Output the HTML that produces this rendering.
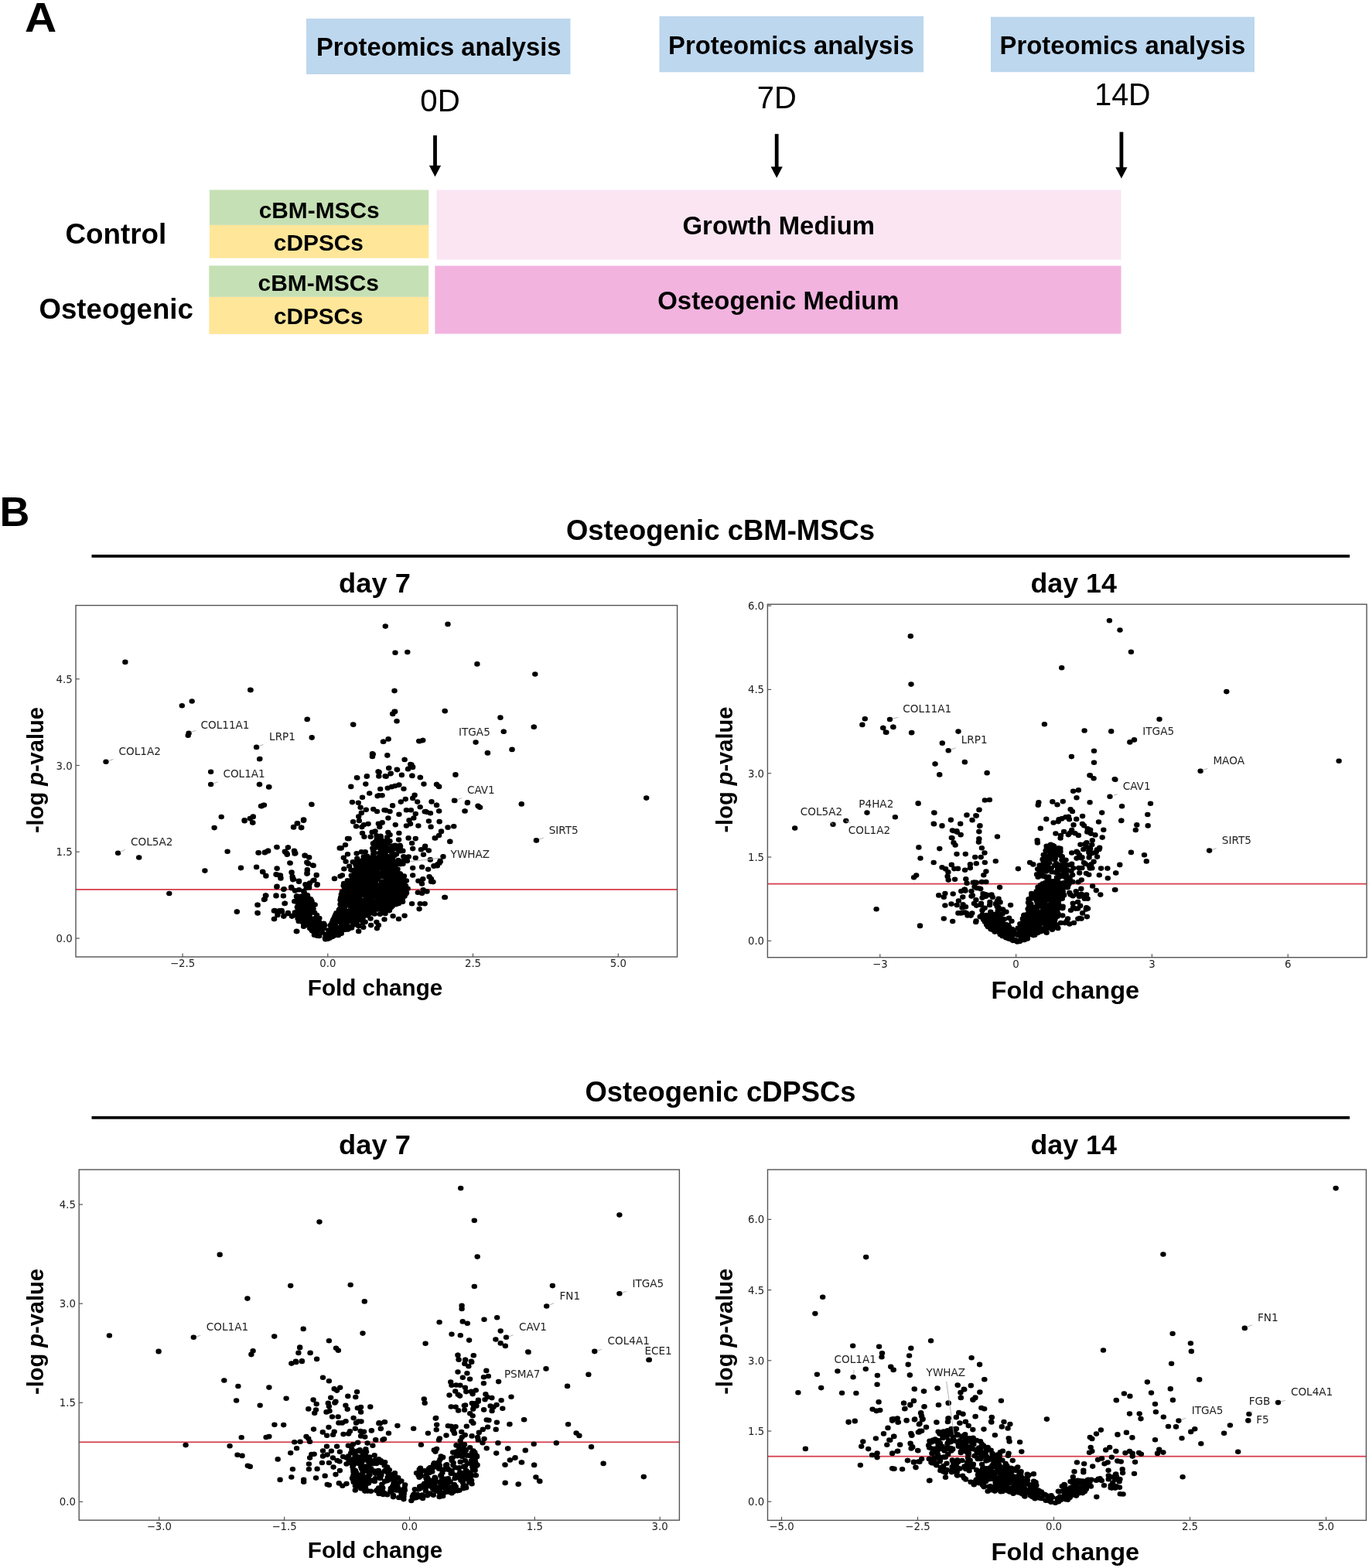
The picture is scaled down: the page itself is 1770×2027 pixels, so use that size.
<!DOCTYPE html>
<html><head><meta charset="utf-8"><title>Figure</title>
<style>html,body{margin:0;padding:0;background:#fff;}svg{display:block;}</style>
</head><body>
<svg width="1770" height="2027" viewBox="0 0 1770 2027">
<rect x="0" y="0" width="1770" height="2027" fill="#fff"/>
<text x="32.1" y="41.4" font-family="'Liberation Sans', Arial, sans-serif" font-size="54" font-weight="bold" text-anchor="start" fill="#000" textLength="41.22" lengthAdjust="spacingAndGlyphs">A</text>
<rect x="396" y="24" width="341.5" height="72.0" fill="#bdd7ee"/>
<rect x="852.5" y="21" width="341.5" height="72.3" fill="#bdd7ee"/>
<rect x="1281" y="21.8" width="341.0" height="71.4" fill="#bdd7ee"/>
<text x="409.0" y="72.2" font-family="'Liberation Sans', Arial, sans-serif" font-size="33" font-weight="bold" text-anchor="start" fill="#000" textLength="316.51" lengthAdjust="spacingAndGlyphs">Proteomics analysis</text>
<text x="864.0" y="69.5" font-family="'Liberation Sans', Arial, sans-serif" font-size="33" font-weight="bold" text-anchor="start" fill="#000" textLength="317.66" lengthAdjust="spacingAndGlyphs">Proteomics analysis</text>
<text x="1292.5" y="70.0" font-family="'Liberation Sans', Arial, sans-serif" font-size="33" font-weight="bold" text-anchor="start" fill="#000" textLength="317.66" lengthAdjust="spacingAndGlyphs">Proteomics analysis</text>
<text x="543.3" y="144.2" font-family="'Liberation Sans', Arial, sans-serif" font-size="40" text-anchor="start" fill="#000" textLength="51.43" lengthAdjust="spacingAndGlyphs">0D</text>
<text x="978.8" y="139.9" font-family="'Liberation Sans', Arial, sans-serif" font-size="40" text-anchor="start" fill="#000" textLength="51.03" lengthAdjust="spacingAndGlyphs">7D</text>
<text x="1415.3" y="135.6" font-family="'Liberation Sans', Arial, sans-serif" font-size="40" text-anchor="start" fill="#000" textLength="72.28" lengthAdjust="spacingAndGlyphs">14D</text>
<rect x="560.1" y="175" width="4.8" height="40.5" fill="#000"/>
<path d="M554.9,214.0 L570.1,214.0 L562.5,228.5 Z" fill="#000"/>
<rect x="1001.8" y="173.2" width="4.8" height="43.8" fill="#000"/>
<path d="M996.6,215.5 L1011.8,215.5 L1004.2,230.0 Z" fill="#000"/>
<rect x="1447.5" y="170.6" width="4.8" height="47.1" fill="#000"/>
<path d="M1442.3,216.2 L1457.5,216.2 L1449.9,230.7 Z" fill="#000"/>
<rect x="270.9" y="245.5" width="283.4" height="45.4" fill="#c5e0b4"/>
<rect x="270.9" y="290.9" width="283.4" height="42.8" fill="#ffe699"/>
<rect x="270.3" y="343.4" width="283.7" height="40.5" fill="#c5e0b4"/>
<rect x="270.3" y="383.9" width="283.7" height="48.0" fill="#ffe699"/>
<rect x="564.6" y="245.5" width="884.9" height="90.2" fill="#fbe5f3"/>
<rect x="562.4" y="343.6" width="887.1" height="87.9" fill="#f2b3df"/>
<text x="84.5" y="315.3" font-family="'Liberation Sans', Arial, sans-serif" font-size="36" font-weight="bold" text-anchor="start" fill="#000" textLength="130.82" lengthAdjust="spacingAndGlyphs">Control</text>
<text x="50.5" y="412.0" font-family="'Liberation Sans', Arial, sans-serif" font-size="36" font-weight="bold" text-anchor="start" fill="#000" textLength="199.35" lengthAdjust="spacingAndGlyphs">Osteogenic</text>
<text x="334.7" y="281.7" font-family="'Liberation Sans', Arial, sans-serif" font-size="29.5" font-weight="bold" text-anchor="start" fill="#000" textLength="156.02" lengthAdjust="spacingAndGlyphs">cBM-MSCs</text>
<text x="353.8" y="323.7" font-family="'Liberation Sans', Arial, sans-serif" font-size="29.5" font-weight="bold" text-anchor="start" fill="#000" textLength="116.17" lengthAdjust="spacingAndGlyphs">cDPSCs</text>
<text x="333.5" y="375.6" font-family="'Liberation Sans', Arial, sans-serif" font-size="29.5" font-weight="bold" text-anchor="start" fill="#000" textLength="156.42" lengthAdjust="spacingAndGlyphs">cBM-MSCs</text>
<text x="354.1" y="419.0" font-family="'Liberation Sans', Arial, sans-serif" font-size="29.5" font-weight="bold" text-anchor="start" fill="#000" textLength="115.42" lengthAdjust="spacingAndGlyphs">cDPSCs</text>
<text x="882.5" y="303.4" font-family="'Liberation Sans', Arial, sans-serif" font-size="33" font-weight="bold" text-anchor="start" fill="#000" textLength="248.47" lengthAdjust="spacingAndGlyphs">Growth Medium</text>
<text x="850.3" y="400.4" font-family="'Liberation Sans', Arial, sans-serif" font-size="33" font-weight="bold" text-anchor="start" fill="#000" textLength="312.3" lengthAdjust="spacingAndGlyphs">Osteogenic Medium</text>
<text x="-0.5" y="679.5" font-family="'Liberation Sans', Arial, sans-serif" font-size="54" font-weight="bold" text-anchor="start" fill="#000" textLength="38.88" lengthAdjust="spacingAndGlyphs">B</text>
<text x="731.9" y="698.0" font-family="'Liberation Sans', Arial, sans-serif" font-size="36.2" font-weight="bold" text-anchor="start" fill="#000" textLength="399.26" lengthAdjust="spacingAndGlyphs">Osteogenic cBM-MSCs</text>
<rect x="118.5" y="717.0" width="1626.5" height="3.8" fill="#000"/>
<text x="756.5" y="1423.8" font-family="'Liberation Sans', Arial, sans-serif" font-size="36.2" font-weight="bold" text-anchor="start" fill="#000" textLength="350.04" lengthAdjust="spacingAndGlyphs">Osteogenic cDPSCs</text>
<rect x="118.5" y="1443.0" width="1626.5" height="3.7" fill="#000"/>
<text x="438.1" y="766.0" font-family="'Liberation Sans', Arial, sans-serif" font-size="35" font-weight="bold" text-anchor="start" fill="#000" textLength="92.7" lengthAdjust="spacingAndGlyphs">day 7</text>
<text x="1332.5" y="766.0" font-family="'Liberation Sans', Arial, sans-serif" font-size="35" font-weight="bold" text-anchor="start" fill="#000" textLength="111.32" lengthAdjust="spacingAndGlyphs">day 14</text>
<text x="438.1" y="1492.0" font-family="'Liberation Sans', Arial, sans-serif" font-size="35" font-weight="bold" text-anchor="start" fill="#000" textLength="92.7" lengthAdjust="spacingAndGlyphs">day 7</text>
<text x="1332.5" y="1492.0" font-family="'Liberation Sans', Arial, sans-serif" font-size="35" font-weight="bold" text-anchor="start" fill="#000" textLength="111.32" lengthAdjust="spacingAndGlyphs">day 14</text>
<rect x="98" y="1149.0" width="777.6" height="1.8" fill="#d6404f"/>
<path fill="#000" d="M158.2,855.9a3.7,3.3 0 1,0 7.4,0a3.7,3.3 0 1,0 -7.4,0M320.4,892.1a3.7,3.3 0 1,0 7.4,0a3.7,3.3 0 1,0 -7.4,0M231.6,912.2a3.7,3.3 0 1,0 7.4,0a3.7,3.3 0 1,0 -7.4,0M244.5,906.5a3.7,3.3 0 1,0 7.4,0a3.7,3.3 0 1,0 -7.4,0M393.4,930.0a3.7,3.3 0 1,0 7.4,0a3.7,3.3 0 1,0 -7.4,0M453.1,936.8a3.7,3.3 0 1,0 7.4,0a3.7,3.3 0 1,0 -7.4,0M240.4,947.9a3.7,3.3 0 1,0 7.4,0a3.7,3.3 0 1,0 -7.4,0M239.5,950.8a3.7,3.3 0 1,0 7.4,0a3.7,3.3 0 1,0 -7.4,0M399.5,953.3a3.7,3.3 0 1,0 7.4,0a3.7,3.3 0 1,0 -7.4,0M327.9,966.0a3.7,3.3 0 1,0 7.4,0a3.7,3.3 0 1,0 -7.4,0M332.2,981.1a3.7,3.3 0 1,0 7.4,0a3.7,3.3 0 1,0 -7.4,0M133.3,984.7a3.7,3.3 0 1,0 7.4,0a3.7,3.3 0 1,0 -7.4,0M477.7,975.0a3.7,3.3 0 1,0 7.4,0a3.7,3.3 0 1,0 -7.4,0M477.7,978.0a3.7,3.3 0 1,0 7.4,0a3.7,3.3 0 1,0 -7.4,0M268.9,997.8a3.7,3.3 0 1,0 7.4,0a3.7,3.3 0 1,0 -7.4,0M458.1,1005.5a3.7,3.3 0 1,0 7.4,0a3.7,3.3 0 1,0 -7.4,0M470.5,1003.7a3.7,3.3 0 1,0 7.4,0a3.7,3.3 0 1,0 -7.4,0M494.6,809.6a3.7,3.3 0 1,0 7.4,0a3.7,3.3 0 1,0 -7.4,0M575.3,806.9a3.7,3.3 0 1,0 7.4,0a3.7,3.3 0 1,0 -7.4,0M507.3,843.7a3.7,3.3 0 1,0 7.4,0a3.7,3.3 0 1,0 -7.4,0M523.1,843.0a3.7,3.3 0 1,0 7.4,0a3.7,3.3 0 1,0 -7.4,0M613.2,858.4a3.7,3.3 0 1,0 7.4,0a3.7,3.3 0 1,0 -7.4,0M688.1,871.5a3.7,3.3 0 1,0 7.4,0a3.7,3.3 0 1,0 -7.4,0M506.4,893.0a3.7,3.3 0 1,0 7.4,0a3.7,3.3 0 1,0 -7.4,0M506.4,919.9a3.7,3.3 0 1,0 7.4,0a3.7,3.3 0 1,0 -7.4,0M504.1,923.0a3.7,3.3 0 1,0 7.4,0a3.7,3.3 0 1,0 -7.4,0M509.3,932.3a3.7,3.3 0 1,0 7.4,0a3.7,3.3 0 1,0 -7.4,0M571.4,919.0a3.7,3.3 0 1,0 7.4,0a3.7,3.3 0 1,0 -7.4,0M643.3,927.8a3.7,3.3 0 1,0 7.4,0a3.7,3.3 0 1,0 -7.4,0M686.5,939.7a3.7,3.3 0 1,0 7.4,0a3.7,3.3 0 1,0 -7.4,0M647.6,945.8a3.7,3.3 0 1,0 7.4,0a3.7,3.3 0 1,0 -7.4,0M611.4,959.6a3.7,3.3 0 1,0 7.4,0a3.7,3.3 0 1,0 -7.4,0M626.8,973.4a3.7,3.3 0 1,0 7.4,0a3.7,3.3 0 1,0 -7.4,0M658.4,968.9a3.7,3.3 0 1,0 7.4,0a3.7,3.3 0 1,0 -7.4,0M498.4,955.3a3.7,3.3 0 1,0 7.4,0a3.7,3.3 0 1,0 -7.4,0M491.7,958.7a3.7,3.3 0 1,0 7.4,0a3.7,3.3 0 1,0 -7.4,0M538.0,958.0a3.7,3.3 0 1,0 7.4,0a3.7,3.3 0 1,0 -7.4,0M543.0,957.1a3.7,3.3 0 1,0 7.4,0a3.7,3.3 0 1,0 -7.4,0M478.6,975.0a3.7,3.3 0 1,0 7.4,0a3.7,3.3 0 1,0 -7.4,0M497.1,976.4a3.7,3.3 0 1,0 7.4,0a3.7,3.3 0 1,0 -7.4,0M519.5,982.0a3.7,3.3 0 1,0 7.4,0a3.7,3.3 0 1,0 -7.4,0M528.3,988.6a3.7,3.3 0 1,0 7.4,0a3.7,3.3 0 1,0 -7.4,0M529.9,992.0a3.7,3.3 0 1,0 7.4,0a3.7,3.3 0 1,0 -7.4,0M498.9,993.1a3.7,3.3 0 1,0 7.4,0a3.7,3.3 0 1,0 -7.4,0M509.5,994.7a3.7,3.3 0 1,0 7.4,0a3.7,3.3 0 1,0 -7.4,0M523.8,994.2a3.7,3.3 0 1,0 7.4,0a3.7,3.3 0 1,0 -7.4,0M585.2,1001.4a3.7,3.3 0 1,0 7.4,0a3.7,3.3 0 1,0 -7.4,0M529.0,1002.8a3.7,3.3 0 1,0 7.4,0a3.7,3.3 0 1,0 -7.4,0M539.8,1005.0a3.7,3.3 0 1,0 7.4,0a3.7,3.3 0 1,0 -7.4,0M485.3,997.6a3.7,3.3 0 1,0 7.4,0a3.7,3.3 0 1,0 -7.4,0M501.2,1000.3a3.7,3.3 0 1,0 7.4,0a3.7,3.3 0 1,0 -7.4,0M495.5,1003.7a3.7,3.3 0 1,0 7.4,0a3.7,3.3 0 1,0 -7.4,0M268.9,1014.0a3.7,3.3 0 1,0 7.4,0a3.7,3.3 0 1,0 -7.4,0M331.7,1014.0a3.7,3.3 0 1,0 7.4,0a3.7,3.3 0 1,0 -7.4,0M343.9,1017.4a3.7,3.3 0 1,0 7.4,0a3.7,3.3 0 1,0 -7.4,0M334.4,1042.3a3.7,3.3 0 1,0 7.4,0a3.7,3.3 0 1,0 -7.4,0M337.8,1040.7a3.7,3.3 0 1,0 7.4,0a3.7,3.3 0 1,0 -7.4,0M282.5,1056.0a3.7,3.3 0 1,0 7.4,0a3.7,3.3 0 1,0 -7.4,0M312.3,1060.6a3.7,3.3 0 1,0 7.4,0a3.7,3.3 0 1,0 -7.4,0M319.7,1058.3a3.7,3.3 0 1,0 7.4,0a3.7,3.3 0 1,0 -7.4,0M323.6,1056.0a3.7,3.3 0 1,0 7.4,0a3.7,3.3 0 1,0 -7.4,0M322.9,1063.5a3.7,3.3 0 1,0 7.4,0a3.7,3.3 0 1,0 -7.4,0M273.4,1070.1a3.7,3.3 0 1,0 7.4,0a3.7,3.3 0 1,0 -7.4,0M376.0,1069.4a3.7,3.3 0 1,0 7.4,0a3.7,3.3 0 1,0 -7.4,0M380.5,1064.4a3.7,3.3 0 1,0 7.4,0a3.7,3.3 0 1,0 -7.4,0M385.7,1070.1a3.7,3.3 0 1,0 7.4,0a3.7,3.3 0 1,0 -7.4,0M389.1,1059.9a3.7,3.3 0 1,0 7.4,0a3.7,3.3 0 1,0 -7.4,0M148.9,1102.8a3.7,3.3 0 1,0 7.4,0a3.7,3.3 0 1,0 -7.4,0M176.0,1108.5a3.7,3.3 0 1,0 7.4,0a3.7,3.3 0 1,0 -7.4,0M290.4,1100.8a3.7,3.3 0 1,0 7.4,0a3.7,3.3 0 1,0 -7.4,0M330.4,1102.4a3.7,3.3 0 1,0 7.4,0a3.7,3.3 0 1,0 -7.4,0M338.7,1101.7a3.7,3.3 0 1,0 7.4,0a3.7,3.3 0 1,0 -7.4,0M342.8,1099.9a3.7,3.3 0 1,0 7.4,0a3.7,3.3 0 1,0 -7.4,0M354.1,1095.1a3.7,3.3 0 1,0 7.4,0a3.7,3.3 0 1,0 -7.4,0M368.8,1095.6a3.7,3.3 0 1,0 7.4,0a3.7,3.3 0 1,0 -7.4,0M365.8,1102.1a3.7,3.3 0 1,0 7.4,0a3.7,3.3 0 1,0 -7.4,0M367.7,1104.4a3.7,3.3 0 1,0 7.4,0a3.7,3.3 0 1,0 -7.4,0M376.7,1099.9a3.7,3.3 0 1,0 7.4,0a3.7,3.3 0 1,0 -7.4,0M377.8,1103.5a3.7,3.3 0 1,0 7.4,0a3.7,3.3 0 1,0 -7.4,0M390.3,1105.8a3.7,3.3 0 1,0 7.4,0a3.7,3.3 0 1,0 -7.4,0M371.5,1115.7a3.7,3.3 0 1,0 7.4,0a3.7,3.3 0 1,0 -7.4,0M394.8,1116.4a3.7,3.3 0 1,0 7.4,0a3.7,3.3 0 1,0 -7.4,0M261.2,1125.6a3.7,3.3 0 1,0 7.4,0a3.7,3.3 0 1,0 -7.4,0M307.8,1122.0a3.7,3.3 0 1,0 7.4,0a3.7,3.3 0 1,0 -7.4,0M327.9,1120.9a3.7,3.3 0 1,0 7.4,0a3.7,3.3 0 1,0 -7.4,0M336.0,1127.2a3.7,3.3 0 1,0 7.4,0a3.7,3.3 0 1,0 -7.4,0M340.1,1132.2a3.7,3.3 0 1,0 7.4,0a3.7,3.3 0 1,0 -7.4,0M354.5,1122.7a3.7,3.3 0 1,0 7.4,0a3.7,3.3 0 1,0 -7.4,0M353.6,1130.4a3.7,3.3 0 1,0 7.4,0a3.7,3.3 0 1,0 -7.4,0M357.5,1131.5a3.7,3.3 0 1,0 7.4,0a3.7,3.3 0 1,0 -7.4,0M359.3,1135.1a3.7,3.3 0 1,0 7.4,0a3.7,3.3 0 1,0 -7.4,0M373.3,1127.7a3.7,3.3 0 1,0 7.4,0a3.7,3.3 0 1,0 -7.4,0M374.4,1133.3a3.7,3.3 0 1,0 7.4,0a3.7,3.3 0 1,0 -7.4,0M376.0,1136.7a3.7,3.3 0 1,0 7.4,0a3.7,3.3 0 1,0 -7.4,0M382.8,1139.7a3.7,3.3 0 1,0 7.4,0a3.7,3.3 0 1,0 -7.4,0M393.6,1124.3a3.7,3.3 0 1,0 7.4,0a3.7,3.3 0 1,0 -7.4,0M393.2,1128.8a3.7,3.3 0 1,0 7.4,0a3.7,3.3 0 1,0 -7.4,0M392.5,1148.0a3.7,3.3 0 1,0 7.4,0a3.7,3.3 0 1,0 -7.4,0M354.1,1146.4a3.7,3.3 0 1,0 7.4,0a3.7,3.3 0 1,0 -7.4,0M363.1,1149.6a3.7,3.3 0 1,0 7.4,0a3.7,3.3 0 1,0 -7.4,0M372.9,1146.9a3.7,3.3 0 1,0 7.4,0a3.7,3.3 0 1,0 -7.4,0M215.1,1155.0a3.7,3.3 0 1,0 7.4,0a3.7,3.3 0 1,0 -7.4,0M339.9,1157.5a3.7,3.3 0 1,0 7.4,0a3.7,3.3 0 1,0 -7.4,0M338.3,1162.3a3.7,3.3 0 1,0 7.4,0a3.7,3.3 0 1,0 -7.4,0M353.4,1158.2a3.7,3.3 0 1,0 7.4,0a3.7,3.3 0 1,0 -7.4,0M362.7,1158.2a3.7,3.3 0 1,0 7.4,0a3.7,3.3 0 1,0 -7.4,0M364.7,1167.7a3.7,3.3 0 1,0 7.4,0a3.7,3.3 0 1,0 -7.4,0M380.1,1158.2a3.7,3.3 0 1,0 7.4,0a3.7,3.3 0 1,0 -7.4,0M377.4,1165.0a3.7,3.3 0 1,0 7.4,0a3.7,3.3 0 1,0 -7.4,0M329.2,1169.7a3.7,3.3 0 1,0 7.4,0a3.7,3.3 0 1,0 -7.4,0M302.6,1178.8a3.7,3.3 0 1,0 7.4,0a3.7,3.3 0 1,0 -7.4,0M329.2,1180.1a3.7,3.3 0 1,0 7.4,0a3.7,3.3 0 1,0 -7.4,0M350.7,1177.4a3.7,3.3 0 1,0 7.4,0a3.7,3.3 0 1,0 -7.4,0M357.5,1177.4a3.7,3.3 0 1,0 7.4,0a3.7,3.3 0 1,0 -7.4,0M360.9,1178.5a3.7,3.3 0 1,0 7.4,0a3.7,3.3 0 1,0 -7.4,0M355.2,1181.9a3.7,3.3 0 1,0 7.4,0a3.7,3.3 0 1,0 -7.4,0M350.7,1188.0a3.7,3.3 0 1,0 7.4,0a3.7,3.3 0 1,0 -7.4,0M363.1,1184.6a3.7,3.3 0 1,0 7.4,0a3.7,3.3 0 1,0 -7.4,0M368.8,1180.1a3.7,3.3 0 1,0 7.4,0a3.7,3.3 0 1,0 -7.4,0M373.8,1184.2a3.7,3.3 0 1,0 7.4,0a3.7,3.3 0 1,0 -7.4,0M379.6,1204.1a3.7,3.3 0 1,0 7.4,0a3.7,3.3 0 1,0 -7.4,0M399.3,1040.0a3.7,3.3 0 1,0 7.4,0a3.7,3.3 0 1,0 -7.4,0M320.0,891.9a3.7,3.3 0 1,0 7.4,0a3.7,3.3 0 1,0 -7.4,0M506.3,893.1a3.7,3.3 0 1,0 7.4,0a3.7,3.3 0 1,0 -7.4,0M571.6,919.2a3.7,3.3 0 1,0 7.4,0a3.7,3.3 0 1,0 -7.4,0M643.2,927.5a3.7,3.3 0 1,0 7.4,0a3.7,3.3 0 1,0 -7.4,0M686.7,939.8a3.7,3.3 0 1,0 7.4,0a3.7,3.3 0 1,0 -7.4,0M647.5,945.7a3.7,3.3 0 1,0 7.4,0a3.7,3.3 0 1,0 -7.4,0M503.9,922.7a3.7,3.3 0 1,0 7.4,0a3.7,3.3 0 1,0 -7.4,0M507.0,919.9a3.7,3.3 0 1,0 7.4,0a3.7,3.3 0 1,0 -7.4,0M509.4,932.2a3.7,3.3 0 1,0 7.4,0a3.7,3.3 0 1,0 -7.4,0M393.6,929.8a3.7,3.3 0 1,0 7.4,0a3.7,3.3 0 1,0 -7.4,0M452.9,936.5a3.7,3.3 0 1,0 7.4,0a3.7,3.3 0 1,0 -7.4,0M399.5,953.6a3.7,3.3 0 1,0 7.4,0a3.7,3.3 0 1,0 -7.4,0M611.4,959.5a3.7,3.3 0 1,0 7.4,0a3.7,3.3 0 1,0 -7.4,0M626.6,973.3a3.7,3.3 0 1,0 7.4,0a3.7,3.3 0 1,0 -7.4,0M658.2,969.0a3.7,3.3 0 1,0 7.4,0a3.7,3.3 0 1,0 -7.4,0M492.1,958.8a3.7,3.3 0 1,0 7.4,0a3.7,3.3 0 1,0 -7.4,0M498.5,955.5a3.7,3.3 0 1,0 7.4,0a3.7,3.3 0 1,0 -7.4,0M538.4,958.3a3.7,3.3 0 1,0 7.4,0a3.7,3.3 0 1,0 -7.4,0M543.1,957.1a3.7,3.3 0 1,0 7.4,0a3.7,3.3 0 1,0 -7.4,0M327.9,965.9a3.7,3.3 0 1,0 7.4,0a3.7,3.3 0 1,0 -7.4,0M331.9,981.3a3.7,3.3 0 1,0 7.4,0a3.7,3.3 0 1,0 -7.4,0M477.8,974.4a3.7,3.3 0 1,0 7.4,0a3.7,3.3 0 1,0 -7.4,0M477.8,978.0a3.7,3.3 0 1,0 7.4,0a3.7,3.3 0 1,0 -7.4,0M497.1,976.6a3.7,3.3 0 1,0 7.4,0a3.7,3.3 0 1,0 -7.4,0M519.4,982.0a3.7,3.3 0 1,0 7.4,0a3.7,3.3 0 1,0 -7.4,0M527.0,988.0a3.7,3.3 0 1,0 7.4,0a3.7,3.3 0 1,0 -7.4,0M530.0,991.5a3.7,3.3 0 1,0 7.4,0a3.7,3.3 0 1,0 -7.4,0M524.1,993.9a3.7,3.3 0 1,0 7.4,0a3.7,3.3 0 1,0 -7.4,0M509.9,995.1a3.7,3.3 0 1,0 7.4,0a3.7,3.3 0 1,0 -7.4,0M499.2,992.7a3.7,3.3 0 1,0 7.4,0a3.7,3.3 0 1,0 -7.4,0M485.4,997.5a3.7,3.3 0 1,0 7.4,0a3.7,3.3 0 1,0 -7.4,0M486.1,1003.4a3.7,3.3 0 1,0 7.4,0a3.7,3.3 0 1,0 -7.4,0M494.4,1003.4a3.7,3.3 0 1,0 7.4,0a3.7,3.3 0 1,0 -7.4,0M501.6,999.8a3.7,3.3 0 1,0 7.4,0a3.7,3.3 0 1,0 -7.4,0M470.7,1003.4a3.7,3.3 0 1,0 7.4,0a3.7,3.3 0 1,0 -7.4,0M457.7,1005.3a3.7,3.3 0 1,0 7.4,0a3.7,3.3 0 1,0 -7.4,0M469.1,1013.6a3.7,3.3 0 1,0 7.4,0a3.7,3.3 0 1,0 -7.4,0M450.1,1016.9a3.7,3.3 0 1,0 7.4,0a3.7,3.3 0 1,0 -7.4,0M585.3,1001.5a3.7,3.3 0 1,0 7.4,0a3.7,3.3 0 1,0 -7.4,0M529.3,1002.9a3.7,3.3 0 1,0 7.4,0a3.7,3.3 0 1,0 -7.4,0M539.5,1005.1a3.7,3.3 0 1,0 7.4,0a3.7,3.3 0 1,0 -7.4,0M544.3,1013.6a3.7,3.3 0 1,0 7.4,0a3.7,3.3 0 1,0 -7.4,0M560.9,1014.1a3.7,3.3 0 1,0 7.4,0a3.7,3.3 0 1,0 -7.4,0M564.0,1016.9a3.7,3.3 0 1,0 7.4,0a3.7,3.3 0 1,0 -7.4,0M488.0,1020.0a3.7,3.3 0 1,0 7.4,0a3.7,3.3 0 1,0 -7.4,0M497.5,1018.8a3.7,3.3 0 1,0 7.4,0a3.7,3.3 0 1,0 -7.4,0M507.0,1016.0a3.7,3.3 0 1,0 7.4,0a3.7,3.3 0 1,0 -7.4,0M512.2,1014.6a3.7,3.3 0 1,0 7.4,0a3.7,3.3 0 1,0 -7.4,0M486.1,1028.3a3.7,3.3 0 1,0 7.4,0a3.7,3.3 0 1,0 -7.4,0M490.4,1028.3a3.7,3.3 0 1,0 7.4,0a3.7,3.3 0 1,0 -7.4,0M464.8,1030.7a3.7,3.3 0 1,0 7.4,0a3.7,3.3 0 1,0 -7.4,0M331.9,1014.1a3.7,3.3 0 1,0 7.4,0a3.7,3.3 0 1,0 -7.4,0M344.2,1017.2a3.7,3.3 0 1,0 7.4,0a3.7,3.3 0 1,0 -7.4,0M399.1,1039.7a3.7,3.3 0 1,0 7.4,0a3.7,3.3 0 1,0 -7.4,0M333.8,1042.1a3.7,3.3 0 1,0 7.4,0a3.7,3.3 0 1,0 -7.4,0M337.1,1040.7a3.7,3.3 0 1,0 7.4,0a3.7,3.3 0 1,0 -7.4,0M312.4,1060.4a3.7,3.3 0 1,0 7.4,0a3.7,3.3 0 1,0 -7.4,0M319.6,1058.0a3.7,3.3 0 1,0 7.4,0a3.7,3.3 0 1,0 -7.4,0M323.6,1055.6a3.7,3.3 0 1,0 7.4,0a3.7,3.3 0 1,0 -7.4,0M322.9,1063.2a3.7,3.3 0 1,0 7.4,0a3.7,3.3 0 1,0 -7.4,0M375.8,1069.1a3.7,3.3 0 1,0 7.4,0a3.7,3.3 0 1,0 -7.4,0M381.0,1064.4a3.7,3.3 0 1,0 7.4,0a3.7,3.3 0 1,0 -7.4,0M386.0,1069.8a3.7,3.3 0 1,0 7.4,0a3.7,3.3 0 1,0 -7.4,0M388.8,1059.6a3.7,3.3 0 1,0 7.4,0a3.7,3.3 0 1,0 -7.4,0M584.2,1035.0a3.7,3.3 0 1,0 7.4,0a3.7,3.3 0 1,0 -7.4,0M600.8,1037.3a3.7,3.3 0 1,0 7.4,0a3.7,3.3 0 1,0 -7.4,0M597.2,1048.5a3.7,3.3 0 1,0 7.4,0a3.7,3.3 0 1,0 -7.4,0M614.3,1041.8a3.7,3.3 0 1,0 7.4,0a3.7,3.3 0 1,0 -7.4,0M616.7,1043.7a3.7,3.3 0 1,0 7.4,0a3.7,3.3 0 1,0 -7.4,0M670.5,1039.5a3.7,3.3 0 1,0 7.4,0a3.7,3.3 0 1,0 -7.4,0M689.8,1086.5a3.7,3.3 0 1,0 7.4,0a3.7,3.3 0 1,0 -7.4,0M560.9,1040.9a3.7,3.3 0 1,0 7.4,0a3.7,3.3 0 1,0 -7.4,0M564.0,1048.5a3.7,3.3 0 1,0 7.4,0a3.7,3.3 0 1,0 -7.4,0M550.7,1061.5a3.7,3.3 0 1,0 7.4,0a3.7,3.3 0 1,0 -7.4,0M564.5,1062.2a3.7,3.3 0 1,0 7.4,0a3.7,3.3 0 1,0 -7.4,0M575.4,1069.8a3.7,3.3 0 1,0 7.4,0a3.7,3.3 0 1,0 -7.4,0M583.0,1068.2a3.7,3.3 0 1,0 7.4,0a3.7,3.3 0 1,0 -7.4,0M566.8,1075.1a3.7,3.3 0 1,0 7.4,0a3.7,3.3 0 1,0 -7.4,0M558.5,1083.4a3.7,3.3 0 1,0 7.4,0a3.7,3.3 0 1,0 -7.4,0M578.2,1087.9a3.7,3.3 0 1,0 7.4,0a3.7,3.3 0 1,0 -7.4,0M545.5,1049.2a3.7,3.3 0 1,0 7.4,0a3.7,3.3 0 1,0 -7.4,0M547.8,1049.7a3.7,3.3 0 1,0 7.4,0a3.7,3.3 0 1,0 -7.4,0M307.7,1122.1a3.7,3.3 0 1,0 7.4,0a3.7,3.3 0 1,0 -7.4,0M327.9,1120.9a3.7,3.3 0 1,0 7.4,0a3.7,3.3 0 1,0 -7.4,0M330.7,1102.4a3.7,3.3 0 1,0 7.4,0a3.7,3.3 0 1,0 -7.4,0M339.0,1101.9a3.7,3.3 0 1,0 7.4,0a3.7,3.3 0 1,0 -7.4,0M343.0,1100.2a3.7,3.3 0 1,0 7.4,0a3.7,3.3 0 1,0 -7.4,0M354.4,1095.2a3.7,3.3 0 1,0 7.4,0a3.7,3.3 0 1,0 -7.4,0M368.7,1095.5a3.7,3.3 0 1,0 7.4,0a3.7,3.3 0 1,0 -7.4,0M377.0,1100.7a3.7,3.3 0 1,0 7.4,0a3.7,3.3 0 1,0 -7.4,0M378.2,1103.1a3.7,3.3 0 1,0 7.4,0a3.7,3.3 0 1,0 -7.4,0M367.0,1103.1a3.7,3.3 0 1,0 7.4,0a3.7,3.3 0 1,0 -7.4,0M364.6,1100.7a3.7,3.3 0 1,0 7.4,0a3.7,3.3 0 1,0 -7.4,0M371.1,1115.6a3.7,3.3 0 1,0 7.4,0a3.7,3.3 0 1,0 -7.4,0M390.7,1105.9a3.7,3.3 0 1,0 7.4,0a3.7,3.3 0 1,0 -7.4,0M396.0,1108.3a3.7,3.3 0 1,0 7.4,0a3.7,3.3 0 1,0 -7.4,0M393.1,1114.9a3.7,3.3 0 1,0 7.4,0a3.7,3.3 0 1,0 -7.4,0M400.7,1118.5a3.7,3.3 0 1,0 7.4,0a3.7,3.3 0 1,0 -7.4,0M335.9,1126.8a3.7,3.3 0 1,0 7.4,0a3.7,3.3 0 1,0 -7.4,0M340.2,1132.0a3.7,3.3 0 1,0 7.4,0a3.7,3.3 0 1,0 -7.4,0M354.4,1122.5a3.7,3.3 0 1,0 7.4,0a3.7,3.3 0 1,0 -7.4,0M353.3,1130.4a3.7,3.3 0 1,0 7.4,0a3.7,3.3 0 1,0 -7.4,0M359.2,1135.1a3.7,3.3 0 1,0 7.4,0a3.7,3.3 0 1,0 -7.4,0M373.4,1128.0a3.7,3.3 0 1,0 7.4,0a3.7,3.3 0 1,0 -7.4,0M374.6,1135.1a3.7,3.3 0 1,0 7.4,0a3.7,3.3 0 1,0 -7.4,0M382.9,1138.7a3.7,3.3 0 1,0 7.4,0a3.7,3.3 0 1,0 -7.4,0M393.6,1124.4a3.7,3.3 0 1,0 7.4,0a3.7,3.3 0 1,0 -7.4,0M393.6,1129.2a3.7,3.3 0 1,0 7.4,0a3.7,3.3 0 1,0 -7.4,0M405.5,1131.1a3.7,3.3 0 1,0 7.4,0a3.7,3.3 0 1,0 -7.4,0M401.2,1138.2a3.7,3.3 0 1,0 7.4,0a3.7,3.3 0 1,0 -7.4,0M406.6,1143.4a3.7,3.3 0 1,0 7.4,0a3.7,3.3 0 1,0 -7.4,0M396.0,1143.4a3.7,3.3 0 1,0 7.4,0a3.7,3.3 0 1,0 -7.4,0M391.2,1143.4a3.7,3.3 0 1,0 7.4,0a3.7,3.3 0 1,0 -7.4,0M354.4,1145.8a3.7,3.3 0 1,0 7.4,0a3.7,3.3 0 1,0 -7.4,0M363.5,1149.3a3.7,3.3 0 1,0 7.4,0a3.7,3.3 0 1,0 -7.4,0M373.4,1148.2a3.7,3.3 0 1,0 7.4,0a3.7,3.3 0 1,0 -7.4,0M353.3,1157.6a3.7,3.3 0 1,0 7.4,0a3.7,3.3 0 1,0 -7.4,0M362.7,1158.1a3.7,3.3 0 1,0 7.4,0a3.7,3.3 0 1,0 -7.4,0M339.7,1157.6a3.7,3.3 0 1,0 7.4,0a3.7,3.3 0 1,0 -7.4,0M337.8,1162.9a3.7,3.3 0 1,0 7.4,0a3.7,3.3 0 1,0 -7.4,0M329.5,1170.0a3.7,3.3 0 1,0 7.4,0a3.7,3.3 0 1,0 -7.4,0M302.7,1178.5a3.7,3.3 0 1,0 7.4,0a3.7,3.3 0 1,0 -7.4,0M329.5,1180.4a3.7,3.3 0 1,0 7.4,0a3.7,3.3 0 1,0 -7.4,0M350.9,1188.0a3.7,3.3 0 1,0 7.4,0a3.7,3.3 0 1,0 -7.4,0M351.4,1177.1a3.7,3.3 0 1,0 7.4,0a3.7,3.3 0 1,0 -7.4,0M360.4,1177.1a3.7,3.3 0 1,0 7.4,0a3.7,3.3 0 1,0 -7.4,0M363.5,1183.7a3.7,3.3 0 1,0 7.4,0a3.7,3.3 0 1,0 -7.4,0M368.7,1180.9a3.7,3.3 0 1,0 7.4,0a3.7,3.3 0 1,0 -7.4,0M374.6,1183.7a3.7,3.3 0 1,0 7.4,0a3.7,3.3 0 1,0 -7.4,0M364.6,1167.9a3.7,3.3 0 1,0 7.4,0a3.7,3.3 0 1,0 -7.4,0M379.8,1203.9a3.7,3.3 0 1,0 7.4,0a3.7,3.3 0 1,0 -7.4,0M428.7,1135.8a3.7,3.3 0 1,0 7.4,0a3.7,3.3 0 1,0 -7.4,0M437.5,1096.4a3.7,3.3 0 1,0 7.4,0a3.7,3.3 0 1,0 -7.4,0M445.8,1084.1a3.7,3.3 0 1,0 7.4,0a3.7,3.3 0 1,0 -7.4,0M571.1,1160.0a3.7,3.3 0 1,0 7.4,0a3.7,3.3 0 1,0 -7.4,0M548.3,1152.4a3.7,3.3 0 1,0 7.4,0a3.7,3.3 0 1,0 -7.4,0M541.9,1154.8a3.7,3.3 0 1,0 7.4,0a3.7,3.3 0 1,0 -7.4,0M545.5,1168.3a3.7,3.3 0 1,0 7.4,0a3.7,3.3 0 1,0 -7.4,0M539.5,1168.3a3.7,3.3 0 1,0 7.4,0a3.7,3.3 0 1,0 -7.4,0M528.9,1168.3a3.7,3.3 0 1,0 7.4,0a3.7,3.3 0 1,0 -7.4,0M511.8,1188.0a3.7,3.3 0 1,0 7.4,0a3.7,3.3 0 1,0 -7.4,0M519.4,1183.7a3.7,3.3 0 1,0 7.4,0a3.7,3.3 0 1,0 -7.4,0M504.4,1184.2a3.7,3.3 0 1,0 7.4,0a3.7,3.3 0 1,0 -7.4,0M493.3,1188.5a3.7,3.3 0 1,0 7.4,0a3.7,3.3 0 1,0 -7.4,0M485.7,1196.1a3.7,3.3 0 1,0 7.4,0a3.7,3.3 0 1,0 -7.4,0M475.9,1196.1a3.7,3.3 0 1,0 7.4,0a3.7,3.3 0 1,0 -7.4,0M460.0,1203.9a3.7,3.3 0 1,0 7.4,0a3.7,3.3 0 1,0 -7.4,0M451.7,1037.1a3.7,3.3 0 1,0 7.4,0a3.7,3.3 0 1,0 -7.4,0M459.6,1037.8a3.7,3.3 0 1,0 7.4,0a3.7,3.3 0 1,0 -7.4,0M462.4,1043.7a3.7,3.3 0 1,0 7.4,0a3.7,3.3 0 1,0 -7.4,0M463.6,1050.9a3.7,3.3 0 1,0 7.4,0a3.7,3.3 0 1,0 -7.4,0M460.0,1055.6a3.7,3.3 0 1,0 7.4,0a3.7,3.3 0 1,0 -7.4,0M452.9,1062.2a3.7,3.3 0 1,0 7.4,0a3.7,3.3 0 1,0 -7.4,0M466.7,1066.3a3.7,3.3 0 1,0 7.4,0a3.7,3.3 0 1,0 -7.4,0M472.4,1065.1a3.7,3.3 0 1,0 7.4,0a3.7,3.3 0 1,0 -7.4,0M479.0,1046.1a3.7,3.3 0 1,0 7.4,0a3.7,3.3 0 1,0 -7.4,0M483.8,1049.0a3.7,3.3 0 1,0 7.4,0a3.7,3.3 0 1,0 -7.4,0M493.3,1047.3a3.7,3.3 0 1,0 7.4,0a3.7,3.3 0 1,0 -7.4,0M500.4,1049.0a3.7,3.3 0 1,0 7.4,0a3.7,3.3 0 1,0 -7.4,0M503.9,1041.4a3.7,3.3 0 1,0 7.4,0a3.7,3.3 0 1,0 -7.4,0M514.6,1036.6a3.7,3.3 0 1,0 7.4,0a3.7,3.3 0 1,0 -7.4,0M520.6,1033.1a3.7,3.3 0 1,0 7.4,0a3.7,3.3 0 1,0 -7.4,0M530.0,1031.9a3.7,3.3 0 1,0 7.4,0a3.7,3.3 0 1,0 -7.4,0M536.0,1036.6a3.7,3.3 0 1,0 7.4,0a3.7,3.3 0 1,0 -7.4,0M539.5,1043.3a3.7,3.3 0 1,0 7.4,0a3.7,3.3 0 1,0 -7.4,0M521.7,1047.3a3.7,3.3 0 1,0 7.4,0a3.7,3.3 0 1,0 -7.4,0M527.7,1047.3a3.7,3.3 0 1,0 7.4,0a3.7,3.3 0 1,0 -7.4,0M533.6,1052.0a3.7,3.3 0 1,0 7.4,0a3.7,3.3 0 1,0 -7.4,0M546.7,1049.0a3.7,3.3 0 1,0 7.4,0a3.7,3.3 0 1,0 -7.4,0M550.7,1061.5a3.7,3.3 0 1,0 7.4,0a3.7,3.3 0 1,0 -7.4,0M512.2,1052.8a3.7,3.3 0 1,0 7.4,0a3.7,3.3 0 1,0 -7.4,0M525.3,1060.4a3.7,3.3 0 1,0 7.4,0a3.7,3.3 0 1,0 -7.4,0M531.2,1057.5a3.7,3.3 0 1,0 7.4,0a3.7,3.3 0 1,0 -7.4,0M537.2,1067.5a3.7,3.3 0 1,0 7.4,0a3.7,3.3 0 1,0 -7.4,0M521.7,1067.5a3.7,3.3 0 1,0 7.4,0a3.7,3.3 0 1,0 -7.4,0M507.5,1066.3a3.7,3.3 0 1,0 7.4,0a3.7,3.3 0 1,0 -7.4,0M512.2,1077.0a3.7,3.3 0 1,0 7.4,0a3.7,3.3 0 1,0 -7.4,0M500.4,1079.3a3.7,3.3 0 1,0 7.4,0a3.7,3.3 0 1,0 -7.4,0M533.6,1084.1a3.7,3.3 0 1,0 7.4,0a3.7,3.3 0 1,0 -7.4,0M528.9,1090.0a3.7,3.3 0 1,0 7.4,0a3.7,3.3 0 1,0 -7.4,0M530.0,1097.1a3.7,3.3 0 1,0 7.4,0a3.7,3.3 0 1,0 -7.4,0M540.7,1098.3a3.7,3.3 0 1,0 7.4,0a3.7,3.3 0 1,0 -7.4,0M545.5,1095.9a3.7,3.3 0 1,0 7.4,0a3.7,3.3 0 1,0 -7.4,0M550.7,1099.5a3.7,3.3 0 1,0 7.4,0a3.7,3.3 0 1,0 -7.4,0M533.6,1109.0a3.7,3.3 0 1,0 7.4,0a3.7,3.3 0 1,0 -7.4,0M530.0,1122.1a3.7,3.3 0 1,0 7.4,0a3.7,3.3 0 1,0 -7.4,0M530.0,1131.5a3.7,3.3 0 1,0 7.4,0a3.7,3.3 0 1,0 -7.4,0M537.2,1138.7a3.7,3.3 0 1,0 7.4,0a3.7,3.3 0 1,0 -7.4,0M543.1,1136.3a3.7,3.3 0 1,0 7.4,0a3.7,3.3 0 1,0 -7.4,0M551.4,1133.4a3.7,3.3 0 1,0 7.4,0a3.7,3.3 0 1,0 -7.4,0M553.8,1139.8a3.7,3.3 0 1,0 7.4,0a3.7,3.3 0 1,0 -7.4,0M541.9,1120.9a3.7,3.3 0 1,0 7.4,0a3.7,3.3 0 1,0 -7.4,0M557.3,1119.7a3.7,3.3 0 1,0 7.4,0a3.7,3.3 0 1,0 -7.4,0M562.1,1117.3a3.7,3.3 0 1,0 7.4,0a3.7,3.3 0 1,0 -7.4,0M565.6,1113.7a3.7,3.3 0 1,0 7.4,0a3.7,3.3 0 1,0 -7.4,0M569.2,1107.3a3.7,3.3 0 1,0 7.4,0a3.7,3.3 0 1,0 -7.4,0M552.6,1111.4a3.7,3.3 0 1,0 7.4,0a3.7,3.3 0 1,0 -7.4,0M445.8,1104.3a3.7,3.3 0 1,0 7.4,0a3.7,3.3 0 1,0 -7.4,0M443.4,1113.7a3.7,3.3 0 1,0 7.4,0a3.7,3.3 0 1,0 -7.4,0M441.1,1123.2a3.7,3.3 0 1,0 7.4,0a3.7,3.3 0 1,0 -7.4,0M438.7,1131.5a3.7,3.3 0 1,0 7.4,0a3.7,3.3 0 1,0 -7.4,0M464.8,1077.0a3.7,3.3 0 1,0 7.4,0a3.7,3.3 0 1,0 -7.4,0M467.2,1081.7a3.7,3.3 0 1,0 7.4,0a3.7,3.3 0 1,0 -7.4,0M475.5,1081.7a3.7,3.3 0 1,0 7.4,0a3.7,3.3 0 1,0 -7.4,0M481.4,1074.6a3.7,3.3 0 1,0 7.4,0a3.7,3.3 0 1,0 -7.4,0M312.5,1061.2a3.7,3.3 0 1,0 7.4,0a3.7,3.3 0 1,0 -7.4,0M323.2,1063.6a3.7,3.3 0 1,0 7.4,0a3.7,3.3 0 1,0 -7.4,0M375.8,1069.5a3.7,3.3 0 1,0 7.4,0a3.7,3.3 0 1,0 -7.4,0M380.9,1064.4a3.7,3.3 0 1,0 7.4,0a3.7,3.3 0 1,0 -7.4,0M386.1,1069.9a3.7,3.3 0 1,0 7.4,0a3.7,3.3 0 1,0 -7.4,0M388.8,1060.8a3.7,3.3 0 1,0 7.4,0a3.7,3.3 0 1,0 -7.4,0M330.3,1102.3a3.7,3.3 0 1,0 7.4,0a3.7,3.3 0 1,0 -7.4,0M338.6,1102.3a3.7,3.3 0 1,0 7.4,0a3.7,3.3 0 1,0 -7.4,0M343.0,1099.9a3.7,3.3 0 1,0 7.4,0a3.7,3.3 0 1,0 -7.4,0M354.4,1095.2a3.7,3.3 0 1,0 7.4,0a3.7,3.3 0 1,0 -7.4,0M368.7,1095.6a3.7,3.3 0 1,0 7.4,0a3.7,3.3 0 1,0 -7.4,0M365.1,1101.5a3.7,3.3 0 1,0 7.4,0a3.7,3.3 0 1,0 -7.4,0M367.5,1104.7a3.7,3.3 0 1,0 7.4,0a3.7,3.3 0 1,0 -7.4,0M377.0,1100.3a3.7,3.3 0 1,0 7.4,0a3.7,3.3 0 1,0 -7.4,0M377.4,1103.5a3.7,3.3 0 1,0 7.4,0a3.7,3.3 0 1,0 -7.4,0M390.4,1106.3a3.7,3.3 0 1,0 7.4,0a3.7,3.3 0 1,0 -7.4,0M396.0,1108.4a3.7,3.3 0 1,0 7.4,0a3.7,3.3 0 1,0 -7.4,0M371.4,1115.8a3.7,3.3 0 1,0 7.4,0a3.7,3.3 0 1,0 -7.4,0M394.8,1116.2a3.7,3.3 0 1,0 7.4,0a3.7,3.3 0 1,0 -7.4,0M401.5,1118.9a3.7,3.3 0 1,0 7.4,0a3.7,3.3 0 1,0 -7.4,0M307.8,1121.7a3.7,3.3 0 1,0 7.4,0a3.7,3.3 0 1,0 -7.4,0M327.9,1120.9a3.7,3.3 0 1,0 7.4,0a3.7,3.3 0 1,0 -7.4,0M336.2,1127.2a3.7,3.3 0 1,0 7.4,0a3.7,3.3 0 1,0 -7.4,0M340.2,1132.4a3.7,3.3 0 1,0 7.4,0a3.7,3.3 0 1,0 -7.4,0M354.4,1122.5a3.7,3.3 0 1,0 7.4,0a3.7,3.3 0 1,0 -7.4,0M353.6,1130.8a3.7,3.3 0 1,0 7.4,0a3.7,3.3 0 1,0 -7.4,0M358.8,1131.6a3.7,3.3 0 1,0 7.4,0a3.7,3.3 0 1,0 -7.4,0M359.2,1135.5a3.7,3.3 0 1,0 7.4,0a3.7,3.3 0 1,0 -7.4,0M373.4,1127.6a3.7,3.3 0 1,0 7.4,0a3.7,3.3 0 1,0 -7.4,0M374.6,1134.3a3.7,3.3 0 1,0 7.4,0a3.7,3.3 0 1,0 -7.4,0M375.0,1137.1a3.7,3.3 0 1,0 7.4,0a3.7,3.3 0 1,0 -7.4,0M382.9,1139.5a3.7,3.3 0 1,0 7.4,0a3.7,3.3 0 1,0 -7.4,0M393.6,1125.3a3.7,3.3 0 1,0 7.4,0a3.7,3.3 0 1,0 -7.4,0M393.2,1129.6a3.7,3.3 0 1,0 7.4,0a3.7,3.3 0 1,0 -7.4,0M405.5,1131.6a3.7,3.3 0 1,0 7.4,0a3.7,3.3 0 1,0 -7.4,0M428.8,1135.9a3.7,3.3 0 1,0 7.4,0a3.7,3.3 0 1,0 -7.4,0M402.3,1137.9a3.7,3.3 0 1,0 7.4,0a3.7,3.3 0 1,0 -7.4,0M392.0,1143.8a3.7,3.3 0 1,0 7.4,0a3.7,3.3 0 1,0 -7.4,0M396.8,1141.5a3.7,3.3 0 1,0 7.4,0a3.7,3.3 0 1,0 -7.4,0M406.2,1144.2a3.7,3.3 0 1,0 7.4,0a3.7,3.3 0 1,0 -7.4,0M396.0,1147.4a3.7,3.3 0 1,0 7.4,0a3.7,3.3 0 1,0 -7.4,0M354.4,1146.2a3.7,3.3 0 1,0 7.4,0a3.7,3.3 0 1,0 -7.4,0M363.1,1149.8a3.7,3.3 0 1,0 7.4,0a3.7,3.3 0 1,0 -7.4,0M373.0,1147.0a3.7,3.3 0 1,0 7.4,0a3.7,3.3 0 1,0 -7.4,0M377.8,1151.4a3.7,3.3 0 1,0 7.4,0a3.7,3.3 0 1,0 -7.4,0M382.9,1150.2a3.7,3.3 0 1,0 7.4,0a3.7,3.3 0 1,0 -7.4,0M340.2,1157.7a3.7,3.3 0 1,0 7.4,0a3.7,3.3 0 1,0 -7.4,0M338.6,1162.4a3.7,3.3 0 1,0 7.4,0a3.7,3.3 0 1,0 -7.4,0M353.2,1158.1a3.7,3.3 0 1,0 7.4,0a3.7,3.3 0 1,0 -7.4,0M362.7,1158.1a3.7,3.3 0 1,0 7.4,0a3.7,3.3 0 1,0 -7.4,0M379.7,1158.9a3.7,3.3 0 1,0 7.4,0a3.7,3.3 0 1,0 -7.4,0M389.6,1154.9a3.7,3.3 0 1,0 7.4,0a3.7,3.3 0 1,0 -7.4,0M394.4,1159.7a3.7,3.3 0 1,0 7.4,0a3.7,3.3 0 1,0 -7.4,0M329.5,1169.9a3.7,3.3 0 1,0 7.4,0a3.7,3.3 0 1,0 -7.4,0M364.3,1168.0a3.7,3.3 0 1,0 7.4,0a3.7,3.3 0 1,0 -7.4,0M377.0,1165.2a3.7,3.3 0 1,0 7.4,0a3.7,3.3 0 1,0 -7.4,0M396.8,1166.0a3.7,3.3 0 1,0 7.4,0a3.7,3.3 0 1,0 -7.4,0M403.5,1169.5a3.7,3.3 0 1,0 7.4,0a3.7,3.3 0 1,0 -7.4,0M302.6,1178.6a3.7,3.3 0 1,0 7.4,0a3.7,3.3 0 1,0 -7.4,0M329.5,1180.2a3.7,3.3 0 1,0 7.4,0a3.7,3.3 0 1,0 -7.4,0M351.3,1177.5a3.7,3.3 0 1,0 7.4,0a3.7,3.3 0 1,0 -7.4,0M359.6,1177.9a3.7,3.3 0 1,0 7.4,0a3.7,3.3 0 1,0 -7.4,0M355.2,1183.0a3.7,3.3 0 1,0 7.4,0a3.7,3.3 0 1,0 -7.4,0M350.9,1188.1a3.7,3.3 0 1,0 7.4,0a3.7,3.3 0 1,0 -7.4,0M363.1,1184.6a3.7,3.3 0 1,0 7.4,0a3.7,3.3 0 1,0 -7.4,0M368.7,1180.2a3.7,3.3 0 1,0 7.4,0a3.7,3.3 0 1,0 -7.4,0M373.8,1184.6a3.7,3.3 0 1,0 7.4,0a3.7,3.3 0 1,0 -7.4,0M380.1,1204.0a3.7,3.3 0 1,0 7.4,0a3.7,3.3 0 1,0 -7.4,0M414.9,1193.7a3.7,3.3 0 1,0 7.4,0a3.7,3.3 0 1,0 -7.4,0M402.7,1208.7a3.7,3.3 0 1,0 7.4,0a3.7,3.3 0 1,0 -7.4,0M435.5,1096.4a3.7,3.3 0 1,0 7.4,0a3.7,3.3 0 1,0 -7.4,0M436.3,1132.8a3.7,3.3 0 1,0 7.4,0a3.7,3.3 0 1,0 -7.4,0M585.2,1001.8a3.7,3.3 0 1,0 7.4,0a3.7,3.3 0 1,0 -7.4,0M560.8,1014.1a3.7,3.3 0 1,0 7.4,0a3.7,3.3 0 1,0 -7.4,0M563.5,1016.6a3.7,3.3 0 1,0 7.4,0a3.7,3.3 0 1,0 -7.4,0M583.8,1034.9a3.7,3.3 0 1,0 7.4,0a3.7,3.3 0 1,0 -7.4,0M600.6,1038.0a3.7,3.3 0 1,0 7.4,0a3.7,3.3 0 1,0 -7.4,0M615.1,1042.5a3.7,3.3 0 1,0 7.4,0a3.7,3.3 0 1,0 -7.4,0M616.9,1043.8a3.7,3.3 0 1,0 7.4,0a3.7,3.3 0 1,0 -7.4,0M597.5,1048.5a3.7,3.3 0 1,0 7.4,0a3.7,3.3 0 1,0 -7.4,0M670.6,1039.4a3.7,3.3 0 1,0 7.4,0a3.7,3.3 0 1,0 -7.4,0M832.0,1031.6a3.7,3.3 0 1,0 7.4,0a3.7,3.3 0 1,0 -7.4,0M560.8,1040.7a3.7,3.3 0 1,0 7.4,0a3.7,3.3 0 1,0 -7.4,0M563.9,1048.5a3.7,3.3 0 1,0 7.4,0a3.7,3.3 0 1,0 -7.4,0M564.4,1062.0a3.7,3.3 0 1,0 7.4,0a3.7,3.3 0 1,0 -7.4,0M575.3,1069.6a3.7,3.3 0 1,0 7.4,0a3.7,3.3 0 1,0 -7.4,0M583.1,1068.3a3.7,3.3 0 1,0 7.4,0a3.7,3.3 0 1,0 -7.4,0M566.8,1074.5a3.7,3.3 0 1,0 7.4,0a3.7,3.3 0 1,0 -7.4,0M559.0,1083.5a3.7,3.3 0 1,0 7.4,0a3.7,3.3 0 1,0 -7.4,0M578.0,1087.9a3.7,3.3 0 1,0 7.4,0a3.7,3.3 0 1,0 -7.4,0M689.7,1086.4a3.7,3.3 0 1,0 7.4,0a3.7,3.3 0 1,0 -7.4,0M569.3,1107.4a3.7,3.3 0 1,0 7.4,0a3.7,3.3 0 1,0 -7.4,0M565.3,1113.0a3.7,3.3 0 1,0 7.4,0a3.7,3.3 0 1,0 -7.4,0M564.4,1115.7a3.7,3.3 0 1,0 7.4,0a3.7,3.3 0 1,0 -7.4,0M561.7,1119.3a3.7,3.3 0 1,0 7.4,0a3.7,3.3 0 1,0 -7.4,0M557.2,1119.3a3.7,3.3 0 1,0 7.4,0a3.7,3.3 0 1,0 -7.4,0M556.3,1140.1a3.7,3.3 0 1,0 7.4,0a3.7,3.3 0 1,0 -7.4,0M571.7,1160.0a3.7,3.3 0 1,0 7.4,0a3.7,3.3 0 1,0 -7.4,0M433.5,1201.6a3.7,3.3 0 1,0 7.4,0a3.7,3.3 0 1,0 -7.4,0M493.6,1158.4a3.7,3.3 0 1,0 7.4,0a3.7,3.3 0 1,0 -7.4,0M439.4,1196.6a3.7,3.3 0 1,0 7.4,0a3.7,3.3 0 1,0 -7.4,0M485.2,1147.7a3.7,3.3 0 1,0 7.4,0a3.7,3.3 0 1,0 -7.4,0M511.3,1149.2a3.7,3.3 0 1,0 7.4,0a3.7,3.3 0 1,0 -7.4,0M466.3,1175.1a3.7,3.3 0 1,0 7.4,0a3.7,3.3 0 1,0 -7.4,0M462.9,1172.0a3.7,3.3 0 1,0 7.4,0a3.7,3.3 0 1,0 -7.4,0M460.2,1133.1a3.7,3.3 0 1,0 7.4,0a3.7,3.3 0 1,0 -7.4,0M465.0,1178.8a3.7,3.3 0 1,0 7.4,0a3.7,3.3 0 1,0 -7.4,0M475.3,1172.5a3.7,3.3 0 1,0 7.4,0a3.7,3.3 0 1,0 -7.4,0M485.8,1113.1a3.7,3.3 0 1,0 7.4,0a3.7,3.3 0 1,0 -7.4,0M461.0,1116.5a3.7,3.3 0 1,0 7.4,0a3.7,3.3 0 1,0 -7.4,0M452.4,1136.4a3.7,3.3 0 1,0 7.4,0a3.7,3.3 0 1,0 -7.4,0M459.6,1115.8a3.7,3.3 0 1,0 7.4,0a3.7,3.3 0 1,0 -7.4,0M451.9,1171.7a3.7,3.3 0 1,0 7.4,0a3.7,3.3 0 1,0 -7.4,0M470.4,1138.7a3.7,3.3 0 1,0 7.4,0a3.7,3.3 0 1,0 -7.4,0M475.0,1161.7a3.7,3.3 0 1,0 7.4,0a3.7,3.3 0 1,0 -7.4,0M433.7,1200.1a3.7,3.3 0 1,0 7.4,0a3.7,3.3 0 1,0 -7.4,0M484.3,1136.5a3.7,3.3 0 1,0 7.4,0a3.7,3.3 0 1,0 -7.4,0M505.5,1155.6a3.7,3.3 0 1,0 7.4,0a3.7,3.3 0 1,0 -7.4,0M486.7,1150.7a3.7,3.3 0 1,0 7.4,0a3.7,3.3 0 1,0 -7.4,0M483.1,1175.4a3.7,3.3 0 1,0 7.4,0a3.7,3.3 0 1,0 -7.4,0M499.2,1144.7a3.7,3.3 0 1,0 7.4,0a3.7,3.3 0 1,0 -7.4,0M447.4,1138.7a3.7,3.3 0 1,0 7.4,0a3.7,3.3 0 1,0 -7.4,0M464.0,1186.6a3.7,3.3 0 1,0 7.4,0a3.7,3.3 0 1,0 -7.4,0M498.5,1139.9a3.7,3.3 0 1,0 7.4,0a3.7,3.3 0 1,0 -7.4,0M438.4,1171.7a3.7,3.3 0 1,0 7.4,0a3.7,3.3 0 1,0 -7.4,0M455.0,1127.5a3.7,3.3 0 1,0 7.4,0a3.7,3.3 0 1,0 -7.4,0M463.3,1134.1a3.7,3.3 0 1,0 7.4,0a3.7,3.3 0 1,0 -7.4,0M432.8,1207.3a3.7,3.3 0 1,0 7.4,0a3.7,3.3 0 1,0 -7.4,0M459.1,1189.4a3.7,3.3 0 1,0 7.4,0a3.7,3.3 0 1,0 -7.4,0M518.0,1144.2a3.7,3.3 0 1,0 7.4,0a3.7,3.3 0 1,0 -7.4,0M485.0,1131.0a3.7,3.3 0 1,0 7.4,0a3.7,3.3 0 1,0 -7.4,0M446.5,1169.0a3.7,3.3 0 1,0 7.4,0a3.7,3.3 0 1,0 -7.4,0M484.4,1110.7a3.7,3.3 0 1,0 7.4,0a3.7,3.3 0 1,0 -7.4,0M460.4,1175.8a3.7,3.3 0 1,0 7.4,0a3.7,3.3 0 1,0 -7.4,0M459.1,1172.8a3.7,3.3 0 1,0 7.4,0a3.7,3.3 0 1,0 -7.4,0M477.0,1176.7a3.7,3.3 0 1,0 7.4,0a3.7,3.3 0 1,0 -7.4,0M435.5,1190.0a3.7,3.3 0 1,0 7.4,0a3.7,3.3 0 1,0 -7.4,0M461.9,1152.5a3.7,3.3 0 1,0 7.4,0a3.7,3.3 0 1,0 -7.4,0M430.0,1182.7a3.7,3.3 0 1,0 7.4,0a3.7,3.3 0 1,0 -7.4,0M451.1,1198.0a3.7,3.3 0 1,0 7.4,0a3.7,3.3 0 1,0 -7.4,0M497.6,1128.6a3.7,3.3 0 1,0 7.4,0a3.7,3.3 0 1,0 -7.4,0M503.5,1119.7a3.7,3.3 0 1,0 7.4,0a3.7,3.3 0 1,0 -7.4,0M506.1,1147.5a3.7,3.3 0 1,0 7.4,0a3.7,3.3 0 1,0 -7.4,0M499.4,1154.4a3.7,3.3 0 1,0 7.4,0a3.7,3.3 0 1,0 -7.4,0M493.6,1131.9a3.7,3.3 0 1,0 7.4,0a3.7,3.3 0 1,0 -7.4,0M483.4,1149.8a3.7,3.3 0 1,0 7.4,0a3.7,3.3 0 1,0 -7.4,0M469.8,1129.1a3.7,3.3 0 1,0 7.4,0a3.7,3.3 0 1,0 -7.4,0M442.0,1153.9a3.7,3.3 0 1,0 7.4,0a3.7,3.3 0 1,0 -7.4,0M523.5,1148.8a3.7,3.3 0 1,0 7.4,0a3.7,3.3 0 1,0 -7.4,0M492.4,1175.7a3.7,3.3 0 1,0 7.4,0a3.7,3.3 0 1,0 -7.4,0M483.5,1145.6a3.7,3.3 0 1,0 7.4,0a3.7,3.3 0 1,0 -7.4,0M458.0,1179.8a3.7,3.3 0 1,0 7.4,0a3.7,3.3 0 1,0 -7.4,0M442.6,1150.7a3.7,3.3 0 1,0 7.4,0a3.7,3.3 0 1,0 -7.4,0M498.3,1173.5a3.7,3.3 0 1,0 7.4,0a3.7,3.3 0 1,0 -7.4,0M468.8,1117.1a3.7,3.3 0 1,0 7.4,0a3.7,3.3 0 1,0 -7.4,0M454.7,1142.1a3.7,3.3 0 1,0 7.4,0a3.7,3.3 0 1,0 -7.4,0M492.2,1151.4a3.7,3.3 0 1,0 7.4,0a3.7,3.3 0 1,0 -7.4,0M486.9,1175.2a3.7,3.3 0 1,0 7.4,0a3.7,3.3 0 1,0 -7.4,0M466.9,1150.6a3.7,3.3 0 1,0 7.4,0a3.7,3.3 0 1,0 -7.4,0M505.5,1142.1a3.7,3.3 0 1,0 7.4,0a3.7,3.3 0 1,0 -7.4,0M437.9,1203.6a3.7,3.3 0 1,0 7.4,0a3.7,3.3 0 1,0 -7.4,0M459.8,1189.1a3.7,3.3 0 1,0 7.4,0a3.7,3.3 0 1,0 -7.4,0M512.9,1142.1a3.7,3.3 0 1,0 7.4,0a3.7,3.3 0 1,0 -7.4,0M465.1,1149.8a3.7,3.3 0 1,0 7.4,0a3.7,3.3 0 1,0 -7.4,0M473.1,1153.7a3.7,3.3 0 1,0 7.4,0a3.7,3.3 0 1,0 -7.4,0M443.5,1183.1a3.7,3.3 0 1,0 7.4,0a3.7,3.3 0 1,0 -7.4,0M446.8,1153.2a3.7,3.3 0 1,0 7.4,0a3.7,3.3 0 1,0 -7.4,0M486.9,1154.6a3.7,3.3 0 1,0 7.4,0a3.7,3.3 0 1,0 -7.4,0M459.2,1166.1a3.7,3.3 0 1,0 7.4,0a3.7,3.3 0 1,0 -7.4,0M510.8,1134.4a3.7,3.3 0 1,0 7.4,0a3.7,3.3 0 1,0 -7.4,0M479.7,1144.3a3.7,3.3 0 1,0 7.4,0a3.7,3.3 0 1,0 -7.4,0M502.4,1112.5a3.7,3.3 0 1,0 7.4,0a3.7,3.3 0 1,0 -7.4,0M457.7,1126.0a3.7,3.3 0 1,0 7.4,0a3.7,3.3 0 1,0 -7.4,0M450.0,1165.5a3.7,3.3 0 1,0 7.4,0a3.7,3.3 0 1,0 -7.4,0M461.8,1163.9a3.7,3.3 0 1,0 7.4,0a3.7,3.3 0 1,0 -7.4,0M464.2,1152.2a3.7,3.3 0 1,0 7.4,0a3.7,3.3 0 1,0 -7.4,0M477.7,1168.1a3.7,3.3 0 1,0 7.4,0a3.7,3.3 0 1,0 -7.4,0M490.8,1167.3a3.7,3.3 0 1,0 7.4,0a3.7,3.3 0 1,0 -7.4,0M498.3,1142.7a3.7,3.3 0 1,0 7.4,0a3.7,3.3 0 1,0 -7.4,0M505.8,1164.3a3.7,3.3 0 1,0 7.4,0a3.7,3.3 0 1,0 -7.4,0M477.3,1127.4a3.7,3.3 0 1,0 7.4,0a3.7,3.3 0 1,0 -7.4,0M444.1,1160.7a3.7,3.3 0 1,0 7.4,0a3.7,3.3 0 1,0 -7.4,0M502.9,1162.7a3.7,3.3 0 1,0 7.4,0a3.7,3.3 0 1,0 -7.4,0M509.7,1132.3a3.7,3.3 0 1,0 7.4,0a3.7,3.3 0 1,0 -7.4,0M490.0,1143.2a3.7,3.3 0 1,0 7.4,0a3.7,3.3 0 1,0 -7.4,0M466.1,1123.9a3.7,3.3 0 1,0 7.4,0a3.7,3.3 0 1,0 -7.4,0M490.6,1110.3a3.7,3.3 0 1,0 7.4,0a3.7,3.3 0 1,0 -7.4,0M486.6,1109.6a3.7,3.3 0 1,0 7.4,0a3.7,3.3 0 1,0 -7.4,0M481.2,1111.4a3.7,3.3 0 1,0 7.4,0a3.7,3.3 0 1,0 -7.4,0M512.1,1166.3a3.7,3.3 0 1,0 7.4,0a3.7,3.3 0 1,0 -7.4,0M454.2,1136.1a3.7,3.3 0 1,0 7.4,0a3.7,3.3 0 1,0 -7.4,0M509.8,1138.2a3.7,3.3 0 1,0 7.4,0a3.7,3.3 0 1,0 -7.4,0M464.2,1135.4a3.7,3.3 0 1,0 7.4,0a3.7,3.3 0 1,0 -7.4,0M493.5,1154.9a3.7,3.3 0 1,0 7.4,0a3.7,3.3 0 1,0 -7.4,0M446.6,1163.4a3.7,3.3 0 1,0 7.4,0a3.7,3.3 0 1,0 -7.4,0M461.3,1141.9a3.7,3.3 0 1,0 7.4,0a3.7,3.3 0 1,0 -7.4,0M436.1,1190.1a3.7,3.3 0 1,0 7.4,0a3.7,3.3 0 1,0 -7.4,0M464.2,1120.6a3.7,3.3 0 1,0 7.4,0a3.7,3.3 0 1,0 -7.4,0M498.8,1131.1a3.7,3.3 0 1,0 7.4,0a3.7,3.3 0 1,0 -7.4,0M425.7,1199.5a3.7,3.3 0 1,0 7.4,0a3.7,3.3 0 1,0 -7.4,0M445.3,1192.2a3.7,3.3 0 1,0 7.4,0a3.7,3.3 0 1,0 -7.4,0M486.4,1148.5a3.7,3.3 0 1,0 7.4,0a3.7,3.3 0 1,0 -7.4,0M479.9,1154.2a3.7,3.3 0 1,0 7.4,0a3.7,3.3 0 1,0 -7.4,0M487.6,1132.7a3.7,3.3 0 1,0 7.4,0a3.7,3.3 0 1,0 -7.4,0M464.8,1144.8a3.7,3.3 0 1,0 7.4,0a3.7,3.3 0 1,0 -7.4,0M511.9,1155.5a3.7,3.3 0 1,0 7.4,0a3.7,3.3 0 1,0 -7.4,0M439.3,1194.1a3.7,3.3 0 1,0 7.4,0a3.7,3.3 0 1,0 -7.4,0M451.9,1131.8a3.7,3.3 0 1,0 7.4,0a3.7,3.3 0 1,0 -7.4,0M476.1,1169.6a3.7,3.3 0 1,0 7.4,0a3.7,3.3 0 1,0 -7.4,0M461.8,1152.4a3.7,3.3 0 1,0 7.4,0a3.7,3.3 0 1,0 -7.4,0M427.4,1210.0a3.7,3.3 0 1,0 7.4,0a3.7,3.3 0 1,0 -7.4,0M479.1,1171.4a3.7,3.3 0 1,0 7.4,0a3.7,3.3 0 1,0 -7.4,0M473.8,1141.8a3.7,3.3 0 1,0 7.4,0a3.7,3.3 0 1,0 -7.4,0M459.8,1116.9a3.7,3.3 0 1,0 7.4,0a3.7,3.3 0 1,0 -7.4,0M449.3,1180.1a3.7,3.3 0 1,0 7.4,0a3.7,3.3 0 1,0 -7.4,0M485.0,1174.9a3.7,3.3 0 1,0 7.4,0a3.7,3.3 0 1,0 -7.4,0M505.9,1144.7a3.7,3.3 0 1,0 7.4,0a3.7,3.3 0 1,0 -7.4,0M445.2,1199.3a3.7,3.3 0 1,0 7.4,0a3.7,3.3 0 1,0 -7.4,0M455.4,1150.4a3.7,3.3 0 1,0 7.4,0a3.7,3.3 0 1,0 -7.4,0M513.7,1147.1a3.7,3.3 0 1,0 7.4,0a3.7,3.3 0 1,0 -7.4,0M446.4,1178.7a3.7,3.3 0 1,0 7.4,0a3.7,3.3 0 1,0 -7.4,0M499.1,1125.8a3.7,3.3 0 1,0 7.4,0a3.7,3.3 0 1,0 -7.4,0M505.1,1134.6a3.7,3.3 0 1,0 7.4,0a3.7,3.3 0 1,0 -7.4,0M519.9,1148.4a3.7,3.3 0 1,0 7.4,0a3.7,3.3 0 1,0 -7.4,0M436.3,1169.0a3.7,3.3 0 1,0 7.4,0a3.7,3.3 0 1,0 -7.4,0M496.5,1109.9a3.7,3.3 0 1,0 7.4,0a3.7,3.3 0 1,0 -7.4,0M433.8,1199.1a3.7,3.3 0 1,0 7.4,0a3.7,3.3 0 1,0 -7.4,0M479.4,1117.6a3.7,3.3 0 1,0 7.4,0a3.7,3.3 0 1,0 -7.4,0M458.0,1173.7a3.7,3.3 0 1,0 7.4,0a3.7,3.3 0 1,0 -7.4,0M501.0,1145.2a3.7,3.3 0 1,0 7.4,0a3.7,3.3 0 1,0 -7.4,0M491.1,1120.3a3.7,3.3 0 1,0 7.4,0a3.7,3.3 0 1,0 -7.4,0M467.4,1125.5a3.7,3.3 0 1,0 7.4,0a3.7,3.3 0 1,0 -7.4,0M486.8,1107.5a3.7,3.3 0 1,0 7.4,0a3.7,3.3 0 1,0 -7.4,0M499.8,1169.2a3.7,3.3 0 1,0 7.4,0a3.7,3.3 0 1,0 -7.4,0M453.0,1162.0a3.7,3.3 0 1,0 7.4,0a3.7,3.3 0 1,0 -7.4,0M463.8,1147.4a3.7,3.3 0 1,0 7.4,0a3.7,3.3 0 1,0 -7.4,0M461.7,1171.8a3.7,3.3 0 1,0 7.4,0a3.7,3.3 0 1,0 -7.4,0M468.4,1152.8a3.7,3.3 0 1,0 7.4,0a3.7,3.3 0 1,0 -7.4,0M466.3,1127.2a3.7,3.3 0 1,0 7.4,0a3.7,3.3 0 1,0 -7.4,0M438.6,1152.7a3.7,3.3 0 1,0 7.4,0a3.7,3.3 0 1,0 -7.4,0M498.7,1146.3a3.7,3.3 0 1,0 7.4,0a3.7,3.3 0 1,0 -7.4,0M467.5,1114.1a3.7,3.3 0 1,0 7.4,0a3.7,3.3 0 1,0 -7.4,0M452.9,1161.6a3.7,3.3 0 1,0 7.4,0a3.7,3.3 0 1,0 -7.4,0M434.1,1189.3a3.7,3.3 0 1,0 7.4,0a3.7,3.3 0 1,0 -7.4,0M507.8,1147.5a3.7,3.3 0 1,0 7.4,0a3.7,3.3 0 1,0 -7.4,0M425.7,1196.0a3.7,3.3 0 1,0 7.4,0a3.7,3.3 0 1,0 -7.4,0M439.8,1157.1a3.7,3.3 0 1,0 7.4,0a3.7,3.3 0 1,0 -7.4,0M466.2,1171.3a3.7,3.3 0 1,0 7.4,0a3.7,3.3 0 1,0 -7.4,0M504.6,1124.3a3.7,3.3 0 1,0 7.4,0a3.7,3.3 0 1,0 -7.4,0M502.3,1161.8a3.7,3.3 0 1,0 7.4,0a3.7,3.3 0 1,0 -7.4,0M464.4,1147.0a3.7,3.3 0 1,0 7.4,0a3.7,3.3 0 1,0 -7.4,0M504.7,1119.6a3.7,3.3 0 1,0 7.4,0a3.7,3.3 0 1,0 -7.4,0M488.2,1109.3a3.7,3.3 0 1,0 7.4,0a3.7,3.3 0 1,0 -7.4,0M468.5,1118.7a3.7,3.3 0 1,0 7.4,0a3.7,3.3 0 1,0 -7.4,0M500.7,1171.1a3.7,3.3 0 1,0 7.4,0a3.7,3.3 0 1,0 -7.4,0M456.6,1185.4a3.7,3.3 0 1,0 7.4,0a3.7,3.3 0 1,0 -7.4,0M431.2,1207.7a3.7,3.3 0 1,0 7.4,0a3.7,3.3 0 1,0 -7.4,0M474.7,1175.8a3.7,3.3 0 1,0 7.4,0a3.7,3.3 0 1,0 -7.4,0M511.4,1163.9a3.7,3.3 0 1,0 7.4,0a3.7,3.3 0 1,0 -7.4,0M493.3,1125.8a3.7,3.3 0 1,0 7.4,0a3.7,3.3 0 1,0 -7.4,0M499.7,1140.0a3.7,3.3 0 1,0 7.4,0a3.7,3.3 0 1,0 -7.4,0M426.1,1204.9a3.7,3.3 0 1,0 7.4,0a3.7,3.3 0 1,0 -7.4,0M507.2,1125.8a3.7,3.3 0 1,0 7.4,0a3.7,3.3 0 1,0 -7.4,0M461.7,1136.0a3.7,3.3 0 1,0 7.4,0a3.7,3.3 0 1,0 -7.4,0M425.5,1195.4a3.7,3.3 0 1,0 7.4,0a3.7,3.3 0 1,0 -7.4,0M505.5,1154.2a3.7,3.3 0 1,0 7.4,0a3.7,3.3 0 1,0 -7.4,0M503.3,1157.8a3.7,3.3 0 1,0 7.4,0a3.7,3.3 0 1,0 -7.4,0M496.4,1112.0a3.7,3.3 0 1,0 7.4,0a3.7,3.3 0 1,0 -7.4,0M460.4,1188.4a3.7,3.3 0 1,0 7.4,0a3.7,3.3 0 1,0 -7.4,0M462.8,1181.4a3.7,3.3 0 1,0 7.4,0a3.7,3.3 0 1,0 -7.4,0M485.4,1144.3a3.7,3.3 0 1,0 7.4,0a3.7,3.3 0 1,0 -7.4,0M497.6,1113.6a3.7,3.3 0 1,0 7.4,0a3.7,3.3 0 1,0 -7.4,0M466.1,1168.2a3.7,3.3 0 1,0 7.4,0a3.7,3.3 0 1,0 -7.4,0M441.1,1199.4a3.7,3.3 0 1,0 7.4,0a3.7,3.3 0 1,0 -7.4,0M423.8,1195.7a3.7,3.3 0 1,0 7.4,0a3.7,3.3 0 1,0 -7.4,0M449.3,1144.5a3.7,3.3 0 1,0 7.4,0a3.7,3.3 0 1,0 -7.4,0M477.1,1164.8a3.7,3.3 0 1,0 7.4,0a3.7,3.3 0 1,0 -7.4,0M426.3,1197.0a3.7,3.3 0 1,0 7.4,0a3.7,3.3 0 1,0 -7.4,0M436.8,1175.8a3.7,3.3 0 1,0 7.4,0a3.7,3.3 0 1,0 -7.4,0M434.1,1185.6a3.7,3.3 0 1,0 7.4,0a3.7,3.3 0 1,0 -7.4,0M466.8,1139.4a3.7,3.3 0 1,0 7.4,0a3.7,3.3 0 1,0 -7.4,0M490.5,1132.7a3.7,3.3 0 1,0 7.4,0a3.7,3.3 0 1,0 -7.4,0M458.8,1139.1a3.7,3.3 0 1,0 7.4,0a3.7,3.3 0 1,0 -7.4,0M449.0,1160.6a3.7,3.3 0 1,0 7.4,0a3.7,3.3 0 1,0 -7.4,0M499.4,1114.1a3.7,3.3 0 1,0 7.4,0a3.7,3.3 0 1,0 -7.4,0M451.5,1158.1a3.7,3.3 0 1,0 7.4,0a3.7,3.3 0 1,0 -7.4,0M441.2,1195.5a3.7,3.3 0 1,0 7.4,0a3.7,3.3 0 1,0 -7.4,0M494.6,1111.1a3.7,3.3 0 1,0 7.4,0a3.7,3.3 0 1,0 -7.4,0M459.7,1138.8a3.7,3.3 0 1,0 7.4,0a3.7,3.3 0 1,0 -7.4,0M425.4,1206.2a3.7,3.3 0 1,0 7.4,0a3.7,3.3 0 1,0 -7.4,0M492.9,1127.2a3.7,3.3 0 1,0 7.4,0a3.7,3.3 0 1,0 -7.4,0M473.4,1128.7a3.7,3.3 0 1,0 7.4,0a3.7,3.3 0 1,0 -7.4,0M451.6,1136.6a3.7,3.3 0 1,0 7.4,0a3.7,3.3 0 1,0 -7.4,0M495.1,1166.4a3.7,3.3 0 1,0 7.4,0a3.7,3.3 0 1,0 -7.4,0M434.8,1190.7a3.7,3.3 0 1,0 7.4,0a3.7,3.3 0 1,0 -7.4,0M442.4,1189.2a3.7,3.3 0 1,0 7.4,0a3.7,3.3 0 1,0 -7.4,0M485.3,1167.9a3.7,3.3 0 1,0 7.4,0a3.7,3.3 0 1,0 -7.4,0M458.8,1125.7a3.7,3.3 0 1,0 7.4,0a3.7,3.3 0 1,0 -7.4,0M488.1,1129.4a3.7,3.3 0 1,0 7.4,0a3.7,3.3 0 1,0 -7.4,0M442.5,1171.4a3.7,3.3 0 1,0 7.4,0a3.7,3.3 0 1,0 -7.4,0M503.5,1168.6a3.7,3.3 0 1,0 7.4,0a3.7,3.3 0 1,0 -7.4,0M453.5,1152.4a3.7,3.3 0 1,0 7.4,0a3.7,3.3 0 1,0 -7.4,0M510.9,1130.9a3.7,3.3 0 1,0 7.4,0a3.7,3.3 0 1,0 -7.4,0M485.1,1119.2a3.7,3.3 0 1,0 7.4,0a3.7,3.3 0 1,0 -7.4,0M493.9,1119.6a3.7,3.3 0 1,0 7.4,0a3.7,3.3 0 1,0 -7.4,0M476.7,1162.9a3.7,3.3 0 1,0 7.4,0a3.7,3.3 0 1,0 -7.4,0M443.3,1156.8a3.7,3.3 0 1,0 7.4,0a3.7,3.3 0 1,0 -7.4,0M503.5,1114.9a3.7,3.3 0 1,0 7.4,0a3.7,3.3 0 1,0 -7.4,0M449.9,1157.6a3.7,3.3 0 1,0 7.4,0a3.7,3.3 0 1,0 -7.4,0M457.3,1127.8a3.7,3.3 0 1,0 7.4,0a3.7,3.3 0 1,0 -7.4,0M439.9,1169.6a3.7,3.3 0 1,0 7.4,0a3.7,3.3 0 1,0 -7.4,0M467.2,1138.6a3.7,3.3 0 1,0 7.4,0a3.7,3.3 0 1,0 -7.4,0M433.2,1185.1a3.7,3.3 0 1,0 7.4,0a3.7,3.3 0 1,0 -7.4,0M501.7,1127.9a3.7,3.3 0 1,0 7.4,0a3.7,3.3 0 1,0 -7.4,0M478.3,1137.5a3.7,3.3 0 1,0 7.4,0a3.7,3.3 0 1,0 -7.4,0M458.2,1180.9a3.7,3.3 0 1,0 7.4,0a3.7,3.3 0 1,0 -7.4,0M468.7,1175.5a3.7,3.3 0 1,0 7.4,0a3.7,3.3 0 1,0 -7.4,0M504.3,1121.5a3.7,3.3 0 1,0 7.4,0a3.7,3.3 0 1,0 -7.4,0M480.8,1122.8a3.7,3.3 0 1,0 7.4,0a3.7,3.3 0 1,0 -7.4,0M488.3,1168.5a3.7,3.3 0 1,0 7.4,0a3.7,3.3 0 1,0 -7.4,0M446.8,1159.8a3.7,3.3 0 1,0 7.4,0a3.7,3.3 0 1,0 -7.4,0M493.8,1110.7a3.7,3.3 0 1,0 7.4,0a3.7,3.3 0 1,0 -7.4,0M513.5,1159.6a3.7,3.3 0 1,0 7.4,0a3.7,3.3 0 1,0 -7.4,0M487.9,1144.0a3.7,3.3 0 1,0 7.4,0a3.7,3.3 0 1,0 -7.4,0M438.0,1168.8a3.7,3.3 0 1,0 7.4,0a3.7,3.3 0 1,0 -7.4,0M440.6,1189.7a3.7,3.3 0 1,0 7.4,0a3.7,3.3 0 1,0 -7.4,0M470.5,1111.4a3.7,3.3 0 1,0 7.4,0a3.7,3.3 0 1,0 -7.4,0M430.8,1191.6a3.7,3.3 0 1,0 7.4,0a3.7,3.3 0 1,0 -7.4,0M521.5,1154.9a3.7,3.3 0 1,0 7.4,0a3.7,3.3 0 1,0 -7.4,0M506.1,1141.9a3.7,3.3 0 1,0 7.4,0a3.7,3.3 0 1,0 -7.4,0M501.8,1112.5a3.7,3.3 0 1,0 7.4,0a3.7,3.3 0 1,0 -7.4,0M473.2,1117.4a3.7,3.3 0 1,0 7.4,0a3.7,3.3 0 1,0 -7.4,0M510.6,1147.0a3.7,3.3 0 1,0 7.4,0a3.7,3.3 0 1,0 -7.4,0M458.2,1155.5a3.7,3.3 0 1,0 7.4,0a3.7,3.3 0 1,0 -7.4,0M495.2,1138.9a3.7,3.3 0 1,0 7.4,0a3.7,3.3 0 1,0 -7.4,0M452.0,1144.7a3.7,3.3 0 1,0 7.4,0a3.7,3.3 0 1,0 -7.4,0M504.3,1123.9a3.7,3.3 0 1,0 7.4,0a3.7,3.3 0 1,0 -7.4,0M506.3,1152.8a3.7,3.3 0 1,0 7.4,0a3.7,3.3 0 1,0 -7.4,0M443.9,1182.5a3.7,3.3 0 1,0 7.4,0a3.7,3.3 0 1,0 -7.4,0M472.8,1141.4a3.7,3.3 0 1,0 7.4,0a3.7,3.3 0 1,0 -7.4,0M492.3,1163.3a3.7,3.3 0 1,0 7.4,0a3.7,3.3 0 1,0 -7.4,0M492.7,1140.0a3.7,3.3 0 1,0 7.4,0a3.7,3.3 0 1,0 -7.4,0M510.8,1154.2a3.7,3.3 0 1,0 7.4,0a3.7,3.3 0 1,0 -7.4,0M515.4,1142.0a3.7,3.3 0 1,0 7.4,0a3.7,3.3 0 1,0 -7.4,0M477.5,1127.0a3.7,3.3 0 1,0 7.4,0a3.7,3.3 0 1,0 -7.4,0M452.5,1177.1a3.7,3.3 0 1,0 7.4,0a3.7,3.3 0 1,0 -7.4,0M461.7,1153.7a3.7,3.3 0 1,0 7.4,0a3.7,3.3 0 1,0 -7.4,0M437.6,1206.8a3.7,3.3 0 1,0 7.4,0a3.7,3.3 0 1,0 -7.4,0M520.7,1148.3a3.7,3.3 0 1,0 7.4,0a3.7,3.3 0 1,0 -7.4,0M433.1,1204.7a3.7,3.3 0 1,0 7.4,0a3.7,3.3 0 1,0 -7.4,0M488.5,1157.1a3.7,3.3 0 1,0 7.4,0a3.7,3.3 0 1,0 -7.4,0M449.9,1185.6a3.7,3.3 0 1,0 7.4,0a3.7,3.3 0 1,0 -7.4,0M460.2,1162.4a3.7,3.3 0 1,0 7.4,0a3.7,3.3 0 1,0 -7.4,0M500.9,1170.6a3.7,3.3 0 1,0 7.4,0a3.7,3.3 0 1,0 -7.4,0M442.8,1179.4a3.7,3.3 0 1,0 7.4,0a3.7,3.3 0 1,0 -7.4,0M461.7,1170.2a3.7,3.3 0 1,0 7.4,0a3.7,3.3 0 1,0 -7.4,0M521.3,1148.2a3.7,3.3 0 1,0 7.4,0a3.7,3.3 0 1,0 -7.4,0M453.6,1185.6a3.7,3.3 0 1,0 7.4,0a3.7,3.3 0 1,0 -7.4,0M454.1,1126.2a3.7,3.3 0 1,0 7.4,0a3.7,3.3 0 1,0 -7.4,0M463.1,1142.1a3.7,3.3 0 1,0 7.4,0a3.7,3.3 0 1,0 -7.4,0M462.7,1157.4a3.7,3.3 0 1,0 7.4,0a3.7,3.3 0 1,0 -7.4,0M450.5,1164.0a3.7,3.3 0 1,0 7.4,0a3.7,3.3 0 1,0 -7.4,0M457.8,1153.4a3.7,3.3 0 1,0 7.4,0a3.7,3.3 0 1,0 -7.4,0M456.0,1159.4a3.7,3.3 0 1,0 7.4,0a3.7,3.3 0 1,0 -7.4,0M519.1,1146.2a3.7,3.3 0 1,0 7.4,0a3.7,3.3 0 1,0 -7.4,0M478.5,1126.5a3.7,3.3 0 1,0 7.4,0a3.7,3.3 0 1,0 -7.4,0M496.9,1130.8a3.7,3.3 0 1,0 7.4,0a3.7,3.3 0 1,0 -7.4,0M455.0,1147.6a3.7,3.3 0 1,0 7.4,0a3.7,3.3 0 1,0 -7.4,0M491.0,1111.3a3.7,3.3 0 1,0 7.4,0a3.7,3.3 0 1,0 -7.4,0M510.9,1154.1a3.7,3.3 0 1,0 7.4,0a3.7,3.3 0 1,0 -7.4,0M498.6,1160.5a3.7,3.3 0 1,0 7.4,0a3.7,3.3 0 1,0 -7.4,0M490.2,1150.8a3.7,3.3 0 1,0 7.4,0a3.7,3.3 0 1,0 -7.4,0M505.6,1166.3a3.7,3.3 0 1,0 7.4,0a3.7,3.3 0 1,0 -7.4,0M490.4,1163.6a3.7,3.3 0 1,0 7.4,0a3.7,3.3 0 1,0 -7.4,0M420.8,1207.9a3.7,3.3 0 1,0 7.4,0a3.7,3.3 0 1,0 -7.4,0M491.6,1122.1a3.7,3.3 0 1,0 7.4,0a3.7,3.3 0 1,0 -7.4,0M464.7,1153.9a3.7,3.3 0 1,0 7.4,0a3.7,3.3 0 1,0 -7.4,0M464.8,1120.7a3.7,3.3 0 1,0 7.4,0a3.7,3.3 0 1,0 -7.4,0M498.1,1127.5a3.7,3.3 0 1,0 7.4,0a3.7,3.3 0 1,0 -7.4,0M488.3,1158.5a3.7,3.3 0 1,0 7.4,0a3.7,3.3 0 1,0 -7.4,0M470.1,1143.2a3.7,3.3 0 1,0 7.4,0a3.7,3.3 0 1,0 -7.4,0M454.8,1131.1a3.7,3.3 0 1,0 7.4,0a3.7,3.3 0 1,0 -7.4,0M472.7,1120.0a3.7,3.3 0 1,0 7.4,0a3.7,3.3 0 1,0 -7.4,0M490.1,1128.3a3.7,3.3 0 1,0 7.4,0a3.7,3.3 0 1,0 -7.4,0M428.9,1191.8a3.7,3.3 0 1,0 7.4,0a3.7,3.3 0 1,0 -7.4,0M454.1,1169.3a3.7,3.3 0 1,0 7.4,0a3.7,3.3 0 1,0 -7.4,0M497.6,1154.6a3.7,3.3 0 1,0 7.4,0a3.7,3.3 0 1,0 -7.4,0M437.9,1204.0a3.7,3.3 0 1,0 7.4,0a3.7,3.3 0 1,0 -7.4,0M438.3,1202.1a3.7,3.3 0 1,0 7.4,0a3.7,3.3 0 1,0 -7.4,0M462.0,1151.7a3.7,3.3 0 1,0 7.4,0a3.7,3.3 0 1,0 -7.4,0M473.0,1146.2a3.7,3.3 0 1,0 7.4,0a3.7,3.3 0 1,0 -7.4,0M432.1,1186.8a3.7,3.3 0 1,0 7.4,0a3.7,3.3 0 1,0 -7.4,0M461.1,1138.4a3.7,3.3 0 1,0 7.4,0a3.7,3.3 0 1,0 -7.4,0M485.0,1147.3a3.7,3.3 0 1,0 7.4,0a3.7,3.3 0 1,0 -7.4,0M446.4,1149.1a3.7,3.3 0 1,0 7.4,0a3.7,3.3 0 1,0 -7.4,0M436.4,1188.4a3.7,3.3 0 1,0 7.4,0a3.7,3.3 0 1,0 -7.4,0M453.5,1162.1a3.7,3.3 0 1,0 7.4,0a3.7,3.3 0 1,0 -7.4,0M441.0,1165.1a3.7,3.3 0 1,0 7.4,0a3.7,3.3 0 1,0 -7.4,0M444.0,1168.4a3.7,3.3 0 1,0 7.4,0a3.7,3.3 0 1,0 -7.4,0M440.9,1190.2a3.7,3.3 0 1,0 7.4,0a3.7,3.3 0 1,0 -7.4,0M510.2,1168.1a3.7,3.3 0 1,0 7.4,0a3.7,3.3 0 1,0 -7.4,0M479.3,1154.7a3.7,3.3 0 1,0 7.4,0a3.7,3.3 0 1,0 -7.4,0M492.6,1141.2a3.7,3.3 0 1,0 7.4,0a3.7,3.3 0 1,0 -7.4,0M456.9,1176.0a3.7,3.3 0 1,0 7.4,0a3.7,3.3 0 1,0 -7.4,0M458.0,1171.7a3.7,3.3 0 1,0 7.4,0a3.7,3.3 0 1,0 -7.4,0M458.2,1125.6a3.7,3.3 0 1,0 7.4,0a3.7,3.3 0 1,0 -7.4,0M490.6,1121.4a3.7,3.3 0 1,0 7.4,0a3.7,3.3 0 1,0 -7.4,0M462.4,1148.7a3.7,3.3 0 1,0 7.4,0a3.7,3.3 0 1,0 -7.4,0M445.8,1164.3a3.7,3.3 0 1,0 7.4,0a3.7,3.3 0 1,0 -7.4,0M512.4,1165.5a3.7,3.3 0 1,0 7.4,0a3.7,3.3 0 1,0 -7.4,0M504.4,1160.4a3.7,3.3 0 1,0 7.4,0a3.7,3.3 0 1,0 -7.4,0M444.5,1147.7a3.7,3.3 0 1,0 7.4,0a3.7,3.3 0 1,0 -7.4,0M450.9,1171.8a3.7,3.3 0 1,0 7.4,0a3.7,3.3 0 1,0 -7.4,0M500.7,1173.4a3.7,3.3 0 1,0 7.4,0a3.7,3.3 0 1,0 -7.4,0M458.2,1143.9a3.7,3.3 0 1,0 7.4,0a3.7,3.3 0 1,0 -7.4,0M455.6,1177.8a3.7,3.3 0 1,0 7.4,0a3.7,3.3 0 1,0 -7.4,0M457.2,1192.7a3.7,3.3 0 1,0 7.4,0a3.7,3.3 0 1,0 -7.4,0M492.2,1132.1a3.7,3.3 0 1,0 7.4,0a3.7,3.3 0 1,0 -7.4,0M462.6,1132.0a3.7,3.3 0 1,0 7.4,0a3.7,3.3 0 1,0 -7.4,0M436.4,1203.5a3.7,3.3 0 1,0 7.4,0a3.7,3.3 0 1,0 -7.4,0M467.3,1136.2a3.7,3.3 0 1,0 7.4,0a3.7,3.3 0 1,0 -7.4,0M442.1,1166.4a3.7,3.3 0 1,0 7.4,0a3.7,3.3 0 1,0 -7.4,0M433.1,1191.6a3.7,3.3 0 1,0 7.4,0a3.7,3.3 0 1,0 -7.4,0M498.7,1142.9a3.7,3.3 0 1,0 7.4,0a3.7,3.3 0 1,0 -7.4,0M500.6,1166.3a3.7,3.3 0 1,0 7.4,0a3.7,3.3 0 1,0 -7.4,0M504.1,1122.6a3.7,3.3 0 1,0 7.4,0a3.7,3.3 0 1,0 -7.4,0M503.4,1127.8a3.7,3.3 0 1,0 7.4,0a3.7,3.3 0 1,0 -7.4,0M501.6,1146.9a3.7,3.3 0 1,0 7.4,0a3.7,3.3 0 1,0 -7.4,0M463.4,1129.7a3.7,3.3 0 1,0 7.4,0a3.7,3.3 0 1,0 -7.4,0M463.8,1185.9a3.7,3.3 0 1,0 7.4,0a3.7,3.3 0 1,0 -7.4,0M436.2,1204.0a3.7,3.3 0 1,0 7.4,0a3.7,3.3 0 1,0 -7.4,0M466.9,1176.8a3.7,3.3 0 1,0 7.4,0a3.7,3.3 0 1,0 -7.4,0M485.1,1175.4a3.7,3.3 0 1,0 7.4,0a3.7,3.3 0 1,0 -7.4,0M482.0,1140.3a3.7,3.3 0 1,0 7.4,0a3.7,3.3 0 1,0 -7.4,0M494.8,1141.4a3.7,3.3 0 1,0 7.4,0a3.7,3.3 0 1,0 -7.4,0M479.1,1171.1a3.7,3.3 0 1,0 7.4,0a3.7,3.3 0 1,0 -7.4,0M427.5,1188.4a3.7,3.3 0 1,0 7.4,0a3.7,3.3 0 1,0 -7.4,0M447.0,1181.1a3.7,3.3 0 1,0 7.4,0a3.7,3.3 0 1,0 -7.4,0M497.6,1134.6a3.7,3.3 0 1,0 7.4,0a3.7,3.3 0 1,0 -7.4,0M483.6,1113.7a3.7,3.3 0 1,0 7.4,0a3.7,3.3 0 1,0 -7.4,0M489.0,1156.8a3.7,3.3 0 1,0 7.4,0a3.7,3.3 0 1,0 -7.4,0M420.1,1213.8a3.7,3.3 0 1,0 7.4,0a3.7,3.3 0 1,0 -7.4,0M467.7,1170.8a3.7,3.3 0 1,0 7.4,0a3.7,3.3 0 1,0 -7.4,0M471.7,1136.4a3.7,3.3 0 1,0 7.4,0a3.7,3.3 0 1,0 -7.4,0M455.5,1175.3a3.7,3.3 0 1,0 7.4,0a3.7,3.3 0 1,0 -7.4,0M437.3,1172.9a3.7,3.3 0 1,0 7.4,0a3.7,3.3 0 1,0 -7.4,0M434.0,1189.5a3.7,3.3 0 1,0 7.4,0a3.7,3.3 0 1,0 -7.4,0M487.1,1122.2a3.7,3.3 0 1,0 7.4,0a3.7,3.3 0 1,0 -7.4,0M471.5,1127.9a3.7,3.3 0 1,0 7.4,0a3.7,3.3 0 1,0 -7.4,0M450.3,1149.3a3.7,3.3 0 1,0 7.4,0a3.7,3.3 0 1,0 -7.4,0M431.2,1180.2a3.7,3.3 0 1,0 7.4,0a3.7,3.3 0 1,0 -7.4,0M423.4,1204.4a3.7,3.3 0 1,0 7.4,0a3.7,3.3 0 1,0 -7.4,0M428.0,1194.4a3.7,3.3 0 1,0 7.4,0a3.7,3.3 0 1,0 -7.4,0M469.2,1174.4a3.7,3.3 0 1,0 7.4,0a3.7,3.3 0 1,0 -7.4,0M495.3,1141.4a3.7,3.3 0 1,0 7.4,0a3.7,3.3 0 1,0 -7.4,0M435.7,1174.9a3.7,3.3 0 1,0 7.4,0a3.7,3.3 0 1,0 -7.4,0M507.1,1138.1a3.7,3.3 0 1,0 7.4,0a3.7,3.3 0 1,0 -7.4,0M440.3,1176.3a3.7,3.3 0 1,0 7.4,0a3.7,3.3 0 1,0 -7.4,0M458.0,1172.7a3.7,3.3 0 1,0 7.4,0a3.7,3.3 0 1,0 -7.4,0M445.0,1200.8a3.7,3.3 0 1,0 7.4,0a3.7,3.3 0 1,0 -7.4,0M506.5,1162.3a3.7,3.3 0 1,0 7.4,0a3.7,3.3 0 1,0 -7.4,0M466.1,1128.1a3.7,3.3 0 1,0 7.4,0a3.7,3.3 0 1,0 -7.4,0M487.4,1175.1a3.7,3.3 0 1,0 7.4,0a3.7,3.3 0 1,0 -7.4,0M475.1,1160.3a3.7,3.3 0 1,0 7.4,0a3.7,3.3 0 1,0 -7.4,0M454.5,1187.3a3.7,3.3 0 1,0 7.4,0a3.7,3.3 0 1,0 -7.4,0M495.1,1173.1a3.7,3.3 0 1,0 7.4,0a3.7,3.3 0 1,0 -7.4,0M459.4,1147.8a3.7,3.3 0 1,0 7.4,0a3.7,3.3 0 1,0 -7.4,0M448.6,1181.0a3.7,3.3 0 1,0 7.4,0a3.7,3.3 0 1,0 -7.4,0M463.8,1134.9a3.7,3.3 0 1,0 7.4,0a3.7,3.3 0 1,0 -7.4,0M474.1,1147.5a3.7,3.3 0 1,0 7.4,0a3.7,3.3 0 1,0 -7.4,0M488.3,1106.7a3.7,3.3 0 1,0 7.4,0a3.7,3.3 0 1,0 -7.4,0M475.9,1130.7a3.7,3.3 0 1,0 7.4,0a3.7,3.3 0 1,0 -7.4,0M466.5,1177.6a3.7,3.3 0 1,0 7.4,0a3.7,3.3 0 1,0 -7.4,0M484.2,1164.6a3.7,3.3 0 1,0 7.4,0a3.7,3.3 0 1,0 -7.4,0M518.6,1146.8a3.7,3.3 0 1,0 7.4,0a3.7,3.3 0 1,0 -7.4,0M513.7,1165.3a3.7,3.3 0 1,0 7.4,0a3.7,3.3 0 1,0 -7.4,0M491.7,1119.3a3.7,3.3 0 1,0 7.4,0a3.7,3.3 0 1,0 -7.4,0M482.9,1120.6a3.7,3.3 0 1,0 7.4,0a3.7,3.3 0 1,0 -7.4,0M460.9,1163.8a3.7,3.3 0 1,0 7.4,0a3.7,3.3 0 1,0 -7.4,0M444.9,1193.6a3.7,3.3 0 1,0 7.4,0a3.7,3.3 0 1,0 -7.4,0M421.0,1202.5a3.7,3.3 0 1,0 7.4,0a3.7,3.3 0 1,0 -7.4,0M469.1,1159.6a3.7,3.3 0 1,0 7.4,0a3.7,3.3 0 1,0 -7.4,0M475.2,1166.8a3.7,3.3 0 1,0 7.4,0a3.7,3.3 0 1,0 -7.4,0M510.6,1138.3a3.7,3.3 0 1,0 7.4,0a3.7,3.3 0 1,0 -7.4,0M447.3,1178.1a3.7,3.3 0 1,0 7.4,0a3.7,3.3 0 1,0 -7.4,0M481.2,1128.3a3.7,3.3 0 1,0 7.4,0a3.7,3.3 0 1,0 -7.4,0M497.2,1114.5a3.7,3.3 0 1,0 7.4,0a3.7,3.3 0 1,0 -7.4,0M479.1,1115.2a3.7,3.3 0 1,0 7.4,0a3.7,3.3 0 1,0 -7.4,0M502.8,1118.9a3.7,3.3 0 1,0 7.4,0a3.7,3.3 0 1,0 -7.4,0M501.0,1112.2a3.7,3.3 0 1,0 7.4,0a3.7,3.3 0 1,0 -7.4,0M440.0,1201.9a3.7,3.3 0 1,0 7.4,0a3.7,3.3 0 1,0 -7.4,0M471.2,1170.8a3.7,3.3 0 1,0 7.4,0a3.7,3.3 0 1,0 -7.4,0M464.6,1113.0a3.7,3.3 0 1,0 7.4,0a3.7,3.3 0 1,0 -7.4,0M469.0,1140.3a3.7,3.3 0 1,0 7.4,0a3.7,3.3 0 1,0 -7.4,0M478.3,1107.9a3.7,3.3 0 1,0 7.4,0a3.7,3.3 0 1,0 -7.4,0M508.1,1131.5a3.7,3.3 0 1,0 7.4,0a3.7,3.3 0 1,0 -7.4,0M446.2,1201.5a3.7,3.3 0 1,0 7.4,0a3.7,3.3 0 1,0 -7.4,0M432.7,1180.2a3.7,3.3 0 1,0 7.4,0a3.7,3.3 0 1,0 -7.4,0M517.7,1151.5a3.7,3.3 0 1,0 7.4,0a3.7,3.3 0 1,0 -7.4,0M472.9,1157.3a3.7,3.3 0 1,0 7.4,0a3.7,3.3 0 1,0 -7.4,0M471.7,1150.0a3.7,3.3 0 1,0 7.4,0a3.7,3.3 0 1,0 -7.4,0M488.5,1113.0a3.7,3.3 0 1,0 7.4,0a3.7,3.3 0 1,0 -7.4,0M488.5,1148.2a3.7,3.3 0 1,0 7.4,0a3.7,3.3 0 1,0 -7.4,0M513.9,1129.7a3.7,3.3 0 1,0 7.4,0a3.7,3.3 0 1,0 -7.4,0M470.5,1125.4a3.7,3.3 0 1,0 7.4,0a3.7,3.3 0 1,0 -7.4,0M482.8,1158.5a3.7,3.3 0 1,0 7.4,0a3.7,3.3 0 1,0 -7.4,0M453.4,1148.6a3.7,3.3 0 1,0 7.4,0a3.7,3.3 0 1,0 -7.4,0M482.3,1155.8a3.7,3.3 0 1,0 7.4,0a3.7,3.3 0 1,0 -7.4,0M470.8,1125.0a3.7,3.3 0 1,0 7.4,0a3.7,3.3 0 1,0 -7.4,0M453.8,1152.6a3.7,3.3 0 1,0 7.4,0a3.7,3.3 0 1,0 -7.4,0M480.4,1171.9a3.7,3.3 0 1,0 7.4,0a3.7,3.3 0 1,0 -7.4,0M502.8,1127.8a3.7,3.3 0 1,0 7.4,0a3.7,3.3 0 1,0 -7.4,0M501.3,1173.1a3.7,3.3 0 1,0 7.4,0a3.7,3.3 0 1,0 -7.4,0M452.8,1189.7a3.7,3.3 0 1,0 7.4,0a3.7,3.3 0 1,0 -7.4,0M453.6,1132.1a3.7,3.3 0 1,0 7.4,0a3.7,3.3 0 1,0 -7.4,0M476.2,1169.3a3.7,3.3 0 1,0 7.4,0a3.7,3.3 0 1,0 -7.4,0M475.4,1117.4a3.7,3.3 0 1,0 7.4,0a3.7,3.3 0 1,0 -7.4,0M472.4,1142.9a3.7,3.3 0 1,0 7.4,0a3.7,3.3 0 1,0 -7.4,0M521.2,1148.1a3.7,3.3 0 1,0 7.4,0a3.7,3.3 0 1,0 -7.4,0M475.0,1170.1a3.7,3.3 0 1,0 7.4,0a3.7,3.3 0 1,0 -7.4,0M463.0,1140.9a3.7,3.3 0 1,0 7.4,0a3.7,3.3 0 1,0 -7.4,0M440.9,1142.0a3.7,3.3 0 1,0 7.4,0a3.7,3.3 0 1,0 -7.4,0M469.6,1113.8a3.7,3.3 0 1,0 7.4,0a3.7,3.3 0 1,0 -7.4,0M492.0,1120.3a3.7,3.3 0 1,0 7.4,0a3.7,3.3 0 1,0 -7.4,0M460.1,1185.4a3.7,3.3 0 1,0 7.4,0a3.7,3.3 0 1,0 -7.4,0M442.4,1158.6a3.7,3.3 0 1,0 7.4,0a3.7,3.3 0 1,0 -7.4,0M451.8,1148.3a3.7,3.3 0 1,0 7.4,0a3.7,3.3 0 1,0 -7.4,0M474.5,1178.0a3.7,3.3 0 1,0 7.4,0a3.7,3.3 0 1,0 -7.4,0M483.7,1158.1a3.7,3.3 0 1,0 7.4,0a3.7,3.3 0 1,0 -7.4,0M477.2,1129.5a3.7,3.3 0 1,0 7.4,0a3.7,3.3 0 1,0 -7.4,0M492.1,1174.0a3.7,3.3 0 1,0 7.4,0a3.7,3.3 0 1,0 -7.4,0M502.4,1167.8a3.7,3.3 0 1,0 7.4,0a3.7,3.3 0 1,0 -7.4,0M484.8,1148.0a3.7,3.3 0 1,0 7.4,0a3.7,3.3 0 1,0 -7.4,0M496.1,1128.8a3.7,3.3 0 1,0 7.4,0a3.7,3.3 0 1,0 -7.4,0M461.6,1169.4a3.7,3.3 0 1,0 7.4,0a3.7,3.3 0 1,0 -7.4,0M434.5,1176.4a3.7,3.3 0 1,0 7.4,0a3.7,3.3 0 1,0 -7.4,0M449.9,1186.7a3.7,3.3 0 1,0 7.4,0a3.7,3.3 0 1,0 -7.4,0M498.9,1174.4a3.7,3.3 0 1,0 7.4,0a3.7,3.3 0 1,0 -7.4,0M429.8,1208.8a3.7,3.3 0 1,0 7.4,0a3.7,3.3 0 1,0 -7.4,0M461.2,1144.7a3.7,3.3 0 1,0 7.4,0a3.7,3.3 0 1,0 -7.4,0M448.5,1170.8a3.7,3.3 0 1,0 7.4,0a3.7,3.3 0 1,0 -7.4,0M438.0,1193.4a3.7,3.3 0 1,0 7.4,0a3.7,3.3 0 1,0 -7.4,0M478.4,1145.4a3.7,3.3 0 1,0 7.4,0a3.7,3.3 0 1,0 -7.4,0M484.5,1166.4a3.7,3.3 0 1,0 7.4,0a3.7,3.3 0 1,0 -7.4,0M502.4,1146.7a3.7,3.3 0 1,0 7.4,0a3.7,3.3 0 1,0 -7.4,0M422.7,1211.1a3.7,3.3 0 1,0 7.4,0a3.7,3.3 0 1,0 -7.4,0M479.9,1171.1a3.7,3.3 0 1,0 7.4,0a3.7,3.3 0 1,0 -7.4,0M444.1,1182.4a3.7,3.3 0 1,0 7.4,0a3.7,3.3 0 1,0 -7.4,0M449.6,1142.0a3.7,3.3 0 1,0 7.4,0a3.7,3.3 0 1,0 -7.4,0M451.1,1161.0a3.7,3.3 0 1,0 7.4,0a3.7,3.3 0 1,0 -7.4,0M468.6,1183.3a3.7,3.3 0 1,0 7.4,0a3.7,3.3 0 1,0 -7.4,0M503.2,1159.2a3.7,3.3 0 1,0 7.4,0a3.7,3.3 0 1,0 -7.4,0M519.5,1152.3a3.7,3.3 0 1,0 7.4,0a3.7,3.3 0 1,0 -7.4,0M467.5,1144.0a3.7,3.3 0 1,0 7.4,0a3.7,3.3 0 1,0 -7.4,0M431.0,1184.5a3.7,3.3 0 1,0 7.4,0a3.7,3.3 0 1,0 -7.4,0M514.3,1140.7a3.7,3.3 0 1,0 7.4,0a3.7,3.3 0 1,0 -7.4,0M429.8,1196.2a3.7,3.3 0 1,0 7.4,0a3.7,3.3 0 1,0 -7.4,0M458.9,1124.7a3.7,3.3 0 1,0 7.4,0a3.7,3.3 0 1,0 -7.4,0M460.6,1123.0a3.7,3.3 0 1,0 7.4,0a3.7,3.3 0 1,0 -7.4,0M435.1,1202.1a3.7,3.3 0 1,0 7.4,0a3.7,3.3 0 1,0 -7.4,0M450.5,1151.0a3.7,3.3 0 1,0 7.4,0a3.7,3.3 0 1,0 -7.4,0M438.8,1171.8a3.7,3.3 0 1,0 7.4,0a3.7,3.3 0 1,0 -7.4,0M462.2,1136.6a3.7,3.3 0 1,0 7.4,0a3.7,3.3 0 1,0 -7.4,0M487.5,1156.5a3.7,3.3 0 1,0 7.4,0a3.7,3.3 0 1,0 -7.4,0M462.2,1137.0a3.7,3.3 0 1,0 7.4,0a3.7,3.3 0 1,0 -7.4,0M505.6,1140.8a3.7,3.3 0 1,0 7.4,0a3.7,3.3 0 1,0 -7.4,0M489.7,1119.3a3.7,3.3 0 1,0 7.4,0a3.7,3.3 0 1,0 -7.4,0M433.8,1208.9a3.7,3.3 0 1,0 7.4,0a3.7,3.3 0 1,0 -7.4,0M488.1,1153.7a3.7,3.3 0 1,0 7.4,0a3.7,3.3 0 1,0 -7.4,0M482.2,1128.3a3.7,3.3 0 1,0 7.4,0a3.7,3.3 0 1,0 -7.4,0M447.2,1163.6a3.7,3.3 0 1,0 7.4,0a3.7,3.3 0 1,0 -7.4,0M429.6,1205.5a3.7,3.3 0 1,0 7.4,0a3.7,3.3 0 1,0 -7.4,0M466.7,1164.4a3.7,3.3 0 1,0 7.4,0a3.7,3.3 0 1,0 -7.4,0M469.8,1139.0a3.7,3.3 0 1,0 7.4,0a3.7,3.3 0 1,0 -7.4,0M497.2,1133.6a3.7,3.3 0 1,0 7.4,0a3.7,3.3 0 1,0 -7.4,0M509.1,1168.7a3.7,3.3 0 1,0 7.4,0a3.7,3.3 0 1,0 -7.4,0M478.0,1119.9a3.7,3.3 0 1,0 7.4,0a3.7,3.3 0 1,0 -7.4,0M481.2,1115.7a3.7,3.3 0 1,0 7.4,0a3.7,3.3 0 1,0 -7.4,0M516.4,1138.3a3.7,3.3 0 1,0 7.4,0a3.7,3.3 0 1,0 -7.4,0M444.8,1180.2a3.7,3.3 0 1,0 7.4,0a3.7,3.3 0 1,0 -7.4,0M444.2,1153.5a3.7,3.3 0 1,0 7.4,0a3.7,3.3 0 1,0 -7.4,0M491.1,1168.1a3.7,3.3 0 1,0 7.4,0a3.7,3.3 0 1,0 -7.4,0M495.4,1136.1a3.7,3.3 0 1,0 7.4,0a3.7,3.3 0 1,0 -7.4,0M454.2,1151.7a3.7,3.3 0 1,0 7.4,0a3.7,3.3 0 1,0 -7.4,0M485.6,1113.3a3.7,3.3 0 1,0 7.4,0a3.7,3.3 0 1,0 -7.4,0M521.9,1154.3a3.7,3.3 0 1,0 7.4,0a3.7,3.3 0 1,0 -7.4,0M509.2,1142.2a3.7,3.3 0 1,0 7.4,0a3.7,3.3 0 1,0 -7.4,0M496.7,1160.7a3.7,3.3 0 1,0 7.4,0a3.7,3.3 0 1,0 -7.4,0M439.9,1202.0a3.7,3.3 0 1,0 7.4,0a3.7,3.3 0 1,0 -7.4,0M443.7,1191.3a3.7,3.3 0 1,0 7.4,0a3.7,3.3 0 1,0 -7.4,0M440.4,1186.3a3.7,3.3 0 1,0 7.4,0a3.7,3.3 0 1,0 -7.4,0M447.1,1141.2a3.7,3.3 0 1,0 7.4,0a3.7,3.3 0 1,0 -7.4,0M482.2,1143.8a3.7,3.3 0 1,0 7.4,0a3.7,3.3 0 1,0 -7.4,0M502.1,1122.1a3.7,3.3 0 1,0 7.4,0a3.7,3.3 0 1,0 -7.4,0M464.1,1141.7a3.7,3.3 0 1,0 7.4,0a3.7,3.3 0 1,0 -7.4,0M510.4,1123.6a3.7,3.3 0 1,0 7.4,0a3.7,3.3 0 1,0 -7.4,0M457.3,1172.5a3.7,3.3 0 1,0 7.4,0a3.7,3.3 0 1,0 -7.4,0M465.4,1181.2a3.7,3.3 0 1,0 7.4,0a3.7,3.3 0 1,0 -7.4,0M458.9,1141.3a3.7,3.3 0 1,0 7.4,0a3.7,3.3 0 1,0 -7.4,0M469.7,1155.9a3.7,3.3 0 1,0 7.4,0a3.7,3.3 0 1,0 -7.4,0M493.9,1154.2a3.7,3.3 0 1,0 7.4,0a3.7,3.3 0 1,0 -7.4,0M488.1,1149.4a3.7,3.3 0 1,0 7.4,0a3.7,3.3 0 1,0 -7.4,0M461.5,1122.9a3.7,3.3 0 1,0 7.4,0a3.7,3.3 0 1,0 -7.4,0M471.0,1150.7a3.7,3.3 0 1,0 7.4,0a3.7,3.3 0 1,0 -7.4,0M493.3,1147.5a3.7,3.3 0 1,0 7.4,0a3.7,3.3 0 1,0 -7.4,0M515.1,1154.7a3.7,3.3 0 1,0 7.4,0a3.7,3.3 0 1,0 -7.4,0M506.2,1119.9a3.7,3.3 0 1,0 7.4,0a3.7,3.3 0 1,0 -7.4,0M513.7,1137.1a3.7,3.3 0 1,0 7.4,0a3.7,3.3 0 1,0 -7.4,0M507.3,1141.4a3.7,3.3 0 1,0 7.4,0a3.7,3.3 0 1,0 -7.4,0M449.5,1187.2a3.7,3.3 0 1,0 7.4,0a3.7,3.3 0 1,0 -7.4,0M476.0,1141.1a3.7,3.3 0 1,0 7.4,0a3.7,3.3 0 1,0 -7.4,0M458.5,1176.6a3.7,3.3 0 1,0 7.4,0a3.7,3.3 0 1,0 -7.4,0M512.6,1143.9a3.7,3.3 0 1,0 7.4,0a3.7,3.3 0 1,0 -7.4,0M492.2,1115.9a3.7,3.3 0 1,0 7.4,0a3.7,3.3 0 1,0 -7.4,0M470.6,1167.3a3.7,3.3 0 1,0 7.4,0a3.7,3.3 0 1,0 -7.4,0M451.5,1152.7a3.7,3.3 0 1,0 7.4,0a3.7,3.3 0 1,0 -7.4,0M513.8,1149.1a3.7,3.3 0 1,0 7.4,0a3.7,3.3 0 1,0 -7.4,0M490.1,1143.5a3.7,3.3 0 1,0 7.4,0a3.7,3.3 0 1,0 -7.4,0M436.8,1200.0a3.7,3.3 0 1,0 7.4,0a3.7,3.3 0 1,0 -7.4,0M461.3,1168.3a3.7,3.3 0 1,0 7.4,0a3.7,3.3 0 1,0 -7.4,0M463.6,1115.8a3.7,3.3 0 1,0 7.4,0a3.7,3.3 0 1,0 -7.4,0M519.8,1156.8a3.7,3.3 0 1,0 7.4,0a3.7,3.3 0 1,0 -7.4,0M481.2,1127.8a3.7,3.3 0 1,0 7.4,0a3.7,3.3 0 1,0 -7.4,0M496.9,1171.3a3.7,3.3 0 1,0 7.4,0a3.7,3.3 0 1,0 -7.4,0M439.5,1171.6a3.7,3.3 0 1,0 7.4,0a3.7,3.3 0 1,0 -7.4,0M447.5,1183.9a3.7,3.3 0 1,0 7.4,0a3.7,3.3 0 1,0 -7.4,0M476.7,1115.3a3.7,3.3 0 1,0 7.4,0a3.7,3.3 0 1,0 -7.4,0M471.3,1165.5a3.7,3.3 0 1,0 7.4,0a3.7,3.3 0 1,0 -7.4,0M436.3,1163.5a3.7,3.3 0 1,0 7.4,0a3.7,3.3 0 1,0 -7.4,0M456.2,1145.4a3.7,3.3 0 1,0 7.4,0a3.7,3.3 0 1,0 -7.4,0M484.4,1146.7a3.7,3.3 0 1,0 7.4,0a3.7,3.3 0 1,0 -7.4,0M460.2,1176.8a3.7,3.3 0 1,0 7.4,0a3.7,3.3 0 1,0 -7.4,0M469.4,1145.3a3.7,3.3 0 1,0 7.4,0a3.7,3.3 0 1,0 -7.4,0M454.7,1195.3a3.7,3.3 0 1,0 7.4,0a3.7,3.3 0 1,0 -7.4,0M497.2,1125.1a3.7,3.3 0 1,0 7.4,0a3.7,3.3 0 1,0 -7.4,0M519.0,1145.6a3.7,3.3 0 1,0 7.4,0a3.7,3.3 0 1,0 -7.4,0M456.6,1165.2a3.7,3.3 0 1,0 7.4,0a3.7,3.3 0 1,0 -7.4,0M472.6,1156.6a3.7,3.3 0 1,0 7.4,0a3.7,3.3 0 1,0 -7.4,0M468.6,1126.0a3.7,3.3 0 1,0 7.4,0a3.7,3.3 0 1,0 -7.4,0M491.4,1117.2a3.7,3.3 0 1,0 7.4,0a3.7,3.3 0 1,0 -7.4,0M469.2,1138.9a3.7,3.3 0 1,0 7.4,0a3.7,3.3 0 1,0 -7.4,0M442.0,1175.3a3.7,3.3 0 1,0 7.4,0a3.7,3.3 0 1,0 -7.4,0M446.2,1179.2a3.7,3.3 0 1,0 7.4,0a3.7,3.3 0 1,0 -7.4,0M442.9,1201.7a3.7,3.3 0 1,0 7.4,0a3.7,3.3 0 1,0 -7.4,0M468.5,1180.8a3.7,3.3 0 1,0 7.4,0a3.7,3.3 0 1,0 -7.4,0M466.1,1130.3a3.7,3.3 0 1,0 7.4,0a3.7,3.3 0 1,0 -7.4,0M451.2,1132.8a3.7,3.3 0 1,0 7.4,0a3.7,3.3 0 1,0 -7.4,0M496.2,1127.3a3.7,3.3 0 1,0 7.4,0a3.7,3.3 0 1,0 -7.4,0M439.1,1191.4a3.7,3.3 0 1,0 7.4,0a3.7,3.3 0 1,0 -7.4,0M495.0,1162.2a3.7,3.3 0 1,0 7.4,0a3.7,3.3 0 1,0 -7.4,0M437.6,1156.4a3.7,3.3 0 1,0 7.4,0a3.7,3.3 0 1,0 -7.4,0M436.9,1160.6a3.7,3.3 0 1,0 7.4,0a3.7,3.3 0 1,0 -7.4,0M476.0,1147.5a3.7,3.3 0 1,0 7.4,0a3.7,3.3 0 1,0 -7.4,0M437.4,1206.8a3.7,3.3 0 1,0 7.4,0a3.7,3.3 0 1,0 -7.4,0M454.4,1193.0a3.7,3.3 0 1,0 7.4,0a3.7,3.3 0 1,0 -7.4,0M500.3,1128.0a3.7,3.3 0 1,0 7.4,0a3.7,3.3 0 1,0 -7.4,0M443.6,1183.8a3.7,3.3 0 1,0 7.4,0a3.7,3.3 0 1,0 -7.4,0M480.0,1158.2a3.7,3.3 0 1,0 7.4,0a3.7,3.3 0 1,0 -7.4,0M470.4,1169.6a3.7,3.3 0 1,0 7.4,0a3.7,3.3 0 1,0 -7.4,0M436.3,1179.5a3.7,3.3 0 1,0 7.4,0a3.7,3.3 0 1,0 -7.4,0M449.7,1176.9a3.7,3.3 0 1,0 7.4,0a3.7,3.3 0 1,0 -7.4,0M468.6,1180.0a3.7,3.3 0 1,0 7.4,0a3.7,3.3 0 1,0 -7.4,0M501.1,1151.0a3.7,3.3 0 1,0 7.4,0a3.7,3.3 0 1,0 -7.4,0M458.0,1136.3a3.7,3.3 0 1,0 7.4,0a3.7,3.3 0 1,0 -7.4,0M467.8,1123.1a3.7,3.3 0 1,0 7.4,0a3.7,3.3 0 1,0 -7.4,0M475.3,1147.7a3.7,3.3 0 1,0 7.4,0a3.7,3.3 0 1,0 -7.4,0M430.9,1206.3a3.7,3.3 0 1,0 7.4,0a3.7,3.3 0 1,0 -7.4,0M459.8,1157.2a3.7,3.3 0 1,0 7.4,0a3.7,3.3 0 1,0 -7.4,0M478.7,1112.5a3.7,3.3 0 1,0 7.4,0a3.7,3.3 0 1,0 -7.4,0M444.4,1157.2a3.7,3.3 0 1,0 7.4,0a3.7,3.3 0 1,0 -7.4,0M494.8,1123.2a3.7,3.3 0 1,0 7.4,0a3.7,3.3 0 1,0 -7.4,0M480.5,1173.9a3.7,3.3 0 1,0 7.4,0a3.7,3.3 0 1,0 -7.4,0M441.0,1165.4a3.7,3.3 0 1,0 7.4,0a3.7,3.3 0 1,0 -7.4,0M508.9,1132.1a3.7,3.3 0 1,0 7.4,0a3.7,3.3 0 1,0 -7.4,0M470.6,1149.3a3.7,3.3 0 1,0 7.4,0a3.7,3.3 0 1,0 -7.4,0M517.2,1160.5a3.7,3.3 0 1,0 7.4,0a3.7,3.3 0 1,0 -7.4,0M475.3,1176.1a3.7,3.3 0 1,0 7.4,0a3.7,3.3 0 1,0 -7.4,0M489.1,1169.6a3.7,3.3 0 1,0 7.4,0a3.7,3.3 0 1,0 -7.4,0M456.4,1151.3a3.7,3.3 0 1,0 7.4,0a3.7,3.3 0 1,0 -7.4,0M465.5,1118.2a3.7,3.3 0 1,0 7.4,0a3.7,3.3 0 1,0 -7.4,0M452.7,1158.0a3.7,3.3 0 1,0 7.4,0a3.7,3.3 0 1,0 -7.4,0M464.4,1146.7a3.7,3.3 0 1,0 7.4,0a3.7,3.3 0 1,0 -7.4,0M491.6,1129.1a3.7,3.3 0 1,0 7.4,0a3.7,3.3 0 1,0 -7.4,0M492.8,1115.0a3.7,3.3 0 1,0 7.4,0a3.7,3.3 0 1,0 -7.4,0M482.6,1137.9a3.7,3.3 0 1,0 7.4,0a3.7,3.3 0 1,0 -7.4,0M490.4,1144.3a3.7,3.3 0 1,0 7.4,0a3.7,3.3 0 1,0 -7.4,0M449.9,1175.2a3.7,3.3 0 1,0 7.4,0a3.7,3.3 0 1,0 -7.4,0M490.2,1130.2a3.7,3.3 0 1,0 7.4,0a3.7,3.3 0 1,0 -7.4,0M500.4,1148.6a3.7,3.3 0 1,0 7.4,0a3.7,3.3 0 1,0 -7.4,0M454.4,1161.0a3.7,3.3 0 1,0 7.4,0a3.7,3.3 0 1,0 -7.4,0M482.3,1123.9a3.7,3.3 0 1,0 7.4,0a3.7,3.3 0 1,0 -7.4,0M437.3,1169.0a3.7,3.3 0 1,0 7.4,0a3.7,3.3 0 1,0 -7.4,0M518.6,1144.2a3.7,3.3 0 1,0 7.4,0a3.7,3.3 0 1,0 -7.4,0M441.7,1150.1a3.7,3.3 0 1,0 7.4,0a3.7,3.3 0 1,0 -7.4,0M510.6,1130.4a3.7,3.3 0 1,0 7.4,0a3.7,3.3 0 1,0 -7.4,0M465.4,1167.3a3.7,3.3 0 1,0 7.4,0a3.7,3.3 0 1,0 -7.4,0M481.4,1124.2a3.7,3.3 0 1,0 7.4,0a3.7,3.3 0 1,0 -7.4,0M465.2,1123.2a3.7,3.3 0 1,0 7.4,0a3.7,3.3 0 1,0 -7.4,0M442.5,1196.9a3.7,3.3 0 1,0 7.4,0a3.7,3.3 0 1,0 -7.4,0M488.3,1112.8a3.7,3.3 0 1,0 7.4,0a3.7,3.3 0 1,0 -7.4,0M498.9,1152.7a3.7,3.3 0 1,0 7.4,0a3.7,3.3 0 1,0 -7.4,0M498.8,1128.0a3.7,3.3 0 1,0 7.4,0a3.7,3.3 0 1,0 -7.4,0M501.6,1153.0a3.7,3.3 0 1,0 7.4,0a3.7,3.3 0 1,0 -7.4,0M488.1,1109.7a3.7,3.3 0 1,0 7.4,0a3.7,3.3 0 1,0 -7.4,0M461.3,1116.3a3.7,3.3 0 1,0 7.4,0a3.7,3.3 0 1,0 -7.4,0M458.6,1135.6a3.7,3.3 0 1,0 7.4,0a3.7,3.3 0 1,0 -7.4,0M432.9,1186.3a3.7,3.3 0 1,0 7.4,0a3.7,3.3 0 1,0 -7.4,0M495.1,1167.9a3.7,3.3 0 1,0 7.4,0a3.7,3.3 0 1,0 -7.4,0M445.6,1169.6a3.7,3.3 0 1,0 7.4,0a3.7,3.3 0 1,0 -7.4,0M421.4,1206.9a3.7,3.3 0 1,0 7.4,0a3.7,3.3 0 1,0 -7.4,0M443.5,1154.7a3.7,3.3 0 1,0 7.4,0a3.7,3.3 0 1,0 -7.4,0M449.6,1150.1a3.7,3.3 0 1,0 7.4,0a3.7,3.3 0 1,0 -7.4,0M475.0,1112.3a3.7,3.3 0 1,0 7.4,0a3.7,3.3 0 1,0 -7.4,0M424.1,1211.1a3.7,3.3 0 1,0 7.4,0a3.7,3.3 0 1,0 -7.4,0M455.4,1137.7a3.7,3.3 0 1,0 7.4,0a3.7,3.3 0 1,0 -7.4,0M469.5,1114.3a3.7,3.3 0 1,0 7.4,0a3.7,3.3 0 1,0 -7.4,0M491.8,1159.6a3.7,3.3 0 1,0 7.4,0a3.7,3.3 0 1,0 -7.4,0M513.1,1134.1a3.7,3.3 0 1,0 7.4,0a3.7,3.3 0 1,0 -7.4,0M450.3,1184.0a3.7,3.3 0 1,0 7.4,0a3.7,3.3 0 1,0 -7.4,0M473.7,1147.5a3.7,3.3 0 1,0 7.4,0a3.7,3.3 0 1,0 -7.4,0M437.4,1167.4a3.7,3.3 0 1,0 7.4,0a3.7,3.3 0 1,0 -7.4,0M495.8,1113.7a3.7,3.3 0 1,0 7.4,0a3.7,3.3 0 1,0 -7.4,0M476.3,1110.4a3.7,3.3 0 1,0 7.4,0a3.7,3.3 0 1,0 -7.4,0M461.5,1162.1a3.7,3.3 0 1,0 7.4,0a3.7,3.3 0 1,0 -7.4,0M471.5,1115.8a3.7,3.3 0 1,0 7.4,0a3.7,3.3 0 1,0 -7.4,0M471.5,1140.9a3.7,3.3 0 1,0 7.4,0a3.7,3.3 0 1,0 -7.4,0M478.9,1159.2a3.7,3.3 0 1,0 7.4,0a3.7,3.3 0 1,0 -7.4,0M433.4,1185.0a3.7,3.3 0 1,0 7.4,0a3.7,3.3 0 1,0 -7.4,0M439.1,1170.9a3.7,3.3 0 1,0 7.4,0a3.7,3.3 0 1,0 -7.4,0M519.4,1158.6a3.7,3.3 0 1,0 7.4,0a3.7,3.3 0 1,0 -7.4,0M433.5,1190.7a3.7,3.3 0 1,0 7.4,0a3.7,3.3 0 1,0 -7.4,0M518.3,1152.4a3.7,3.3 0 1,0 7.4,0a3.7,3.3 0 1,0 -7.4,0M500.2,1131.0a3.7,3.3 0 1,0 7.4,0a3.7,3.3 0 1,0 -7.4,0M504.6,1138.9a3.7,3.3 0 1,0 7.4,0a3.7,3.3 0 1,0 -7.4,0M448.7,1152.9a3.7,3.3 0 1,0 7.4,0a3.7,3.3 0 1,0 -7.4,0M477.1,1135.7a3.7,3.3 0 1,0 7.4,0a3.7,3.3 0 1,0 -7.4,0M467.6,1149.9a3.7,3.3 0 1,0 7.4,0a3.7,3.3 0 1,0 -7.4,0M486.4,1160.8a3.7,3.3 0 1,0 7.4,0a3.7,3.3 0 1,0 -7.4,0M486.1,1168.9a3.7,3.3 0 1,0 7.4,0a3.7,3.3 0 1,0 -7.4,0M454.7,1194.1a3.7,3.3 0 1,0 7.4,0a3.7,3.3 0 1,0 -7.4,0M475.2,1166.1a3.7,3.3 0 1,0 7.4,0a3.7,3.3 0 1,0 -7.4,0M462.4,1143.3a3.7,3.3 0 1,0 7.4,0a3.7,3.3 0 1,0 -7.4,0M483.8,1127.5a3.7,3.3 0 1,0 7.4,0a3.7,3.3 0 1,0 -7.4,0M463.9,1139.7a3.7,3.3 0 1,0 7.4,0a3.7,3.3 0 1,0 -7.4,0M485.1,1155.8a3.7,3.3 0 1,0 7.4,0a3.7,3.3 0 1,0 -7.4,0M487.8,1116.8a3.7,3.3 0 1,0 7.4,0a3.7,3.3 0 1,0 -7.4,0M450.0,1159.5a3.7,3.3 0 1,0 7.4,0a3.7,3.3 0 1,0 -7.4,0M501.3,1166.3a3.7,3.3 0 1,0 7.4,0a3.7,3.3 0 1,0 -7.4,0M433.2,1191.4a3.7,3.3 0 1,0 7.4,0a3.7,3.3 0 1,0 -7.4,0M483.8,1115.7a3.7,3.3 0 1,0 7.4,0a3.7,3.3 0 1,0 -7.4,0M480.9,1152.3a3.7,3.3 0 1,0 7.4,0a3.7,3.3 0 1,0 -7.4,0M482.6,1120.0a3.7,3.3 0 1,0 7.4,0a3.7,3.3 0 1,0 -7.4,0M422.5,1205.1a3.7,3.3 0 1,0 7.4,0a3.7,3.3 0 1,0 -7.4,0M457.2,1170.1a3.7,3.3 0 1,0 7.4,0a3.7,3.3 0 1,0 -7.4,0M502.2,1157.8a3.7,3.3 0 1,0 7.4,0a3.7,3.3 0 1,0 -7.4,0M472.4,1150.1a3.7,3.3 0 1,0 7.4,0a3.7,3.3 0 1,0 -7.4,0M429.6,1191.9a3.7,3.3 0 1,0 7.4,0a3.7,3.3 0 1,0 -7.4,0M492.5,1114.4a3.7,3.3 0 1,0 7.4,0a3.7,3.3 0 1,0 -7.4,0M447.9,1150.4a3.7,3.3 0 1,0 7.4,0a3.7,3.3 0 1,0 -7.4,0M473.2,1133.1a3.7,3.3 0 1,0 7.4,0a3.7,3.3 0 1,0 -7.4,0M483.8,1112.8a3.7,3.3 0 1,0 7.4,0a3.7,3.3 0 1,0 -7.4,0M460.4,1188.9a3.7,3.3 0 1,0 7.4,0a3.7,3.3 0 1,0 -7.4,0M506.5,1167.1a3.7,3.3 0 1,0 7.4,0a3.7,3.3 0 1,0 -7.4,0M440.6,1156.7a3.7,3.3 0 1,0 7.4,0a3.7,3.3 0 1,0 -7.4,0M496.6,1119.0a3.7,3.3 0 1,0 7.4,0a3.7,3.3 0 1,0 -7.4,0M433.3,1205.0a3.7,3.3 0 1,0 7.4,0a3.7,3.3 0 1,0 -7.4,0M483.1,1119.6a3.7,3.3 0 1,0 7.4,0a3.7,3.3 0 1,0 -7.4,0M489.7,1139.6a3.7,3.3 0 1,0 7.4,0a3.7,3.3 0 1,0 -7.4,0M479.6,1111.8a3.7,3.3 0 1,0 7.4,0a3.7,3.3 0 1,0 -7.4,0M459.8,1166.3a3.7,3.3 0 1,0 7.4,0a3.7,3.3 0 1,0 -7.4,0M446.8,1182.4a3.7,3.3 0 1,0 7.4,0a3.7,3.3 0 1,0 -7.4,0M435.0,1206.9a3.7,3.3 0 1,0 7.4,0a3.7,3.3 0 1,0 -7.4,0M515.3,1150.6a3.7,3.3 0 1,0 7.4,0a3.7,3.3 0 1,0 -7.4,0M490.7,1123.2a3.7,3.3 0 1,0 7.4,0a3.7,3.3 0 1,0 -7.4,0M504.4,1155.4a3.7,3.3 0 1,0 7.4,0a3.7,3.3 0 1,0 -7.4,0M447.9,1155.5a3.7,3.3 0 1,0 7.4,0a3.7,3.3 0 1,0 -7.4,0M462.6,1155.8a3.7,3.3 0 1,0 7.4,0a3.7,3.3 0 1,0 -7.4,0M441.0,1151.3a3.7,3.3 0 1,0 7.4,0a3.7,3.3 0 1,0 -7.4,0M508.5,1169.1a3.7,3.3 0 1,0 7.4,0a3.7,3.3 0 1,0 -7.4,0M452.5,1192.8a3.7,3.3 0 1,0 7.4,0a3.7,3.3 0 1,0 -7.4,0M467.6,1122.9a3.7,3.3 0 1,0 7.4,0a3.7,3.3 0 1,0 -7.4,0M517.2,1155.7a3.7,3.3 0 1,0 7.4,0a3.7,3.3 0 1,0 -7.4,0M510.8,1131.4a3.7,3.3 0 1,0 7.4,0a3.7,3.3 0 1,0 -7.4,0M445.6,1199.4a3.7,3.3 0 1,0 7.4,0a3.7,3.3 0 1,0 -7.4,0M479.9,1124.0a3.7,3.3 0 1,0 7.4,0a3.7,3.3 0 1,0 -7.4,0M494.0,1129.6a3.7,3.3 0 1,0 7.4,0a3.7,3.3 0 1,0 -7.4,0M431.0,1185.2a3.7,3.3 0 1,0 7.4,0a3.7,3.3 0 1,0 -7.4,0M449.2,1169.3a3.7,3.3 0 1,0 7.4,0a3.7,3.3 0 1,0 -7.4,0M436.7,1164.1a3.7,3.3 0 1,0 7.4,0a3.7,3.3 0 1,0 -7.4,0M498.9,1125.6a3.7,3.3 0 1,0 7.4,0a3.7,3.3 0 1,0 -7.4,0M463.4,1129.8a3.7,3.3 0 1,0 7.4,0a3.7,3.3 0 1,0 -7.4,0M490.8,1175.1a3.7,3.3 0 1,0 7.4,0a3.7,3.3 0 1,0 -7.4,0M506.0,1121.0a3.7,3.3 0 1,0 7.4,0a3.7,3.3 0 1,0 -7.4,0M495.7,1135.0a3.7,3.3 0 1,0 7.4,0a3.7,3.3 0 1,0 -7.4,0M488.4,1175.2a3.7,3.3 0 1,0 7.4,0a3.7,3.3 0 1,0 -7.4,0M441.4,1163.7a3.7,3.3 0 1,0 7.4,0a3.7,3.3 0 1,0 -7.4,0M441.8,1147.9a3.7,3.3 0 1,0 7.4,0a3.7,3.3 0 1,0 -7.4,0M444.9,1196.1a3.7,3.3 0 1,0 7.4,0a3.7,3.3 0 1,0 -7.4,0M484.1,1165.4a3.7,3.3 0 1,0 7.4,0a3.7,3.3 0 1,0 -7.4,0M465.4,1170.2a3.7,3.3 0 1,0 7.4,0a3.7,3.3 0 1,0 -7.4,0M502.5,1159.7a3.7,3.3 0 1,0 7.4,0a3.7,3.3 0 1,0 -7.4,0M497.0,1149.4a3.7,3.3 0 1,0 7.4,0a3.7,3.3 0 1,0 -7.4,0M430.6,1202.2a3.7,3.3 0 1,0 7.4,0a3.7,3.3 0 1,0 -7.4,0M436.2,1176.3a3.7,3.3 0 1,0 7.4,0a3.7,3.3 0 1,0 -7.4,0M422.6,1207.9a3.7,3.3 0 1,0 7.4,0a3.7,3.3 0 1,0 -7.4,0M421.6,1204.3a3.7,3.3 0 1,0 7.4,0a3.7,3.3 0 1,0 -7.4,0M505.3,1162.1a3.7,3.3 0 1,0 7.4,0a3.7,3.3 0 1,0 -7.4,0M487.0,1130.7a3.7,3.3 0 1,0 7.4,0a3.7,3.3 0 1,0 -7.4,0M452.6,1159.2a3.7,3.3 0 1,0 7.4,0a3.7,3.3 0 1,0 -7.4,0M508.5,1145.8a3.7,3.3 0 1,0 7.4,0a3.7,3.3 0 1,0 -7.4,0M454.0,1173.9a3.7,3.3 0 1,0 7.4,0a3.7,3.3 0 1,0 -7.4,0M441.5,1182.8a3.7,3.3 0 1,0 7.4,0a3.7,3.3 0 1,0 -7.4,0M495.4,1151.8a3.7,3.3 0 1,0 7.4,0a3.7,3.3 0 1,0 -7.4,0M464.0,1125.0a3.7,3.3 0 1,0 7.4,0a3.7,3.3 0 1,0 -7.4,0M474.5,1172.1a3.7,3.3 0 1,0 7.4,0a3.7,3.3 0 1,0 -7.4,0M516.5,1163.6a3.7,3.3 0 1,0 7.4,0a3.7,3.3 0 1,0 -7.4,0M448.5,1144.8a3.7,3.3 0 1,0 7.4,0a3.7,3.3 0 1,0 -7.4,0M427.5,1199.5a3.7,3.3 0 1,0 7.4,0a3.7,3.3 0 1,0 -7.4,0M509.9,1137.3a3.7,3.3 0 1,0 7.4,0a3.7,3.3 0 1,0 -7.4,0M513.0,1136.5a3.7,3.3 0 1,0 7.4,0a3.7,3.3 0 1,0 -7.4,0M506.5,1122.5a3.7,3.3 0 1,0 7.4,0a3.7,3.3 0 1,0 -7.4,0M423.9,1203.4a3.7,3.3 0 1,0 7.4,0a3.7,3.3 0 1,0 -7.4,0M451.0,1163.6a3.7,3.3 0 1,0 7.4,0a3.7,3.3 0 1,0 -7.4,0M468.3,1164.6a3.7,3.3 0 1,0 7.4,0a3.7,3.3 0 1,0 -7.4,0M467.0,1167.0a3.7,3.3 0 1,0 7.4,0a3.7,3.3 0 1,0 -7.4,0M450.4,1147.7a3.7,3.3 0 1,0 7.4,0a3.7,3.3 0 1,0 -7.4,0M512.1,1156.6a3.7,3.3 0 1,0 7.4,0a3.7,3.3 0 1,0 -7.4,0M462.1,1188.5a3.7,3.3 0 1,0 7.4,0a3.7,3.3 0 1,0 -7.4,0M504.9,1121.5a3.7,3.3 0 1,0 7.4,0a3.7,3.3 0 1,0 -7.4,0M468.1,1170.1a3.7,3.3 0 1,0 7.4,0a3.7,3.3 0 1,0 -7.4,0M520.9,1145.3a3.7,3.3 0 1,0 7.4,0a3.7,3.3 0 1,0 -7.4,0M481.9,1131.9a3.7,3.3 0 1,0 7.4,0a3.7,3.3 0 1,0 -7.4,0M479.5,1146.4a3.7,3.3 0 1,0 7.4,0a3.7,3.3 0 1,0 -7.4,0M439.8,1155.9a3.7,3.3 0 1,0 7.4,0a3.7,3.3 0 1,0 -7.4,0M445.6,1142.2a3.7,3.3 0 1,0 7.4,0a3.7,3.3 0 1,0 -7.4,0M434.5,1199.2a3.7,3.3 0 1,0 7.4,0a3.7,3.3 0 1,0 -7.4,0M457.0,1120.8a3.7,3.3 0 1,0 7.4,0a3.7,3.3 0 1,0 -7.4,0M479.5,1151.1a3.7,3.3 0 1,0 7.4,0a3.7,3.3 0 1,0 -7.4,0M433.3,1199.3a3.7,3.3 0 1,0 7.4,0a3.7,3.3 0 1,0 -7.4,0M456.7,1185.1a3.7,3.3 0 1,0 7.4,0a3.7,3.3 0 1,0 -7.4,0M467.3,1138.4a3.7,3.3 0 1,0 7.4,0a3.7,3.3 0 1,0 -7.4,0M497.9,1112.7a3.7,3.3 0 1,0 7.4,0a3.7,3.3 0 1,0 -7.4,0M477.2,1117.9a3.7,3.3 0 1,0 7.4,0a3.7,3.3 0 1,0 -7.4,0M518.9,1153.7a3.7,3.3 0 1,0 7.4,0a3.7,3.3 0 1,0 -7.4,0M486.0,1171.1a3.7,3.3 0 1,0 7.4,0a3.7,3.3 0 1,0 -7.4,0M458.1,1187.3a3.7,3.3 0 1,0 7.4,0a3.7,3.3 0 1,0 -7.4,0M450.5,1131.7a3.7,3.3 0 1,0 7.4,0a3.7,3.3 0 1,0 -7.4,0M462.6,1188.9a3.7,3.3 0 1,0 7.4,0a3.7,3.3 0 1,0 -7.4,0M506.9,1138.9a3.7,3.3 0 1,0 7.4,0a3.7,3.3 0 1,0 -7.4,0M484.4,1173.5a3.7,3.3 0 1,0 7.4,0a3.7,3.3 0 1,0 -7.4,0M508.7,1159.1a3.7,3.3 0 1,0 7.4,0a3.7,3.3 0 1,0 -7.4,0M462.4,1188.7a3.7,3.3 0 1,0 7.4,0a3.7,3.3 0 1,0 -7.4,0M463.5,1138.6a3.7,3.3 0 1,0 7.4,0a3.7,3.3 0 1,0 -7.4,0M422.4,1212.8a3.7,3.3 0 1,0 7.4,0a3.7,3.3 0 1,0 -7.4,0M512.8,1143.6a3.7,3.3 0 1,0 7.4,0a3.7,3.3 0 1,0 -7.4,0M481.7,1165.4a3.7,3.3 0 1,0 7.4,0a3.7,3.3 0 1,0 -7.4,0M472.4,1129.8a3.7,3.3 0 1,0 7.4,0a3.7,3.3 0 1,0 -7.4,0M478.7,1131.7a3.7,3.3 0 1,0 7.4,0a3.7,3.3 0 1,0 -7.4,0M461.7,1114.6a3.7,3.3 0 1,0 7.4,0a3.7,3.3 0 1,0 -7.4,0M504.0,1132.9a3.7,3.3 0 1,0 7.4,0a3.7,3.3 0 1,0 -7.4,0M485.6,1155.4a3.7,3.3 0 1,0 7.4,0a3.7,3.3 0 1,0 -7.4,0M506.7,1127.1a3.7,3.3 0 1,0 7.4,0a3.7,3.3 0 1,0 -7.4,0M467.6,1135.6a3.7,3.3 0 1,0 7.4,0a3.7,3.3 0 1,0 -7.4,0M517.0,1160.0a3.7,3.3 0 1,0 7.4,0a3.7,3.3 0 1,0 -7.4,0M435.0,1184.3a3.7,3.3 0 1,0 7.4,0a3.7,3.3 0 1,0 -7.4,0M445.5,1187.7a3.7,3.3 0 1,0 7.4,0a3.7,3.3 0 1,0 -7.4,0M463.1,1125.9a3.7,3.3 0 1,0 7.4,0a3.7,3.3 0 1,0 -7.4,0M487.2,1118.9a3.7,3.3 0 1,0 7.4,0a3.7,3.3 0 1,0 -7.4,0M500.3,1137.3a3.7,3.3 0 1,0 7.4,0a3.7,3.3 0 1,0 -7.4,0M453.6,1158.6a3.7,3.3 0 1,0 7.4,0a3.7,3.3 0 1,0 -7.4,0M518.6,1158.8a3.7,3.3 0 1,0 7.4,0a3.7,3.3 0 1,0 -7.4,0M494.0,1155.0a3.7,3.3 0 1,0 7.4,0a3.7,3.3 0 1,0 -7.4,0M434.9,1181.0a3.7,3.3 0 1,0 7.4,0a3.7,3.3 0 1,0 -7.4,0M499.8,1171.8a3.7,3.3 0 1,0 7.4,0a3.7,3.3 0 1,0 -7.4,0M499.7,1132.9a3.7,3.3 0 1,0 7.4,0a3.7,3.3 0 1,0 -7.4,0M456.8,1136.0a3.7,3.3 0 1,0 7.4,0a3.7,3.3 0 1,0 -7.4,0M492.9,1147.4a3.7,3.3 0 1,0 7.4,0a3.7,3.3 0 1,0 -7.4,0M450.9,1158.0a3.7,3.3 0 1,0 7.4,0a3.7,3.3 0 1,0 -7.4,0M425.5,1192.7a3.7,3.3 0 1,0 7.4,0a3.7,3.3 0 1,0 -7.4,0M519.5,1146.6a3.7,3.3 0 1,0 7.4,0a3.7,3.3 0 1,0 -7.4,0M449.9,1190.6a3.7,3.3 0 1,0 7.4,0a3.7,3.3 0 1,0 -7.4,0M502.0,1138.8a3.7,3.3 0 1,0 7.4,0a3.7,3.3 0 1,0 -7.4,0M492.2,1172.1a3.7,3.3 0 1,0 7.4,0a3.7,3.3 0 1,0 -7.4,0M433.1,1202.5a3.7,3.3 0 1,0 7.4,0a3.7,3.3 0 1,0 -7.4,0M423.9,1205.7a3.7,3.3 0 1,0 7.4,0a3.7,3.3 0 1,0 -7.4,0M474.9,1157.1a3.7,3.3 0 1,0 7.4,0a3.7,3.3 0 1,0 -7.4,0M463.0,1136.1a3.7,3.3 0 1,0 7.4,0a3.7,3.3 0 1,0 -7.4,0M438.8,1177.5a3.7,3.3 0 1,0 7.4,0a3.7,3.3 0 1,0 -7.4,0M446.2,1169.8a3.7,3.3 0 1,0 7.4,0a3.7,3.3 0 1,0 -7.4,0M494.9,1125.5a3.7,3.3 0 1,0 7.4,0a3.7,3.3 0 1,0 -7.4,0M433.5,1209.0a3.7,3.3 0 1,0 7.4,0a3.7,3.3 0 1,0 -7.4,0M469.8,1161.7a3.7,3.3 0 1,0 7.4,0a3.7,3.3 0 1,0 -7.4,0M485.9,1152.6a3.7,3.3 0 1,0 7.4,0a3.7,3.3 0 1,0 -7.4,0M441.7,1142.9a3.7,3.3 0 1,0 7.4,0a3.7,3.3 0 1,0 -7.4,0M509.7,1161.2a3.7,3.3 0 1,0 7.4,0a3.7,3.3 0 1,0 -7.4,0M488.3,1160.6a3.7,3.3 0 1,0 7.4,0a3.7,3.3 0 1,0 -7.4,0M474.0,1165.3a3.7,3.3 0 1,0 7.4,0a3.7,3.3 0 1,0 -7.4,0M445.7,1138.4a3.7,3.3 0 1,0 7.4,0a3.7,3.3 0 1,0 -7.4,0M517.3,1148.7a3.7,3.3 0 1,0 7.4,0a3.7,3.3 0 1,0 -7.4,0M495.4,1172.6a3.7,3.3 0 1,0 7.4,0a3.7,3.3 0 1,0 -7.4,0M474.3,1142.6a3.7,3.3 0 1,0 7.4,0a3.7,3.3 0 1,0 -7.4,0M509.7,1165.8a3.7,3.3 0 1,0 7.4,0a3.7,3.3 0 1,0 -7.4,0M453.6,1144.1a3.7,3.3 0 1,0 7.4,0a3.7,3.3 0 1,0 -7.4,0M431.2,1184.7a3.7,3.3 0 1,0 7.4,0a3.7,3.3 0 1,0 -7.4,0M481.8,1111.4a3.7,3.3 0 1,0 7.4,0a3.7,3.3 0 1,0 -7.4,0M441.5,1187.3a3.7,3.3 0 1,0 7.4,0a3.7,3.3 0 1,0 -7.4,0M501.1,1144.2a3.7,3.3 0 1,0 7.4,0a3.7,3.3 0 1,0 -7.4,0M447.2,1148.3a3.7,3.3 0 1,0 7.4,0a3.7,3.3 0 1,0 -7.4,0M454.6,1171.0a3.7,3.3 0 1,0 7.4,0a3.7,3.3 0 1,0 -7.4,0M432.5,1183.2a3.7,3.3 0 1,0 7.4,0a3.7,3.3 0 1,0 -7.4,0M452.6,1195.4a3.7,3.3 0 1,0 7.4,0a3.7,3.3 0 1,0 -7.4,0M467.0,1175.7a3.7,3.3 0 1,0 7.4,0a3.7,3.3 0 1,0 -7.4,0M505.8,1131.6a3.7,3.3 0 1,0 7.4,0a3.7,3.3 0 1,0 -7.4,0M448.3,1182.0a3.7,3.3 0 1,0 7.4,0a3.7,3.3 0 1,0 -7.4,0M437.2,1198.1a3.7,3.3 0 1,0 7.4,0a3.7,3.3 0 1,0 -7.4,0M502.4,1167.3a3.7,3.3 0 1,0 7.4,0a3.7,3.3 0 1,0 -7.4,0M514.1,1144.9a3.7,3.3 0 1,0 7.4,0a3.7,3.3 0 1,0 -7.4,0M452.1,1157.2a3.7,3.3 0 1,0 7.4,0a3.7,3.3 0 1,0 -7.4,0M499.5,1143.3a3.7,3.3 0 1,0 7.4,0a3.7,3.3 0 1,0 -7.4,0M501.0,1156.4a3.7,3.3 0 1,0 7.4,0a3.7,3.3 0 1,0 -7.4,0M484.3,1157.6a3.7,3.3 0 1,0 7.4,0a3.7,3.3 0 1,0 -7.4,0M486.3,1152.3a3.7,3.3 0 1,0 7.4,0a3.7,3.3 0 1,0 -7.4,0M441.6,1186.2a3.7,3.3 0 1,0 7.4,0a3.7,3.3 0 1,0 -7.4,0M423.6,1196.5a3.7,3.3 0 1,0 7.4,0a3.7,3.3 0 1,0 -7.4,0M480.0,1117.4a3.7,3.3 0 1,0 7.4,0a3.7,3.3 0 1,0 -7.4,0M451.0,1140.8a3.7,3.3 0 1,0 7.4,0a3.7,3.3 0 1,0 -7.4,0M470.4,1125.3a3.7,3.3 0 1,0 7.4,0a3.7,3.3 0 1,0 -7.4,0M511.8,1167.9a3.7,3.3 0 1,0 7.4,0a3.7,3.3 0 1,0 -7.4,0M469.1,1132.9a3.7,3.3 0 1,0 7.4,0a3.7,3.3 0 1,0 -7.4,0M469.9,1163.5a3.7,3.3 0 1,0 7.4,0a3.7,3.3 0 1,0 -7.4,0M454.1,1142.8a3.7,3.3 0 1,0 7.4,0a3.7,3.3 0 1,0 -7.4,0M428.8,1185.5a3.7,3.3 0 1,0 7.4,0a3.7,3.3 0 1,0 -7.4,0M453.0,1146.9a3.7,3.3 0 1,0 7.4,0a3.7,3.3 0 1,0 -7.4,0M486.1,1150.1a3.7,3.3 0 1,0 7.4,0a3.7,3.3 0 1,0 -7.4,0M513.3,1129.3a3.7,3.3 0 1,0 7.4,0a3.7,3.3 0 1,0 -7.4,0M514.2,1143.3a3.7,3.3 0 1,0 7.4,0a3.7,3.3 0 1,0 -7.4,0M464.9,1132.8a3.7,3.3 0 1,0 7.4,0a3.7,3.3 0 1,0 -7.4,0M492.7,1113.7a3.7,3.3 0 1,0 7.4,0a3.7,3.3 0 1,0 -7.4,0M487.3,1168.6a3.7,3.3 0 1,0 7.4,0a3.7,3.3 0 1,0 -7.4,0M495.3,1148.5a3.7,3.3 0 1,0 7.4,0a3.7,3.3 0 1,0 -7.4,0M442.2,1143.2a3.7,3.3 0 1,0 7.4,0a3.7,3.3 0 1,0 -7.4,0M456.5,1148.8a3.7,3.3 0 1,0 7.4,0a3.7,3.3 0 1,0 -7.4,0M477.5,1111.8a3.7,3.3 0 1,0 7.4,0a3.7,3.3 0 1,0 -7.4,0M466.5,1130.7a3.7,3.3 0 1,0 7.4,0a3.7,3.3 0 1,0 -7.4,0M457.6,1133.4a3.7,3.3 0 1,0 7.4,0a3.7,3.3 0 1,0 -7.4,0M455.3,1156.5a3.7,3.3 0 1,0 7.4,0a3.7,3.3 0 1,0 -7.4,0M445.3,1182.1a3.7,3.3 0 1,0 7.4,0a3.7,3.3 0 1,0 -7.4,0M426.8,1189.9a3.7,3.3 0 1,0 7.4,0a3.7,3.3 0 1,0 -7.4,0M464.5,1149.6a3.7,3.3 0 1,0 7.4,0a3.7,3.3 0 1,0 -7.4,0M470.6,1121.9a3.7,3.3 0 1,0 7.4,0a3.7,3.3 0 1,0 -7.4,0M460.5,1155.6a3.7,3.3 0 1,0 7.4,0a3.7,3.3 0 1,0 -7.4,0M447.1,1184.0a3.7,3.3 0 1,0 7.4,0a3.7,3.3 0 1,0 -7.4,0M441.1,1188.4a3.7,3.3 0 1,0 7.4,0a3.7,3.3 0 1,0 -7.4,0M472.8,1114.8a3.7,3.3 0 1,0 7.4,0a3.7,3.3 0 1,0 -7.4,0M503.5,1120.3a3.7,3.3 0 1,0 7.4,0a3.7,3.3 0 1,0 -7.4,0M441.3,1199.2a3.7,3.3 0 1,0 7.4,0a3.7,3.3 0 1,0 -7.4,0M508.8,1133.4a3.7,3.3 0 1,0 7.4,0a3.7,3.3 0 1,0 -7.4,0M488.0,1115.1a3.7,3.3 0 1,0 7.4,0a3.7,3.3 0 1,0 -7.4,0M481.5,1149.8a3.7,3.3 0 1,0 7.4,0a3.7,3.3 0 1,0 -7.4,0M519.4,1143.9a3.7,3.3 0 1,0 7.4,0a3.7,3.3 0 1,0 -7.4,0M514.2,1154.7a3.7,3.3 0 1,0 7.4,0a3.7,3.3 0 1,0 -7.4,0M454.7,1181.7a3.7,3.3 0 1,0 7.4,0a3.7,3.3 0 1,0 -7.4,0M513.1,1155.7a3.7,3.3 0 1,0 7.4,0a3.7,3.3 0 1,0 -7.4,0M428.0,1197.6a3.7,3.3 0 1,0 7.4,0a3.7,3.3 0 1,0 -7.4,0M487.7,1162.2a3.7,3.3 0 1,0 7.4,0a3.7,3.3 0 1,0 -7.4,0M425.9,1211.0a3.7,3.3 0 1,0 7.4,0a3.7,3.3 0 1,0 -7.4,0M445.4,1170.1a3.7,3.3 0 1,0 7.4,0a3.7,3.3 0 1,0 -7.4,0M466.4,1125.7a3.7,3.3 0 1,0 7.4,0a3.7,3.3 0 1,0 -7.4,0M498.4,1152.7a3.7,3.3 0 1,0 7.4,0a3.7,3.3 0 1,0 -7.4,0M503.3,1159.3a3.7,3.3 0 1,0 7.4,0a3.7,3.3 0 1,0 -7.4,0M450.8,1166.4a3.7,3.3 0 1,0 7.4,0a3.7,3.3 0 1,0 -7.4,0M478.2,1122.5a3.7,3.3 0 1,0 7.4,0a3.7,3.3 0 1,0 -7.4,0M495.2,1159.5a3.7,3.3 0 1,0 7.4,0a3.7,3.3 0 1,0 -7.4,0M479.8,1135.0a3.7,3.3 0 1,0 7.4,0a3.7,3.3 0 1,0 -7.4,0M460.1,1127.5a3.7,3.3 0 1,0 7.4,0a3.7,3.3 0 1,0 -7.4,0M506.5,1141.6a3.7,3.3 0 1,0 7.4,0a3.7,3.3 0 1,0 -7.4,0M496.2,1106.7a3.7,3.3 0 1,0 7.4,0a3.7,3.3 0 1,0 -7.4,0M502.2,1101.2a3.7,3.3 0 1,0 7.4,0a3.7,3.3 0 1,0 -7.4,0M489.0,1104.2a3.7,3.3 0 1,0 7.4,0a3.7,3.3 0 1,0 -7.4,0M481.1,1088.8a3.7,3.3 0 1,0 7.4,0a3.7,3.3 0 1,0 -7.4,0M487.2,1082.5a3.7,3.3 0 1,0 7.4,0a3.7,3.3 0 1,0 -7.4,0M496.2,1086.7a3.7,3.3 0 1,0 7.4,0a3.7,3.3 0 1,0 -7.4,0M496.2,1088.1a3.7,3.3 0 1,0 7.4,0a3.7,3.3 0 1,0 -7.4,0M492.9,1096.9a3.7,3.3 0 1,0 7.4,0a3.7,3.3 0 1,0 -7.4,0M487.5,1095.3a3.7,3.3 0 1,0 7.4,0a3.7,3.3 0 1,0 -7.4,0M489.4,1104.4a3.7,3.3 0 1,0 7.4,0a3.7,3.3 0 1,0 -7.4,0M478.7,1090.4a3.7,3.3 0 1,0 7.4,0a3.7,3.3 0 1,0 -7.4,0M503.8,1093.5a3.7,3.3 0 1,0 7.4,0a3.7,3.3 0 1,0 -7.4,0M483.6,1082.2a3.7,3.3 0 1,0 7.4,0a3.7,3.3 0 1,0 -7.4,0M482.1,1091.0a3.7,3.3 0 1,0 7.4,0a3.7,3.3 0 1,0 -7.4,0M495.7,1107.0a3.7,3.3 0 1,0 7.4,0a3.7,3.3 0 1,0 -7.4,0M486.6,1093.8a3.7,3.3 0 1,0 7.4,0a3.7,3.3 0 1,0 -7.4,0M489.4,1091.7a3.7,3.3 0 1,0 7.4,0a3.7,3.3 0 1,0 -7.4,0M478.8,1099.5a3.7,3.3 0 1,0 7.4,0a3.7,3.3 0 1,0 -7.4,0M497.3,1107.6a3.7,3.3 0 1,0 7.4,0a3.7,3.3 0 1,0 -7.4,0M488.4,1080.9a3.7,3.3 0 1,0 7.4,0a3.7,3.3 0 1,0 -7.4,0M494.6,1098.5a3.7,3.3 0 1,0 7.4,0a3.7,3.3 0 1,0 -7.4,0M500.1,1097.7a3.7,3.3 0 1,0 7.4,0a3.7,3.3 0 1,0 -7.4,0M479.3,1101.0a3.7,3.3 0 1,0 7.4,0a3.7,3.3 0 1,0 -7.4,0M483.5,1091.2a3.7,3.3 0 1,0 7.4,0a3.7,3.3 0 1,0 -7.4,0M488.5,1105.6a3.7,3.3 0 1,0 7.4,0a3.7,3.3 0 1,0 -7.4,0M480.5,1091.4a3.7,3.3 0 1,0 7.4,0a3.7,3.3 0 1,0 -7.4,0M482.8,1091.7a3.7,3.3 0 1,0 7.4,0a3.7,3.3 0 1,0 -7.4,0M487.8,1097.0a3.7,3.3 0 1,0 7.4,0a3.7,3.3 0 1,0 -7.4,0M500.3,1087.2a3.7,3.3 0 1,0 7.4,0a3.7,3.3 0 1,0 -7.4,0M497.9,1107.5a3.7,3.3 0 1,0 7.4,0a3.7,3.3 0 1,0 -7.4,0M487.0,1102.7a3.7,3.3 0 1,0 7.4,0a3.7,3.3 0 1,0 -7.4,0M489.7,1102.3a3.7,3.3 0 1,0 7.4,0a3.7,3.3 0 1,0 -7.4,0M502.3,1106.8a3.7,3.3 0 1,0 7.4,0a3.7,3.3 0 1,0 -7.4,0M479.6,1108.9a3.7,3.3 0 1,0 7.4,0a3.7,3.3 0 1,0 -7.4,0M498.1,1107.2a3.7,3.3 0 1,0 7.4,0a3.7,3.3 0 1,0 -7.4,0M487.9,1094.8a3.7,3.3 0 1,0 7.4,0a3.7,3.3 0 1,0 -7.4,0M484.3,1091.1a3.7,3.3 0 1,0 7.4,0a3.7,3.3 0 1,0 -7.4,0M480.3,1102.5a3.7,3.3 0 1,0 7.4,0a3.7,3.3 0 1,0 -7.4,0M497.8,1096.5a3.7,3.3 0 1,0 7.4,0a3.7,3.3 0 1,0 -7.4,0M493.5,1098.0a3.7,3.3 0 1,0 7.4,0a3.7,3.3 0 1,0 -7.4,0M496.9,1082.3a3.7,3.3 0 1,0 7.4,0a3.7,3.3 0 1,0 -7.4,0M486.1,1087.8a3.7,3.3 0 1,0 7.4,0a3.7,3.3 0 1,0 -7.4,0M486.0,1111.2a3.7,3.3 0 1,0 7.4,0a3.7,3.3 0 1,0 -7.4,0M497.8,1124.0a3.7,3.3 0 1,0 7.4,0a3.7,3.3 0 1,0 -7.4,0M512.1,1094.6a3.7,3.3 0 1,0 7.4,0a3.7,3.3 0 1,0 -7.4,0M466.5,1107.5a3.7,3.3 0 1,0 7.4,0a3.7,3.3 0 1,0 -7.4,0M493.5,1122.6a3.7,3.3 0 1,0 7.4,0a3.7,3.3 0 1,0 -7.4,0M503.9,1124.2a3.7,3.3 0 1,0 7.4,0a3.7,3.3 0 1,0 -7.4,0M511.2,1112.0a3.7,3.3 0 1,0 7.4,0a3.7,3.3 0 1,0 -7.4,0M517.2,1099.9a3.7,3.3 0 1,0 7.4,0a3.7,3.3 0 1,0 -7.4,0M471.1,1106.8a3.7,3.3 0 1,0 7.4,0a3.7,3.3 0 1,0 -7.4,0M463.7,1124.5a3.7,3.3 0 1,0 7.4,0a3.7,3.3 0 1,0 -7.4,0M513.1,1114.6a3.7,3.3 0 1,0 7.4,0a3.7,3.3 0 1,0 -7.4,0M470.6,1111.1a3.7,3.3 0 1,0 7.4,0a3.7,3.3 0 1,0 -7.4,0M484.1,1087.7a3.7,3.3 0 1,0 7.4,0a3.7,3.3 0 1,0 -7.4,0M479.1,1108.5a3.7,3.3 0 1,0 7.4,0a3.7,3.3 0 1,0 -7.4,0M480.7,1096.5a3.7,3.3 0 1,0 7.4,0a3.7,3.3 0 1,0 -7.4,0M501.5,1118.4a3.7,3.3 0 1,0 7.4,0a3.7,3.3 0 1,0 -7.4,0M509.8,1094.6a3.7,3.3 0 1,0 7.4,0a3.7,3.3 0 1,0 -7.4,0M480.4,1111.1a3.7,3.3 0 1,0 7.4,0a3.7,3.3 0 1,0 -7.4,0M481.5,1113.2a3.7,3.3 0 1,0 7.4,0a3.7,3.3 0 1,0 -7.4,0M478.9,1104.5a3.7,3.3 0 1,0 7.4,0a3.7,3.3 0 1,0 -7.4,0M483.3,1080.2a3.7,3.3 0 1,0 7.4,0a3.7,3.3 0 1,0 -7.4,0M502.7,1111.6a3.7,3.3 0 1,0 7.4,0a3.7,3.3 0 1,0 -7.4,0M507.9,1126.0a3.7,3.3 0 1,0 7.4,0a3.7,3.3 0 1,0 -7.4,0M505.0,1106.3a3.7,3.3 0 1,0 7.4,0a3.7,3.3 0 1,0 -7.4,0M503.6,1102.5a3.7,3.3 0 1,0 7.4,0a3.7,3.3 0 1,0 -7.4,0M461.7,1116.2a3.7,3.3 0 1,0 7.4,0a3.7,3.3 0 1,0 -7.4,0M469.4,1116.1a3.7,3.3 0 1,0 7.4,0a3.7,3.3 0 1,0 -7.4,0M474.8,1112.2a3.7,3.3 0 1,0 7.4,0a3.7,3.3 0 1,0 -7.4,0M504.3,1096.3a3.7,3.3 0 1,0 7.4,0a3.7,3.3 0 1,0 -7.4,0M508.3,1095.9a3.7,3.3 0 1,0 7.4,0a3.7,3.3 0 1,0 -7.4,0M488.9,1085.4a3.7,3.3 0 1,0 7.4,0a3.7,3.3 0 1,0 -7.4,0M518.1,1107.2a3.7,3.3 0 1,0 7.4,0a3.7,3.3 0 1,0 -7.4,0M517.3,1116.7a3.7,3.3 0 1,0 7.4,0a3.7,3.3 0 1,0 -7.4,0M463.6,1101.3a3.7,3.3 0 1,0 7.4,0a3.7,3.3 0 1,0 -7.4,0M503.0,1097.7a3.7,3.3 0 1,0 7.4,0a3.7,3.3 0 1,0 -7.4,0M506.3,1117.0a3.7,3.3 0 1,0 7.4,0a3.7,3.3 0 1,0 -7.4,0M476.5,1110.9a3.7,3.3 0 1,0 7.4,0a3.7,3.3 0 1,0 -7.4,0M491.1,1111.7a3.7,3.3 0 1,0 7.4,0a3.7,3.3 0 1,0 -7.4,0M478.1,1096.6a3.7,3.3 0 1,0 7.4,0a3.7,3.3 0 1,0 -7.4,0M489.3,1106.4a3.7,3.3 0 1,0 7.4,0a3.7,3.3 0 1,0 -7.4,0M488.8,1121.5a3.7,3.3 0 1,0 7.4,0a3.7,3.3 0 1,0 -7.4,0M488.9,1093.2a3.7,3.3 0 1,0 7.4,0a3.7,3.3 0 1,0 -7.4,0M489.5,1086.1a3.7,3.3 0 1,0 7.4,0a3.7,3.3 0 1,0 -7.4,0M461.3,1114.0a3.7,3.3 0 1,0 7.4,0a3.7,3.3 0 1,0 -7.4,0M460.8,1115.9a3.7,3.3 0 1,0 7.4,0a3.7,3.3 0 1,0 -7.4,0M488.7,1081.9a3.7,3.3 0 1,0 7.4,0a3.7,3.3 0 1,0 -7.4,0M512.4,1095.5a3.7,3.3 0 1,0 7.4,0a3.7,3.3 0 1,0 -7.4,0M508.8,1097.3a3.7,3.3 0 1,0 7.4,0a3.7,3.3 0 1,0 -7.4,0M458.3,1117.0a3.7,3.3 0 1,0 7.4,0a3.7,3.3 0 1,0 -7.4,0M479.7,1119.4a3.7,3.3 0 1,0 7.4,0a3.7,3.3 0 1,0 -7.4,0M505.8,1122.5a3.7,3.3 0 1,0 7.4,0a3.7,3.3 0 1,0 -7.4,0M483.4,1085.5a3.7,3.3 0 1,0 7.4,0a3.7,3.3 0 1,0 -7.4,0M464.3,1112.5a3.7,3.3 0 1,0 7.4,0a3.7,3.3 0 1,0 -7.4,0M514.3,1117.1a3.7,3.3 0 1,0 7.4,0a3.7,3.3 0 1,0 -7.4,0M513.8,1098.8a3.7,3.3 0 1,0 7.4,0a3.7,3.3 0 1,0 -7.4,0M457.4,1103.3a3.7,3.3 0 1,0 7.4,0a3.7,3.3 0 1,0 -7.4,0M490.1,1100.2a3.7,3.3 0 1,0 7.4,0a3.7,3.3 0 1,0 -7.4,0M524.6,1107.6a3.7,3.3 0 1,0 7.4,0a3.7,3.3 0 1,0 -7.4,0M488.3,1085.5a3.7,3.3 0 1,0 7.4,0a3.7,3.3 0 1,0 -7.4,0M468.6,1101.3a3.7,3.3 0 1,0 7.4,0a3.7,3.3 0 1,0 -7.4,0M505.1,1117.8a3.7,3.3 0 1,0 7.4,0a3.7,3.3 0 1,0 -7.4,0M473.2,1109.3a3.7,3.3 0 1,0 7.4,0a3.7,3.3 0 1,0 -7.4,0M513.3,1092.9a3.7,3.3 0 1,0 7.4,0a3.7,3.3 0 1,0 -7.4,0M495.6,1118.2a3.7,3.3 0 1,0 7.4,0a3.7,3.3 0 1,0 -7.4,0M487.0,1092.8a3.7,3.3 0 1,0 7.4,0a3.7,3.3 0 1,0 -7.4,0M503.9,1109.9a3.7,3.3 0 1,0 7.4,0a3.7,3.3 0 1,0 -7.4,0M458.0,1109.8a3.7,3.3 0 1,0 7.4,0a3.7,3.3 0 1,0 -7.4,0M507.2,1092.8a3.7,3.3 0 1,0 7.4,0a3.7,3.3 0 1,0 -7.4,0M494.3,1091.4a3.7,3.3 0 1,0 7.4,0a3.7,3.3 0 1,0 -7.4,0M461.2,1122.6a3.7,3.3 0 1,0 7.4,0a3.7,3.3 0 1,0 -7.4,0M463.8,1124.6a3.7,3.3 0 1,0 7.4,0a3.7,3.3 0 1,0 -7.4,0M484.1,1108.5a3.7,3.3 0 1,0 7.4,0a3.7,3.3 0 1,0 -7.4,0M513.9,1100.2a3.7,3.3 0 1,0 7.4,0a3.7,3.3 0 1,0 -7.4,0M506.6,1105.7a3.7,3.3 0 1,0 7.4,0a3.7,3.3 0 1,0 -7.4,0M508.2,1115.1a3.7,3.3 0 1,0 7.4,0a3.7,3.3 0 1,0 -7.4,0M510.3,1098.0a3.7,3.3 0 1,0 7.4,0a3.7,3.3 0 1,0 -7.4,0M471.7,1114.5a3.7,3.3 0 1,0 7.4,0a3.7,3.3 0 1,0 -7.4,0M455.4,1124.8a3.7,3.3 0 1,0 7.4,0a3.7,3.3 0 1,0 -7.4,0M522.7,1112.9a3.7,3.3 0 1,0 7.4,0a3.7,3.3 0 1,0 -7.4,0M467.4,1116.0a3.7,3.3 0 1,0 7.4,0a3.7,3.3 0 1,0 -7.4,0M513.9,1094.0a3.7,3.3 0 1,0 7.4,0a3.7,3.3 0 1,0 -7.4,0M498.2,1112.9a3.7,3.3 0 1,0 7.4,0a3.7,3.3 0 1,0 -7.4,0M498.7,1107.4a3.7,3.3 0 1,0 7.4,0a3.7,3.3 0 1,0 -7.4,0M501.2,1118.2a3.7,3.3 0 1,0 7.4,0a3.7,3.3 0 1,0 -7.4,0M509.1,1095.4a3.7,3.3 0 1,0 7.4,0a3.7,3.3 0 1,0 -7.4,0M478.3,1122.4a3.7,3.3 0 1,0 7.4,0a3.7,3.3 0 1,0 -7.4,0M458.2,1114.1a3.7,3.3 0 1,0 7.4,0a3.7,3.3 0 1,0 -7.4,0M503.9,1113.1a3.7,3.3 0 1,0 7.4,0a3.7,3.3 0 1,0 -7.4,0M485.1,1117.0a3.7,3.3 0 1,0 7.4,0a3.7,3.3 0 1,0 -7.4,0M494.2,1092.6a3.7,3.3 0 1,0 7.4,0a3.7,3.3 0 1,0 -7.4,0M483.5,1090.6a3.7,3.3 0 1,0 7.4,0a3.7,3.3 0 1,0 -7.4,0M478.4,1117.8a3.7,3.3 0 1,0 7.4,0a3.7,3.3 0 1,0 -7.4,0M511.9,1085.6a3.7,3.3 0 1,0 7.4,0a3.7,3.3 0 1,0 -7.4,0M521.2,1112.3a3.7,3.3 0 1,0 7.4,0a3.7,3.3 0 1,0 -7.4,0M494.9,1101.4a3.7,3.3 0 1,0 7.4,0a3.7,3.3 0 1,0 -7.4,0M458.3,1116.5a3.7,3.3 0 1,0 7.4,0a3.7,3.3 0 1,0 -7.4,0M464.7,1122.1a3.7,3.3 0 1,0 7.4,0a3.7,3.3 0 1,0 -7.4,0M509.4,1117.1a3.7,3.3 0 1,0 7.4,0a3.7,3.3 0 1,0 -7.4,0M508.8,1104.3a3.7,3.3 0 1,0 7.4,0a3.7,3.3 0 1,0 -7.4,0M505.9,1105.8a3.7,3.3 0 1,0 7.4,0a3.7,3.3 0 1,0 -7.4,0M516.5,1114.5a3.7,3.3 0 1,0 7.4,0a3.7,3.3 0 1,0 -7.4,0M498.9,1176.2a3.7,3.3 0 1,0 7.4,0a3.7,3.3 0 1,0 -7.4,0M517.4,1151.9a3.7,3.3 0 1,0 7.4,0a3.7,3.3 0 1,0 -7.4,0M503.7,1171.3a3.7,3.3 0 1,0 7.4,0a3.7,3.3 0 1,0 -7.4,0M515.3,1139.4a3.7,3.3 0 1,0 7.4,0a3.7,3.3 0 1,0 -7.4,0M494.4,1180.9a3.7,3.3 0 1,0 7.4,0a3.7,3.3 0 1,0 -7.4,0M516.9,1165.8a3.7,3.3 0 1,0 7.4,0a3.7,3.3 0 1,0 -7.4,0M515.1,1150.5a3.7,3.3 0 1,0 7.4,0a3.7,3.3 0 1,0 -7.4,0M502.2,1172.7a3.7,3.3 0 1,0 7.4,0a3.7,3.3 0 1,0 -7.4,0M465.4,1187.1a3.7,3.3 0 1,0 7.4,0a3.7,3.3 0 1,0 -7.4,0M515.5,1161.2a3.7,3.3 0 1,0 7.4,0a3.7,3.3 0 1,0 -7.4,0M515.0,1160.2a3.7,3.3 0 1,0 7.4,0a3.7,3.3 0 1,0 -7.4,0M518.8,1132.6a3.7,3.3 0 1,0 7.4,0a3.7,3.3 0 1,0 -7.4,0M510.6,1157.5a3.7,3.3 0 1,0 7.4,0a3.7,3.3 0 1,0 -7.4,0M512.6,1164.7a3.7,3.3 0 1,0 7.4,0a3.7,3.3 0 1,0 -7.4,0M499.7,1177.1a3.7,3.3 0 1,0 7.4,0a3.7,3.3 0 1,0 -7.4,0M504.3,1166.1a3.7,3.3 0 1,0 7.4,0a3.7,3.3 0 1,0 -7.4,0M480.6,1181.5a3.7,3.3 0 1,0 7.4,0a3.7,3.3 0 1,0 -7.4,0M471.9,1183.4a3.7,3.3 0 1,0 7.4,0a3.7,3.3 0 1,0 -7.4,0M468.5,1191.9a3.7,3.3 0 1,0 7.4,0a3.7,3.3 0 1,0 -7.4,0M510.4,1141.1a3.7,3.3 0 1,0 7.4,0a3.7,3.3 0 1,0 -7.4,0M510.8,1149.0a3.7,3.3 0 1,0 7.4,0a3.7,3.3 0 1,0 -7.4,0M510.3,1149.4a3.7,3.3 0 1,0 7.4,0a3.7,3.3 0 1,0 -7.4,0M487.6,1181.7a3.7,3.3 0 1,0 7.4,0a3.7,3.3 0 1,0 -7.4,0M513.8,1156.9a3.7,3.3 0 1,0 7.4,0a3.7,3.3 0 1,0 -7.4,0M512.3,1143.3a3.7,3.3 0 1,0 7.4,0a3.7,3.3 0 1,0 -7.4,0M475.7,1180.5a3.7,3.3 0 1,0 7.4,0a3.7,3.3 0 1,0 -7.4,0M512.7,1163.5a3.7,3.3 0 1,0 7.4,0a3.7,3.3 0 1,0 -7.4,0M500.8,1174.0a3.7,3.3 0 1,0 7.4,0a3.7,3.3 0 1,0 -7.4,0M490.2,1176.7a3.7,3.3 0 1,0 7.4,0a3.7,3.3 0 1,0 -7.4,0M486.5,998.3a3.7,3.3 0 1,0 7.4,0a3.7,3.3 0 1,0 -7.4,0M442.8,1092.2a3.7,3.3 0 1,0 7.4,0a3.7,3.3 0 1,0 -7.4,0M492.2,1156.2a3.7,3.3 0 1,0 7.4,0a3.7,3.3 0 1,0 -7.4,0M543.8,1104.8a3.7,3.3 0 1,0 7.4,0a3.7,3.3 0 1,0 -7.4,0M474.0,1025.5a3.7,3.3 0 1,0 7.4,0a3.7,3.3 0 1,0 -7.4,0M450.9,1199.4a3.7,3.3 0 1,0 7.4,0a3.7,3.3 0 1,0 -7.4,0M455.4,1169.9a3.7,3.3 0 1,0 7.4,0a3.7,3.3 0 1,0 -7.4,0M456.8,1068.2a3.7,3.3 0 1,0 7.4,0a3.7,3.3 0 1,0 -7.4,0M469.6,1046.7a3.7,3.3 0 1,0 7.4,0a3.7,3.3 0 1,0 -7.4,0M485.6,1064.7a3.7,3.3 0 1,0 7.4,0a3.7,3.3 0 1,0 -7.4,0M536.6,1153.8a3.7,3.3 0 1,0 7.4,0a3.7,3.3 0 1,0 -7.4,0M549.9,1123.7a3.7,3.3 0 1,0 7.4,0a3.7,3.3 0 1,0 -7.4,0M498.2,1090.4a3.7,3.3 0 1,0 7.4,0a3.7,3.3 0 1,0 -7.4,0M563.9,1080.0a3.7,3.3 0 1,0 7.4,0a3.7,3.3 0 1,0 -7.4,0M460.7,1061.0a3.7,3.3 0 1,0 7.4,0a3.7,3.3 0 1,0 -7.4,0M538.4,1175.1a3.7,3.3 0 1,0 7.4,0a3.7,3.3 0 1,0 -7.4,0M498.2,1057.5a3.7,3.3 0 1,0 7.4,0a3.7,3.3 0 1,0 -7.4,0M515.7,1001.9a3.7,3.3 0 1,0 7.4,0a3.7,3.3 0 1,0 -7.4,0M447.5,1084.1a3.7,3.3 0 1,0 7.4,0a3.7,3.3 0 1,0 -7.4,0M481.2,1135.6a3.7,3.3 0 1,0 7.4,0a3.7,3.3 0 1,0 -7.4,0M483.2,1192.1a3.7,3.3 0 1,0 7.4,0a3.7,3.3 0 1,0 -7.4,0M457.5,1193.1a3.7,3.3 0 1,0 7.4,0a3.7,3.3 0 1,0 -7.4,0M521.7,1138.5a3.7,3.3 0 1,0 7.4,0a3.7,3.3 0 1,0 -7.4,0M440.4,1145.0a3.7,3.3 0 1,0 7.4,0a3.7,3.3 0 1,0 -7.4,0M526.9,1065.1a3.7,3.3 0 1,0 7.4,0a3.7,3.3 0 1,0 -7.4,0M465.5,1192.9a3.7,3.3 0 1,0 7.4,0a3.7,3.3 0 1,0 -7.4,0M524.4,1083.4a3.7,3.3 0 1,0 7.4,0a3.7,3.3 0 1,0 -7.4,0M464.2,1069.1a3.7,3.3 0 1,0 7.4,0a3.7,3.3 0 1,0 -7.4,0M546.0,1093.8a3.7,3.3 0 1,0 7.4,0a3.7,3.3 0 1,0 -7.4,0M464.5,1117.8a3.7,3.3 0 1,0 7.4,0a3.7,3.3 0 1,0 -7.4,0M462.9,1184.0a3.7,3.3 0 1,0 7.4,0a3.7,3.3 0 1,0 -7.4,0M543.5,1150.4a3.7,3.3 0 1,0 7.4,0a3.7,3.3 0 1,0 -7.4,0M456.1,1117.4a3.7,3.3 0 1,0 7.4,0a3.7,3.3 0 1,0 -7.4,0M483.7,1200.1a3.7,3.3 0 1,0 7.4,0a3.7,3.3 0 1,0 -7.4,0M484.8,1160.8a3.7,3.3 0 1,0 7.4,0a3.7,3.3 0 1,0 -7.4,0M484.4,1136.3a3.7,3.3 0 1,0 7.4,0a3.7,3.3 0 1,0 -7.4,0M553.7,1136.0a3.7,3.3 0 1,0 7.4,0a3.7,3.3 0 1,0 -7.4,0M490.5,1063.4a3.7,3.3 0 1,0 7.4,0a3.7,3.3 0 1,0 -7.4,0M477.4,1075.7a3.7,3.3 0 1,0 7.4,0a3.7,3.3 0 1,0 -7.4,0M541.8,1142.4a3.7,3.3 0 1,0 7.4,0a3.7,3.3 0 1,0 -7.4,0M468.8,1166.6a3.7,3.3 0 1,0 7.4,0a3.7,3.3 0 1,0 -7.4,0M447.9,1119.7a3.7,3.3 0 1,0 7.4,0a3.7,3.3 0 1,0 -7.4,0M435.6,1179.5a3.7,3.3 0 1,0 7.4,0a3.7,3.3 0 1,0 -7.4,0M498.1,1076.1a3.7,3.3 0 1,0 7.4,0a3.7,3.3 0 1,0 -7.4,0M553.4,1068.9a3.7,3.3 0 1,0 7.4,0a3.7,3.3 0 1,0 -7.4,0M466.1,1198.8a3.7,3.3 0 1,0 7.4,0a3.7,3.3 0 1,0 -7.4,0M506.5,1144.3a3.7,3.3 0 1,0 7.4,0a3.7,3.3 0 1,0 -7.4,0M450.1,1124.6a3.7,3.3 0 1,0 7.4,0a3.7,3.3 0 1,0 -7.4,0M454.9,1129.1a3.7,3.3 0 1,0 7.4,0a3.7,3.3 0 1,0 -7.4,0M475.4,1187.5a3.7,3.3 0 1,0 7.4,0a3.7,3.3 0 1,0 -7.4,0M552.8,1051.3a3.7,3.3 0 1,0 7.4,0a3.7,3.3 0 1,0 -7.4,0M495.2,1047.6a3.7,3.3 0 1,0 7.4,0a3.7,3.3 0 1,0 -7.4,0M554.3,1036.4a3.7,3.3 0 1,0 7.4,0a3.7,3.3 0 1,0 -7.4,0M500.3,1098.4a3.7,3.3 0 1,0 7.4,0a3.7,3.3 0 1,0 -7.4,0M516.4,1113.3a3.7,3.3 0 1,0 7.4,0a3.7,3.3 0 1,0 -7.4,0M561.8,1117.8a3.7,3.3 0 1,0 7.4,0a3.7,3.3 0 1,0 -7.4,0M476.6,1122.3a3.7,3.3 0 1,0 7.4,0a3.7,3.3 0 1,0 -7.4,0M497.2,1163.7a3.7,3.3 0 1,0 7.4,0a3.7,3.3 0 1,0 -7.4,0M502.8,1017.1a3.7,3.3 0 1,0 7.4,0a3.7,3.3 0 1,0 -7.4,0M518.3,1019.7a3.7,3.3 0 1,0 7.4,0a3.7,3.3 0 1,0 -7.4,0M532.4,1027.9a3.7,3.3 0 1,0 7.4,0a3.7,3.3 0 1,0 -7.4,0M430.0,1202.9a3.7,3.3 0 1,0 7.4,0a3.7,3.3 0 1,0 -7.4,0M484.4,1029.1a3.7,3.3 0 1,0 7.4,0a3.7,3.3 0 1,0 -7.4,0M459.9,1197.1a3.7,3.3 0 1,0 7.4,0a3.7,3.3 0 1,0 -7.4,0M487.1,1069.0a3.7,3.3 0 1,0 7.4,0a3.7,3.3 0 1,0 -7.4,0M440.6,1108.8a3.7,3.3 0 1,0 7.4,0a3.7,3.3 0 1,0 -7.4,0M489.6,1145.1a3.7,3.3 0 1,0 7.4,0a3.7,3.3 0 1,0 -7.4,0M452.5,1114.2a3.7,3.3 0 1,0 7.4,0a3.7,3.3 0 1,0 -7.4,0M509.8,1154.6a3.7,3.3 0 1,0 7.4,0a3.7,3.3 0 1,0 -7.4,0M410.4,1200.3a3.7,3.3 0 1,0 7.4,0a3.7,3.3 0 1,0 -7.4,0M398.1,1167.0a3.7,3.3 0 1,0 7.4,0a3.7,3.3 0 1,0 -7.4,0M400.3,1174.8a3.7,3.3 0 1,0 7.4,0a3.7,3.3 0 1,0 -7.4,0M385.1,1174.9a3.7,3.3 0 1,0 7.4,0a3.7,3.3 0 1,0 -7.4,0M394.0,1193.5a3.7,3.3 0 1,0 7.4,0a3.7,3.3 0 1,0 -7.4,0M405.3,1186.7a3.7,3.3 0 1,0 7.4,0a3.7,3.3 0 1,0 -7.4,0M412.9,1196.1a3.7,3.3 0 1,0 7.4,0a3.7,3.3 0 1,0 -7.4,0M390.7,1159.3a3.7,3.3 0 1,0 7.4,0a3.7,3.3 0 1,0 -7.4,0M382.9,1166.6a3.7,3.3 0 1,0 7.4,0a3.7,3.3 0 1,0 -7.4,0M389.2,1157.8a3.7,3.3 0 1,0 7.4,0a3.7,3.3 0 1,0 -7.4,0M388.8,1152.1a3.7,3.3 0 1,0 7.4,0a3.7,3.3 0 1,0 -7.4,0M419.9,1209.0a3.7,3.3 0 1,0 7.4,0a3.7,3.3 0 1,0 -7.4,0M393.3,1190.7a3.7,3.3 0 1,0 7.4,0a3.7,3.3 0 1,0 -7.4,0M385.2,1182.8a3.7,3.3 0 1,0 7.4,0a3.7,3.3 0 1,0 -7.4,0M383.9,1160.6a3.7,3.3 0 1,0 7.4,0a3.7,3.3 0 1,0 -7.4,0M391.3,1173.2a3.7,3.3 0 1,0 7.4,0a3.7,3.3 0 1,0 -7.4,0M390.6,1184.5a3.7,3.3 0 1,0 7.4,0a3.7,3.3 0 1,0 -7.4,0M410.8,1194.1a3.7,3.3 0 1,0 7.4,0a3.7,3.3 0 1,0 -7.4,0M399.1,1200.6a3.7,3.3 0 1,0 7.4,0a3.7,3.3 0 1,0 -7.4,0M408.2,1191.6a3.7,3.3 0 1,0 7.4,0a3.7,3.3 0 1,0 -7.4,0M399.1,1201.9a3.7,3.3 0 1,0 7.4,0a3.7,3.3 0 1,0 -7.4,0M412.0,1197.3a3.7,3.3 0 1,0 7.4,0a3.7,3.3 0 1,0 -7.4,0M381.1,1161.0a3.7,3.3 0 1,0 7.4,0a3.7,3.3 0 1,0 -7.4,0M403.7,1202.5a3.7,3.3 0 1,0 7.4,0a3.7,3.3 0 1,0 -7.4,0M394.4,1190.7a3.7,3.3 0 1,0 7.4,0a3.7,3.3 0 1,0 -7.4,0M391.0,1181.4a3.7,3.3 0 1,0 7.4,0a3.7,3.3 0 1,0 -7.4,0M396.6,1182.3a3.7,3.3 0 1,0 7.4,0a3.7,3.3 0 1,0 -7.4,0M396.9,1200.1a3.7,3.3 0 1,0 7.4,0a3.7,3.3 0 1,0 -7.4,0M380.6,1172.7a3.7,3.3 0 1,0 7.4,0a3.7,3.3 0 1,0 -7.4,0M385.3,1185.9a3.7,3.3 0 1,0 7.4,0a3.7,3.3 0 1,0 -7.4,0M417.1,1214.2a3.7,3.3 0 1,0 7.4,0a3.7,3.3 0 1,0 -7.4,0M399.0,1167.3a3.7,3.3 0 1,0 7.4,0a3.7,3.3 0 1,0 -7.4,0M377.6,1179.5a3.7,3.3 0 1,0 7.4,0a3.7,3.3 0 1,0 -7.4,0M406.0,1191.5a3.7,3.3 0 1,0 7.4,0a3.7,3.3 0 1,0 -7.4,0M387.2,1187.9a3.7,3.3 0 1,0 7.4,0a3.7,3.3 0 1,0 -7.4,0M402.2,1198.3a3.7,3.3 0 1,0 7.4,0a3.7,3.3 0 1,0 -7.4,0M395.5,1175.1a3.7,3.3 0 1,0 7.4,0a3.7,3.3 0 1,0 -7.4,0M406.0,1183.1a3.7,3.3 0 1,0 7.4,0a3.7,3.3 0 1,0 -7.4,0M406.1,1188.3a3.7,3.3 0 1,0 7.4,0a3.7,3.3 0 1,0 -7.4,0M385.0,1158.8a3.7,3.3 0 1,0 7.4,0a3.7,3.3 0 1,0 -7.4,0M406.0,1189.3a3.7,3.3 0 1,0 7.4,0a3.7,3.3 0 1,0 -7.4,0M388.5,1162.4a3.7,3.3 0 1,0 7.4,0a3.7,3.3 0 1,0 -7.4,0M388.8,1170.0a3.7,3.3 0 1,0 7.4,0a3.7,3.3 0 1,0 -7.4,0M397.3,1164.4a3.7,3.3 0 1,0 7.4,0a3.7,3.3 0 1,0 -7.4,0M398.7,1163.7a3.7,3.3 0 1,0 7.4,0a3.7,3.3 0 1,0 -7.4,0M394.7,1167.4a3.7,3.3 0 1,0 7.4,0a3.7,3.3 0 1,0 -7.4,0M393.7,1178.8a3.7,3.3 0 1,0 7.4,0a3.7,3.3 0 1,0 -7.4,0M399.0,1165.3a3.7,3.3 0 1,0 7.4,0a3.7,3.3 0 1,0 -7.4,0M418.6,1211.8a3.7,3.3 0 1,0 7.4,0a3.7,3.3 0 1,0 -7.4,0M396.1,1171.0a3.7,3.3 0 1,0 7.4,0a3.7,3.3 0 1,0 -7.4,0M393.6,1175.6a3.7,3.3 0 1,0 7.4,0a3.7,3.3 0 1,0 -7.4,0M395.9,1165.7a3.7,3.3 0 1,0 7.4,0a3.7,3.3 0 1,0 -7.4,0M399.7,1167.2a3.7,3.3 0 1,0 7.4,0a3.7,3.3 0 1,0 -7.4,0M379.9,1183.6a3.7,3.3 0 1,0 7.4,0a3.7,3.3 0 1,0 -7.4,0M390.3,1190.7a3.7,3.3 0 1,0 7.4,0a3.7,3.3 0 1,0 -7.4,0M413.0,1205.2a3.7,3.3 0 1,0 7.4,0a3.7,3.3 0 1,0 -7.4,0M407.9,1188.4a3.7,3.3 0 1,0 7.4,0a3.7,3.3 0 1,0 -7.4,0M402.1,1193.0a3.7,3.3 0 1,0 7.4,0a3.7,3.3 0 1,0 -7.4,0M404.9,1196.0a3.7,3.3 0 1,0 7.4,0a3.7,3.3 0 1,0 -7.4,0M390.6,1183.0a3.7,3.3 0 1,0 7.4,0a3.7,3.3 0 1,0 -7.4,0M416.1,1196.0a3.7,3.3 0 1,0 7.4,0a3.7,3.3 0 1,0 -7.4,0M389.3,1187.4a3.7,3.3 0 1,0 7.4,0a3.7,3.3 0 1,0 -7.4,0M396.4,1185.0a3.7,3.3 0 1,0 7.4,0a3.7,3.3 0 1,0 -7.4,0M409.2,1192.4a3.7,3.3 0 1,0 7.4,0a3.7,3.3 0 1,0 -7.4,0M417.1,1208.0a3.7,3.3 0 1,0 7.4,0a3.7,3.3 0 1,0 -7.4,0M406.1,1203.5a3.7,3.3 0 1,0 7.4,0a3.7,3.3 0 1,0 -7.4,0M381.5,1181.8a3.7,3.3 0 1,0 7.4,0a3.7,3.3 0 1,0 -7.4,0M406.7,1194.4a3.7,3.3 0 1,0 7.4,0a3.7,3.3 0 1,0 -7.4,0M403.5,1200.2a3.7,3.3 0 1,0 7.4,0a3.7,3.3 0 1,0 -7.4,0M382.2,1173.6a3.7,3.3 0 1,0 7.4,0a3.7,3.3 0 1,0 -7.4,0M392.7,1165.8a3.7,3.3 0 1,0 7.4,0a3.7,3.3 0 1,0 -7.4,0M392.4,1157.9a3.7,3.3 0 1,0 7.4,0a3.7,3.3 0 1,0 -7.4,0M400.6,1202.8a3.7,3.3 0 1,0 7.4,0a3.7,3.3 0 1,0 -7.4,0M409.5,1194.2a3.7,3.3 0 1,0 7.4,0a3.7,3.3 0 1,0 -7.4,0M409.2,1187.0a3.7,3.3 0 1,0 7.4,0a3.7,3.3 0 1,0 -7.4,0M407.3,1188.0a3.7,3.3 0 1,0 7.4,0a3.7,3.3 0 1,0 -7.4,0M383.7,1180.6a3.7,3.3 0 1,0 7.4,0a3.7,3.3 0 1,0 -7.4,0M392.2,1163.2a3.7,3.3 0 1,0 7.4,0a3.7,3.3 0 1,0 -7.4,0M409.1,1209.9a3.7,3.3 0 1,0 7.4,0a3.7,3.3 0 1,0 -7.4,0M394.5,1180.1a3.7,3.3 0 1,0 7.4,0a3.7,3.3 0 1,0 -7.4,0M399.4,1193.8a3.7,3.3 0 1,0 7.4,0a3.7,3.3 0 1,0 -7.4,0M380.8,1178.6a3.7,3.3 0 1,0 7.4,0a3.7,3.3 0 1,0 -7.4,0M381.6,1179.8a3.7,3.3 0 1,0 7.4,0a3.7,3.3 0 1,0 -7.4,0M401.0,1199.7a3.7,3.3 0 1,0 7.4,0a3.7,3.3 0 1,0 -7.4,0M382.2,1161.5a3.7,3.3 0 1,0 7.4,0a3.7,3.3 0 1,0 -7.4,0M414.9,1194.9a3.7,3.3 0 1,0 7.4,0a3.7,3.3 0 1,0 -7.4,0M398.9,1176.2a3.7,3.3 0 1,0 7.4,0a3.7,3.3 0 1,0 -7.4,0M393.3,1167.2a3.7,3.3 0 1,0 7.4,0a3.7,3.3 0 1,0 -7.4,0M404.3,1195.3a3.7,3.3 0 1,0 7.4,0a3.7,3.3 0 1,0 -7.4,0M388.3,1193.3a3.7,3.3 0 1,0 7.4,0a3.7,3.3 0 1,0 -7.4,0M384.5,1161.9a3.7,3.3 0 1,0 7.4,0a3.7,3.3 0 1,0 -7.4,0M381.7,1175.7a3.7,3.3 0 1,0 7.4,0a3.7,3.3 0 1,0 -7.4,0M388.6,1177.9a3.7,3.3 0 1,0 7.4,0a3.7,3.3 0 1,0 -7.4,0M405.7,1208.2a3.7,3.3 0 1,0 7.4,0a3.7,3.3 0 1,0 -7.4,0M391.1,1189.9a3.7,3.3 0 1,0 7.4,0a3.7,3.3 0 1,0 -7.4,0M381.3,1166.8a3.7,3.3 0 1,0 7.4,0a3.7,3.3 0 1,0 -7.4,0M406.4,1209.8a3.7,3.3 0 1,0 7.4,0a3.7,3.3 0 1,0 -7.4,0M385.7,1171.9a3.7,3.3 0 1,0 7.4,0a3.7,3.3 0 1,0 -7.4,0M388.1,1173.1a3.7,3.3 0 1,0 7.4,0a3.7,3.3 0 1,0 -7.4,0M400.0,1179.2a3.7,3.3 0 1,0 7.4,0a3.7,3.3 0 1,0 -7.4,0M407.0,1192.5a3.7,3.3 0 1,0 7.4,0a3.7,3.3 0 1,0 -7.4,0M388.9,1197.7a3.7,3.3 0 1,0 7.4,0a3.7,3.3 0 1,0 -7.4,0M399.8,1203.2a3.7,3.3 0 1,0 7.4,0a3.7,3.3 0 1,0 -7.4,0M389.7,1186.0a3.7,3.3 0 1,0 7.4,0a3.7,3.3 0 1,0 -7.4,0M387.5,1159.1a3.7,3.3 0 1,0 7.4,0a3.7,3.3 0 1,0 -7.4,0M416.7,1212.9a3.7,3.3 0 1,0 7.4,0a3.7,3.3 0 1,0 -7.4,0M400.0,1179.3a3.7,3.3 0 1,0 7.4,0a3.7,3.3 0 1,0 -7.4,0M403.0,1191.6a3.7,3.3 0 1,0 7.4,0a3.7,3.3 0 1,0 -7.4,0M403.1,1180.0a3.7,3.3 0 1,0 7.4,0a3.7,3.3 0 1,0 -7.4,0M407.6,1202.9a3.7,3.3 0 1,0 7.4,0a3.7,3.3 0 1,0 -7.4,0M392.0,1164.5a3.7,3.3 0 1,0 7.4,0a3.7,3.3 0 1,0 -7.4,0M389.3,1192.6a3.7,3.3 0 1,0 7.4,0a3.7,3.3 0 1,0 -7.4,0M403.1,1187.2a3.7,3.3 0 1,0 7.4,0a3.7,3.3 0 1,0 -7.4,0M386.4,1168.1a3.7,3.3 0 1,0 7.4,0a3.7,3.3 0 1,0 -7.4,0M404.8,1201.5a3.7,3.3 0 1,0 7.4,0a3.7,3.3 0 1,0 -7.4,0M401.7,1204.4a3.7,3.3 0 1,0 7.4,0a3.7,3.3 0 1,0 -7.4,0M396.8,1171.1a3.7,3.3 0 1,0 7.4,0a3.7,3.3 0 1,0 -7.4,0M393.8,1157.2a3.7,3.3 0 1,0 7.4,0a3.7,3.3 0 1,0 -7.4,0M382.5,1190.9a3.7,3.3 0 1,0 7.4,0a3.7,3.3 0 1,0 -7.4,0M395.0,1181.3a3.7,3.3 0 1,0 7.4,0a3.7,3.3 0 1,0 -7.4,0M402.1,1192.9a3.7,3.3 0 1,0 7.4,0a3.7,3.3 0 1,0 -7.4,0M381.4,1187.4a3.7,3.3 0 1,0 7.4,0a3.7,3.3 0 1,0 -7.4,0M391.9,1189.6a3.7,3.3 0 1,0 7.4,0a3.7,3.3 0 1,0 -7.4,0M394.0,1192.5a3.7,3.3 0 1,0 7.4,0a3.7,3.3 0 1,0 -7.4,0M387.3,1178.7a3.7,3.3 0 1,0 7.4,0a3.7,3.3 0 1,0 -7.4,0M383.3,1184.0a3.7,3.3 0 1,0 7.4,0a3.7,3.3 0 1,0 -7.4,0M397.9,1162.3a3.7,3.3 0 1,0 7.4,0a3.7,3.3 0 1,0 -7.4,0M397.7,1187.8a3.7,3.3 0 1,0 7.4,0a3.7,3.3 0 1,0 -7.4,0M389.8,1154.3a3.7,3.3 0 1,0 7.4,0a3.7,3.3 0 1,0 -7.4,0M399.4,1165.2a3.7,3.3 0 1,0 7.4,0a3.7,3.3 0 1,0 -7.4,0M398.9,1190.1a3.7,3.3 0 1,0 7.4,0a3.7,3.3 0 1,0 -7.4,0M413.0,1201.4a3.7,3.3 0 1,0 7.4,0a3.7,3.3 0 1,0 -7.4,0M394.8,1196.4a3.7,3.3 0 1,0 7.4,0a3.7,3.3 0 1,0 -7.4,0M415.1,1199.9a3.7,3.3 0 1,0 7.4,0a3.7,3.3 0 1,0 -7.4,0M401.4,1175.0a3.7,3.3 0 1,0 7.4,0a3.7,3.3 0 1,0 -7.4,0M396.9,1186.3a3.7,3.3 0 1,0 7.4,0a3.7,3.3 0 1,0 -7.4,0M412.9,1201.3a3.7,3.3 0 1,0 7.4,0a3.7,3.3 0 1,0 -7.4,0M393.1,1188.8a3.7,3.3 0 1,0 7.4,0a3.7,3.3 0 1,0 -7.4,0M384.1,1179.2a3.7,3.3 0 1,0 7.4,0a3.7,3.3 0 1,0 -7.4,0M381.2,1171.7a3.7,3.3 0 1,0 7.4,0a3.7,3.3 0 1,0 -7.4,0M383.2,1177.6a3.7,3.3 0 1,0 7.4,0a3.7,3.3 0 1,0 -7.4,0M397.6,1191.7a3.7,3.3 0 1,0 7.4,0a3.7,3.3 0 1,0 -7.4,0M409.5,1198.9a3.7,3.3 0 1,0 7.4,0a3.7,3.3 0 1,0 -7.4,0M396.2,1172.0a3.7,3.3 0 1,0 7.4,0a3.7,3.3 0 1,0 -7.4,0"/>
<line x1="246.5" y1="946.5" x2="253" y2="944.5" stroke="#aaa" stroke-width="0.9"/>
<text x="259.5" y="942.2" font-family="'DejaVu Sans', Verdana, sans-serif" font-size="13.6" text-anchor="start" fill="#222">COL11A1</text>
<line x1="334.5" y1="964.5" x2="340.5" y2="962.5" stroke="#aaa" stroke-width="0.9"/>
<text x="348.1" y="957.1" font-family="'DejaVu Sans', Verdana, sans-serif" font-size="13.6" text-anchor="start" fill="#222">LRP1</text>
<line x1="140.5" y1="983.5" x2="146.5" y2="981.5" stroke="#aaa" stroke-width="0.9"/>
<text x="153.5" y="975.9" font-family="'DejaVu Sans', Verdana, sans-serif" font-size="13.6" text-anchor="start" fill="#222">COL1A2</text>
<line x1="275.8" y1="1012.9" x2="281.6" y2="1010.8" stroke="#aaa" stroke-width="0.9"/>
<text x="288.4" y="1005.0" font-family="'DejaVu Sans', Verdana, sans-serif" font-size="13.6" text-anchor="start" fill="#222">COL1A1</text>
<line x1="155" y1="1101.5" x2="161.5" y2="1098.5" stroke="#aaa" stroke-width="0.9"/>
<text x="169.0" y="1092.5" font-family="'DejaVu Sans', Verdana, sans-serif" font-size="13.6" text-anchor="start" fill="#222">COL5A2</text>
<text x="593.0" y="950.6" font-family="'DejaVu Sans', Verdana, sans-serif" font-size="13.6" text-anchor="start" fill="#222">ITGA5</text>
<line x1="590.7" y1="1034" x2="597.1" y2="1031.6" stroke="#aaa" stroke-width="0.9"/>
<text x="603.9" y="1026.2" font-family="'DejaVu Sans', Verdana, sans-serif" font-size="13.6" text-anchor="start" fill="#222">CAV1</text>
<line x1="697" y1="1085" x2="702.8" y2="1083.2" stroke="#aaa" stroke-width="0.9"/>
<text x="709.7" y="1077.7" font-family="'DejaVu Sans', Verdana, sans-serif" font-size="13.6" text-anchor="start" fill="#222">SIRT5</text>
<line x1="530.2" y1="1113.7" x2="570.5" y2="1109" stroke="#aaa" stroke-width="0.9"/>
<text x="582.6" y="1108.5" font-family="'DejaVu Sans', Verdana, sans-serif" font-size="13.6" text-anchor="start" fill="#222">YWHAZ</text>
<rect x="98" y="782.6" width="777.6" height="454.4" fill="none" stroke="#555" stroke-width="1.4"/>
<line x1="236.1" y1="1237" x2="236.1" y2="1232.5" stroke="#555" stroke-width="1.2"/>
<text x="236.1" y="1249.9" font-family="'DejaVu Sans', Verdana, sans-serif" font-size="13.3" text-anchor="middle" fill="#222">−2.5</text>
<line x1="423.8" y1="1237" x2="423.8" y2="1232.5" stroke="#555" stroke-width="1.2"/>
<text x="423.8" y="1249.9" font-family="'DejaVu Sans', Verdana, sans-serif" font-size="13.3" text-anchor="middle" fill="#222">0.0</text>
<line x1="611.5" y1="1237" x2="611.5" y2="1232.5" stroke="#555" stroke-width="1.2"/>
<text x="611.5" y="1249.9" font-family="'DejaVu Sans', Verdana, sans-serif" font-size="13.3" text-anchor="middle" fill="#222">2.5</text>
<line x1="799.3" y1="1237" x2="799.3" y2="1232.5" stroke="#555" stroke-width="1.2"/>
<text x="799.3" y="1249.9" font-family="'DejaVu Sans', Verdana, sans-serif" font-size="13.3" text-anchor="middle" fill="#222">5.0</text>
<line x1="98" y1="1213.0" x2="102.8" y2="1213.0" stroke="#555" stroke-width="1.2"/>
<text x="93.7" y="1218.0" font-family="'DejaVu Sans', Verdana, sans-serif" font-size="13.3" text-anchor="end" fill="#222">0.0</text>
<line x1="98" y1="1101.2" x2="102.8" y2="1101.2" stroke="#555" stroke-width="1.2"/>
<text x="93.7" y="1106.2" font-family="'DejaVu Sans', Verdana, sans-serif" font-size="13.3" text-anchor="end" fill="#222">1.5</text>
<line x1="98" y1="989.5" x2="102.8" y2="989.5" stroke="#555" stroke-width="1.2"/>
<text x="93.7" y="994.5" font-family="'DejaVu Sans', Verdana, sans-serif" font-size="13.3" text-anchor="end" fill="#222">3.0</text>
<line x1="98" y1="877.8" x2="102.8" y2="877.8" stroke="#555" stroke-width="1.2"/>
<text x="93.7" y="882.8" font-family="'DejaVu Sans', Verdana, sans-serif" font-size="13.3" text-anchor="end" fill="#222">4.5</text>
<text x="397.8" y="1287.4" font-family="'Liberation Sans', Arial, sans-serif" font-size="29.5" font-weight="bold" text-anchor="start" fill="#000" textLength="174.48" lengthAdjust="spacingAndGlyphs">Fold change</text>
<text transform="translate(55.9,995.6) rotate(-90)" font-family="'Liberation Sans', Arial, sans-serif" font-size="29" font-weight="bold" text-anchor="middle" textLength="163" lengthAdjust="spacingAndGlyphs">-log <tspan font-style="italic">p</tspan>-value</text>
<rect x="992.4" y="1141.7" width="774.6" height="1.8" fill="#d6404f"/>
<path fill="#000" d="M1173.6,822.4a3.7,3.3 0 1,0 7.4,0a3.7,3.3 0 1,0 -7.4,0M1174.3,884.6a3.7,3.3 0 1,0 7.4,0a3.7,3.3 0 1,0 -7.4,0M1114.6,929.2a3.7,3.3 0 1,0 7.4,0a3.7,3.3 0 1,0 -7.4,0M1111.2,936.8a3.7,3.3 0 1,0 7.4,0a3.7,3.3 0 1,0 -7.4,0M1146.8,930.0a3.7,3.3 0 1,0 7.4,0a3.7,3.3 0 1,0 -7.4,0M1151.0,939.7a3.7,3.3 0 1,0 7.4,0a3.7,3.3 0 1,0 -7.4,0M1138.0,941.0a3.7,3.3 0 1,0 7.4,0a3.7,3.3 0 1,0 -7.4,0M1141.7,946.8a3.7,3.3 0 1,0 7.4,0a3.7,3.3 0 1,0 -7.4,0M1174.8,947.3a3.7,3.3 0 1,0 7.4,0a3.7,3.3 0 1,0 -7.4,0M1129.4,1175.2a3.7,3.3 0 1,0 7.4,0a3.7,3.3 0 1,0 -7.4,0M1185.8,1197.0a3.7,3.3 0 1,0 7.4,0a3.7,3.3 0 1,0 -7.4,0M1430.7,802.3a3.7,3.3 0 1,0 7.4,0a3.7,3.3 0 1,0 -7.4,0M1444.3,814.5a3.7,3.3 0 1,0 7.4,0a3.7,3.3 0 1,0 -7.4,0M1458.7,842.8a3.7,3.3 0 1,0 7.4,0a3.7,3.3 0 1,0 -7.4,0M1369.0,863.3a3.7,3.3 0 1,0 7.4,0a3.7,3.3 0 1,0 -7.4,0M1582.1,894.1a3.7,3.3 0 1,0 7.4,0a3.7,3.3 0 1,0 -7.4,0M1495.3,929.8a3.7,3.3 0 1,0 7.4,0a3.7,3.3 0 1,0 -7.4,0M1398.4,944.5a3.7,3.3 0 1,0 7.4,0a3.7,3.3 0 1,0 -7.4,0M1433.0,945.4a3.7,3.3 0 1,0 7.4,0a3.7,3.3 0 1,0 -7.4,0M1457.1,959.4a3.7,3.3 0 1,0 7.4,0a3.7,3.3 0 1,0 -7.4,0M1462.8,956.4a3.7,3.3 0 1,0 7.4,0a3.7,3.3 0 1,0 -7.4,0M1410.8,970.7a3.7,3.3 0 1,0 7.4,0a3.7,3.3 0 1,0 -7.4,0M1381.7,978.1a3.7,3.3 0 1,0 7.4,0a3.7,3.3 0 1,0 -7.4,0M1410.8,985.8a3.7,3.3 0 1,0 7.4,0a3.7,3.3 0 1,0 -7.4,0M1548.4,996.7a3.7,3.3 0 1,0 7.4,0a3.7,3.3 0 1,0 -7.4,0M1727.4,983.8a3.7,3.3 0 1,0 7.4,0a3.7,3.3 0 1,0 -7.4,0M1405.2,1002.3a3.7,3.3 0 1,0 7.4,0a3.7,3.3 0 1,0 -7.4,0M1410.4,1006.2a3.7,3.3 0 1,0 7.4,0a3.7,3.3 0 1,0 -7.4,0M1437.5,1007.3a3.7,3.3 0 1,0 7.4,0a3.7,3.3 0 1,0 -7.4,0M1346.7,936.3a3.7,3.3 0 1,0 7.4,0a3.7,3.3 0 1,0 -7.4,0M1235.3,945.6a3.7,3.3 0 1,0 7.4,0a3.7,3.3 0 1,0 -7.4,0M1214.6,960.7a3.7,3.3 0 1,0 7.4,0a3.7,3.3 0 1,0 -7.4,0M1222.5,970.3a3.7,3.3 0 1,0 7.4,0a3.7,3.3 0 1,0 -7.4,0M1205.3,987.6a3.7,3.3 0 1,0 7.4,0a3.7,3.3 0 1,0 -7.4,0M1243.7,985.2a3.7,3.3 0 1,0 7.4,0a3.7,3.3 0 1,0 -7.4,0M1211.1,1001.5a3.7,3.3 0 1,0 7.4,0a3.7,3.3 0 1,0 -7.4,0M1272.5,999.1a3.7,3.3 0 1,0 7.4,0a3.7,3.3 0 1,0 -7.4,0M1114.6,929.3a3.7,3.3 0 1,0 7.4,0a3.7,3.3 0 1,0 -7.4,0M1111.2,936.9a3.7,3.3 0 1,0 7.4,0a3.7,3.3 0 1,0 -7.4,0M1138.2,941.1a3.7,3.3 0 1,0 7.4,0a3.7,3.3 0 1,0 -7.4,0M1151.3,939.9a3.7,3.3 0 1,0 7.4,0a3.7,3.3 0 1,0 -7.4,0M1142.2,946.7a3.7,3.3 0 1,0 7.4,0a3.7,3.3 0 1,0 -7.4,0M1175.1,947.1a3.7,3.3 0 1,0 7.4,0a3.7,3.3 0 1,0 -7.4,0M1214.6,960.6a3.7,3.3 0 1,0 7.4,0a3.7,3.3 0 1,0 -7.4,0M1205.4,987.5a3.7,3.3 0 1,0 7.4,0a3.7,3.3 0 1,0 -7.4,0M1243.6,985.1a3.7,3.3 0 1,0 7.4,0a3.7,3.3 0 1,0 -7.4,0M1211.0,1001.4a3.7,3.3 0 1,0 7.4,0a3.7,3.3 0 1,0 -7.4,0M1272.4,999.2a3.7,3.3 0 1,0 7.4,0a3.7,3.3 0 1,0 -7.4,0M1183.5,1038.7a3.7,3.3 0 1,0 7.4,0a3.7,3.3 0 1,0 -7.4,0M1117.3,1050.6a3.7,3.3 0 1,0 7.4,0a3.7,3.3 0 1,0 -7.4,0M1153.7,1056.3a3.7,3.3 0 1,0 7.4,0a3.7,3.3 0 1,0 -7.4,0M1024.0,1070.5a3.7,3.3 0 1,0 7.4,0a3.7,3.3 0 1,0 -7.4,0M1073.3,1065.8a3.7,3.3 0 1,0 7.4,0a3.7,3.3 0 1,0 -7.4,0M1090.1,1061.1a3.7,3.3 0 1,0 7.4,0a3.7,3.3 0 1,0 -7.4,0M1204.3,1050.8a3.7,3.3 0 1,0 7.4,0a3.7,3.3 0 1,0 -7.4,0M1203.9,1065.3a3.7,3.3 0 1,0 7.4,0a3.7,3.3 0 1,0 -7.4,0M1214.3,1067.4a3.7,3.3 0 1,0 7.4,0a3.7,3.3 0 1,0 -7.4,0M1225.7,1060.1a3.7,3.3 0 1,0 7.4,0a3.7,3.3 0 1,0 -7.4,0M1238.0,1065.0a3.7,3.3 0 1,0 7.4,0a3.7,3.3 0 1,0 -7.4,0M1246.3,1053.5a3.7,3.3 0 1,0 7.4,0a3.7,3.3 0 1,0 -7.4,0M1258.1,1054.2a3.7,3.3 0 1,0 7.4,0a3.7,3.3 0 1,0 -7.4,0M1262.4,1046.8a3.7,3.3 0 1,0 7.4,0a3.7,3.3 0 1,0 -7.4,0M1253.4,1060.3a3.7,3.3 0 1,0 7.4,0a3.7,3.3 0 1,0 -7.4,0M1263.3,1067.4a3.7,3.3 0 1,0 7.4,0a3.7,3.3 0 1,0 -7.4,0M1262.1,1075.1a3.7,3.3 0 1,0 7.4,0a3.7,3.3 0 1,0 -7.4,0M1228.9,1074.0a3.7,3.3 0 1,0 7.4,0a3.7,3.3 0 1,0 -7.4,0M1233.6,1075.6a3.7,3.3 0 1,0 7.4,0a3.7,3.3 0 1,0 -7.4,0M1238.4,1079.2a3.7,3.3 0 1,0 7.4,0a3.7,3.3 0 1,0 -7.4,0M1227.3,1083.2a3.7,3.3 0 1,0 7.4,0a3.7,3.3 0 1,0 -7.4,0M1262.1,1084.3a3.7,3.3 0 1,0 7.4,0a3.7,3.3 0 1,0 -7.4,0M1438.2,1007.7a3.7,3.3 0 1,0 7.4,0a3.7,3.3 0 1,0 -7.4,0M1446.9,1042.2a3.7,3.3 0 1,0 7.4,0a3.7,3.3 0 1,0 -7.4,0M1483.8,1038.8a3.7,3.3 0 1,0 7.4,0a3.7,3.3 0 1,0 -7.4,0M1480.1,1053.0a3.7,3.3 0 1,0 7.4,0a3.7,3.3 0 1,0 -7.4,0M1446.2,1060.8a3.7,3.3 0 1,0 7.4,0a3.7,3.3 0 1,0 -7.4,0M1466.1,1066.4a3.7,3.3 0 1,0 7.4,0a3.7,3.3 0 1,0 -7.4,0M1464.6,1073.0a3.7,3.3 0 1,0 7.4,0a3.7,3.3 0 1,0 -7.4,0M1480.5,1067.4a3.7,3.3 0 1,0 7.4,0a3.7,3.3 0 1,0 -7.4,0M1458.7,1101.9a3.7,3.3 0 1,0 7.4,0a3.7,3.3 0 1,0 -7.4,0M1475.8,1105.2a3.7,3.3 0 1,0 7.4,0a3.7,3.3 0 1,0 -7.4,0M1478.6,1113.4a3.7,3.3 0 1,0 7.4,0a3.7,3.3 0 1,0 -7.4,0M1444.1,1118.1a3.7,3.3 0 1,0 7.4,0a3.7,3.3 0 1,0 -7.4,0M1439.1,1128.5a3.7,3.3 0 1,0 7.4,0a3.7,3.3 0 1,0 -7.4,0M1559.9,1099.6a3.7,3.3 0 1,0 7.4,0a3.7,3.3 0 1,0 -7.4,0M1438.2,1150.3a3.7,3.3 0 1,0 7.4,0a3.7,3.3 0 1,0 -7.4,0M1183.4,1038.4a3.7,3.3 0 1,0 7.4,0a3.7,3.3 0 1,0 -7.4,0M1204.0,1050.6a3.7,3.3 0 1,0 7.4,0a3.7,3.3 0 1,0 -7.4,0M1203.5,1064.9a3.7,3.3 0 1,0 7.4,0a3.7,3.3 0 1,0 -7.4,0M1214.3,1067.7a3.7,3.3 0 1,0 7.4,0a3.7,3.3 0 1,0 -7.4,0M1225.7,1059.8a3.7,3.3 0 1,0 7.4,0a3.7,3.3 0 1,0 -7.4,0M1238.0,1064.9a3.7,3.3 0 1,0 7.4,0a3.7,3.3 0 1,0 -7.4,0M1246.2,1053.8a3.7,3.3 0 1,0 7.4,0a3.7,3.3 0 1,0 -7.4,0M1253.3,1060.1a3.7,3.3 0 1,0 7.4,0a3.7,3.3 0 1,0 -7.4,0M1258.6,1054.6a3.7,3.3 0 1,0 7.4,0a3.7,3.3 0 1,0 -7.4,0M1262.2,1047.0a3.7,3.3 0 1,0 7.4,0a3.7,3.3 0 1,0 -7.4,0M1269.6,1034.5a3.7,3.3 0 1,0 7.4,0a3.7,3.3 0 1,0 -7.4,0M1275.7,1034.0a3.7,3.3 0 1,0 7.4,0a3.7,3.3 0 1,0 -7.4,0M1227.7,1073.6a3.7,3.3 0 1,0 7.4,0a3.7,3.3 0 1,0 -7.4,0M1233.3,1074.4a3.7,3.3 0 1,0 7.4,0a3.7,3.3 0 1,0 -7.4,0M1238.5,1079.1a3.7,3.3 0 1,0 7.4,0a3.7,3.3 0 1,0 -7.4,0M1226.6,1083.1a3.7,3.3 0 1,0 7.4,0a3.7,3.3 0 1,0 -7.4,0M1229.3,1089.4a3.7,3.3 0 1,0 7.4,0a3.7,3.3 0 1,0 -7.4,0M1231.4,1092.5a3.7,3.3 0 1,0 7.4,0a3.7,3.3 0 1,0 -7.4,0M1263.0,1067.7a3.7,3.3 0 1,0 7.4,0a3.7,3.3 0 1,0 -7.4,0M1262.2,1075.1a3.7,3.3 0 1,0 7.4,0a3.7,3.3 0 1,0 -7.4,0M1262.2,1084.6a3.7,3.3 0 1,0 7.4,0a3.7,3.3 0 1,0 -7.4,0M1261.7,1088.6a3.7,3.3 0 1,0 7.4,0a3.7,3.3 0 1,0 -7.4,0M1265.7,1096.2a3.7,3.3 0 1,0 7.4,0a3.7,3.3 0 1,0 -7.4,0M1269.3,1102.5a3.7,3.3 0 1,0 7.4,0a3.7,3.3 0 1,0 -7.4,0M1264.6,1108.1a3.7,3.3 0 1,0 7.4,0a3.7,3.3 0 1,0 -7.4,0M1257.0,1108.1a3.7,3.3 0 1,0 7.4,0a3.7,3.3 0 1,0 -7.4,0M1258.6,1116.3a3.7,3.3 0 1,0 7.4,0a3.7,3.3 0 1,0 -7.4,0M1269.6,1115.0a3.7,3.3 0 1,0 7.4,0a3.7,3.3 0 1,0 -7.4,0M1285.8,1081.5a3.7,3.3 0 1,0 7.4,0a3.7,3.3 0 1,0 -7.4,0M1283.6,1113.3a3.7,3.3 0 1,0 7.4,0a3.7,3.3 0 1,0 -7.4,0M1244.6,1104.1a3.7,3.3 0 1,0 7.4,0a3.7,3.3 0 1,0 -7.4,0M1233.3,1104.1a3.7,3.3 0 1,0 7.4,0a3.7,3.3 0 1,0 -7.4,0M1211.1,1097.1a3.7,3.3 0 1,0 7.4,0a3.7,3.3 0 1,0 -7.4,0M1184.2,1095.4a3.7,3.3 0 1,0 7.4,0a3.7,3.3 0 1,0 -7.4,0M1186.3,1109.5a3.7,3.3 0 1,0 7.4,0a3.7,3.3 0 1,0 -7.4,0M1203.5,1115.0a3.7,3.3 0 1,0 7.4,0a3.7,3.3 0 1,0 -7.4,0M1214.3,1121.2a3.7,3.3 0 1,0 7.4,0a3.7,3.3 0 1,0 -7.4,0M1219.0,1123.4a3.7,3.3 0 1,0 7.4,0a3.7,3.3 0 1,0 -7.4,0M1222.2,1127.4a3.7,3.3 0 1,0 7.4,0a3.7,3.3 0 1,0 -7.4,0M1221.4,1132.9a3.7,3.3 0 1,0 7.4,0a3.7,3.3 0 1,0 -7.4,0M1222.5,1137.6a3.7,3.3 0 1,0 7.4,0a3.7,3.3 0 1,0 -7.4,0M1226.6,1117.9a3.7,3.3 0 1,0 7.4,0a3.7,3.3 0 1,0 -7.4,0M1230.1,1123.1a3.7,3.3 0 1,0 7.4,0a3.7,3.3 0 1,0 -7.4,0M1234.8,1122.9a3.7,3.3 0 1,0 7.4,0a3.7,3.3 0 1,0 -7.4,0M1230.9,1136.8a3.7,3.3 0 1,0 7.4,0a3.7,3.3 0 1,0 -7.4,0M1243.9,1124.7a3.7,3.3 0 1,0 7.4,0a3.7,3.3 0 1,0 -7.4,0M1250.7,1117.4a3.7,3.3 0 1,0 7.4,0a3.7,3.3 0 1,0 -7.4,0M1250.7,1122.1a3.7,3.3 0 1,0 7.4,0a3.7,3.3 0 1,0 -7.4,0M1245.1,1136.4a3.7,3.3 0 1,0 7.4,0a3.7,3.3 0 1,0 -7.4,0M1271.2,1126.6a3.7,3.3 0 1,0 7.4,0a3.7,3.3 0 1,0 -7.4,0M1268.1,1131.3a3.7,3.3 0 1,0 7.4,0a3.7,3.3 0 1,0 -7.4,0M1265.7,1140.0a3.7,3.3 0 1,0 7.4,0a3.7,3.3 0 1,0 -7.4,0M1271.2,1140.0a3.7,3.3 0 1,0 7.4,0a3.7,3.3 0 1,0 -7.4,0M1181.0,1131.6a3.7,3.3 0 1,0 7.4,0a3.7,3.3 0 1,0 -7.4,0M1177.9,1134.2a3.7,3.3 0 1,0 7.4,0a3.7,3.3 0 1,0 -7.4,0M1312.7,1123.1a3.7,3.3 0 1,0 7.4,0a3.7,3.3 0 1,0 -7.4,0M1327.9,1115.0a3.7,3.3 0 1,0 7.4,0a3.7,3.3 0 1,0 -7.4,0M1332.1,1117.4a3.7,3.3 0 1,0 7.4,0a3.7,3.3 0 1,0 -7.4,0M1288.9,1147.1a3.7,3.3 0 1,0 7.4,0a3.7,3.3 0 1,0 -7.4,0M1302.9,1170.1a3.7,3.3 0 1,0 7.4,0a3.7,3.3 0 1,0 -7.4,0M1297.3,1178.8a3.7,3.3 0 1,0 7.4,0a3.7,3.3 0 1,0 -7.4,0M1218.2,1155.0a3.7,3.3 0 1,0 7.4,0a3.7,3.3 0 1,0 -7.4,0M1210.0,1157.4a3.7,3.3 0 1,0 7.4,0a3.7,3.3 0 1,0 -7.4,0M1216.6,1159.8a3.7,3.3 0 1,0 7.4,0a3.7,3.3 0 1,0 -7.4,0M1228.5,1155.5a3.7,3.3 0 1,0 7.4,0a3.7,3.3 0 1,0 -7.4,0M1218.2,1170.5a3.7,3.3 0 1,0 7.4,0a3.7,3.3 0 1,0 -7.4,0M1226.3,1168.6a3.7,3.3 0 1,0 7.4,0a3.7,3.3 0 1,0 -7.4,0M1216.6,1187.5a3.7,3.3 0 1,0 7.4,0a3.7,3.3 0 1,0 -7.4,0M1228.0,1191.0a3.7,3.3 0 1,0 7.4,0a3.7,3.3 0 1,0 -7.4,0M1185.8,1196.6a3.7,3.3 0 1,0 7.4,0a3.7,3.3 0 1,0 -7.4,0M1235.2,1180.4a3.7,3.3 0 1,0 7.4,0a3.7,3.3 0 1,0 -7.4,0M1341.6,1070.9a3.7,3.3 0 1,0 7.4,0a3.7,3.3 0 1,0 -7.4,0M1349.1,1058.9a3.7,3.3 0 1,0 7.4,0a3.7,3.3 0 1,0 -7.4,0M1339.2,1037.2a3.7,3.3 0 1,0 7.4,0a3.7,3.3 0 1,0 -7.4,0M1338.5,1040.8a3.7,3.3 0 1,0 7.4,0a3.7,3.3 0 1,0 -7.4,0M1357.1,1036.4a3.7,3.3 0 1,0 7.4,0a3.7,3.3 0 1,0 -7.4,0M1363.3,1040.3a3.7,3.3 0 1,0 7.4,0a3.7,3.3 0 1,0 -7.4,0M1370.6,1036.1a3.7,3.3 0 1,0 7.4,0a3.7,3.3 0 1,0 -7.4,0M1383.9,1022.8a3.7,3.3 0 1,0 7.4,0a3.7,3.3 0 1,0 -7.4,0M1390.7,1021.4a3.7,3.3 0 1,0 7.4,0a3.7,3.3 0 1,0 -7.4,0M1388.3,1031.3a3.7,3.3 0 1,0 7.4,0a3.7,3.3 0 1,0 -7.4,0M1405.4,1037.3a3.7,3.3 0 1,0 7.4,0a3.7,3.3 0 1,0 -7.4,0M1431.3,1029.7a3.7,3.3 0 1,0 7.4,0a3.7,3.3 0 1,0 -7.4,0M1437.7,1007.4a3.7,3.3 0 1,0 7.4,0a3.7,3.3 0 1,0 -7.4,0M1405.7,1002.4a3.7,3.3 0 1,0 7.4,0a3.7,3.3 0 1,0 -7.4,0M1410.4,1006.3a3.7,3.3 0 1,0 7.4,0a3.7,3.3 0 1,0 -7.4,0M1446.8,1042.2a3.7,3.3 0 1,0 7.4,0a3.7,3.3 0 1,0 -7.4,0M1446.0,1060.9a3.7,3.3 0 1,0 7.4,0a3.7,3.3 0 1,0 -7.4,0M1421.0,1050.6a3.7,3.3 0 1,0 7.4,0a3.7,3.3 0 1,0 -7.4,0M1416.8,1062.5a3.7,3.3 0 1,0 7.4,0a3.7,3.3 0 1,0 -7.4,0M1423.1,1072.8a3.7,3.3 0 1,0 7.4,0a3.7,3.3 0 1,0 -7.4,0M1421.5,1082.6a3.7,3.3 0 1,0 7.4,0a3.7,3.3 0 1,0 -7.4,0M1412.3,1079.4a3.7,3.3 0 1,0 7.4,0a3.7,3.3 0 1,0 -7.4,0M1395.9,1055.1a3.7,3.3 0 1,0 7.4,0a3.7,3.3 0 1,0 -7.4,0M1380.4,1046.2a3.7,3.3 0 1,0 7.4,0a3.7,3.3 0 1,0 -7.4,0M1382.8,1049.0a3.7,3.3 0 1,0 7.4,0a3.7,3.3 0 1,0 -7.4,0M1374.1,1056.2a3.7,3.3 0 1,0 7.4,0a3.7,3.3 0 1,0 -7.4,0M1378.8,1059.3a3.7,3.3 0 1,0 7.4,0a3.7,3.3 0 1,0 -7.4,0M1388.0,1058.9a3.7,3.3 0 1,0 7.4,0a3.7,3.3 0 1,0 -7.4,0M1384.3,1066.4a3.7,3.3 0 1,0 7.4,0a3.7,3.3 0 1,0 -7.4,0M1397.8,1067.2a3.7,3.3 0 1,0 7.4,0a3.7,3.3 0 1,0 -7.4,0M1402.5,1071.2a3.7,3.3 0 1,0 7.4,0a3.7,3.3 0 1,0 -7.4,0M1406.0,1072.8a3.7,3.3 0 1,0 7.4,0a3.7,3.3 0 1,0 -7.4,0M1382.0,1073.1a3.7,3.3 0 1,0 7.4,0a3.7,3.3 0 1,0 -7.4,0M1379.6,1076.7a3.7,3.3 0 1,0 7.4,0a3.7,3.3 0 1,0 -7.4,0M1390.7,1079.9a3.7,3.3 0 1,0 7.4,0a3.7,3.3 0 1,0 -7.4,0M1337.4,1086.2a3.7,3.3 0 1,0 7.4,0a3.7,3.3 0 1,0 -7.4,0M1337.7,1089.4a3.7,3.3 0 1,0 7.4,0a3.7,3.3 0 1,0 -7.4,0M1399.0,1091.3a3.7,3.3 0 1,0 7.4,0a3.7,3.3 0 1,0 -7.4,0M1408.1,1092.1a3.7,3.3 0 1,0 7.4,0a3.7,3.3 0 1,0 -7.4,0M1418.0,1095.9a3.7,3.3 0 1,0 7.4,0a3.7,3.3 0 1,0 -7.4,0M1404.1,1100.6a3.7,3.3 0 1,0 7.4,0a3.7,3.3 0 1,0 -7.4,0M1408.9,1102.8a3.7,3.3 0 1,0 7.4,0a3.7,3.3 0 1,0 -7.4,0M1414.9,1107.6a3.7,3.3 0 1,0 7.4,0a3.7,3.3 0 1,0 -7.4,0M1404.4,1108.4a3.7,3.3 0 1,0 7.4,0a3.7,3.3 0 1,0 -7.4,0M1395.4,1108.4a3.7,3.3 0 1,0 7.4,0a3.7,3.3 0 1,0 -7.4,0M1410.4,1113.9a3.7,3.3 0 1,0 7.4,0a3.7,3.3 0 1,0 -7.4,0M1382.0,1102.5a3.7,3.3 0 1,0 7.4,0a3.7,3.3 0 1,0 -7.4,0M1388.3,1100.9a3.7,3.3 0 1,0 7.4,0a3.7,3.3 0 1,0 -7.4,0M1444.1,1117.9a3.7,3.3 0 1,0 7.4,0a3.7,3.3 0 1,0 -7.4,0M1419.9,1122.6a3.7,3.3 0 1,0 7.4,0a3.7,3.3 0 1,0 -7.4,0M1428.2,1122.6a3.7,3.3 0 1,0 7.4,0a3.7,3.3 0 1,0 -7.4,0M1417.6,1131.3a3.7,3.3 0 1,0 7.4,0a3.7,3.3 0 1,0 -7.4,0M1428.6,1135.3a3.7,3.3 0 1,0 7.4,0a3.7,3.3 0 1,0 -7.4,0M1438.9,1128.5a3.7,3.3 0 1,0 7.4,0a3.7,3.3 0 1,0 -7.4,0M1404.1,1130.8a3.7,3.3 0 1,0 7.4,0a3.7,3.3 0 1,0 -7.4,0M1394.6,1137.6a3.7,3.3 0 1,0 7.4,0a3.7,3.3 0 1,0 -7.4,0M1408.9,1145.5a3.7,3.3 0 1,0 7.4,0a3.7,3.3 0 1,0 -7.4,0M1413.6,1151.1a3.7,3.3 0 1,0 7.4,0a3.7,3.3 0 1,0 -7.4,0M1419.1,1156.6a3.7,3.3 0 1,0 7.4,0a3.7,3.3 0 1,0 -7.4,0M1437.7,1150.3a3.7,3.3 0 1,0 7.4,0a3.7,3.3 0 1,0 -7.4,0M1402.5,1161.7a3.7,3.3 0 1,0 7.4,0a3.7,3.3 0 1,0 -7.4,0M1402.8,1174.5a3.7,3.3 0 1,0 7.4,0a3.7,3.3 0 1,0 -7.4,0M1395.9,1180.4a3.7,3.3 0 1,0 7.4,0a3.7,3.3 0 1,0 -7.4,0M1401.7,1185.1a3.7,3.3 0 1,0 7.4,0a3.7,3.3 0 1,0 -7.4,0M1384.8,1193.0a3.7,3.3 0 1,0 7.4,0a3.7,3.3 0 1,0 -7.4,0M1387.5,1152.2a3.7,3.3 0 1,0 7.4,0a3.7,3.3 0 1,0 -7.4,0M1383.5,1158.2a3.7,3.3 0 1,0 7.4,0a3.7,3.3 0 1,0 -7.4,0M1380.4,1156.6a3.7,3.3 0 1,0 7.4,0a3.7,3.3 0 1,0 -7.4,0M1394.6,1158.2a3.7,3.3 0 1,0 7.4,0a3.7,3.3 0 1,0 -7.4,0M1398.6,1161.7a3.7,3.3 0 1,0 7.4,0a3.7,3.3 0 1,0 -7.4,0M1389.9,1166.1a3.7,3.3 0 1,0 7.4,0a3.7,3.3 0 1,0 -7.4,0M1383.5,1167.7a3.7,3.3 0 1,0 7.4,0a3.7,3.3 0 1,0 -7.4,0M1393.0,1170.9a3.7,3.3 0 1,0 7.4,0a3.7,3.3 0 1,0 -7.4,0M1376.9,1187.5a3.7,3.3 0 1,0 7.4,0a3.7,3.3 0 1,0 -7.4,0M1367.7,1193.0a3.7,3.3 0 1,0 7.4,0a3.7,3.3 0 1,0 -7.4,0M1356.7,1201.7a3.7,3.3 0 1,0 7.4,0a3.7,3.3 0 1,0 -7.4,0M1349.5,1205.7a3.7,3.3 0 1,0 7.4,0a3.7,3.3 0 1,0 -7.4,0M1348.0,1141.0a3.7,3.3 0 1,0 7.4,0a3.7,3.3 0 1,0 -7.4,0M1354.0,1153.5a3.7,3.3 0 1,0 7.4,0a3.7,3.3 0 1,0 -7.4,0M1334.7,1195.0a3.7,3.3 0 1,0 7.4,0a3.7,3.3 0 1,0 -7.4,0M1343.4,1164.3a3.7,3.3 0 1,0 7.4,0a3.7,3.3 0 1,0 -7.4,0M1348.7,1190.1a3.7,3.3 0 1,0 7.4,0a3.7,3.3 0 1,0 -7.4,0M1354.8,1197.6a3.7,3.3 0 1,0 7.4,0a3.7,3.3 0 1,0 -7.4,0M1358.1,1186.7a3.7,3.3 0 1,0 7.4,0a3.7,3.3 0 1,0 -7.4,0M1350.7,1142.4a3.7,3.3 0 1,0 7.4,0a3.7,3.3 0 1,0 -7.4,0M1316.3,1199.1a3.7,3.3 0 1,0 7.4,0a3.7,3.3 0 1,0 -7.4,0M1357.5,1184.1a3.7,3.3 0 1,0 7.4,0a3.7,3.3 0 1,0 -7.4,0M1359.8,1139.7a3.7,3.3 0 1,0 7.4,0a3.7,3.3 0 1,0 -7.4,0M1346.7,1160.7a3.7,3.3 0 1,0 7.4,0a3.7,3.3 0 1,0 -7.4,0M1356.7,1159.3a3.7,3.3 0 1,0 7.4,0a3.7,3.3 0 1,0 -7.4,0M1324.0,1182.8a3.7,3.3 0 1,0 7.4,0a3.7,3.3 0 1,0 -7.4,0M1318.0,1202.2a3.7,3.3 0 1,0 7.4,0a3.7,3.3 0 1,0 -7.4,0M1360.2,1164.1a3.7,3.3 0 1,0 7.4,0a3.7,3.3 0 1,0 -7.4,0M1328.1,1197.7a3.7,3.3 0 1,0 7.4,0a3.7,3.3 0 1,0 -7.4,0M1347.9,1154.5a3.7,3.3 0 1,0 7.4,0a3.7,3.3 0 1,0 -7.4,0M1337.3,1166.4a3.7,3.3 0 1,0 7.4,0a3.7,3.3 0 1,0 -7.4,0M1362.0,1155.9a3.7,3.3 0 1,0 7.4,0a3.7,3.3 0 1,0 -7.4,0M1311.9,1208.7a3.7,3.3 0 1,0 7.4,0a3.7,3.3 0 1,0 -7.4,0M1329.1,1162.1a3.7,3.3 0 1,0 7.4,0a3.7,3.3 0 1,0 -7.4,0M1350.0,1153.9a3.7,3.3 0 1,0 7.4,0a3.7,3.3 0 1,0 -7.4,0M1318.2,1215.0a3.7,3.3 0 1,0 7.4,0a3.7,3.3 0 1,0 -7.4,0M1335.1,1173.7a3.7,3.3 0 1,0 7.4,0a3.7,3.3 0 1,0 -7.4,0M1372.0,1157.3a3.7,3.3 0 1,0 7.4,0a3.7,3.3 0 1,0 -7.4,0M1345.8,1157.6a3.7,3.3 0 1,0 7.4,0a3.7,3.3 0 1,0 -7.4,0M1331.3,1178.6a3.7,3.3 0 1,0 7.4,0a3.7,3.3 0 1,0 -7.4,0M1336.2,1196.2a3.7,3.3 0 1,0 7.4,0a3.7,3.3 0 1,0 -7.4,0M1376.8,1146.6a3.7,3.3 0 1,0 7.4,0a3.7,3.3 0 1,0 -7.4,0M1330.1,1158.1a3.7,3.3 0 1,0 7.4,0a3.7,3.3 0 1,0 -7.4,0M1340.5,1146.0a3.7,3.3 0 1,0 7.4,0a3.7,3.3 0 1,0 -7.4,0M1352.5,1185.1a3.7,3.3 0 1,0 7.4,0a3.7,3.3 0 1,0 -7.4,0M1360.6,1150.0a3.7,3.3 0 1,0 7.4,0a3.7,3.3 0 1,0 -7.4,0M1359.0,1182.5a3.7,3.3 0 1,0 7.4,0a3.7,3.3 0 1,0 -7.4,0M1341.1,1185.1a3.7,3.3 0 1,0 7.4,0a3.7,3.3 0 1,0 -7.4,0M1320.0,1183.3a3.7,3.3 0 1,0 7.4,0a3.7,3.3 0 1,0 -7.4,0M1322.9,1199.1a3.7,3.3 0 1,0 7.4,0a3.7,3.3 0 1,0 -7.4,0M1354.1,1164.0a3.7,3.3 0 1,0 7.4,0a3.7,3.3 0 1,0 -7.4,0M1348.6,1198.5a3.7,3.3 0 1,0 7.4,0a3.7,3.3 0 1,0 -7.4,0M1348.0,1193.4a3.7,3.3 0 1,0 7.4,0a3.7,3.3 0 1,0 -7.4,0M1338.2,1179.3a3.7,3.3 0 1,0 7.4,0a3.7,3.3 0 1,0 -7.4,0M1328.5,1182.1a3.7,3.3 0 1,0 7.4,0a3.7,3.3 0 1,0 -7.4,0M1344.3,1193.5a3.7,3.3 0 1,0 7.4,0a3.7,3.3 0 1,0 -7.4,0M1359.6,1152.9a3.7,3.3 0 1,0 7.4,0a3.7,3.3 0 1,0 -7.4,0M1364.5,1151.0a3.7,3.3 0 1,0 7.4,0a3.7,3.3 0 1,0 -7.4,0M1359.4,1150.4a3.7,3.3 0 1,0 7.4,0a3.7,3.3 0 1,0 -7.4,0M1373.7,1143.9a3.7,3.3 0 1,0 7.4,0a3.7,3.3 0 1,0 -7.4,0M1370.2,1150.8a3.7,3.3 0 1,0 7.4,0a3.7,3.3 0 1,0 -7.4,0M1336.5,1164.3a3.7,3.3 0 1,0 7.4,0a3.7,3.3 0 1,0 -7.4,0M1357.0,1183.5a3.7,3.3 0 1,0 7.4,0a3.7,3.3 0 1,0 -7.4,0M1338.2,1171.5a3.7,3.3 0 1,0 7.4,0a3.7,3.3 0 1,0 -7.4,0M1338.6,1148.9a3.7,3.3 0 1,0 7.4,0a3.7,3.3 0 1,0 -7.4,0M1323.3,1190.8a3.7,3.3 0 1,0 7.4,0a3.7,3.3 0 1,0 -7.4,0M1326.3,1162.2a3.7,3.3 0 1,0 7.4,0a3.7,3.3 0 1,0 -7.4,0M1364.0,1143.9a3.7,3.3 0 1,0 7.4,0a3.7,3.3 0 1,0 -7.4,0M1336.8,1197.2a3.7,3.3 0 1,0 7.4,0a3.7,3.3 0 1,0 -7.4,0M1326.7,1164.6a3.7,3.3 0 1,0 7.4,0a3.7,3.3 0 1,0 -7.4,0M1366.9,1142.5a3.7,3.3 0 1,0 7.4,0a3.7,3.3 0 1,0 -7.4,0M1329.8,1198.6a3.7,3.3 0 1,0 7.4,0a3.7,3.3 0 1,0 -7.4,0M1363.4,1184.7a3.7,3.3 0 1,0 7.4,0a3.7,3.3 0 1,0 -7.4,0M1349.0,1154.3a3.7,3.3 0 1,0 7.4,0a3.7,3.3 0 1,0 -7.4,0M1341.5,1193.2a3.7,3.3 0 1,0 7.4,0a3.7,3.3 0 1,0 -7.4,0M1325.8,1185.3a3.7,3.3 0 1,0 7.4,0a3.7,3.3 0 1,0 -7.4,0M1348.2,1156.6a3.7,3.3 0 1,0 7.4,0a3.7,3.3 0 1,0 -7.4,0M1320.6,1182.8a3.7,3.3 0 1,0 7.4,0a3.7,3.3 0 1,0 -7.4,0M1344.4,1154.3a3.7,3.3 0 1,0 7.4,0a3.7,3.3 0 1,0 -7.4,0M1354.3,1157.4a3.7,3.3 0 1,0 7.4,0a3.7,3.3 0 1,0 -7.4,0M1372.7,1143.3a3.7,3.3 0 1,0 7.4,0a3.7,3.3 0 1,0 -7.4,0M1338.3,1146.8a3.7,3.3 0 1,0 7.4,0a3.7,3.3 0 1,0 -7.4,0M1360.9,1161.2a3.7,3.3 0 1,0 7.4,0a3.7,3.3 0 1,0 -7.4,0M1335.0,1155.5a3.7,3.3 0 1,0 7.4,0a3.7,3.3 0 1,0 -7.4,0M1352.7,1177.7a3.7,3.3 0 1,0 7.4,0a3.7,3.3 0 1,0 -7.4,0M1316.1,1200.9a3.7,3.3 0 1,0 7.4,0a3.7,3.3 0 1,0 -7.4,0M1316.9,1211.7a3.7,3.3 0 1,0 7.4,0a3.7,3.3 0 1,0 -7.4,0M1362.9,1161.7a3.7,3.3 0 1,0 7.4,0a3.7,3.3 0 1,0 -7.4,0M1326.6,1207.3a3.7,3.3 0 1,0 7.4,0a3.7,3.3 0 1,0 -7.4,0M1362.6,1168.2a3.7,3.3 0 1,0 7.4,0a3.7,3.3 0 1,0 -7.4,0M1343.0,1168.0a3.7,3.3 0 1,0 7.4,0a3.7,3.3 0 1,0 -7.4,0M1368.0,1150.6a3.7,3.3 0 1,0 7.4,0a3.7,3.3 0 1,0 -7.4,0M1343.7,1154.2a3.7,3.3 0 1,0 7.4,0a3.7,3.3 0 1,0 -7.4,0M1331.9,1176.0a3.7,3.3 0 1,0 7.4,0a3.7,3.3 0 1,0 -7.4,0M1328.1,1200.0a3.7,3.3 0 1,0 7.4,0a3.7,3.3 0 1,0 -7.4,0M1363.8,1159.9a3.7,3.3 0 1,0 7.4,0a3.7,3.3 0 1,0 -7.4,0M1375.6,1145.6a3.7,3.3 0 1,0 7.4,0a3.7,3.3 0 1,0 -7.4,0M1328.7,1187.2a3.7,3.3 0 1,0 7.4,0a3.7,3.3 0 1,0 -7.4,0M1360.0,1157.3a3.7,3.3 0 1,0 7.4,0a3.7,3.3 0 1,0 -7.4,0M1326.9,1173.0a3.7,3.3 0 1,0 7.4,0a3.7,3.3 0 1,0 -7.4,0M1370.0,1150.9a3.7,3.3 0 1,0 7.4,0a3.7,3.3 0 1,0 -7.4,0M1313.2,1215.7a3.7,3.3 0 1,0 7.4,0a3.7,3.3 0 1,0 -7.4,0M1338.8,1181.4a3.7,3.3 0 1,0 7.4,0a3.7,3.3 0 1,0 -7.4,0M1346.5,1203.2a3.7,3.3 0 1,0 7.4,0a3.7,3.3 0 1,0 -7.4,0M1352.5,1190.4a3.7,3.3 0 1,0 7.4,0a3.7,3.3 0 1,0 -7.4,0M1373.6,1146.4a3.7,3.3 0 1,0 7.4,0a3.7,3.3 0 1,0 -7.4,0M1330.8,1201.2a3.7,3.3 0 1,0 7.4,0a3.7,3.3 0 1,0 -7.4,0M1328.7,1186.9a3.7,3.3 0 1,0 7.4,0a3.7,3.3 0 1,0 -7.4,0M1359.4,1182.7a3.7,3.3 0 1,0 7.4,0a3.7,3.3 0 1,0 -7.4,0M1356.6,1182.2a3.7,3.3 0 1,0 7.4,0a3.7,3.3 0 1,0 -7.4,0M1354.3,1194.0a3.7,3.3 0 1,0 7.4,0a3.7,3.3 0 1,0 -7.4,0M1369.1,1150.7a3.7,3.3 0 1,0 7.4,0a3.7,3.3 0 1,0 -7.4,0M1363.1,1154.2a3.7,3.3 0 1,0 7.4,0a3.7,3.3 0 1,0 -7.4,0M1356.9,1191.2a3.7,3.3 0 1,0 7.4,0a3.7,3.3 0 1,0 -7.4,0M1363.2,1184.3a3.7,3.3 0 1,0 7.4,0a3.7,3.3 0 1,0 -7.4,0M1359.9,1188.7a3.7,3.3 0 1,0 7.4,0a3.7,3.3 0 1,0 -7.4,0M1331.3,1203.4a3.7,3.3 0 1,0 7.4,0a3.7,3.3 0 1,0 -7.4,0M1348.8,1150.1a3.7,3.3 0 1,0 7.4,0a3.7,3.3 0 1,0 -7.4,0M1366.5,1154.0a3.7,3.3 0 1,0 7.4,0a3.7,3.3 0 1,0 -7.4,0M1351.9,1194.9a3.7,3.3 0 1,0 7.4,0a3.7,3.3 0 1,0 -7.4,0M1348.1,1172.6a3.7,3.3 0 1,0 7.4,0a3.7,3.3 0 1,0 -7.4,0M1338.3,1157.8a3.7,3.3 0 1,0 7.4,0a3.7,3.3 0 1,0 -7.4,0M1347.8,1161.3a3.7,3.3 0 1,0 7.4,0a3.7,3.3 0 1,0 -7.4,0M1341.8,1144.0a3.7,3.3 0 1,0 7.4,0a3.7,3.3 0 1,0 -7.4,0M1358.0,1192.3a3.7,3.3 0 1,0 7.4,0a3.7,3.3 0 1,0 -7.4,0M1357.2,1145.0a3.7,3.3 0 1,0 7.4,0a3.7,3.3 0 1,0 -7.4,0M1324.6,1213.3a3.7,3.3 0 1,0 7.4,0a3.7,3.3 0 1,0 -7.4,0M1371.7,1156.8a3.7,3.3 0 1,0 7.4,0a3.7,3.3 0 1,0 -7.4,0M1347.9,1199.1a3.7,3.3 0 1,0 7.4,0a3.7,3.3 0 1,0 -7.4,0M1327.7,1177.6a3.7,3.3 0 1,0 7.4,0a3.7,3.3 0 1,0 -7.4,0M1343.6,1181.1a3.7,3.3 0 1,0 7.4,0a3.7,3.3 0 1,0 -7.4,0M1323.9,1198.6a3.7,3.3 0 1,0 7.4,0a3.7,3.3 0 1,0 -7.4,0M1348.0,1172.0a3.7,3.3 0 1,0 7.4,0a3.7,3.3 0 1,0 -7.4,0M1342.3,1200.4a3.7,3.3 0 1,0 7.4,0a3.7,3.3 0 1,0 -7.4,0M1338.4,1148.6a3.7,3.3 0 1,0 7.4,0a3.7,3.3 0 1,0 -7.4,0M1346.0,1188.2a3.7,3.3 0 1,0 7.4,0a3.7,3.3 0 1,0 -7.4,0M1350.7,1145.9a3.7,3.3 0 1,0 7.4,0a3.7,3.3 0 1,0 -7.4,0M1365.4,1163.6a3.7,3.3 0 1,0 7.4,0a3.7,3.3 0 1,0 -7.4,0M1356.0,1161.8a3.7,3.3 0 1,0 7.4,0a3.7,3.3 0 1,0 -7.4,0M1320.4,1188.7a3.7,3.3 0 1,0 7.4,0a3.7,3.3 0 1,0 -7.4,0M1322.5,1197.3a3.7,3.3 0 1,0 7.4,0a3.7,3.3 0 1,0 -7.4,0M1349.0,1141.5a3.7,3.3 0 1,0 7.4,0a3.7,3.3 0 1,0 -7.4,0M1357.6,1193.7a3.7,3.3 0 1,0 7.4,0a3.7,3.3 0 1,0 -7.4,0M1348.1,1184.3a3.7,3.3 0 1,0 7.4,0a3.7,3.3 0 1,0 -7.4,0M1322.3,1189.4a3.7,3.3 0 1,0 7.4,0a3.7,3.3 0 1,0 -7.4,0M1351.7,1191.7a3.7,3.3 0 1,0 7.4,0a3.7,3.3 0 1,0 -7.4,0M1323.8,1210.9a3.7,3.3 0 1,0 7.4,0a3.7,3.3 0 1,0 -7.4,0M1335.3,1200.8a3.7,3.3 0 1,0 7.4,0a3.7,3.3 0 1,0 -7.4,0M1349.8,1153.2a3.7,3.3 0 1,0 7.4,0a3.7,3.3 0 1,0 -7.4,0M1337.3,1186.3a3.7,3.3 0 1,0 7.4,0a3.7,3.3 0 1,0 -7.4,0M1356.2,1170.0a3.7,3.3 0 1,0 7.4,0a3.7,3.3 0 1,0 -7.4,0M1323.7,1212.9a3.7,3.3 0 1,0 7.4,0a3.7,3.3 0 1,0 -7.4,0M1367.5,1157.4a3.7,3.3 0 1,0 7.4,0a3.7,3.3 0 1,0 -7.4,0M1340.1,1155.3a3.7,3.3 0 1,0 7.4,0a3.7,3.3 0 1,0 -7.4,0M1342.1,1151.8a3.7,3.3 0 1,0 7.4,0a3.7,3.3 0 1,0 -7.4,0M1347.1,1142.0a3.7,3.3 0 1,0 7.4,0a3.7,3.3 0 1,0 -7.4,0M1369.3,1144.8a3.7,3.3 0 1,0 7.4,0a3.7,3.3 0 1,0 -7.4,0M1320.2,1184.9a3.7,3.3 0 1,0 7.4,0a3.7,3.3 0 1,0 -7.4,0M1335.9,1189.7a3.7,3.3 0 1,0 7.4,0a3.7,3.3 0 1,0 -7.4,0M1324.7,1213.4a3.7,3.3 0 1,0 7.4,0a3.7,3.3 0 1,0 -7.4,0M1340.2,1198.7a3.7,3.3 0 1,0 7.4,0a3.7,3.3 0 1,0 -7.4,0M1346.7,1142.7a3.7,3.3 0 1,0 7.4,0a3.7,3.3 0 1,0 -7.4,0M1329.1,1168.5a3.7,3.3 0 1,0 7.4,0a3.7,3.3 0 1,0 -7.4,0M1331.7,1195.6a3.7,3.3 0 1,0 7.4,0a3.7,3.3 0 1,0 -7.4,0M1369.2,1154.8a3.7,3.3 0 1,0 7.4,0a3.7,3.3 0 1,0 -7.4,0M1361.8,1150.2a3.7,3.3 0 1,0 7.4,0a3.7,3.3 0 1,0 -7.4,0M1334.4,1156.5a3.7,3.3 0 1,0 7.4,0a3.7,3.3 0 1,0 -7.4,0M1338.2,1150.6a3.7,3.3 0 1,0 7.4,0a3.7,3.3 0 1,0 -7.4,0M1359.2,1190.3a3.7,3.3 0 1,0 7.4,0a3.7,3.3 0 1,0 -7.4,0M1318.7,1188.6a3.7,3.3 0 1,0 7.4,0a3.7,3.3 0 1,0 -7.4,0M1321.2,1201.1a3.7,3.3 0 1,0 7.4,0a3.7,3.3 0 1,0 -7.4,0M1354.3,1179.2a3.7,3.3 0 1,0 7.4,0a3.7,3.3 0 1,0 -7.4,0M1349.1,1149.5a3.7,3.3 0 1,0 7.4,0a3.7,3.3 0 1,0 -7.4,0M1347.7,1148.4a3.7,3.3 0 1,0 7.4,0a3.7,3.3 0 1,0 -7.4,0M1364.2,1152.7a3.7,3.3 0 1,0 7.4,0a3.7,3.3 0 1,0 -7.4,0M1351.9,1193.1a3.7,3.3 0 1,0 7.4,0a3.7,3.3 0 1,0 -7.4,0M1354.5,1169.7a3.7,3.3 0 1,0 7.4,0a3.7,3.3 0 1,0 -7.4,0M1357.6,1142.7a3.7,3.3 0 1,0 7.4,0a3.7,3.3 0 1,0 -7.4,0M1362.7,1153.5a3.7,3.3 0 1,0 7.4,0a3.7,3.3 0 1,0 -7.4,0M1342.8,1152.5a3.7,3.3 0 1,0 7.4,0a3.7,3.3 0 1,0 -7.4,0M1326.4,1175.7a3.7,3.3 0 1,0 7.4,0a3.7,3.3 0 1,0 -7.4,0M1321.0,1199.5a3.7,3.3 0 1,0 7.4,0a3.7,3.3 0 1,0 -7.4,0M1319.6,1205.5a3.7,3.3 0 1,0 7.4,0a3.7,3.3 0 1,0 -7.4,0M1342.2,1162.3a3.7,3.3 0 1,0 7.4,0a3.7,3.3 0 1,0 -7.4,0M1332.3,1209.1a3.7,3.3 0 1,0 7.4,0a3.7,3.3 0 1,0 -7.4,0M1343.4,1201.4a3.7,3.3 0 1,0 7.4,0a3.7,3.3 0 1,0 -7.4,0M1337.7,1184.1a3.7,3.3 0 1,0 7.4,0a3.7,3.3 0 1,0 -7.4,0M1364.5,1162.8a3.7,3.3 0 1,0 7.4,0a3.7,3.3 0 1,0 -7.4,0M1370.6,1152.8a3.7,3.3 0 1,0 7.4,0a3.7,3.3 0 1,0 -7.4,0M1344.5,1142.4a3.7,3.3 0 1,0 7.4,0a3.7,3.3 0 1,0 -7.4,0M1335.0,1184.6a3.7,3.3 0 1,0 7.4,0a3.7,3.3 0 1,0 -7.4,0M1360.3,1188.5a3.7,3.3 0 1,0 7.4,0a3.7,3.3 0 1,0 -7.4,0M1353.7,1149.2a3.7,3.3 0 1,0 7.4,0a3.7,3.3 0 1,0 -7.4,0M1323.3,1186.8a3.7,3.3 0 1,0 7.4,0a3.7,3.3 0 1,0 -7.4,0M1342.7,1147.9a3.7,3.3 0 1,0 7.4,0a3.7,3.3 0 1,0 -7.4,0M1362.8,1150.5a3.7,3.3 0 1,0 7.4,0a3.7,3.3 0 1,0 -7.4,0M1319.2,1197.6a3.7,3.3 0 1,0 7.4,0a3.7,3.3 0 1,0 -7.4,0M1333.2,1187.3a3.7,3.3 0 1,0 7.4,0a3.7,3.3 0 1,0 -7.4,0M1334.6,1173.3a3.7,3.3 0 1,0 7.4,0a3.7,3.3 0 1,0 -7.4,0M1334.1,1208.7a3.7,3.3 0 1,0 7.4,0a3.7,3.3 0 1,0 -7.4,0M1364.1,1180.8a3.7,3.3 0 1,0 7.4,0a3.7,3.3 0 1,0 -7.4,0M1312.6,1216.8a3.7,3.3 0 1,0 7.4,0a3.7,3.3 0 1,0 -7.4,0M1358.8,1142.3a3.7,3.3 0 1,0 7.4,0a3.7,3.3 0 1,0 -7.4,0M1342.0,1146.8a3.7,3.3 0 1,0 7.4,0a3.7,3.3 0 1,0 -7.4,0M1314.3,1201.5a3.7,3.3 0 1,0 7.4,0a3.7,3.3 0 1,0 -7.4,0M1349.5,1201.1a3.7,3.3 0 1,0 7.4,0a3.7,3.3 0 1,0 -7.4,0M1374.3,1143.1a3.7,3.3 0 1,0 7.4,0a3.7,3.3 0 1,0 -7.4,0M1363.0,1179.2a3.7,3.3 0 1,0 7.4,0a3.7,3.3 0 1,0 -7.4,0M1329.5,1175.8a3.7,3.3 0 1,0 7.4,0a3.7,3.3 0 1,0 -7.4,0M1327.0,1198.4a3.7,3.3 0 1,0 7.4,0a3.7,3.3 0 1,0 -7.4,0M1358.7,1191.6a3.7,3.3 0 1,0 7.4,0a3.7,3.3 0 1,0 -7.4,0M1374.4,1146.7a3.7,3.3 0 1,0 7.4,0a3.7,3.3 0 1,0 -7.4,0M1360.5,1148.5a3.7,3.3 0 1,0 7.4,0a3.7,3.3 0 1,0 -7.4,0M1331.9,1175.0a3.7,3.3 0 1,0 7.4,0a3.7,3.3 0 1,0 -7.4,0M1322.2,1191.8a3.7,3.3 0 1,0 7.4,0a3.7,3.3 0 1,0 -7.4,0M1334.0,1184.5a3.7,3.3 0 1,0 7.4,0a3.7,3.3 0 1,0 -7.4,0M1350.1,1154.0a3.7,3.3 0 1,0 7.4,0a3.7,3.3 0 1,0 -7.4,0M1378.2,1143.0a3.7,3.3 0 1,0 7.4,0a3.7,3.3 0 1,0 -7.4,0M1317.8,1193.8a3.7,3.3 0 1,0 7.4,0a3.7,3.3 0 1,0 -7.4,0M1369.7,1142.2a3.7,3.3 0 1,0 7.4,0a3.7,3.3 0 1,0 -7.4,0M1318.2,1204.3a3.7,3.3 0 1,0 7.4,0a3.7,3.3 0 1,0 -7.4,0M1368.9,1156.2a3.7,3.3 0 1,0 7.4,0a3.7,3.3 0 1,0 -7.4,0M1361.0,1139.5a3.7,3.3 0 1,0 7.4,0a3.7,3.3 0 1,0 -7.4,0M1318.7,1214.3a3.7,3.3 0 1,0 7.4,0a3.7,3.3 0 1,0 -7.4,0M1337.8,1205.9a3.7,3.3 0 1,0 7.4,0a3.7,3.3 0 1,0 -7.4,0M1365.2,1174.1a3.7,3.3 0 1,0 7.4,0a3.7,3.3 0 1,0 -7.4,0M1357.8,1175.9a3.7,3.3 0 1,0 7.4,0a3.7,3.3 0 1,0 -7.4,0M1341.8,1158.7a3.7,3.3 0 1,0 7.4,0a3.7,3.3 0 1,0 -7.4,0M1358.0,1164.6a3.7,3.3 0 1,0 7.4,0a3.7,3.3 0 1,0 -7.4,0M1349.2,1171.1a3.7,3.3 0 1,0 7.4,0a3.7,3.3 0 1,0 -7.4,0M1320.1,1196.8a3.7,3.3 0 1,0 7.4,0a3.7,3.3 0 1,0 -7.4,0M1365.6,1172.0a3.7,3.3 0 1,0 7.4,0a3.7,3.3 0 1,0 -7.4,0M1328.5,1173.3a3.7,3.3 0 1,0 7.4,0a3.7,3.3 0 1,0 -7.4,0M1333.8,1186.1a3.7,3.3 0 1,0 7.4,0a3.7,3.3 0 1,0 -7.4,0M1347.1,1159.9a3.7,3.3 0 1,0 7.4,0a3.7,3.3 0 1,0 -7.4,0M1337.4,1201.6a3.7,3.3 0 1,0 7.4,0a3.7,3.3 0 1,0 -7.4,0M1363.5,1142.6a3.7,3.3 0 1,0 7.4,0a3.7,3.3 0 1,0 -7.4,0M1364.2,1174.7a3.7,3.3 0 1,0 7.4,0a3.7,3.3 0 1,0 -7.4,0M1339.5,1204.0a3.7,3.3 0 1,0 7.4,0a3.7,3.3 0 1,0 -7.4,0M1337.7,1191.5a3.7,3.3 0 1,0 7.4,0a3.7,3.3 0 1,0 -7.4,0M1325.4,1175.0a3.7,3.3 0 1,0 7.4,0a3.7,3.3 0 1,0 -7.4,0M1361.9,1147.0a3.7,3.3 0 1,0 7.4,0a3.7,3.3 0 1,0 -7.4,0M1340.6,1185.5a3.7,3.3 0 1,0 7.4,0a3.7,3.3 0 1,0 -7.4,0M1354.0,1139.2a3.7,3.3 0 1,0 7.4,0a3.7,3.3 0 1,0 -7.4,0M1362.6,1142.5a3.7,3.3 0 1,0 7.4,0a3.7,3.3 0 1,0 -7.4,0M1330.0,1155.0a3.7,3.3 0 1,0 7.4,0a3.7,3.3 0 1,0 -7.4,0M1335.7,1191.0a3.7,3.3 0 1,0 7.4,0a3.7,3.3 0 1,0 -7.4,0M1346.6,1141.7a3.7,3.3 0 1,0 7.4,0a3.7,3.3 0 1,0 -7.4,0M1332.1,1180.3a3.7,3.3 0 1,0 7.4,0a3.7,3.3 0 1,0 -7.4,0M1320.8,1215.0a3.7,3.3 0 1,0 7.4,0a3.7,3.3 0 1,0 -7.4,0M1330.1,1190.3a3.7,3.3 0 1,0 7.4,0a3.7,3.3 0 1,0 -7.4,0M1329.4,1203.0a3.7,3.3 0 1,0 7.4,0a3.7,3.3 0 1,0 -7.4,0M1350.7,1182.8a3.7,3.3 0 1,0 7.4,0a3.7,3.3 0 1,0 -7.4,0M1335.2,1198.4a3.7,3.3 0 1,0 7.4,0a3.7,3.3 0 1,0 -7.4,0M1343.4,1166.2a3.7,3.3 0 1,0 7.4,0a3.7,3.3 0 1,0 -7.4,0M1370.3,1146.6a3.7,3.3 0 1,0 7.4,0a3.7,3.3 0 1,0 -7.4,0M1353.9,1162.3a3.7,3.3 0 1,0 7.4,0a3.7,3.3 0 1,0 -7.4,0M1345.2,1162.5a3.7,3.3 0 1,0 7.4,0a3.7,3.3 0 1,0 -7.4,0M1344.9,1174.8a3.7,3.3 0 1,0 7.4,0a3.7,3.3 0 1,0 -7.4,0M1353.7,1182.3a3.7,3.3 0 1,0 7.4,0a3.7,3.3 0 1,0 -7.4,0M1353.1,1155.6a3.7,3.3 0 1,0 7.4,0a3.7,3.3 0 1,0 -7.4,0M1345.0,1176.4a3.7,3.3 0 1,0 7.4,0a3.7,3.3 0 1,0 -7.4,0M1327.5,1168.6a3.7,3.3 0 1,0 7.4,0a3.7,3.3 0 1,0 -7.4,0M1333.7,1206.0a3.7,3.3 0 1,0 7.4,0a3.7,3.3 0 1,0 -7.4,0M1357.7,1179.0a3.7,3.3 0 1,0 7.4,0a3.7,3.3 0 1,0 -7.4,0M1343.3,1161.3a3.7,3.3 0 1,0 7.4,0a3.7,3.3 0 1,0 -7.4,0M1351.6,1158.5a3.7,3.3 0 1,0 7.4,0a3.7,3.3 0 1,0 -7.4,0M1343.7,1152.0a3.7,3.3 0 1,0 7.4,0a3.7,3.3 0 1,0 -7.4,0M1326.2,1192.5a3.7,3.3 0 1,0 7.4,0a3.7,3.3 0 1,0 -7.4,0M1315.1,1194.2a3.7,3.3 0 1,0 7.4,0a3.7,3.3 0 1,0 -7.4,0M1370.7,1158.1a3.7,3.3 0 1,0 7.4,0a3.7,3.3 0 1,0 -7.4,0M1336.4,1161.2a3.7,3.3 0 1,0 7.4,0a3.7,3.3 0 1,0 -7.4,0M1335.4,1162.0a3.7,3.3 0 1,0 7.4,0a3.7,3.3 0 1,0 -7.4,0M1377.0,1144.2a3.7,3.3 0 1,0 7.4,0a3.7,3.3 0 1,0 -7.4,0M1369.6,1161.8a3.7,3.3 0 1,0 7.4,0a3.7,3.3 0 1,0 -7.4,0M1358.0,1164.8a3.7,3.3 0 1,0 7.4,0a3.7,3.3 0 1,0 -7.4,0M1344.2,1144.8a3.7,3.3 0 1,0 7.4,0a3.7,3.3 0 1,0 -7.4,0M1366.1,1146.3a3.7,3.3 0 1,0 7.4,0a3.7,3.3 0 1,0 -7.4,0M1362.9,1145.8a3.7,3.3 0 1,0 7.4,0a3.7,3.3 0 1,0 -7.4,0M1353.9,1178.6a3.7,3.3 0 1,0 7.4,0a3.7,3.3 0 1,0 -7.4,0M1331.1,1174.6a3.7,3.3 0 1,0 7.4,0a3.7,3.3 0 1,0 -7.4,0M1349.3,1181.0a3.7,3.3 0 1,0 7.4,0a3.7,3.3 0 1,0 -7.4,0M1315.8,1203.2a3.7,3.3 0 1,0 7.4,0a3.7,3.3 0 1,0 -7.4,0M1361.4,1179.9a3.7,3.3 0 1,0 7.4,0a3.7,3.3 0 1,0 -7.4,0M1352.1,1184.6a3.7,3.3 0 1,0 7.4,0a3.7,3.3 0 1,0 -7.4,0M1349.9,1163.7a3.7,3.3 0 1,0 7.4,0a3.7,3.3 0 1,0 -7.4,0M1348.1,1157.5a3.7,3.3 0 1,0 7.4,0a3.7,3.3 0 1,0 -7.4,0M1356.1,1142.4a3.7,3.3 0 1,0 7.4,0a3.7,3.3 0 1,0 -7.4,0M1336.4,1152.3a3.7,3.3 0 1,0 7.4,0a3.7,3.3 0 1,0 -7.4,0M1363.8,1153.6a3.7,3.3 0 1,0 7.4,0a3.7,3.3 0 1,0 -7.4,0M1341.8,1204.3a3.7,3.3 0 1,0 7.4,0a3.7,3.3 0 1,0 -7.4,0M1350.3,1170.2a3.7,3.3 0 1,0 7.4,0a3.7,3.3 0 1,0 -7.4,0M1332.4,1207.9a3.7,3.3 0 1,0 7.4,0a3.7,3.3 0 1,0 -7.4,0M1335.3,1159.7a3.7,3.3 0 1,0 7.4,0a3.7,3.3 0 1,0 -7.4,0M1349.8,1174.4a3.7,3.3 0 1,0 7.4,0a3.7,3.3 0 1,0 -7.4,0M1350.4,1178.7a3.7,3.3 0 1,0 7.4,0a3.7,3.3 0 1,0 -7.4,0M1320.8,1186.2a3.7,3.3 0 1,0 7.4,0a3.7,3.3 0 1,0 -7.4,0M1316.5,1204.2a3.7,3.3 0 1,0 7.4,0a3.7,3.3 0 1,0 -7.4,0M1334.9,1198.6a3.7,3.3 0 1,0 7.4,0a3.7,3.3 0 1,0 -7.4,0M1312.9,1208.0a3.7,3.3 0 1,0 7.4,0a3.7,3.3 0 1,0 -7.4,0M1326.4,1184.8a3.7,3.3 0 1,0 7.4,0a3.7,3.3 0 1,0 -7.4,0M1347.5,1165.2a3.7,3.3 0 1,0 7.4,0a3.7,3.3 0 1,0 -7.4,0M1320.5,1214.9a3.7,3.3 0 1,0 7.4,0a3.7,3.3 0 1,0 -7.4,0M1331.4,1184.0a3.7,3.3 0 1,0 7.4,0a3.7,3.3 0 1,0 -7.4,0M1344.6,1172.2a3.7,3.3 0 1,0 7.4,0a3.7,3.3 0 1,0 -7.4,0M1368.0,1156.5a3.7,3.3 0 1,0 7.4,0a3.7,3.3 0 1,0 -7.4,0M1348.3,1177.3a3.7,3.3 0 1,0 7.4,0a3.7,3.3 0 1,0 -7.4,0M1318.9,1202.4a3.7,3.3 0 1,0 7.4,0a3.7,3.3 0 1,0 -7.4,0M1325.7,1208.9a3.7,3.3 0 1,0 7.4,0a3.7,3.3 0 1,0 -7.4,0M1316.9,1212.7a3.7,3.3 0 1,0 7.4,0a3.7,3.3 0 1,0 -7.4,0M1327.4,1195.9a3.7,3.3 0 1,0 7.4,0a3.7,3.3 0 1,0 -7.4,0M1333.4,1190.2a3.7,3.3 0 1,0 7.4,0a3.7,3.3 0 1,0 -7.4,0M1340.6,1162.9a3.7,3.3 0 1,0 7.4,0a3.7,3.3 0 1,0 -7.4,0M1356.4,1140.5a3.7,3.3 0 1,0 7.4,0a3.7,3.3 0 1,0 -7.4,0M1311.5,1217.4a3.7,3.3 0 1,0 7.4,0a3.7,3.3 0 1,0 -7.4,0M1336.7,1180.4a3.7,3.3 0 1,0 7.4,0a3.7,3.3 0 1,0 -7.4,0M1320.4,1210.7a3.7,3.3 0 1,0 7.4,0a3.7,3.3 0 1,0 -7.4,0M1352.1,1141.6a3.7,3.3 0 1,0 7.4,0a3.7,3.3 0 1,0 -7.4,0M1342.7,1155.5a3.7,3.3 0 1,0 7.4,0a3.7,3.3 0 1,0 -7.4,0M1359.0,1160.7a3.7,3.3 0 1,0 7.4,0a3.7,3.3 0 1,0 -7.4,0M1353.6,1169.8a3.7,3.3 0 1,0 7.4,0a3.7,3.3 0 1,0 -7.4,0M1352.2,1175.5a3.7,3.3 0 1,0 7.4,0a3.7,3.3 0 1,0 -7.4,0M1357.6,1178.5a3.7,3.3 0 1,0 7.4,0a3.7,3.3 0 1,0 -7.4,0M1370.4,1141.6a3.7,3.3 0 1,0 7.4,0a3.7,3.3 0 1,0 -7.4,0M1364.6,1171.0a3.7,3.3 0 1,0 7.4,0a3.7,3.3 0 1,0 -7.4,0M1323.3,1213.6a3.7,3.3 0 1,0 7.4,0a3.7,3.3 0 1,0 -7.4,0M1325.8,1166.7a3.7,3.3 0 1,0 7.4,0a3.7,3.3 0 1,0 -7.4,0M1350.9,1180.2a3.7,3.3 0 1,0 7.4,0a3.7,3.3 0 1,0 -7.4,0M1328.7,1169.8a3.7,3.3 0 1,0 7.4,0a3.7,3.3 0 1,0 -7.4,0M1347.7,1185.9a3.7,3.3 0 1,0 7.4,0a3.7,3.3 0 1,0 -7.4,0M1361.5,1139.6a3.7,3.3 0 1,0 7.4,0a3.7,3.3 0 1,0 -7.4,0M1331.2,1205.8a3.7,3.3 0 1,0 7.4,0a3.7,3.3 0 1,0 -7.4,0M1327.0,1171.0a3.7,3.3 0 1,0 7.4,0a3.7,3.3 0 1,0 -7.4,0M1314.7,1216.9a3.7,3.3 0 1,0 7.4,0a3.7,3.3 0 1,0 -7.4,0M1360.0,1142.4a3.7,3.3 0 1,0 7.4,0a3.7,3.3 0 1,0 -7.4,0M1333.7,1205.6a3.7,3.3 0 1,0 7.4,0a3.7,3.3 0 1,0 -7.4,0M1347.3,1153.7a3.7,3.3 0 1,0 7.4,0a3.7,3.3 0 1,0 -7.4,0M1317.0,1205.2a3.7,3.3 0 1,0 7.4,0a3.7,3.3 0 1,0 -7.4,0M1336.2,1203.5a3.7,3.3 0 1,0 7.4,0a3.7,3.3 0 1,0 -7.4,0M1372.4,1141.1a3.7,3.3 0 1,0 7.4,0a3.7,3.3 0 1,0 -7.4,0M1361.6,1174.2a3.7,3.3 0 1,0 7.4,0a3.7,3.3 0 1,0 -7.4,0M1333.3,1198.0a3.7,3.3 0 1,0 7.4,0a3.7,3.3 0 1,0 -7.4,0M1327.8,1203.4a3.7,3.3 0 1,0 7.4,0a3.7,3.3 0 1,0 -7.4,0M1369.2,1143.1a3.7,3.3 0 1,0 7.4,0a3.7,3.3 0 1,0 -7.4,0M1353.5,1172.8a3.7,3.3 0 1,0 7.4,0a3.7,3.3 0 1,0 -7.4,0M1344.4,1191.4a3.7,3.3 0 1,0 7.4,0a3.7,3.3 0 1,0 -7.4,0M1359.2,1175.3a3.7,3.3 0 1,0 7.4,0a3.7,3.3 0 1,0 -7.4,0M1344.5,1151.6a3.7,3.3 0 1,0 7.4,0a3.7,3.3 0 1,0 -7.4,0M1340.4,1159.5a3.7,3.3 0 1,0 7.4,0a3.7,3.3 0 1,0 -7.4,0M1333.5,1188.8a3.7,3.3 0 1,0 7.4,0a3.7,3.3 0 1,0 -7.4,0M1318.3,1193.7a3.7,3.3 0 1,0 7.4,0a3.7,3.3 0 1,0 -7.4,0M1326.4,1177.9a3.7,3.3 0 1,0 7.4,0a3.7,3.3 0 1,0 -7.4,0M1355.9,1173.1a3.7,3.3 0 1,0 7.4,0a3.7,3.3 0 1,0 -7.4,0M1320.2,1206.1a3.7,3.3 0 1,0 7.4,0a3.7,3.3 0 1,0 -7.4,0M1349.5,1143.6a3.7,3.3 0 1,0 7.4,0a3.7,3.3 0 1,0 -7.4,0M1346.6,1191.5a3.7,3.3 0 1,0 7.4,0a3.7,3.3 0 1,0 -7.4,0M1324.5,1212.8a3.7,3.3 0 1,0 7.4,0a3.7,3.3 0 1,0 -7.4,0M1333.8,1176.6a3.7,3.3 0 1,0 7.4,0a3.7,3.3 0 1,0 -7.4,0M1319.5,1192.9a3.7,3.3 0 1,0 7.4,0a3.7,3.3 0 1,0 -7.4,0M1353.5,1144.8a3.7,3.3 0 1,0 7.4,0a3.7,3.3 0 1,0 -7.4,0M1346.3,1203.2a3.7,3.3 0 1,0 7.4,0a3.7,3.3 0 1,0 -7.4,0M1360.7,1158.3a3.7,3.3 0 1,0 7.4,0a3.7,3.3 0 1,0 -7.4,0M1345.8,1159.7a3.7,3.3 0 1,0 7.4,0a3.7,3.3 0 1,0 -7.4,0M1350.7,1158.8a3.7,3.3 0 1,0 7.4,0a3.7,3.3 0 1,0 -7.4,0M1365.9,1159.2a3.7,3.3 0 1,0 7.4,0a3.7,3.3 0 1,0 -7.4,0M1322.3,1206.1a3.7,3.3 0 1,0 7.4,0a3.7,3.3 0 1,0 -7.4,0M1346.7,1180.3a3.7,3.3 0 1,0 7.4,0a3.7,3.3 0 1,0 -7.4,0M1337.0,1176.6a3.7,3.3 0 1,0 7.4,0a3.7,3.3 0 1,0 -7.4,0M1364.8,1140.9a3.7,3.3 0 1,0 7.4,0a3.7,3.3 0 1,0 -7.4,0M1352.5,1147.6a3.7,3.3 0 1,0 7.4,0a3.7,3.3 0 1,0 -7.4,0M1328.0,1177.4a3.7,3.3 0 1,0 7.4,0a3.7,3.3 0 1,0 -7.4,0M1351.1,1147.8a3.7,3.3 0 1,0 7.4,0a3.7,3.3 0 1,0 -7.4,0M1331.7,1191.7a3.7,3.3 0 1,0 7.4,0a3.7,3.3 0 1,0 -7.4,0M1353.7,1175.6a3.7,3.3 0 1,0 7.4,0a3.7,3.3 0 1,0 -7.4,0M1351.9,1186.2a3.7,3.3 0 1,0 7.4,0a3.7,3.3 0 1,0 -7.4,0M1337.6,1152.8a3.7,3.3 0 1,0 7.4,0a3.7,3.3 0 1,0 -7.4,0M1344.3,1180.2a3.7,3.3 0 1,0 7.4,0a3.7,3.3 0 1,0 -7.4,0M1334.7,1172.5a3.7,3.3 0 1,0 7.4,0a3.7,3.3 0 1,0 -7.4,0M1364.9,1168.2a3.7,3.3 0 1,0 7.4,0a3.7,3.3 0 1,0 -7.4,0M1339.1,1186.7a3.7,3.3 0 1,0 7.4,0a3.7,3.3 0 1,0 -7.4,0M1376.6,1147.2a3.7,3.3 0 1,0 7.4,0a3.7,3.3 0 1,0 -7.4,0M1342.4,1187.0a3.7,3.3 0 1,0 7.4,0a3.7,3.3 0 1,0 -7.4,0M1346.1,1169.9a3.7,3.3 0 1,0 7.4,0a3.7,3.3 0 1,0 -7.4,0M1345.0,1149.8a3.7,3.3 0 1,0 7.4,0a3.7,3.3 0 1,0 -7.4,0M1345.8,1147.4a3.7,3.3 0 1,0 7.4,0a3.7,3.3 0 1,0 -7.4,0M1336.7,1154.0a3.7,3.3 0 1,0 7.4,0a3.7,3.3 0 1,0 -7.4,0M1330.7,1198.8a3.7,3.3 0 1,0 7.4,0a3.7,3.3 0 1,0 -7.4,0M1317.4,1197.5a3.7,3.3 0 1,0 7.4,0a3.7,3.3 0 1,0 -7.4,0M1345.9,1153.1a3.7,3.3 0 1,0 7.4,0a3.7,3.3 0 1,0 -7.4,0M1345.4,1145.8a3.7,3.3 0 1,0 7.4,0a3.7,3.3 0 1,0 -7.4,0M1357.2,1172.6a3.7,3.3 0 1,0 7.4,0a3.7,3.3 0 1,0 -7.4,0M1351.6,1171.9a3.7,3.3 0 1,0 7.4,0a3.7,3.3 0 1,0 -7.4,0M1358.3,1143.9a3.7,3.3 0 1,0 7.4,0a3.7,3.3 0 1,0 -7.4,0M1363.0,1170.8a3.7,3.3 0 1,0 7.4,0a3.7,3.3 0 1,0 -7.4,0M1360.5,1167.6a3.7,3.3 0 1,0 7.4,0a3.7,3.3 0 1,0 -7.4,0M1338.2,1172.3a3.7,3.3 0 1,0 7.4,0a3.7,3.3 0 1,0 -7.4,0M1330.4,1203.9a3.7,3.3 0 1,0 7.4,0a3.7,3.3 0 1,0 -7.4,0M1367.8,1157.4a3.7,3.3 0 1,0 7.4,0a3.7,3.3 0 1,0 -7.4,0M1347.2,1171.8a3.7,3.3 0 1,0 7.4,0a3.7,3.3 0 1,0 -7.4,0M1335.8,1192.3a3.7,3.3 0 1,0 7.4,0a3.7,3.3 0 1,0 -7.4,0M1344.2,1159.2a3.7,3.3 0 1,0 7.4,0a3.7,3.3 0 1,0 -7.4,0M1328.4,1181.5a3.7,3.3 0 1,0 7.4,0a3.7,3.3 0 1,0 -7.4,0M1334.6,1156.6a3.7,3.3 0 1,0 7.4,0a3.7,3.3 0 1,0 -7.4,0M1326.8,1199.4a3.7,3.3 0 1,0 7.4,0a3.7,3.3 0 1,0 -7.4,0M1325.9,1181.2a3.7,3.3 0 1,0 7.4,0a3.7,3.3 0 1,0 -7.4,0M1347.2,1190.0a3.7,3.3 0 1,0 7.4,0a3.7,3.3 0 1,0 -7.4,0M1350.2,1180.8a3.7,3.3 0 1,0 7.4,0a3.7,3.3 0 1,0 -7.4,0M1362.8,1139.8a3.7,3.3 0 1,0 7.4,0a3.7,3.3 0 1,0 -7.4,0M1350.2,1191.5a3.7,3.3 0 1,0 7.4,0a3.7,3.3 0 1,0 -7.4,0M1363.6,1171.7a3.7,3.3 0 1,0 7.4,0a3.7,3.3 0 1,0 -7.4,0M1352.9,1159.9a3.7,3.3 0 1,0 7.4,0a3.7,3.3 0 1,0 -7.4,0M1312.4,1199.9a3.7,3.3 0 1,0 7.4,0a3.7,3.3 0 1,0 -7.4,0M1345.6,1165.3a3.7,3.3 0 1,0 7.4,0a3.7,3.3 0 1,0 -7.4,0M1362.8,1160.2a3.7,3.3 0 1,0 7.4,0a3.7,3.3 0 1,0 -7.4,0M1366.3,1150.3a3.7,3.3 0 1,0 7.4,0a3.7,3.3 0 1,0 -7.4,0M1342.6,1181.4a3.7,3.3 0 1,0 7.4,0a3.7,3.3 0 1,0 -7.4,0M1333.8,1183.7a3.7,3.3 0 1,0 7.4,0a3.7,3.3 0 1,0 -7.4,0M1356.9,1180.8a3.7,3.3 0 1,0 7.4,0a3.7,3.3 0 1,0 -7.4,0M1358.2,1188.9a3.7,3.3 0 1,0 7.4,0a3.7,3.3 0 1,0 -7.4,0M1320.6,1191.7a3.7,3.3 0 1,0 7.4,0a3.7,3.3 0 1,0 -7.4,0M1338.1,1178.4a3.7,3.3 0 1,0 7.4,0a3.7,3.3 0 1,0 -7.4,0M1337.5,1171.1a3.7,3.3 0 1,0 7.4,0a3.7,3.3 0 1,0 -7.4,0M1347.6,1142.8a3.7,3.3 0 1,0 7.4,0a3.7,3.3 0 1,0 -7.4,0M1324.8,1181.7a3.7,3.3 0 1,0 7.4,0a3.7,3.3 0 1,0 -7.4,0M1361.4,1168.8a3.7,3.3 0 1,0 7.4,0a3.7,3.3 0 1,0 -7.4,0M1318.7,1187.6a3.7,3.3 0 1,0 7.4,0a3.7,3.3 0 1,0 -7.4,0M1327.0,1195.2a3.7,3.3 0 1,0 7.4,0a3.7,3.3 0 1,0 -7.4,0M1330.0,1206.3a3.7,3.3 0 1,0 7.4,0a3.7,3.3 0 1,0 -7.4,0M1348.5,1155.5a3.7,3.3 0 1,0 7.4,0a3.7,3.3 0 1,0 -7.4,0M1359.5,1191.2a3.7,3.3 0 1,0 7.4,0a3.7,3.3 0 1,0 -7.4,0M1362.6,1127.3a3.7,3.3 0 1,0 7.4,0a3.7,3.3 0 1,0 -7.4,0M1349.1,1111.8a3.7,3.3 0 1,0 7.4,0a3.7,3.3 0 1,0 -7.4,0M1358.6,1097.8a3.7,3.3 0 1,0 7.4,0a3.7,3.3 0 1,0 -7.4,0M1352.7,1107.9a3.7,3.3 0 1,0 7.4,0a3.7,3.3 0 1,0 -7.4,0M1371.0,1122.1a3.7,3.3 0 1,0 7.4,0a3.7,3.3 0 1,0 -7.4,0M1360.7,1127.7a3.7,3.3 0 1,0 7.4,0a3.7,3.3 0 1,0 -7.4,0M1350.7,1122.8a3.7,3.3 0 1,0 7.4,0a3.7,3.3 0 1,0 -7.4,0M1366.1,1118.3a3.7,3.3 0 1,0 7.4,0a3.7,3.3 0 1,0 -7.4,0M1340.1,1123.9a3.7,3.3 0 1,0 7.4,0a3.7,3.3 0 1,0 -7.4,0M1360.0,1111.5a3.7,3.3 0 1,0 7.4,0a3.7,3.3 0 1,0 -7.4,0M1345.5,1114.8a3.7,3.3 0 1,0 7.4,0a3.7,3.3 0 1,0 -7.4,0M1346.9,1122.6a3.7,3.3 0 1,0 7.4,0a3.7,3.3 0 1,0 -7.4,0M1352.1,1107.1a3.7,3.3 0 1,0 7.4,0a3.7,3.3 0 1,0 -7.4,0M1365.1,1123.1a3.7,3.3 0 1,0 7.4,0a3.7,3.3 0 1,0 -7.4,0M1381.3,1126.0a3.7,3.3 0 1,0 7.4,0a3.7,3.3 0 1,0 -7.4,0M1379.5,1134.6a3.7,3.3 0 1,0 7.4,0a3.7,3.3 0 1,0 -7.4,0M1349.1,1106.2a3.7,3.3 0 1,0 7.4,0a3.7,3.3 0 1,0 -7.4,0M1345.5,1105.1a3.7,3.3 0 1,0 7.4,0a3.7,3.3 0 1,0 -7.4,0M1357.2,1092.8a3.7,3.3 0 1,0 7.4,0a3.7,3.3 0 1,0 -7.4,0M1344.4,1110.9a3.7,3.3 0 1,0 7.4,0a3.7,3.3 0 1,0 -7.4,0M1342.4,1130.3a3.7,3.3 0 1,0 7.4,0a3.7,3.3 0 1,0 -7.4,0M1371.5,1128.3a3.7,3.3 0 1,0 7.4,0a3.7,3.3 0 1,0 -7.4,0M1360.7,1109.5a3.7,3.3 0 1,0 7.4,0a3.7,3.3 0 1,0 -7.4,0M1370.0,1118.2a3.7,3.3 0 1,0 7.4,0a3.7,3.3 0 1,0 -7.4,0M1348.9,1123.1a3.7,3.3 0 1,0 7.4,0a3.7,3.3 0 1,0 -7.4,0M1343.1,1132.3a3.7,3.3 0 1,0 7.4,0a3.7,3.3 0 1,0 -7.4,0M1354.0,1092.8a3.7,3.3 0 1,0 7.4,0a3.7,3.3 0 1,0 -7.4,0M1350.9,1109.7a3.7,3.3 0 1,0 7.4,0a3.7,3.3 0 1,0 -7.4,0M1367.3,1100.9a3.7,3.3 0 1,0 7.4,0a3.7,3.3 0 1,0 -7.4,0M1340.4,1130.9a3.7,3.3 0 1,0 7.4,0a3.7,3.3 0 1,0 -7.4,0M1367.2,1099.8a3.7,3.3 0 1,0 7.4,0a3.7,3.3 0 1,0 -7.4,0M1376.7,1125.3a3.7,3.3 0 1,0 7.4,0a3.7,3.3 0 1,0 -7.4,0M1374.3,1125.4a3.7,3.3 0 1,0 7.4,0a3.7,3.3 0 1,0 -7.4,0M1364.0,1098.2a3.7,3.3 0 1,0 7.4,0a3.7,3.3 0 1,0 -7.4,0M1343.1,1122.5a3.7,3.3 0 1,0 7.4,0a3.7,3.3 0 1,0 -7.4,0M1350.2,1124.0a3.7,3.3 0 1,0 7.4,0a3.7,3.3 0 1,0 -7.4,0M1365.1,1096.2a3.7,3.3 0 1,0 7.4,0a3.7,3.3 0 1,0 -7.4,0M1374.8,1118.1a3.7,3.3 0 1,0 7.4,0a3.7,3.3 0 1,0 -7.4,0M1352.5,1107.4a3.7,3.3 0 1,0 7.4,0a3.7,3.3 0 1,0 -7.4,0M1358.9,1093.9a3.7,3.3 0 1,0 7.4,0a3.7,3.3 0 1,0 -7.4,0M1359.9,1106.8a3.7,3.3 0 1,0 7.4,0a3.7,3.3 0 1,0 -7.4,0M1336.9,1130.4a3.7,3.3 0 1,0 7.4,0a3.7,3.3 0 1,0 -7.4,0M1348.4,1125.7a3.7,3.3 0 1,0 7.4,0a3.7,3.3 0 1,0 -7.4,0M1370.3,1121.1a3.7,3.3 0 1,0 7.4,0a3.7,3.3 0 1,0 -7.4,0M1378.0,1135.8a3.7,3.3 0 1,0 7.4,0a3.7,3.3 0 1,0 -7.4,0M1359.9,1108.2a3.7,3.3 0 1,0 7.4,0a3.7,3.3 0 1,0 -7.4,0M1343.0,1130.3a3.7,3.3 0 1,0 7.4,0a3.7,3.3 0 1,0 -7.4,0M1366.3,1124.2a3.7,3.3 0 1,0 7.4,0a3.7,3.3 0 1,0 -7.4,0M1362.7,1134.2a3.7,3.3 0 1,0 7.4,0a3.7,3.3 0 1,0 -7.4,0M1357.3,1094.9a3.7,3.3 0 1,0 7.4,0a3.7,3.3 0 1,0 -7.4,0M1362.0,1137.7a3.7,3.3 0 1,0 7.4,0a3.7,3.3 0 1,0 -7.4,0M1350.5,1099.8a3.7,3.3 0 1,0 7.4,0a3.7,3.3 0 1,0 -7.4,0M1352.9,1098.1a3.7,3.3 0 1,0 7.4,0a3.7,3.3 0 1,0 -7.4,0M1353.3,1110.4a3.7,3.3 0 1,0 7.4,0a3.7,3.3 0 1,0 -7.4,0M1374.4,1111.7a3.7,3.3 0 1,0 7.4,0a3.7,3.3 0 1,0 -7.4,0M1343.2,1121.4a3.7,3.3 0 1,0 7.4,0a3.7,3.3 0 1,0 -7.4,0M1338.4,1133.8a3.7,3.3 0 1,0 7.4,0a3.7,3.3 0 1,0 -7.4,0M1375.9,1124.8a3.7,3.3 0 1,0 7.4,0a3.7,3.3 0 1,0 -7.4,0M1378.5,1138.5a3.7,3.3 0 1,0 7.4,0a3.7,3.3 0 1,0 -7.4,0M1339.8,1124.7a3.7,3.3 0 1,0 7.4,0a3.7,3.3 0 1,0 -7.4,0M1363.8,1123.9a3.7,3.3 0 1,0 7.4,0a3.7,3.3 0 1,0 -7.4,0M1368.9,1132.7a3.7,3.3 0 1,0 7.4,0a3.7,3.3 0 1,0 -7.4,0M1354.7,1104.1a3.7,3.3 0 1,0 7.4,0a3.7,3.3 0 1,0 -7.4,0M1356.2,1127.2a3.7,3.3 0 1,0 7.4,0a3.7,3.3 0 1,0 -7.4,0M1358.4,1139.2a3.7,3.3 0 1,0 7.4,0a3.7,3.3 0 1,0 -7.4,0M1371.1,1114.3a3.7,3.3 0 1,0 7.4,0a3.7,3.3 0 1,0 -7.4,0M1365.9,1123.4a3.7,3.3 0 1,0 7.4,0a3.7,3.3 0 1,0 -7.4,0M1380.5,1138.7a3.7,3.3 0 1,0 7.4,0a3.7,3.3 0 1,0 -7.4,0M1382.9,1139.9a3.7,3.3 0 1,0 7.4,0a3.7,3.3 0 1,0 -7.4,0M1337.9,1123.6a3.7,3.3 0 1,0 7.4,0a3.7,3.3 0 1,0 -7.4,0M1369.6,1131.9a3.7,3.3 0 1,0 7.4,0a3.7,3.3 0 1,0 -7.4,0M1360.6,1099.7a3.7,3.3 0 1,0 7.4,0a3.7,3.3 0 1,0 -7.4,0M1354.8,1101.5a3.7,3.3 0 1,0 7.4,0a3.7,3.3 0 1,0 -7.4,0M1347.2,1116.9a3.7,3.3 0 1,0 7.4,0a3.7,3.3 0 1,0 -7.4,0M1368.7,1106.9a3.7,3.3 0 1,0 7.4,0a3.7,3.3 0 1,0 -7.4,0M1347.3,1133.0a3.7,3.3 0 1,0 7.4,0a3.7,3.3 0 1,0 -7.4,0M1359.6,1098.8a3.7,3.3 0 1,0 7.4,0a3.7,3.3 0 1,0 -7.4,0M1382.0,1116.7a3.7,3.3 0 1,0 7.4,0a3.7,3.3 0 1,0 -7.4,0M1384.1,1122.3a3.7,3.3 0 1,0 7.4,0a3.7,3.3 0 1,0 -7.4,0M1369.1,1112.0a3.7,3.3 0 1,0 7.4,0a3.7,3.3 0 1,0 -7.4,0M1404.1,1075.1a3.7,3.3 0 1,0 7.4,0a3.7,3.3 0 1,0 -7.4,0M1367.8,1080.0a3.7,3.3 0 1,0 7.4,0a3.7,3.3 0 1,0 -7.4,0M1369.0,1058.4a3.7,3.3 0 1,0 7.4,0a3.7,3.3 0 1,0 -7.4,0M1343.7,1119.5a3.7,3.3 0 1,0 7.4,0a3.7,3.3 0 1,0 -7.4,0M1364.5,1134.9a3.7,3.3 0 1,0 7.4,0a3.7,3.3 0 1,0 -7.4,0M1375.1,1130.7a3.7,3.3 0 1,0 7.4,0a3.7,3.3 0 1,0 -7.4,0M1405.5,1122.4a3.7,3.3 0 1,0 7.4,0a3.7,3.3 0 1,0 -7.4,0M1358.4,1063.5a3.7,3.3 0 1,0 7.4,0a3.7,3.3 0 1,0 -7.4,0M1349.7,1135.1a3.7,3.3 0 1,0 7.4,0a3.7,3.3 0 1,0 -7.4,0M1393.2,1091.7a3.7,3.3 0 1,0 7.4,0a3.7,3.3 0 1,0 -7.4,0M1367.4,1083.5a3.7,3.3 0 1,0 7.4,0a3.7,3.3 0 1,0 -7.4,0M1357.7,1099.9a3.7,3.3 0 1,0 7.4,0a3.7,3.3 0 1,0 -7.4,0M1399.5,1116.6a3.7,3.3 0 1,0 7.4,0a3.7,3.3 0 1,0 -7.4,0M1349.4,1093.8a3.7,3.3 0 1,0 7.4,0a3.7,3.3 0 1,0 -7.4,0M1413.6,1101.3a3.7,3.3 0 1,0 7.4,0a3.7,3.3 0 1,0 -7.4,0M1403.8,1096.0a3.7,3.3 0 1,0 7.4,0a3.7,3.3 0 1,0 -7.4,0M1386.3,1077.2a3.7,3.3 0 1,0 7.4,0a3.7,3.3 0 1,0 -7.4,0M1372.7,1117.7a3.7,3.3 0 1,0 7.4,0a3.7,3.3 0 1,0 -7.4,0M1400.7,1129.1a3.7,3.3 0 1,0 7.4,0a3.7,3.3 0 1,0 -7.4,0M1402.0,1075.5a3.7,3.3 0 1,0 7.4,0a3.7,3.3 0 1,0 -7.4,0M1404.3,1119.0a3.7,3.3 0 1,0 7.4,0a3.7,3.3 0 1,0 -7.4,0M1390.0,1108.7a3.7,3.3 0 1,0 7.4,0a3.7,3.3 0 1,0 -7.4,0M1354.8,1091.9a3.7,3.3 0 1,0 7.4,0a3.7,3.3 0 1,0 -7.4,0M1377.6,1079.1a3.7,3.3 0 1,0 7.4,0a3.7,3.3 0 1,0 -7.4,0M1400.2,1093.9a3.7,3.3 0 1,0 7.4,0a3.7,3.3 0 1,0 -7.4,0M1390.3,1140.3a3.7,3.3 0 1,0 7.4,0a3.7,3.3 0 1,0 -7.4,0M1406.7,1077.6a3.7,3.3 0 1,0 7.4,0a3.7,3.3 0 1,0 -7.4,0M1353.1,1115.2a3.7,3.3 0 1,0 7.4,0a3.7,3.3 0 1,0 -7.4,0M1365.5,1130.5a3.7,3.3 0 1,0 7.4,0a3.7,3.3 0 1,0 -7.4,0M1365.3,1059.2a3.7,3.3 0 1,0 7.4,0a3.7,3.3 0 1,0 -7.4,0M1406.0,1097.2a3.7,3.3 0 1,0 7.4,0a3.7,3.3 0 1,0 -7.4,0M1394.8,1108.4a3.7,3.3 0 1,0 7.4,0a3.7,3.3 0 1,0 -7.4,0M1401.2,1089.2a3.7,3.3 0 1,0 7.4,0a3.7,3.3 0 1,0 -7.4,0M1395.2,1122.0a3.7,3.3 0 1,0 7.4,0a3.7,3.3 0 1,0 -7.4,0M1364.0,1119.7a3.7,3.3 0 1,0 7.4,0a3.7,3.3 0 1,0 -7.4,0M1389.7,1102.2a3.7,3.3 0 1,0 7.4,0a3.7,3.3 0 1,0 -7.4,0M1376.1,1136.0a3.7,3.3 0 1,0 7.4,0a3.7,3.3 0 1,0 -7.4,0M1361.2,1077.5a3.7,3.3 0 1,0 7.4,0a3.7,3.3 0 1,0 -7.4,0M1392.0,1128.4a3.7,3.3 0 1,0 7.4,0a3.7,3.3 0 1,0 -7.4,0M1348.3,1099.7a3.7,3.3 0 1,0 7.4,0a3.7,3.3 0 1,0 -7.4,0M1362.9,1104.9a3.7,3.3 0 1,0 7.4,0a3.7,3.3 0 1,0 -7.4,0M1397.0,1098.0a3.7,3.3 0 1,0 7.4,0a3.7,3.3 0 1,0 -7.4,0M1408.2,1122.3a3.7,3.3 0 1,0 7.4,0a3.7,3.3 0 1,0 -7.4,0M1391.1,1122.0a3.7,3.3 0 1,0 7.4,0a3.7,3.3 0 1,0 -7.4,0M1397.8,1115.3a3.7,3.3 0 1,0 7.4,0a3.7,3.3 0 1,0 -7.4,0M1364.5,1062.1a3.7,3.3 0 1,0 7.4,0a3.7,3.3 0 1,0 -7.4,0M1369.6,1107.3a3.7,3.3 0 1,0 7.4,0a3.7,3.3 0 1,0 -7.4,0M1355.5,1122.2a3.7,3.3 0 1,0 7.4,0a3.7,3.3 0 1,0 -7.4,0M1374.3,1134.6a3.7,3.3 0 1,0 7.4,0a3.7,3.3 0 1,0 -7.4,0M1341.2,1125.4a3.7,3.3 0 1,0 7.4,0a3.7,3.3 0 1,0 -7.4,0M1349.6,1095.8a3.7,3.3 0 1,0 7.4,0a3.7,3.3 0 1,0 -7.4,0M1371.9,1075.0a3.7,3.3 0 1,0 7.4,0a3.7,3.3 0 1,0 -7.4,0M1404.1,1102.1a3.7,3.3 0 1,0 7.4,0a3.7,3.3 0 1,0 -7.4,0M1347.3,1118.7a3.7,3.3 0 1,0 7.4,0a3.7,3.3 0 1,0 -7.4,0M1352.1,1133.5a3.7,3.3 0 1,0 7.4,0a3.7,3.3 0 1,0 -7.4,0M1373.7,1118.9a3.7,3.3 0 1,0 7.4,0a3.7,3.3 0 1,0 -7.4,0M1341.6,1125.3a3.7,3.3 0 1,0 7.4,0a3.7,3.3 0 1,0 -7.4,0M1377.8,1055.7a3.7,3.3 0 1,0 7.4,0a3.7,3.3 0 1,0 -7.4,0M1351.2,1119.6a3.7,3.3 0 1,0 7.4,0a3.7,3.3 0 1,0 -7.4,0M1407.1,1117.4a3.7,3.3 0 1,0 7.4,0a3.7,3.3 0 1,0 -7.4,0M1362.0,1116.3a3.7,3.3 0 1,0 7.4,0a3.7,3.3 0 1,0 -7.4,0M1392.0,1105.6a3.7,3.3 0 1,0 7.4,0a3.7,3.3 0 1,0 -7.4,0M1388.3,1109.6a3.7,3.3 0 1,0 7.4,0a3.7,3.3 0 1,0 -7.4,0M1394.6,1109.2a3.7,3.3 0 1,0 7.4,0a3.7,3.3 0 1,0 -7.4,0M1340.4,1118.5a3.7,3.3 0 1,0 7.4,0a3.7,3.3 0 1,0 -7.4,0M1367.2,1096.8a3.7,3.3 0 1,0 7.4,0a3.7,3.3 0 1,0 -7.4,0M1355.3,1139.1a3.7,3.3 0 1,0 7.4,0a3.7,3.3 0 1,0 -7.4,0M1348.8,1126.4a3.7,3.3 0 1,0 7.4,0a3.7,3.3 0 1,0 -7.4,0M1383.0,1131.1a3.7,3.3 0 1,0 7.4,0a3.7,3.3 0 1,0 -7.4,0M1417.4,1098.0a3.7,3.3 0 1,0 7.4,0a3.7,3.3 0 1,0 -7.4,0M1345.3,1132.8a3.7,3.3 0 1,0 7.4,0a3.7,3.3 0 1,0 -7.4,0M1395.7,1065.0a3.7,3.3 0 1,0 7.4,0a3.7,3.3 0 1,0 -7.4,0M1414.7,1098.2a3.7,3.3 0 1,0 7.4,0a3.7,3.3 0 1,0 -7.4,0M1405.3,1104.4a3.7,3.3 0 1,0 7.4,0a3.7,3.3 0 1,0 -7.4,0M1412.9,1101.8a3.7,3.3 0 1,0 7.4,0a3.7,3.3 0 1,0 -7.4,0M1378.0,1118.3a3.7,3.3 0 1,0 7.4,0a3.7,3.3 0 1,0 -7.4,0M1408.6,1086.2a3.7,3.3 0 1,0 7.4,0a3.7,3.3 0 1,0 -7.4,0M1363.4,1105.3a3.7,3.3 0 1,0 7.4,0a3.7,3.3 0 1,0 -7.4,0M1357.8,1104.6a3.7,3.3 0 1,0 7.4,0a3.7,3.3 0 1,0 -7.4,0M1355.4,1094.9a3.7,3.3 0 1,0 7.4,0a3.7,3.3 0 1,0 -7.4,0M1369.1,1058.4a3.7,3.3 0 1,0 7.4,0a3.7,3.3 0 1,0 -7.4,0M1360.0,1118.6a3.7,3.3 0 1,0 7.4,0a3.7,3.3 0 1,0 -7.4,0M1379.1,1194.4a3.7,3.3 0 1,0 7.4,0a3.7,3.3 0 1,0 -7.4,0M1401.0,1156.6a3.7,3.3 0 1,0 7.4,0a3.7,3.3 0 1,0 -7.4,0M1380.8,1176.7a3.7,3.3 0 1,0 7.4,0a3.7,3.3 0 1,0 -7.4,0M1370.5,1171.8a3.7,3.3 0 1,0 7.4,0a3.7,3.3 0 1,0 -7.4,0M1361.5,1198.9a3.7,3.3 0 1,0 7.4,0a3.7,3.3 0 1,0 -7.4,0M1388.5,1155.8a3.7,3.3 0 1,0 7.4,0a3.7,3.3 0 1,0 -7.4,0M1394.1,1148.9a3.7,3.3 0 1,0 7.4,0a3.7,3.3 0 1,0 -7.4,0M1362.8,1195.6a3.7,3.3 0 1,0 7.4,0a3.7,3.3 0 1,0 -7.4,0M1370.1,1183.5a3.7,3.3 0 1,0 7.4,0a3.7,3.3 0 1,0 -7.4,0M1375.5,1190.9a3.7,3.3 0 1,0 7.4,0a3.7,3.3 0 1,0 -7.4,0M1401.0,1173.2a3.7,3.3 0 1,0 7.4,0a3.7,3.3 0 1,0 -7.4,0M1364.2,1199.9a3.7,3.3 0 1,0 7.4,0a3.7,3.3 0 1,0 -7.4,0M1370.2,1174.1a3.7,3.3 0 1,0 7.4,0a3.7,3.3 0 1,0 -7.4,0M1400.5,1175.4a3.7,3.3 0 1,0 7.4,0a3.7,3.3 0 1,0 -7.4,0M1379.1,1154.1a3.7,3.3 0 1,0 7.4,0a3.7,3.3 0 1,0 -7.4,0M1386.7,1174.6a3.7,3.3 0 1,0 7.4,0a3.7,3.3 0 1,0 -7.4,0M1394.5,1155.8a3.7,3.3 0 1,0 7.4,0a3.7,3.3 0 1,0 -7.4,0M1389.9,1174.4a3.7,3.3 0 1,0 7.4,0a3.7,3.3 0 1,0 -7.4,0M1394.4,1187.6a3.7,3.3 0 1,0 7.4,0a3.7,3.3 0 1,0 -7.4,0M1391.9,1187.1a3.7,3.3 0 1,0 7.4,0a3.7,3.3 0 1,0 -7.4,0M1355.5,1199.4a3.7,3.3 0 1,0 7.4,0a3.7,3.3 0 1,0 -7.4,0M1390.1,1187.8a3.7,3.3 0 1,0 7.4,0a3.7,3.3 0 1,0 -7.4,0M1383.9,1173.1a3.7,3.3 0 1,0 7.4,0a3.7,3.3 0 1,0 -7.4,0M1391.7,1158.9a3.7,3.3 0 1,0 7.4,0a3.7,3.3 0 1,0 -7.4,0M1373.1,1193.1a3.7,3.3 0 1,0 7.4,0a3.7,3.3 0 1,0 -7.4,0M1401.0,1174.3a3.7,3.3 0 1,0 7.4,0a3.7,3.3 0 1,0 -7.4,0M1285.8,1197.3a3.7,3.3 0 1,0 7.4,0a3.7,3.3 0 1,0 -7.4,0M1292.3,1210.1a3.7,3.3 0 1,0 7.4,0a3.7,3.3 0 1,0 -7.4,0M1274.6,1191.3a3.7,3.3 0 1,0 7.4,0a3.7,3.3 0 1,0 -7.4,0M1274.2,1186.3a3.7,3.3 0 1,0 7.4,0a3.7,3.3 0 1,0 -7.4,0M1285.4,1182.2a3.7,3.3 0 1,0 7.4,0a3.7,3.3 0 1,0 -7.4,0M1296.8,1206.0a3.7,3.3 0 1,0 7.4,0a3.7,3.3 0 1,0 -7.4,0M1293.7,1204.6a3.7,3.3 0 1,0 7.4,0a3.7,3.3 0 1,0 -7.4,0M1282.4,1189.5a3.7,3.3 0 1,0 7.4,0a3.7,3.3 0 1,0 -7.4,0M1304.3,1211.7a3.7,3.3 0 1,0 7.4,0a3.7,3.3 0 1,0 -7.4,0M1285.2,1186.4a3.7,3.3 0 1,0 7.4,0a3.7,3.3 0 1,0 -7.4,0M1282.7,1196.3a3.7,3.3 0 1,0 7.4,0a3.7,3.3 0 1,0 -7.4,0M1304.1,1212.9a3.7,3.3 0 1,0 7.4,0a3.7,3.3 0 1,0 -7.4,0M1281.2,1192.0a3.7,3.3 0 1,0 7.4,0a3.7,3.3 0 1,0 -7.4,0M1283.5,1193.3a3.7,3.3 0 1,0 7.4,0a3.7,3.3 0 1,0 -7.4,0M1282.1,1193.9a3.7,3.3 0 1,0 7.4,0a3.7,3.3 0 1,0 -7.4,0M1299.4,1209.1a3.7,3.3 0 1,0 7.4,0a3.7,3.3 0 1,0 -7.4,0M1276.2,1196.2a3.7,3.3 0 1,0 7.4,0a3.7,3.3 0 1,0 -7.4,0M1277.0,1192.0a3.7,3.3 0 1,0 7.4,0a3.7,3.3 0 1,0 -7.4,0M1300.3,1213.5a3.7,3.3 0 1,0 7.4,0a3.7,3.3 0 1,0 -7.4,0M1272.2,1193.8a3.7,3.3 0 1,0 7.4,0a3.7,3.3 0 1,0 -7.4,0M1294.3,1194.9a3.7,3.3 0 1,0 7.4,0a3.7,3.3 0 1,0 -7.4,0M1275.2,1192.6a3.7,3.3 0 1,0 7.4,0a3.7,3.3 0 1,0 -7.4,0M1288.4,1205.6a3.7,3.3 0 1,0 7.4,0a3.7,3.3 0 1,0 -7.4,0M1282.3,1194.5a3.7,3.3 0 1,0 7.4,0a3.7,3.3 0 1,0 -7.4,0M1298.6,1208.1a3.7,3.3 0 1,0 7.4,0a3.7,3.3 0 1,0 -7.4,0M1277.1,1193.8a3.7,3.3 0 1,0 7.4,0a3.7,3.3 0 1,0 -7.4,0M1269.9,1186.1a3.7,3.3 0 1,0 7.4,0a3.7,3.3 0 1,0 -7.4,0M1281.8,1186.0a3.7,3.3 0 1,0 7.4,0a3.7,3.3 0 1,0 -7.4,0M1277.3,1189.7a3.7,3.3 0 1,0 7.4,0a3.7,3.3 0 1,0 -7.4,0M1282.0,1199.6a3.7,3.3 0 1,0 7.4,0a3.7,3.3 0 1,0 -7.4,0M1280.8,1186.1a3.7,3.3 0 1,0 7.4,0a3.7,3.3 0 1,0 -7.4,0M1297.0,1212.3a3.7,3.3 0 1,0 7.4,0a3.7,3.3 0 1,0 -7.4,0M1287.0,1184.6a3.7,3.3 0 1,0 7.4,0a3.7,3.3 0 1,0 -7.4,0M1275.7,1185.4a3.7,3.3 0 1,0 7.4,0a3.7,3.3 0 1,0 -7.4,0M1272.6,1185.7a3.7,3.3 0 1,0 7.4,0a3.7,3.3 0 1,0 -7.4,0M1292.9,1202.2a3.7,3.3 0 1,0 7.4,0a3.7,3.3 0 1,0 -7.4,0M1287.3,1195.1a3.7,3.3 0 1,0 7.4,0a3.7,3.3 0 1,0 -7.4,0M1271.7,1183.0a3.7,3.3 0 1,0 7.4,0a3.7,3.3 0 1,0 -7.4,0M1281.2,1187.5a3.7,3.3 0 1,0 7.4,0a3.7,3.3 0 1,0 -7.4,0M1271.2,1186.8a3.7,3.3 0 1,0 7.4,0a3.7,3.3 0 1,0 -7.4,0M1303.6,1206.1a3.7,3.3 0 1,0 7.4,0a3.7,3.3 0 1,0 -7.4,0M1287.3,1202.1a3.7,3.3 0 1,0 7.4,0a3.7,3.3 0 1,0 -7.4,0M1306.8,1214.8a3.7,3.3 0 1,0 7.4,0a3.7,3.3 0 1,0 -7.4,0M1310.5,1207.0a3.7,3.3 0 1,0 7.4,0a3.7,3.3 0 1,0 -7.4,0M1304.9,1201.1a3.7,3.3 0 1,0 7.4,0a3.7,3.3 0 1,0 -7.4,0M1304.6,1204.5a3.7,3.3 0 1,0 7.4,0a3.7,3.3 0 1,0 -7.4,0M1299.9,1196.1a3.7,3.3 0 1,0 7.4,0a3.7,3.3 0 1,0 -7.4,0M1306.1,1216.0a3.7,3.3 0 1,0 7.4,0a3.7,3.3 0 1,0 -7.4,0M1295.5,1205.0a3.7,3.3 0 1,0 7.4,0a3.7,3.3 0 1,0 -7.4,0M1290.0,1193.4a3.7,3.3 0 1,0 7.4,0a3.7,3.3 0 1,0 -7.4,0M1289.7,1200.4a3.7,3.3 0 1,0 7.4,0a3.7,3.3 0 1,0 -7.4,0M1298.2,1205.0a3.7,3.3 0 1,0 7.4,0a3.7,3.3 0 1,0 -7.4,0M1289.6,1186.4a3.7,3.3 0 1,0 7.4,0a3.7,3.3 0 1,0 -7.4,0M1287.9,1193.4a3.7,3.3 0 1,0 7.4,0a3.7,3.3 0 1,0 -7.4,0M1308.0,1207.9a3.7,3.3 0 1,0 7.4,0a3.7,3.3 0 1,0 -7.4,0M1279.2,1191.7a3.7,3.3 0 1,0 7.4,0a3.7,3.3 0 1,0 -7.4,0M1277.9,1190.6a3.7,3.3 0 1,0 7.4,0a3.7,3.3 0 1,0 -7.4,0M1284.6,1199.1a3.7,3.3 0 1,0 7.4,0a3.7,3.3 0 1,0 -7.4,0M1290.6,1188.9a3.7,3.3 0 1,0 7.4,0a3.7,3.3 0 1,0 -7.4,0M1287.4,1186.9a3.7,3.3 0 1,0 7.4,0a3.7,3.3 0 1,0 -7.4,0M1272.8,1191.4a3.7,3.3 0 1,0 7.4,0a3.7,3.3 0 1,0 -7.4,0M1307.2,1203.0a3.7,3.3 0 1,0 7.4,0a3.7,3.3 0 1,0 -7.4,0M1298.5,1197.7a3.7,3.3 0 1,0 7.4,0a3.7,3.3 0 1,0 -7.4,0M1277.8,1186.8a3.7,3.3 0 1,0 7.4,0a3.7,3.3 0 1,0 -7.4,0M1281.5,1184.4a3.7,3.3 0 1,0 7.4,0a3.7,3.3 0 1,0 -7.4,0M1280.4,1202.2a3.7,3.3 0 1,0 7.4,0a3.7,3.3 0 1,0 -7.4,0M1299.1,1206.5a3.7,3.3 0 1,0 7.4,0a3.7,3.3 0 1,0 -7.4,0M1309.3,1215.3a3.7,3.3 0 1,0 7.4,0a3.7,3.3 0 1,0 -7.4,0M1283.3,1181.7a3.7,3.3 0 1,0 7.4,0a3.7,3.3 0 1,0 -7.4,0M1303.0,1205.2a3.7,3.3 0 1,0 7.4,0a3.7,3.3 0 1,0 -7.4,0M1279.2,1192.5a3.7,3.3 0 1,0 7.4,0a3.7,3.3 0 1,0 -7.4,0M1277.4,1181.7a3.7,3.3 0 1,0 7.4,0a3.7,3.3 0 1,0 -7.4,0M1277.1,1197.3a3.7,3.3 0 1,0 7.4,0a3.7,3.3 0 1,0 -7.4,0M1284.5,1199.6a3.7,3.3 0 1,0 7.4,0a3.7,3.3 0 1,0 -7.4,0M1296.0,1202.8a3.7,3.3 0 1,0 7.4,0a3.7,3.3 0 1,0 -7.4,0M1295.2,1196.4a3.7,3.3 0 1,0 7.4,0a3.7,3.3 0 1,0 -7.4,0M1275.7,1191.2a3.7,3.3 0 1,0 7.4,0a3.7,3.3 0 1,0 -7.4,0M1302.6,1214.1a3.7,3.3 0 1,0 7.4,0a3.7,3.3 0 1,0 -7.4,0M1300.5,1212.9a3.7,3.3 0 1,0 7.4,0a3.7,3.3 0 1,0 -7.4,0M1282.6,1187.3a3.7,3.3 0 1,0 7.4,0a3.7,3.3 0 1,0 -7.4,0M1281.2,1200.2a3.7,3.3 0 1,0 7.4,0a3.7,3.3 0 1,0 -7.4,0M1270.6,1184.4a3.7,3.3 0 1,0 7.4,0a3.7,3.3 0 1,0 -7.4,0M1282.0,1192.3a3.7,3.3 0 1,0 7.4,0a3.7,3.3 0 1,0 -7.4,0M1301.7,1205.4a3.7,3.3 0 1,0 7.4,0a3.7,3.3 0 1,0 -7.4,0M1283.0,1190.2a3.7,3.3 0 1,0 7.4,0a3.7,3.3 0 1,0 -7.4,0M1300.9,1198.4a3.7,3.3 0 1,0 7.4,0a3.7,3.3 0 1,0 -7.4,0M1274.3,1192.8a3.7,3.3 0 1,0 7.4,0a3.7,3.3 0 1,0 -7.4,0M1304.8,1203.6a3.7,3.3 0 1,0 7.4,0a3.7,3.3 0 1,0 -7.4,0M1296.8,1209.3a3.7,3.3 0 1,0 7.4,0a3.7,3.3 0 1,0 -7.4,0M1277.4,1197.3a3.7,3.3 0 1,0 7.4,0a3.7,3.3 0 1,0 -7.4,0M1279.6,1187.8a3.7,3.3 0 1,0 7.4,0a3.7,3.3 0 1,0 -7.4,0M1293.4,1207.5a3.7,3.3 0 1,0 7.4,0a3.7,3.3 0 1,0 -7.4,0M1293.5,1197.6a3.7,3.3 0 1,0 7.4,0a3.7,3.3 0 1,0 -7.4,0M1292.0,1192.5a3.7,3.3 0 1,0 7.4,0a3.7,3.3 0 1,0 -7.4,0M1279.5,1185.7a3.7,3.3 0 1,0 7.4,0a3.7,3.3 0 1,0 -7.4,0M1264.8,1170.1a3.7,3.3 0 1,0 7.4,0a3.7,3.3 0 1,0 -7.4,0M1241.4,1169.3a3.7,3.3 0 1,0 7.4,0a3.7,3.3 0 1,0 -7.4,0M1233.5,1170.0a3.7,3.3 0 1,0 7.4,0a3.7,3.3 0 1,0 -7.4,0M1264.1,1149.1a3.7,3.3 0 1,0 7.4,0a3.7,3.3 0 1,0 -7.4,0M1276.5,1157.0a3.7,3.3 0 1,0 7.4,0a3.7,3.3 0 1,0 -7.4,0M1258.5,1140.9a3.7,3.3 0 1,0 7.4,0a3.7,3.3 0 1,0 -7.4,0M1285.7,1164.9a3.7,3.3 0 1,0 7.4,0a3.7,3.3 0 1,0 -7.4,0M1246.4,1141.7a3.7,3.3 0 1,0 7.4,0a3.7,3.3 0 1,0 -7.4,0M1275.9,1169.9a3.7,3.3 0 1,0 7.4,0a3.7,3.3 0 1,0 -7.4,0M1273.6,1198.1a3.7,3.3 0 1,0 7.4,0a3.7,3.3 0 1,0 -7.4,0M1256.3,1146.3a3.7,3.3 0 1,0 7.4,0a3.7,3.3 0 1,0 -7.4,0M1287.5,1190.3a3.7,3.3 0 1,0 7.4,0a3.7,3.3 0 1,0 -7.4,0M1277.6,1191.0a3.7,3.3 0 1,0 7.4,0a3.7,3.3 0 1,0 -7.4,0M1258.2,1163.4a3.7,3.3 0 1,0 7.4,0a3.7,3.3 0 1,0 -7.4,0M1266.3,1160.6a3.7,3.3 0 1,0 7.4,0a3.7,3.3 0 1,0 -7.4,0M1262.9,1148.5a3.7,3.3 0 1,0 7.4,0a3.7,3.3 0 1,0 -7.4,0M1271.9,1195.6a3.7,3.3 0 1,0 7.4,0a3.7,3.3 0 1,0 -7.4,0M1244.9,1172.3a3.7,3.3 0 1,0 7.4,0a3.7,3.3 0 1,0 -7.4,0M1304.3,1190.7a3.7,3.3 0 1,0 7.4,0a3.7,3.3 0 1,0 -7.4,0M1278.3,1156.6a3.7,3.3 0 1,0 7.4,0a3.7,3.3 0 1,0 -7.4,0M1254.6,1140.8a3.7,3.3 0 1,0 7.4,0a3.7,3.3 0 1,0 -7.4,0M1281.5,1199.9a3.7,3.3 0 1,0 7.4,0a3.7,3.3 0 1,0 -7.4,0M1241.1,1159.6a3.7,3.3 0 1,0 7.4,0a3.7,3.3 0 1,0 -7.4,0M1296.6,1195.1a3.7,3.3 0 1,0 7.4,0a3.7,3.3 0 1,0 -7.4,0M1258.4,1190.5a3.7,3.3 0 1,0 7.4,0a3.7,3.3 0 1,0 -7.4,0M1269.6,1191.6a3.7,3.3 0 1,0 7.4,0a3.7,3.3 0 1,0 -7.4,0M1264.9,1167.8a3.7,3.3 0 1,0 7.4,0a3.7,3.3 0 1,0 -7.4,0M1258.0,1191.9a3.7,3.3 0 1,0 7.4,0a3.7,3.3 0 1,0 -7.4,0M1282.4,1204.6a3.7,3.3 0 1,0 7.4,0a3.7,3.3 0 1,0 -7.4,0M1239.9,1180.2a3.7,3.3 0 1,0 7.4,0a3.7,3.3 0 1,0 -7.4,0M1285.4,1197.3a3.7,3.3 0 1,0 7.4,0a3.7,3.3 0 1,0 -7.4,0M1266.2,1182.8a3.7,3.3 0 1,0 7.4,0a3.7,3.3 0 1,0 -7.4,0M1292.9,1175.5a3.7,3.3 0 1,0 7.4,0a3.7,3.3 0 1,0 -7.4,0M1285.5,1172.1a3.7,3.3 0 1,0 7.4,0a3.7,3.3 0 1,0 -7.4,0M1300.9,1186.8a3.7,3.3 0 1,0 7.4,0a3.7,3.3 0 1,0 -7.4,0M1269.5,1173.8a3.7,3.3 0 1,0 7.4,0a3.7,3.3 0 1,0 -7.4,0M1306.1,1204.6a3.7,3.3 0 1,0 7.4,0a3.7,3.3 0 1,0 -7.4,0M1285.1,1167.0a3.7,3.3 0 1,0 7.4,0a3.7,3.3 0 1,0 -7.4,0M1247.3,1183.5a3.7,3.3 0 1,0 7.4,0a3.7,3.3 0 1,0 -7.4,0M1243.4,1149.9a3.7,3.3 0 1,0 7.4,0a3.7,3.3 0 1,0 -7.4,0M1255.9,1140.5a3.7,3.3 0 1,0 7.4,0a3.7,3.3 0 1,0 -7.4,0M1287.3,1173.1a3.7,3.3 0 1,0 7.4,0a3.7,3.3 0 1,0 -7.4,0M1252.3,1152.1a3.7,3.3 0 1,0 7.4,0a3.7,3.3 0 1,0 -7.4,0M1245.7,1180.3a3.7,3.3 0 1,0 7.4,0a3.7,3.3 0 1,0 -7.4,0M1275.9,1184.7a3.7,3.3 0 1,0 7.4,0a3.7,3.3 0 1,0 -7.4,0M1244.4,1151.6a3.7,3.3 0 1,0 7.4,0a3.7,3.3 0 1,0 -7.4,0M1277.1,1178.9a3.7,3.3 0 1,0 7.4,0a3.7,3.3 0 1,0 -7.4,0M1253.7,1157.6a3.7,3.3 0 1,0 7.4,0a3.7,3.3 0 1,0 -7.4,0M1287.4,1161.7a3.7,3.3 0 1,0 7.4,0a3.7,3.3 0 1,0 -7.4,0M1277.4,1201.3a3.7,3.3 0 1,0 7.4,0a3.7,3.3 0 1,0 -7.4,0M1266.3,1176.9a3.7,3.3 0 1,0 7.4,0a3.7,3.3 0 1,0 -7.4,0M1279.7,1159.7a3.7,3.3 0 1,0 7.4,0a3.7,3.3 0 1,0 -7.4,0M1267.8,1188.8a3.7,3.3 0 1,0 7.4,0a3.7,3.3 0 1,0 -7.4,0M1284.2,1201.9a3.7,3.3 0 1,0 7.4,0a3.7,3.3 0 1,0 -7.4,0M1292.3,1181.5a3.7,3.3 0 1,0 7.4,0a3.7,3.3 0 1,0 -7.4,0M1253.1,1180.6a3.7,3.3 0 1,0 7.4,0a3.7,3.3 0 1,0 -7.4,0M1270.8,1156.3a3.7,3.3 0 1,0 7.4,0a3.7,3.3 0 1,0 -7.4,0M1238.5,1180.4a3.7,3.3 0 1,0 7.4,0a3.7,3.3 0 1,0 -7.4,0M1267.3,1155.3a3.7,3.3 0 1,0 7.4,0a3.7,3.3 0 1,0 -7.4,0M1286.5,1177.4a3.7,3.3 0 1,0 7.4,0a3.7,3.3 0 1,0 -7.4,0M1289.4,1166.4a3.7,3.3 0 1,0 7.4,0a3.7,3.3 0 1,0 -7.4,0M1274.1,1185.0a3.7,3.3 0 1,0 7.4,0a3.7,3.3 0 1,0 -7.4,0M1259.1,1147.9a3.7,3.3 0 1,0 7.4,0a3.7,3.3 0 1,0 -7.4,0M1276.2,1166.0a3.7,3.3 0 1,0 7.4,0a3.7,3.3 0 1,0 -7.4,0M1240.3,1173.5a3.7,3.3 0 1,0 7.4,0a3.7,3.3 0 1,0 -7.4,0M1287.9,1203.3a3.7,3.3 0 1,0 7.4,0a3.7,3.3 0 1,0 -7.4,0M1283.7,1198.4a3.7,3.3 0 1,0 7.4,0a3.7,3.3 0 1,0 -7.4,0M1255.7,1168.0a3.7,3.3 0 1,0 7.4,0a3.7,3.3 0 1,0 -7.4,0M1239.0,1152.1a3.7,3.3 0 1,0 7.4,0a3.7,3.3 0 1,0 -7.4,0M1263.4,1185.1a3.7,3.3 0 1,0 7.4,0a3.7,3.3 0 1,0 -7.4,0M1298.1,1203.1a3.7,3.3 0 1,0 7.4,0a3.7,3.3 0 1,0 -7.4,0M1278.5,1187.9a3.7,3.3 0 1,0 7.4,0a3.7,3.3 0 1,0 -7.4,0M1267.5,1157.6a3.7,3.3 0 1,0 7.4,0a3.7,3.3 0 1,0 -7.4,0M1277.8,1180.9a3.7,3.3 0 1,0 7.4,0a3.7,3.3 0 1,0 -7.4,0M1289.5,1208.0a3.7,3.3 0 1,0 7.4,0a3.7,3.3 0 1,0 -7.4,0M1270.8,1158.7a3.7,3.3 0 1,0 7.4,0a3.7,3.3 0 1,0 -7.4,0M1294.6,1188.2a3.7,3.3 0 1,0 7.4,0a3.7,3.3 0 1,0 -7.4,0M1294.2,1200.5a3.7,3.3 0 1,0 7.4,0a3.7,3.3 0 1,0 -7.4,0M1235.7,1164.6a3.7,3.3 0 1,0 7.4,0a3.7,3.3 0 1,0 -7.4,0M1289.3,1201.0a3.7,3.3 0 1,0 7.4,0a3.7,3.3 0 1,0 -7.4,0M1243.7,1149.8a3.7,3.3 0 1,0 7.4,0a3.7,3.3 0 1,0 -7.4,0M1244.0,1179.5a3.7,3.3 0 1,0 7.4,0a3.7,3.3 0 1,0 -7.4,0M1283.6,1168.5a3.7,3.3 0 1,0 7.4,0a3.7,3.3 0 1,0 -7.4,0M1258.8,1170.6a3.7,3.3 0 1,0 7.4,0a3.7,3.3 0 1,0 -7.4,0M1295.0,1199.0a3.7,3.3 0 1,0 7.4,0a3.7,3.3 0 1,0 -7.4,0M1252.3,1158.6a3.7,3.3 0 1,0 7.4,0a3.7,3.3 0 1,0 -7.4,0M1251.5,1183.6a3.7,3.3 0 1,0 7.4,0a3.7,3.3 0 1,0 -7.4,0"/>
<line x1="1154.2" y1="929" x2="1161" y2="927.4" stroke="#aaa" stroke-width="0.9"/>
<text x="1167.2" y="921.4" font-family="'DejaVu Sans', Verdana, sans-serif" font-size="13.6" text-anchor="start" fill="#222">COL11A1</text>
<line x1="1229.7" y1="968.8" x2="1235.7" y2="966.8" stroke="#aaa" stroke-width="0.9"/>
<text x="1242.8" y="960.9" font-family="'DejaVu Sans', Verdana, sans-serif" font-size="13.6" text-anchor="start" fill="#222">LRP1</text>
<text x="1110.3" y="1043.6" font-family="'DejaVu Sans', Verdana, sans-serif" font-size="13.6" text-anchor="start" fill="#222">P4HA2</text>
<line x1="1077" y1="1065.8" x2="1073.1" y2="1062.2" stroke="#aaa" stroke-width="0.9"/>
<text x="1034.8" y="1054.2" font-family="'DejaVu Sans', Verdana, sans-serif" font-size="13.6" text-anchor="start" fill="#222">COL5A2</text>
<line x1="1093.8" y1="1061" x2="1099.4" y2="1063.7" stroke="#aaa" stroke-width="0.9"/>
<text x="1096.8" y="1077.5" font-family="'DejaVu Sans', Verdana, sans-serif" font-size="13.6" text-anchor="start" fill="#222">COL1A2</text>
<text x="1477.3" y="950.3" font-family="'DejaVu Sans', Verdana, sans-serif" font-size="13.6" text-anchor="start" fill="#222">ITGA5</text>
<line x1="1554.7" y1="995.6" x2="1561.2" y2="993.4" stroke="#aaa" stroke-width="0.9"/>
<text x="1568.4" y="988.1" font-family="'DejaVu Sans', Verdana, sans-serif" font-size="13.6" text-anchor="start" fill="#222">MAOA</text>
<line x1="1440" y1="1028.2" x2="1444.7" y2="1026.7" stroke="#aaa" stroke-width="0.9"/>
<text x="1451.7" y="1020.8" font-family="'DejaVu Sans', Verdana, sans-serif" font-size="13.6" text-anchor="start" fill="#222">CAV1</text>
<line x1="1566.8" y1="1098.5" x2="1572.7" y2="1096.6" stroke="#aaa" stroke-width="0.9"/>
<text x="1579.8" y="1090.7" font-family="'DejaVu Sans', Verdana, sans-serif" font-size="13.6" text-anchor="start" fill="#222">SIRT5</text>
<rect x="992.4" y="781.2" width="774.6" height="456.5" fill="none" stroke="#555" stroke-width="1.4"/>
<line x1="1137.8" y1="1237.7" x2="1137.8" y2="1233.2" stroke="#555" stroke-width="1.2"/>
<text x="1137.8" y="1250.6" font-family="'DejaVu Sans', Verdana, sans-serif" font-size="13.3" text-anchor="middle" fill="#222">−3</text>
<line x1="1313.6" y1="1237.7" x2="1313.6" y2="1233.2" stroke="#555" stroke-width="1.2"/>
<text x="1313.6" y="1250.6" font-family="'DejaVu Sans', Verdana, sans-serif" font-size="13.3" text-anchor="middle" fill="#222">0</text>
<line x1="1489.4" y1="1237.7" x2="1489.4" y2="1233.2" stroke="#555" stroke-width="1.2"/>
<text x="1489.4" y="1250.6" font-family="'DejaVu Sans', Verdana, sans-serif" font-size="13.3" text-anchor="middle" fill="#222">3</text>
<line x1="1665.2" y1="1237.7" x2="1665.2" y2="1233.2" stroke="#555" stroke-width="1.2"/>
<text x="1665.2" y="1250.6" font-family="'DejaVu Sans', Verdana, sans-serif" font-size="13.3" text-anchor="middle" fill="#222">6</text>
<line x1="992.4" y1="1216.3" x2="997.1999999999999" y2="1216.3" stroke="#555" stroke-width="1.2"/>
<text x="988.1" y="1221.3" font-family="'DejaVu Sans', Verdana, sans-serif" font-size="13.3" text-anchor="end" fill="#222">0.0</text>
<line x1="992.4" y1="1108.0" x2="997.1999999999999" y2="1108.0" stroke="#555" stroke-width="1.2"/>
<text x="988.1" y="1113.0" font-family="'DejaVu Sans', Verdana, sans-serif" font-size="13.3" text-anchor="end" fill="#222">1.5</text>
<line x1="992.4" y1="999.7" x2="997.1999999999999" y2="999.7" stroke="#555" stroke-width="1.2"/>
<text x="988.1" y="1004.7" font-family="'DejaVu Sans', Verdana, sans-serif" font-size="13.3" text-anchor="end" fill="#222">3.0</text>
<line x1="992.4" y1="891.4" x2="997.1999999999999" y2="891.4" stroke="#555" stroke-width="1.2"/>
<text x="988.1" y="896.4" font-family="'DejaVu Sans', Verdana, sans-serif" font-size="13.3" text-anchor="end" fill="#222">4.5</text>
<line x1="992.4" y1="783.1" x2="997.1999999999999" y2="783.1" stroke="#555" stroke-width="1.2"/>
<text x="988.1" y="788.1" font-family="'DejaVu Sans', Verdana, sans-serif" font-size="13.3" text-anchor="end" fill="#222">6.0</text>
<text x="1281.5" y="1291.3" font-family="'Liberation Sans', Arial, sans-serif" font-size="32" font-weight="bold" text-anchor="start" fill="#000" textLength="191.65" lengthAdjust="spacingAndGlyphs">Fold change</text>
<text transform="translate(946.9,995.1) rotate(-90)" font-family="'Liberation Sans', Arial, sans-serif" font-size="29" font-weight="bold" text-anchor="middle" textLength="163" lengthAdjust="spacingAndGlyphs">-log <tspan font-style="italic">p</tspan>-value</text>
<rect x="102.2" y="1863.4" width="776.2" height="1.8" fill="#d6404f"/>
<path fill="#000" d="M409.3,1579.6a3.7,3.3 0 1,0 7.4,0a3.7,3.3 0 1,0 -7.4,0M280.5,1621.9a3.7,3.3 0 1,0 7.4,0a3.7,3.3 0 1,0 -7.4,0M372.0,1662.1a3.7,3.3 0 1,0 7.4,0a3.7,3.3 0 1,0 -7.4,0M449.5,1661.0a3.7,3.3 0 1,0 7.4,0a3.7,3.3 0 1,0 -7.4,0M316.2,1678.6a3.7,3.3 0 1,0 7.4,0a3.7,3.3 0 1,0 -7.4,0M467.6,1682.4a3.7,3.3 0 1,0 7.4,0a3.7,3.3 0 1,0 -7.4,0M137.7,1726.5a3.7,3.3 0 1,0 7.4,0a3.7,3.3 0 1,0 -7.4,0M246.6,1728.8a3.7,3.3 0 1,0 7.4,0a3.7,3.3 0 1,0 -7.4,0M351.0,1727.6a3.7,3.3 0 1,0 7.4,0a3.7,3.3 0 1,0 -7.4,0M388.5,1717.9a3.7,3.3 0 1,0 7.4,0a3.7,3.3 0 1,0 -7.4,0M465.3,1723.6a3.7,3.3 0 1,0 7.4,0a3.7,3.3 0 1,0 -7.4,0M421.7,1733.3a3.7,3.3 0 1,0 7.4,0a3.7,3.3 0 1,0 -7.4,0M201.4,1746.8a3.7,3.3 0 1,0 7.4,0a3.7,3.3 0 1,0 -7.4,0M323.4,1746.2a3.7,3.3 0 1,0 7.4,0a3.7,3.3 0 1,0 -7.4,0M321.2,1751.1a3.7,3.3 0 1,0 7.4,0a3.7,3.3 0 1,0 -7.4,0M384.0,1741.6a3.7,3.3 0 1,0 7.4,0a3.7,3.3 0 1,0 -7.4,0M382.2,1748.9a3.7,3.3 0 1,0 7.4,0a3.7,3.3 0 1,0 -7.4,0M397.5,1748.9a3.7,3.3 0 1,0 7.4,0a3.7,3.3 0 1,0 -7.4,0M430.8,1742.8a3.7,3.3 0 1,0 7.4,0a3.7,3.3 0 1,0 -7.4,0M433.7,1745.7a3.7,3.3 0 1,0 7.4,0a3.7,3.3 0 1,0 -7.4,0M405.9,1756.8a3.7,3.3 0 1,0 7.4,0a3.7,3.3 0 1,0 -7.4,0M378.8,1759.7a3.7,3.3 0 1,0 7.4,0a3.7,3.3 0 1,0 -7.4,0M386.7,1759.3a3.7,3.3 0 1,0 7.4,0a3.7,3.3 0 1,0 -7.4,0M592.0,1536.0a3.7,3.3 0 1,0 7.4,0a3.7,3.3 0 1,0 -7.4,0M609.6,1577.8a3.7,3.3 0 1,0 7.4,0a3.7,3.3 0 1,0 -7.4,0M797.2,1570.6a3.7,3.3 0 1,0 7.4,0a3.7,3.3 0 1,0 -7.4,0M613.5,1624.6a3.7,3.3 0 1,0 7.4,0a3.7,3.3 0 1,0 -7.4,0M609.6,1663.0a3.7,3.3 0 1,0 7.4,0a3.7,3.3 0 1,0 -7.4,0M710.7,1662.1a3.7,3.3 0 1,0 7.4,0a3.7,3.3 0 1,0 -7.4,0M797.2,1672.3a3.7,3.3 0 1,0 7.4,0a3.7,3.3 0 1,0 -7.4,0M703.0,1688.5a3.7,3.3 0 1,0 7.4,0a3.7,3.3 0 1,0 -7.4,0M593.4,1687.9a3.7,3.3 0 1,0 7.4,0a3.7,3.3 0 1,0 -7.4,0M593.4,1691.9a3.7,3.3 0 1,0 7.4,0a3.7,3.3 0 1,0 -7.4,0M564.4,1709.3a3.7,3.3 0 1,0 7.4,0a3.7,3.3 0 1,0 -7.4,0M594.5,1708.4a3.7,3.3 0 1,0 7.4,0a3.7,3.3 0 1,0 -7.4,0M600.6,1710.7a3.7,3.3 0 1,0 7.4,0a3.7,3.3 0 1,0 -7.4,0M622.3,1705.7a3.7,3.3 0 1,0 7.4,0a3.7,3.3 0 1,0 -7.4,0M639.0,1703.2a3.7,3.3 0 1,0 7.4,0a3.7,3.3 0 1,0 -7.4,0M643.5,1720.6a3.7,3.3 0 1,0 7.4,0a3.7,3.3 0 1,0 -7.4,0M650.8,1728.8a3.7,3.3 0 1,0 7.4,0a3.7,3.3 0 1,0 -7.4,0M637.2,1731.5a3.7,3.3 0 1,0 7.4,0a3.7,3.3 0 1,0 -7.4,0M643.5,1736.4a3.7,3.3 0 1,0 7.4,0a3.7,3.3 0 1,0 -7.4,0M649.6,1739.8a3.7,3.3 0 1,0 7.4,0a3.7,3.3 0 1,0 -7.4,0M580.3,1724.7a3.7,3.3 0 1,0 7.4,0a3.7,3.3 0 1,0 -7.4,0M591.6,1726.3a3.7,3.3 0 1,0 7.4,0a3.7,3.3 0 1,0 -7.4,0M602.9,1732.6a3.7,3.3 0 1,0 7.4,0a3.7,3.3 0 1,0 -7.4,0M546.4,1736.7a3.7,3.3 0 1,0 7.4,0a3.7,3.3 0 1,0 -7.4,0M679.2,1747.7a3.7,3.3 0 1,0 7.4,0a3.7,3.3 0 1,0 -7.4,0M765.1,1746.8a3.7,3.3 0 1,0 7.4,0a3.7,3.3 0 1,0 -7.4,0M588.2,1751.8a3.7,3.3 0 1,0 7.4,0a3.7,3.3 0 1,0 -7.4,0M608.5,1752.3a3.7,3.3 0 1,0 7.4,0a3.7,3.3 0 1,0 -7.4,0M589.3,1757.5a3.7,3.3 0 1,0 7.4,0a3.7,3.3 0 1,0 -7.4,0M597.9,1757.9a3.7,3.3 0 1,0 7.4,0a3.7,3.3 0 1,0 -7.4,0M605.6,1759.7a3.7,3.3 0 1,0 7.4,0a3.7,3.3 0 1,0 -7.4,0M835.6,1757.9a3.7,3.3 0 1,0 7.4,0a3.7,3.3 0 1,0 -7.4,0M201.4,1747.2a3.7,3.3 0 1,0 7.4,0a3.7,3.3 0 1,0 -7.4,0M323.4,1746.3a3.7,3.3 0 1,0 7.4,0a3.7,3.3 0 1,0 -7.4,0M321.2,1750.8a3.7,3.3 0 1,0 7.4,0a3.7,3.3 0 1,0 -7.4,0M384.0,1742.3a3.7,3.3 0 1,0 7.4,0a3.7,3.3 0 1,0 -7.4,0M382.2,1749.0a3.7,3.3 0 1,0 7.4,0a3.7,3.3 0 1,0 -7.4,0M397.3,1749.0a3.7,3.3 0 1,0 7.4,0a3.7,3.3 0 1,0 -7.4,0M405.9,1756.9a3.7,3.3 0 1,0 7.4,0a3.7,3.3 0 1,0 -7.4,0M373.1,1762.6a3.7,3.3 0 1,0 7.4,0a3.7,3.3 0 1,0 -7.4,0M379.2,1761.0a3.7,3.3 0 1,0 7.4,0a3.7,3.3 0 1,0 -7.4,0M386.7,1759.9a3.7,3.3 0 1,0 7.4,0a3.7,3.3 0 1,0 -7.4,0M430.8,1742.7a3.7,3.3 0 1,0 7.4,0a3.7,3.3 0 1,0 -7.4,0M433.5,1745.6a3.7,3.3 0 1,0 7.4,0a3.7,3.3 0 1,0 -7.4,0M286.1,1784.5a3.7,3.3 0 1,0 7.4,0a3.7,3.3 0 1,0 -7.4,0M304.2,1792.0a3.7,3.3 0 1,0 7.4,0a3.7,3.3 0 1,0 -7.4,0M344.2,1793.6a3.7,3.3 0 1,0 7.4,0a3.7,3.3 0 1,0 -7.4,0M301.9,1810.5a3.7,3.3 0 1,0 7.4,0a3.7,3.3 0 1,0 -7.4,0M366.4,1807.8a3.7,3.3 0 1,0 7.4,0a3.7,3.3 0 1,0 -7.4,0M332.5,1816.8a3.7,3.3 0 1,0 7.4,0a3.7,3.3 0 1,0 -7.4,0M413.8,1780.7a3.7,3.3 0 1,0 7.4,0a3.7,3.3 0 1,0 -7.4,0M421.7,1785.2a3.7,3.3 0 1,0 7.4,0a3.7,3.3 0 1,0 -7.4,0M428.5,1795.4a3.7,3.3 0 1,0 7.4,0a3.7,3.3 0 1,0 -7.4,0M436.0,1793.8a3.7,3.3 0 1,0 7.4,0a3.7,3.3 0 1,0 -7.4,0M431.9,1797.6a3.7,3.3 0 1,0 7.4,0a3.7,3.3 0 1,0 -7.4,0M457.9,1799.2a3.7,3.3 0 1,0 7.4,0a3.7,3.3 0 1,0 -7.4,0M446.1,1804.9a3.7,3.3 0 1,0 7.4,0a3.7,3.3 0 1,0 -7.4,0M456.1,1806.0a3.7,3.3 0 1,0 7.4,0a3.7,3.3 0 1,0 -7.4,0M424.0,1806.7a3.7,3.3 0 1,0 7.4,0a3.7,3.3 0 1,0 -7.4,0M401.4,1809.6a3.7,3.3 0 1,0 7.4,0a3.7,3.3 0 1,0 -7.4,0M405.5,1815.0a3.7,3.3 0 1,0 7.4,0a3.7,3.3 0 1,0 -7.4,0M420.6,1813.9a3.7,3.3 0 1,0 7.4,0a3.7,3.3 0 1,0 -7.4,0M421.7,1818.0a3.7,3.3 0 1,0 7.4,0a3.7,3.3 0 1,0 -7.4,0M430.3,1811.9a3.7,3.3 0 1,0 7.4,0a3.7,3.3 0 1,0 -7.4,0M429.2,1813.4a3.7,3.3 0 1,0 7.4,0a3.7,3.3 0 1,0 -7.4,0M443.2,1816.8a3.7,3.3 0 1,0 7.4,0a3.7,3.3 0 1,0 -7.4,0M445.5,1821.8a3.7,3.3 0 1,0 7.4,0a3.7,3.3 0 1,0 -7.4,0M458.6,1820.2a3.7,3.3 0 1,0 7.4,0a3.7,3.3 0 1,0 -7.4,0M462.9,1819.1a3.7,3.3 0 1,0 7.4,0a3.7,3.3 0 1,0 -7.4,0M462.9,1825.4a3.7,3.3 0 1,0 7.4,0a3.7,3.3 0 1,0 -7.4,0M475.1,1818.6a3.7,3.3 0 1,0 7.4,0a3.7,3.3 0 1,0 -7.4,0M395.1,1821.4a3.7,3.3 0 1,0 7.4,0a3.7,3.3 0 1,0 -7.4,0M404.8,1822.5a3.7,3.3 0 1,0 7.4,0a3.7,3.3 0 1,0 -7.4,0M403.0,1826.8a3.7,3.3 0 1,0 7.4,0a3.7,3.3 0 1,0 -7.4,0M418.3,1825.4a3.7,3.3 0 1,0 7.4,0a3.7,3.3 0 1,0 -7.4,0M422.4,1824.1a3.7,3.3 0 1,0 7.4,0a3.7,3.3 0 1,0 -7.4,0M425.8,1831.5a3.7,3.3 0 1,0 7.4,0a3.7,3.3 0 1,0 -7.4,0M433.5,1831.5a3.7,3.3 0 1,0 7.4,0a3.7,3.3 0 1,0 -7.4,0M453.4,1833.1a3.7,3.3 0 1,0 7.4,0a3.7,3.3 0 1,0 -7.4,0M443.4,1837.2a3.7,3.3 0 1,0 7.4,0a3.7,3.3 0 1,0 -7.4,0M456.8,1839.4a3.7,3.3 0 1,0 7.4,0a3.7,3.3 0 1,0 -7.4,0M434.2,1839.4a3.7,3.3 0 1,0 7.4,0a3.7,3.3 0 1,0 -7.4,0M438.7,1839.4a3.7,3.3 0 1,0 7.4,0a3.7,3.3 0 1,0 -7.4,0M459.7,1837.6a3.7,3.3 0 1,0 7.4,0a3.7,3.3 0 1,0 -7.4,0M463.3,1837.6a3.7,3.3 0 1,0 7.4,0a3.7,3.3 0 1,0 -7.4,0M486.4,1839.4a3.7,3.3 0 1,0 7.4,0a3.7,3.3 0 1,0 -7.4,0M493.4,1838.3a3.7,3.3 0 1,0 7.4,0a3.7,3.3 0 1,0 -7.4,0M351.2,1841.7a3.7,3.3 0 1,0 7.4,0a3.7,3.3 0 1,0 -7.4,0M363.0,1842.1a3.7,3.3 0 1,0 7.4,0a3.7,3.3 0 1,0 -7.4,0M401.8,1847.6a3.7,3.3 0 1,0 7.4,0a3.7,3.3 0 1,0 -7.4,0M421.3,1845.1a3.7,3.3 0 1,0 7.4,0a3.7,3.3 0 1,0 -7.4,0M455.6,1846.7a3.7,3.3 0 1,0 7.4,0a3.7,3.3 0 1,0 -7.4,0M413.6,1851.4a3.7,3.3 0 1,0 7.4,0a3.7,3.3 0 1,0 -7.4,0M419.0,1855.7a3.7,3.3 0 1,0 7.4,0a3.7,3.3 0 1,0 -7.4,0M428.5,1850.7a3.7,3.3 0 1,0 7.4,0a3.7,3.3 0 1,0 -7.4,0M426.9,1854.8a3.7,3.3 0 1,0 7.4,0a3.7,3.3 0 1,0 -7.4,0M440.3,1854.1a3.7,3.3 0 1,0 7.4,0a3.7,3.3 0 1,0 -7.4,0M447.0,1853.4a3.7,3.3 0 1,0 7.4,0a3.7,3.3 0 1,0 -7.4,0M448.8,1850.3a3.7,3.3 0 1,0 7.4,0a3.7,3.3 0 1,0 -7.4,0M462.4,1850.1a3.7,3.3 0 1,0 7.4,0a3.7,3.3 0 1,0 -7.4,0M466.9,1850.7a3.7,3.3 0 1,0 7.4,0a3.7,3.3 0 1,0 -7.4,0M476.6,1849.4a3.7,3.3 0 1,0 7.4,0a3.7,3.3 0 1,0 -7.4,0M488.6,1846.9a3.7,3.3 0 1,0 7.4,0a3.7,3.3 0 1,0 -7.4,0M462.9,1856.4a3.7,3.3 0 1,0 7.4,0a3.7,3.3 0 1,0 -7.4,0M468.1,1857.5a3.7,3.3 0 1,0 7.4,0a3.7,3.3 0 1,0 -7.4,0M482.1,1861.4a3.7,3.3 0 1,0 7.4,0a3.7,3.3 0 1,0 -7.4,0M492.9,1860.2a3.7,3.3 0 1,0 7.4,0a3.7,3.3 0 1,0 -7.4,0M308.5,1858.2a3.7,3.3 0 1,0 7.4,0a3.7,3.3 0 1,0 -7.4,0M340.4,1858.0a3.7,3.3 0 1,0 7.4,0a3.7,3.3 0 1,0 -7.4,0M344.2,1857.1a3.7,3.3 0 1,0 7.4,0a3.7,3.3 0 1,0 -7.4,0M392.3,1857.1a3.7,3.3 0 1,0 7.4,0a3.7,3.3 0 1,0 -7.4,0M395.1,1859.8a3.7,3.3 0 1,0 7.4,0a3.7,3.3 0 1,0 -7.4,0M396.9,1863.8a3.7,3.3 0 1,0 7.4,0a3.7,3.3 0 1,0 -7.4,0M377.0,1864.3a3.7,3.3 0 1,0 7.4,0a3.7,3.3 0 1,0 -7.4,0M384.4,1863.8a3.7,3.3 0 1,0 7.4,0a3.7,3.3 0 1,0 -7.4,0M236.4,1868.1a3.7,3.3 0 1,0 7.4,0a3.7,3.3 0 1,0 -7.4,0M293.4,1869.3a3.7,3.3 0 1,0 7.4,0a3.7,3.3 0 1,0 -7.4,0M379.9,1872.2a3.7,3.3 0 1,0 7.4,0a3.7,3.3 0 1,0 -7.4,0M418.8,1869.7a3.7,3.3 0 1,0 7.4,0a3.7,3.3 0 1,0 -7.4,0M431.9,1869.7a3.7,3.3 0 1,0 7.4,0a3.7,3.3 0 1,0 -7.4,0M446.6,1868.8a3.7,3.3 0 1,0 7.4,0a3.7,3.3 0 1,0 -7.4,0M452.7,1867.2a3.7,3.3 0 1,0 7.4,0a3.7,3.3 0 1,0 -7.4,0M459.0,1864.7a3.7,3.3 0 1,0 7.4,0a3.7,3.3 0 1,0 -7.4,0M471.4,1865.6a3.7,3.3 0 1,0 7.4,0a3.7,3.3 0 1,0 -7.4,0M478.2,1868.8a3.7,3.3 0 1,0 7.4,0a3.7,3.3 0 1,0 -7.4,0M372.0,1878.3a3.7,3.3 0 1,0 7.4,0a3.7,3.3 0 1,0 -7.4,0M413.8,1875.6a3.7,3.3 0 1,0 7.4,0a3.7,3.3 0 1,0 -7.4,0M424.7,1875.8a3.7,3.3 0 1,0 7.4,0a3.7,3.3 0 1,0 -7.4,0M435.7,1876.7a3.7,3.3 0 1,0 7.4,0a3.7,3.3 0 1,0 -7.4,0M450.0,1878.3a3.7,3.3 0 1,0 7.4,0a3.7,3.3 0 1,0 -7.4,0M455.6,1876.7a3.7,3.3 0 1,0 7.4,0a3.7,3.3 0 1,0 -7.4,0M463.5,1876.7a3.7,3.3 0 1,0 7.4,0a3.7,3.3 0 1,0 -7.4,0M469.2,1873.3a3.7,3.3 0 1,0 7.4,0a3.7,3.3 0 1,0 -7.4,0M480.5,1881.2a3.7,3.3 0 1,0 7.4,0a3.7,3.3 0 1,0 -7.4,0M303.3,1880.8a3.7,3.3 0 1,0 7.4,0a3.7,3.3 0 1,0 -7.4,0M309.4,1881.9a3.7,3.3 0 1,0 7.4,0a3.7,3.3 0 1,0 -7.4,0M355.5,1886.4a3.7,3.3 0 1,0 7.4,0a3.7,3.3 0 1,0 -7.4,0M399.1,1880.1a3.7,3.3 0 1,0 7.4,0a3.7,3.3 0 1,0 -7.4,0M402.5,1879.7a3.7,3.3 0 1,0 7.4,0a3.7,3.3 0 1,0 -7.4,0M396.9,1884.6a3.7,3.3 0 1,0 7.4,0a3.7,3.3 0 1,0 -7.4,0M413.8,1882.4a3.7,3.3 0 1,0 7.4,0a3.7,3.3 0 1,0 -7.4,0M419.5,1880.6a3.7,3.3 0 1,0 7.4,0a3.7,3.3 0 1,0 -7.4,0M426.7,1884.6a3.7,3.3 0 1,0 7.4,0a3.7,3.3 0 1,0 -7.4,0M432.3,1888.0a3.7,3.3 0 1,0 7.4,0a3.7,3.3 0 1,0 -7.4,0M439.8,1883.1a3.7,3.3 0 1,0 7.4,0a3.7,3.3 0 1,0 -7.4,0M444.3,1884.6a3.7,3.3 0 1,0 7.4,0a3.7,3.3 0 1,0 -7.4,0M395.7,1892.5a3.7,3.3 0 1,0 7.4,0a3.7,3.3 0 1,0 -7.4,0M412.7,1891.0a3.7,3.3 0 1,0 7.4,0a3.7,3.3 0 1,0 -7.4,0M421.7,1891.0a3.7,3.3 0 1,0 7.4,0a3.7,3.3 0 1,0 -7.4,0M427.4,1896.6a3.7,3.3 0 1,0 7.4,0a3.7,3.3 0 1,0 -7.4,0M435.3,1889.2a3.7,3.3 0 1,0 7.4,0a3.7,3.3 0 1,0 -7.4,0M444.3,1892.5a3.7,3.3 0 1,0 7.4,0a3.7,3.3 0 1,0 -7.4,0M453.4,1889.2a3.7,3.3 0 1,0 7.4,0a3.7,3.3 0 1,0 -7.4,0M460.1,1886.9a3.7,3.3 0 1,0 7.4,0a3.7,3.3 0 1,0 -7.4,0M472.6,1889.2a3.7,3.3 0 1,0 7.4,0a3.7,3.3 0 1,0 -7.4,0M488.4,1888.0a3.7,3.3 0 1,0 7.4,0a3.7,3.3 0 1,0 -7.4,0M494.0,1890.3a3.7,3.3 0 1,0 7.4,0a3.7,3.3 0 1,0 -7.4,0M316.6,1894.8a3.7,3.3 0 1,0 7.4,0a3.7,3.3 0 1,0 -7.4,0M319.6,1895.9a3.7,3.3 0 1,0 7.4,0a3.7,3.3 0 1,0 -7.4,0M374.7,1899.3a3.7,3.3 0 1,0 7.4,0a3.7,3.3 0 1,0 -7.4,0M395.7,1899.3a3.7,3.3 0 1,0 7.4,0a3.7,3.3 0 1,0 -7.4,0M406.4,1898.9a3.7,3.3 0 1,0 7.4,0a3.7,3.3 0 1,0 -7.4,0M435.7,1901.1a3.7,3.3 0 1,0 7.4,0a3.7,3.3 0 1,0 -7.4,0M452.9,1899.3a3.7,3.3 0 1,0 7.4,0a3.7,3.3 0 1,0 -7.4,0M455.6,1905.0a3.7,3.3 0 1,0 7.4,0a3.7,3.3 0 1,0 -7.4,0M373.1,1909.5a3.7,3.3 0 1,0 7.4,0a3.7,3.3 0 1,0 -7.4,0M404.8,1910.6a3.7,3.3 0 1,0 7.4,0a3.7,3.3 0 1,0 -7.4,0M416.5,1907.9a3.7,3.3 0 1,0 7.4,0a3.7,3.3 0 1,0 -7.4,0M430.3,1906.1a3.7,3.3 0 1,0 7.4,0a3.7,3.3 0 1,0 -7.4,0M358.4,1912.9a3.7,3.3 0 1,0 7.4,0a3.7,3.3 0 1,0 -7.4,0M389.0,1912.9a3.7,3.3 0 1,0 7.4,0a3.7,3.3 0 1,0 -7.4,0M389.0,1915.8a3.7,3.3 0 1,0 7.4,0a3.7,3.3 0 1,0 -7.4,0M419.5,1919.0a3.7,3.3 0 1,0 7.4,0a3.7,3.3 0 1,0 -7.4,0M421.7,1919.7a3.7,3.3 0 1,0 7.4,0a3.7,3.3 0 1,0 -7.4,0M434.6,1917.4a3.7,3.3 0 1,0 7.4,0a3.7,3.3 0 1,0 -7.4,0M439.1,1920.8a3.7,3.3 0 1,0 7.4,0a3.7,3.3 0 1,0 -7.4,0M444.3,1918.1a3.7,3.3 0 1,0 7.4,0a3.7,3.3 0 1,0 -7.4,0M455.6,1920.8a3.7,3.3 0 1,0 7.4,0a3.7,3.3 0 1,0 -7.4,0M460.1,1913.6a3.7,3.3 0 1,0 7.4,0a3.7,3.3 0 1,0 -7.4,0M455.6,1926.4a3.7,3.3 0 1,0 7.4,0a3.7,3.3 0 1,0 -7.4,0M468.1,1927.6a3.7,3.3 0 1,0 7.4,0a3.7,3.3 0 1,0 -7.4,0M457.9,1917.4a3.7,3.3 0 1,0 7.4,0a3.7,3.3 0 1,0 -7.4,0M679.0,1747.6a3.7,3.3 0 1,0 7.4,0a3.7,3.3 0 1,0 -7.4,0M657.3,1805.8a3.7,3.3 0 1,0 7.4,0a3.7,3.3 0 1,0 -7.4,0M673.8,1835.3a3.7,3.3 0 1,0 7.4,0a3.7,3.3 0 1,0 -7.4,0M655.1,1841.2a3.7,3.3 0 1,0 7.4,0a3.7,3.3 0 1,0 -7.4,0M638.7,1838.8a3.7,3.3 0 1,0 7.4,0a3.7,3.3 0 1,0 -7.4,0M686.5,1866.8a3.7,3.3 0 1,0 7.4,0a3.7,3.3 0 1,0 -7.4,0M675.5,1875.1a3.7,3.3 0 1,0 7.4,0a3.7,3.3 0 1,0 -7.4,0M653.1,1872.5a3.7,3.3 0 1,0 7.4,0a3.7,3.3 0 1,0 -7.4,0M662.4,1884.4a3.7,3.3 0 1,0 7.4,0a3.7,3.3 0 1,0 -7.4,0M655.6,1887.5a3.7,3.3 0 1,0 7.4,0a3.7,3.3 0 1,0 -7.4,0M670.9,1890.5a3.7,3.3 0 1,0 7.4,0a3.7,3.3 0 1,0 -7.4,0M649.4,1893.7a3.7,3.3 0 1,0 7.4,0a3.7,3.3 0 1,0 -7.4,0M687.0,1893.9a3.7,3.3 0 1,0 7.4,0a3.7,3.3 0 1,0 -7.4,0M689.2,1909.5a3.7,3.3 0 1,0 7.4,0a3.7,3.3 0 1,0 -7.4,0M693.8,1914.6a3.7,3.3 0 1,0 7.4,0a3.7,3.3 0 1,0 -7.4,0M649.4,1917.1a3.7,3.3 0 1,0 7.4,0a3.7,3.3 0 1,0 -7.4,0M666.6,1918.5a3.7,3.3 0 1,0 7.4,0a3.7,3.3 0 1,0 -7.4,0M640.9,1786.1a3.7,3.3 0 1,0 7.4,0a3.7,3.3 0 1,0 -7.4,0M649.7,1740.0a3.7,3.3 0 1,0 7.4,0a3.7,3.3 0 1,0 -7.4,0M531.0,1846.8a3.7,3.3 0 1,0 7.4,0a3.7,3.3 0 1,0 -7.4,0M510.2,1843.1a3.7,3.3 0 1,0 7.4,0a3.7,3.3 0 1,0 -7.4,0M549.7,1852.7a3.7,3.3 0 1,0 7.4,0a3.7,3.3 0 1,0 -7.4,0M544.6,1808.6a3.7,3.3 0 1,0 7.4,0a3.7,3.3 0 1,0 -7.4,0M545.5,1813.7a3.7,3.3 0 1,0 7.4,0a3.7,3.3 0 1,0 -7.4,0M588.3,1751.9a3.7,3.3 0 1,0 7.4,0a3.7,3.3 0 1,0 -7.4,0M589.5,1757.8a3.7,3.3 0 1,0 7.4,0a3.7,3.3 0 1,0 -7.4,0M608.7,1752.2a3.7,3.3 0 1,0 7.4,0a3.7,3.3 0 1,0 -7.4,0M598.0,1757.8a3.7,3.3 0 1,0 7.4,0a3.7,3.3 0 1,0 -7.4,0M606.1,1760.7a3.7,3.3 0 1,0 7.4,0a3.7,3.3 0 1,0 -7.4,0M597.1,1762.9a3.7,3.3 0 1,0 7.4,0a3.7,3.3 0 1,0 -7.4,0M602.2,1766.3a3.7,3.3 0 1,0 7.4,0a3.7,3.3 0 1,0 -7.4,0M588.3,1773.6a3.7,3.3 0 1,0 7.4,0a3.7,3.3 0 1,0 -7.4,0M600.2,1775.3a3.7,3.3 0 1,0 7.4,0a3.7,3.3 0 1,0 -7.4,0M594.6,1780.7a3.7,3.3 0 1,0 7.4,0a3.7,3.3 0 1,0 -7.4,0M603.9,1782.7a3.7,3.3 0 1,0 7.4,0a3.7,3.3 0 1,0 -7.4,0M625.1,1771.9a3.7,3.3 0 1,0 7.4,0a3.7,3.3 0 1,0 -7.4,0M621.7,1780.3a3.7,3.3 0 1,0 7.4,0a3.7,3.3 0 1,0 -7.4,0M627.7,1779.0a3.7,3.3 0 1,0 7.4,0a3.7,3.3 0 1,0 -7.4,0M621.7,1788.3a3.7,3.3 0 1,0 7.4,0a3.7,3.3 0 1,0 -7.4,0M579.0,1786.6a3.7,3.3 0 1,0 7.4,0a3.7,3.3 0 1,0 -7.4,0M580.2,1790.8a3.7,3.3 0 1,0 7.4,0a3.7,3.3 0 1,0 -7.4,0M586.1,1790.5a3.7,3.3 0 1,0 7.4,0a3.7,3.3 0 1,0 -7.4,0M591.2,1790.8a3.7,3.3 0 1,0 7.4,0a3.7,3.3 0 1,0 -7.4,0M597.7,1793.7a3.7,3.3 0 1,0 7.4,0a3.7,3.3 0 1,0 -7.4,0M577.3,1803.6a3.7,3.3 0 1,0 7.4,0a3.7,3.3 0 1,0 -7.4,0M487.8,1840.0a3.7,3.3 0 1,0 7.4,0a3.7,3.3 0 1,0 -7.4,0M493.8,1838.3a3.7,3.3 0 1,0 7.4,0a3.7,3.3 0 1,0 -7.4,0M488.7,1846.8a3.7,3.3 0 1,0 7.4,0a3.7,3.3 0 1,0 -7.4,0M498.8,1852.7a3.7,3.3 0 1,0 7.4,0a3.7,3.3 0 1,0 -7.4,0M481.9,1861.2a3.7,3.3 0 1,0 7.4,0a3.7,3.3 0 1,0 -7.4,0M491.2,1861.2a3.7,3.3 0 1,0 7.4,0a3.7,3.3 0 1,0 -7.4,0M476.8,1849.3a3.7,3.3 0 1,0 7.4,0a3.7,3.3 0 1,0 -7.4,0M475.1,1818.8a3.7,3.3 0 1,0 7.4,0a3.7,3.3 0 1,0 -7.4,0M486.1,1840.0a3.7,3.3 0 1,0 7.4,0a3.7,3.3 0 1,0 -7.4,0M679.4,1747.9a3.7,3.3 0 1,0 7.4,0a3.7,3.3 0 1,0 -7.4,0M765.1,1747.1a3.7,3.3 0 1,0 7.4,0a3.7,3.3 0 1,0 -7.4,0M835.2,1758.0a3.7,3.3 0 1,0 7.4,0a3.7,3.3 0 1,0 -7.4,0M702.3,1769.4a3.7,3.3 0 1,0 7.4,0a3.7,3.3 0 1,0 -7.4,0M757.2,1776.9a3.7,3.3 0 1,0 7.4,0a3.7,3.3 0 1,0 -7.4,0M729.9,1791.9a3.7,3.3 0 1,0 7.4,0a3.7,3.3 0 1,0 -7.4,0M657.3,1805.8a3.7,3.3 0 1,0 7.4,0a3.7,3.3 0 1,0 -7.4,0M644.4,1810.2a3.7,3.3 0 1,0 7.4,0a3.7,3.3 0 1,0 -7.4,0M646.1,1820.7a3.7,3.3 0 1,0 7.4,0a3.7,3.3 0 1,0 -7.4,0M674.0,1835.3a3.7,3.3 0 1,0 7.4,0a3.7,3.3 0 1,0 -7.4,0M655.3,1841.0a3.7,3.3 0 1,0 7.4,0a3.7,3.3 0 1,0 -7.4,0M730.9,1841.2a3.7,3.3 0 1,0 7.4,0a3.7,3.3 0 1,0 -7.4,0M741.4,1852.5a3.7,3.3 0 1,0 7.4,0a3.7,3.3 0 1,0 -7.4,0M745.2,1855.9a3.7,3.3 0 1,0 7.4,0a3.7,3.3 0 1,0 -7.4,0M686.5,1866.8a3.7,3.3 0 1,0 7.4,0a3.7,3.3 0 1,0 -7.4,0M715.6,1865.4a3.7,3.3 0 1,0 7.4,0a3.7,3.3 0 1,0 -7.4,0M760.8,1870.4a3.7,3.3 0 1,0 7.4,0a3.7,3.3 0 1,0 -7.4,0M652.8,1872.6a3.7,3.3 0 1,0 7.4,0a3.7,3.3 0 1,0 -7.4,0M675.6,1874.9a3.7,3.3 0 1,0 7.4,0a3.7,3.3 0 1,0 -7.4,0M662.1,1884.7a3.7,3.3 0 1,0 7.4,0a3.7,3.3 0 1,0 -7.4,0M655.7,1887.5a3.7,3.3 0 1,0 7.4,0a3.7,3.3 0 1,0 -7.4,0M670.6,1890.5a3.7,3.3 0 1,0 7.4,0a3.7,3.3 0 1,0 -7.4,0M649.2,1893.6a3.7,3.3 0 1,0 7.4,0a3.7,3.3 0 1,0 -7.4,0M686.9,1893.9a3.7,3.3 0 1,0 7.4,0a3.7,3.3 0 1,0 -7.4,0M776.4,1891.9a3.7,3.3 0 1,0 7.4,0a3.7,3.3 0 1,0 -7.4,0M828.6,1909.1a3.7,3.3 0 1,0 7.4,0a3.7,3.3 0 1,0 -7.4,0M689.2,1909.5a3.7,3.3 0 1,0 7.4,0a3.7,3.3 0 1,0 -7.4,0M694.2,1914.9a3.7,3.3 0 1,0 7.4,0a3.7,3.3 0 1,0 -7.4,0M649.5,1916.9a3.7,3.3 0 1,0 7.4,0a3.7,3.3 0 1,0 -7.4,0M666.4,1918.7a3.7,3.3 0 1,0 7.4,0a3.7,3.3 0 1,0 -7.4,0M470.5,1912.1a3.7,3.3 0 1,0 7.4,0a3.7,3.3 0 1,0 -7.4,0M497.5,1910.1a3.7,3.3 0 1,0 7.4,0a3.7,3.3 0 1,0 -7.4,0M487.6,1911.0a3.7,3.3 0 1,0 7.4,0a3.7,3.3 0 1,0 -7.4,0M493.4,1894.6a3.7,3.3 0 1,0 7.4,0a3.7,3.3 0 1,0 -7.4,0M504.7,1935.1a3.7,3.3 0 1,0 7.4,0a3.7,3.3 0 1,0 -7.4,0M481.8,1889.3a3.7,3.3 0 1,0 7.4,0a3.7,3.3 0 1,0 -7.4,0M483.0,1892.0a3.7,3.3 0 1,0 7.4,0a3.7,3.3 0 1,0 -7.4,0M457.4,1876.1a3.7,3.3 0 1,0 7.4,0a3.7,3.3 0 1,0 -7.4,0M453.1,1907.3a3.7,3.3 0 1,0 7.4,0a3.7,3.3 0 1,0 -7.4,0M453.0,1894.6a3.7,3.3 0 1,0 7.4,0a3.7,3.3 0 1,0 -7.4,0M501.6,1924.0a3.7,3.3 0 1,0 7.4,0a3.7,3.3 0 1,0 -7.4,0M497.6,1911.6a3.7,3.3 0 1,0 7.4,0a3.7,3.3 0 1,0 -7.4,0M484.0,1903.2a3.7,3.3 0 1,0 7.4,0a3.7,3.3 0 1,0 -7.4,0M489.2,1906.9a3.7,3.3 0 1,0 7.4,0a3.7,3.3 0 1,0 -7.4,0M469.6,1883.5a3.7,3.3 0 1,0 7.4,0a3.7,3.3 0 1,0 -7.4,0M471.5,1927.4a3.7,3.3 0 1,0 7.4,0a3.7,3.3 0 1,0 -7.4,0M507.7,1911.2a3.7,3.3 0 1,0 7.4,0a3.7,3.3 0 1,0 -7.4,0M494.0,1915.1a3.7,3.3 0 1,0 7.4,0a3.7,3.3 0 1,0 -7.4,0M470.0,1901.8a3.7,3.3 0 1,0 7.4,0a3.7,3.3 0 1,0 -7.4,0M466.2,1897.8a3.7,3.3 0 1,0 7.4,0a3.7,3.3 0 1,0 -7.4,0M482.6,1901.8a3.7,3.3 0 1,0 7.4,0a3.7,3.3 0 1,0 -7.4,0M493.7,1930.3a3.7,3.3 0 1,0 7.4,0a3.7,3.3 0 1,0 -7.4,0M463.0,1919.1a3.7,3.3 0 1,0 7.4,0a3.7,3.3 0 1,0 -7.4,0M463.0,1896.2a3.7,3.3 0 1,0 7.4,0a3.7,3.3 0 1,0 -7.4,0M461.5,1874.2a3.7,3.3 0 1,0 7.4,0a3.7,3.3 0 1,0 -7.4,0M452.7,1890.8a3.7,3.3 0 1,0 7.4,0a3.7,3.3 0 1,0 -7.4,0M520.0,1919.6a3.7,3.3 0 1,0 7.4,0a3.7,3.3 0 1,0 -7.4,0M470.4,1895.2a3.7,3.3 0 1,0 7.4,0a3.7,3.3 0 1,0 -7.4,0M456.4,1887.5a3.7,3.3 0 1,0 7.4,0a3.7,3.3 0 1,0 -7.4,0M495.9,1914.0a3.7,3.3 0 1,0 7.4,0a3.7,3.3 0 1,0 -7.4,0M498.4,1908.3a3.7,3.3 0 1,0 7.4,0a3.7,3.3 0 1,0 -7.4,0M453.2,1902.4a3.7,3.3 0 1,0 7.4,0a3.7,3.3 0 1,0 -7.4,0M512.0,1926.7a3.7,3.3 0 1,0 7.4,0a3.7,3.3 0 1,0 -7.4,0M466.7,1897.5a3.7,3.3 0 1,0 7.4,0a3.7,3.3 0 1,0 -7.4,0M458.9,1908.8a3.7,3.3 0 1,0 7.4,0a3.7,3.3 0 1,0 -7.4,0M508.8,1926.4a3.7,3.3 0 1,0 7.4,0a3.7,3.3 0 1,0 -7.4,0M452.9,1912.8a3.7,3.3 0 1,0 7.4,0a3.7,3.3 0 1,0 -7.4,0M487.2,1909.1a3.7,3.3 0 1,0 7.4,0a3.7,3.3 0 1,0 -7.4,0M474.4,1906.6a3.7,3.3 0 1,0 7.4,0a3.7,3.3 0 1,0 -7.4,0M460.0,1892.0a3.7,3.3 0 1,0 7.4,0a3.7,3.3 0 1,0 -7.4,0M472.7,1917.5a3.7,3.3 0 1,0 7.4,0a3.7,3.3 0 1,0 -7.4,0M506.3,1917.0a3.7,3.3 0 1,0 7.4,0a3.7,3.3 0 1,0 -7.4,0M457.0,1882.3a3.7,3.3 0 1,0 7.4,0a3.7,3.3 0 1,0 -7.4,0M480.7,1915.0a3.7,3.3 0 1,0 7.4,0a3.7,3.3 0 1,0 -7.4,0M477.1,1888.4a3.7,3.3 0 1,0 7.4,0a3.7,3.3 0 1,0 -7.4,0M457.2,1908.4a3.7,3.3 0 1,0 7.4,0a3.7,3.3 0 1,0 -7.4,0M515.2,1914.6a3.7,3.3 0 1,0 7.4,0a3.7,3.3 0 1,0 -7.4,0M505.3,1917.1a3.7,3.3 0 1,0 7.4,0a3.7,3.3 0 1,0 -7.4,0M450.4,1888.8a3.7,3.3 0 1,0 7.4,0a3.7,3.3 0 1,0 -7.4,0M472.7,1902.7a3.7,3.3 0 1,0 7.4,0a3.7,3.3 0 1,0 -7.4,0M455.1,1917.0a3.7,3.3 0 1,0 7.4,0a3.7,3.3 0 1,0 -7.4,0M447.0,1890.6a3.7,3.3 0 1,0 7.4,0a3.7,3.3 0 1,0 -7.4,0M487.9,1923.8a3.7,3.3 0 1,0 7.4,0a3.7,3.3 0 1,0 -7.4,0M460.6,1906.8a3.7,3.3 0 1,0 7.4,0a3.7,3.3 0 1,0 -7.4,0M469.5,1896.5a3.7,3.3 0 1,0 7.4,0a3.7,3.3 0 1,0 -7.4,0M463.4,1887.7a3.7,3.3 0 1,0 7.4,0a3.7,3.3 0 1,0 -7.4,0M461.8,1911.1a3.7,3.3 0 1,0 7.4,0a3.7,3.3 0 1,0 -7.4,0M515.3,1931.1a3.7,3.3 0 1,0 7.4,0a3.7,3.3 0 1,0 -7.4,0M518.6,1931.1a3.7,3.3 0 1,0 7.4,0a3.7,3.3 0 1,0 -7.4,0M491.6,1931.9a3.7,3.3 0 1,0 7.4,0a3.7,3.3 0 1,0 -7.4,0M519.7,1926.6a3.7,3.3 0 1,0 7.4,0a3.7,3.3 0 1,0 -7.4,0M468.7,1918.4a3.7,3.3 0 1,0 7.4,0a3.7,3.3 0 1,0 -7.4,0M505.5,1919.9a3.7,3.3 0 1,0 7.4,0a3.7,3.3 0 1,0 -7.4,0M478.8,1913.9a3.7,3.3 0 1,0 7.4,0a3.7,3.3 0 1,0 -7.4,0M497.0,1896.5a3.7,3.3 0 1,0 7.4,0a3.7,3.3 0 1,0 -7.4,0M466.5,1900.5a3.7,3.3 0 1,0 7.4,0a3.7,3.3 0 1,0 -7.4,0M498.7,1913.0a3.7,3.3 0 1,0 7.4,0a3.7,3.3 0 1,0 -7.4,0M505.2,1917.7a3.7,3.3 0 1,0 7.4,0a3.7,3.3 0 1,0 -7.4,0M474.9,1892.6a3.7,3.3 0 1,0 7.4,0a3.7,3.3 0 1,0 -7.4,0M459.1,1917.0a3.7,3.3 0 1,0 7.4,0a3.7,3.3 0 1,0 -7.4,0M519.3,1923.5a3.7,3.3 0 1,0 7.4,0a3.7,3.3 0 1,0 -7.4,0M460.1,1891.0a3.7,3.3 0 1,0 7.4,0a3.7,3.3 0 1,0 -7.4,0M466.4,1914.3a3.7,3.3 0 1,0 7.4,0a3.7,3.3 0 1,0 -7.4,0M471.4,1927.5a3.7,3.3 0 1,0 7.4,0a3.7,3.3 0 1,0 -7.4,0M481.6,1911.3a3.7,3.3 0 1,0 7.4,0a3.7,3.3 0 1,0 -7.4,0M474.9,1889.3a3.7,3.3 0 1,0 7.4,0a3.7,3.3 0 1,0 -7.4,0M457.9,1885.2a3.7,3.3 0 1,0 7.4,0a3.7,3.3 0 1,0 -7.4,0M503.9,1912.1a3.7,3.3 0 1,0 7.4,0a3.7,3.3 0 1,0 -7.4,0M468.9,1923.0a3.7,3.3 0 1,0 7.4,0a3.7,3.3 0 1,0 -7.4,0M489.1,1890.8a3.7,3.3 0 1,0 7.4,0a3.7,3.3 0 1,0 -7.4,0M463.8,1898.8a3.7,3.3 0 1,0 7.4,0a3.7,3.3 0 1,0 -7.4,0M460.7,1913.1a3.7,3.3 0 1,0 7.4,0a3.7,3.3 0 1,0 -7.4,0M514.9,1926.1a3.7,3.3 0 1,0 7.4,0a3.7,3.3 0 1,0 -7.4,0M451.2,1873.4a3.7,3.3 0 1,0 7.4,0a3.7,3.3 0 1,0 -7.4,0M497.5,1898.5a3.7,3.3 0 1,0 7.4,0a3.7,3.3 0 1,0 -7.4,0M484.5,1903.7a3.7,3.3 0 1,0 7.4,0a3.7,3.3 0 1,0 -7.4,0M503.7,1906.1a3.7,3.3 0 1,0 7.4,0a3.7,3.3 0 1,0 -7.4,0M481.6,1887.2a3.7,3.3 0 1,0 7.4,0a3.7,3.3 0 1,0 -7.4,0M518.3,1934.3a3.7,3.3 0 1,0 7.4,0a3.7,3.3 0 1,0 -7.4,0M508.2,1916.8a3.7,3.3 0 1,0 7.4,0a3.7,3.3 0 1,0 -7.4,0M486.0,1886.4a3.7,3.3 0 1,0 7.4,0a3.7,3.3 0 1,0 -7.4,0M455.7,1901.1a3.7,3.3 0 1,0 7.4,0a3.7,3.3 0 1,0 -7.4,0M464.9,1896.2a3.7,3.3 0 1,0 7.4,0a3.7,3.3 0 1,0 -7.4,0M499.5,1908.8a3.7,3.3 0 1,0 7.4,0a3.7,3.3 0 1,0 -7.4,0M463.0,1924.3a3.7,3.3 0 1,0 7.4,0a3.7,3.3 0 1,0 -7.4,0M503.4,1906.9a3.7,3.3 0 1,0 7.4,0a3.7,3.3 0 1,0 -7.4,0M476.0,1898.5a3.7,3.3 0 1,0 7.4,0a3.7,3.3 0 1,0 -7.4,0M512.0,1935.9a3.7,3.3 0 1,0 7.4,0a3.7,3.3 0 1,0 -7.4,0M468.3,1914.5a3.7,3.3 0 1,0 7.4,0a3.7,3.3 0 1,0 -7.4,0M490.1,1918.8a3.7,3.3 0 1,0 7.4,0a3.7,3.3 0 1,0 -7.4,0M470.7,1917.9a3.7,3.3 0 1,0 7.4,0a3.7,3.3 0 1,0 -7.4,0M472.9,1908.0a3.7,3.3 0 1,0 7.4,0a3.7,3.3 0 1,0 -7.4,0M506.3,1926.1a3.7,3.3 0 1,0 7.4,0a3.7,3.3 0 1,0 -7.4,0M475.4,1898.9a3.7,3.3 0 1,0 7.4,0a3.7,3.3 0 1,0 -7.4,0M472.9,1917.2a3.7,3.3 0 1,0 7.4,0a3.7,3.3 0 1,0 -7.4,0M469.9,1876.7a3.7,3.3 0 1,0 7.4,0a3.7,3.3 0 1,0 -7.4,0M488.5,1907.8a3.7,3.3 0 1,0 7.4,0a3.7,3.3 0 1,0 -7.4,0M462.8,1906.9a3.7,3.3 0 1,0 7.4,0a3.7,3.3 0 1,0 -7.4,0M489.5,1889.0a3.7,3.3 0 1,0 7.4,0a3.7,3.3 0 1,0 -7.4,0M464.2,1908.9a3.7,3.3 0 1,0 7.4,0a3.7,3.3 0 1,0 -7.4,0M484.0,1926.1a3.7,3.3 0 1,0 7.4,0a3.7,3.3 0 1,0 -7.4,0M488.9,1925.5a3.7,3.3 0 1,0 7.4,0a3.7,3.3 0 1,0 -7.4,0M465.8,1882.1a3.7,3.3 0 1,0 7.4,0a3.7,3.3 0 1,0 -7.4,0M449.7,1887.6a3.7,3.3 0 1,0 7.4,0a3.7,3.3 0 1,0 -7.4,0M491.7,1930.3a3.7,3.3 0 1,0 7.4,0a3.7,3.3 0 1,0 -7.4,0M491.1,1923.5a3.7,3.3 0 1,0 7.4,0a3.7,3.3 0 1,0 -7.4,0M511.1,1917.0a3.7,3.3 0 1,0 7.4,0a3.7,3.3 0 1,0 -7.4,0M459.4,1915.5a3.7,3.3 0 1,0 7.4,0a3.7,3.3 0 1,0 -7.4,0M471.1,1913.6a3.7,3.3 0 1,0 7.4,0a3.7,3.3 0 1,0 -7.4,0M499.7,1900.2a3.7,3.3 0 1,0 7.4,0a3.7,3.3 0 1,0 -7.4,0M455.2,1880.6a3.7,3.3 0 1,0 7.4,0a3.7,3.3 0 1,0 -7.4,0M457.0,1903.8a3.7,3.3 0 1,0 7.4,0a3.7,3.3 0 1,0 -7.4,0M503.8,1921.6a3.7,3.3 0 1,0 7.4,0a3.7,3.3 0 1,0 -7.4,0M483.0,1927.0a3.7,3.3 0 1,0 7.4,0a3.7,3.3 0 1,0 -7.4,0M466.9,1887.4a3.7,3.3 0 1,0 7.4,0a3.7,3.3 0 1,0 -7.4,0M456.7,1921.8a3.7,3.3 0 1,0 7.4,0a3.7,3.3 0 1,0 -7.4,0M505.2,1918.0a3.7,3.3 0 1,0 7.4,0a3.7,3.3 0 1,0 -7.4,0M475.7,1927.7a3.7,3.3 0 1,0 7.4,0a3.7,3.3 0 1,0 -7.4,0M457.7,1876.0a3.7,3.3 0 1,0 7.4,0a3.7,3.3 0 1,0 -7.4,0M506.8,1904.2a3.7,3.3 0 1,0 7.4,0a3.7,3.3 0 1,0 -7.4,0M488.1,1910.9a3.7,3.3 0 1,0 7.4,0a3.7,3.3 0 1,0 -7.4,0M474.0,1883.6a3.7,3.3 0 1,0 7.4,0a3.7,3.3 0 1,0 -7.4,0M518.2,1938.1a3.7,3.3 0 1,0 7.4,0a3.7,3.3 0 1,0 -7.4,0M506.8,1907.1a3.7,3.3 0 1,0 7.4,0a3.7,3.3 0 1,0 -7.4,0M502.1,1928.6a3.7,3.3 0 1,0 7.4,0a3.7,3.3 0 1,0 -7.4,0M478.9,1892.0a3.7,3.3 0 1,0 7.4,0a3.7,3.3 0 1,0 -7.4,0M452.2,1896.1a3.7,3.3 0 1,0 7.4,0a3.7,3.3 0 1,0 -7.4,0M465.3,1903.0a3.7,3.3 0 1,0 7.4,0a3.7,3.3 0 1,0 -7.4,0M497.1,1932.3a3.7,3.3 0 1,0 7.4,0a3.7,3.3 0 1,0 -7.4,0M469.3,1884.2a3.7,3.3 0 1,0 7.4,0a3.7,3.3 0 1,0 -7.4,0M463.9,1894.0a3.7,3.3 0 1,0 7.4,0a3.7,3.3 0 1,0 -7.4,0M453.5,1916.1a3.7,3.3 0 1,0 7.4,0a3.7,3.3 0 1,0 -7.4,0M504.2,1926.3a3.7,3.3 0 1,0 7.4,0a3.7,3.3 0 1,0 -7.4,0M485.7,1901.0a3.7,3.3 0 1,0 7.4,0a3.7,3.3 0 1,0 -7.4,0M462.7,1887.2a3.7,3.3 0 1,0 7.4,0a3.7,3.3 0 1,0 -7.4,0M486.2,1930.9a3.7,3.3 0 1,0 7.4,0a3.7,3.3 0 1,0 -7.4,0M479.1,1901.4a3.7,3.3 0 1,0 7.4,0a3.7,3.3 0 1,0 -7.4,0M467.2,1918.8a3.7,3.3 0 1,0 7.4,0a3.7,3.3 0 1,0 -7.4,0M493.4,1901.9a3.7,3.3 0 1,0 7.4,0a3.7,3.3 0 1,0 -7.4,0M446.9,1882.2a3.7,3.3 0 1,0 7.4,0a3.7,3.3 0 1,0 -7.4,0M462.6,1883.8a3.7,3.3 0 1,0 7.4,0a3.7,3.3 0 1,0 -7.4,0M494.3,1901.0a3.7,3.3 0 1,0 7.4,0a3.7,3.3 0 1,0 -7.4,0M472.6,1910.5a3.7,3.3 0 1,0 7.4,0a3.7,3.3 0 1,0 -7.4,0M501.0,1927.7a3.7,3.3 0 1,0 7.4,0a3.7,3.3 0 1,0 -7.4,0M462.8,1883.2a3.7,3.3 0 1,0 7.4,0a3.7,3.3 0 1,0 -7.4,0M504.8,1933.0a3.7,3.3 0 1,0 7.4,0a3.7,3.3 0 1,0 -7.4,0M460.5,1884.5a3.7,3.3 0 1,0 7.4,0a3.7,3.3 0 1,0 -7.4,0M453.9,1885.5a3.7,3.3 0 1,0 7.4,0a3.7,3.3 0 1,0 -7.4,0M464.0,1890.4a3.7,3.3 0 1,0 7.4,0a3.7,3.3 0 1,0 -7.4,0M481.8,1904.7a3.7,3.3 0 1,0 7.4,0a3.7,3.3 0 1,0 -7.4,0M486.4,1903.3a3.7,3.3 0 1,0 7.4,0a3.7,3.3 0 1,0 -7.4,0M510.5,1922.5a3.7,3.3 0 1,0 7.4,0a3.7,3.3 0 1,0 -7.4,0M497.7,1903.7a3.7,3.3 0 1,0 7.4,0a3.7,3.3 0 1,0 -7.4,0M468.4,1909.0a3.7,3.3 0 1,0 7.4,0a3.7,3.3 0 1,0 -7.4,0M490.7,1926.7a3.7,3.3 0 1,0 7.4,0a3.7,3.3 0 1,0 -7.4,0M477.1,1913.9a3.7,3.3 0 1,0 7.4,0a3.7,3.3 0 1,0 -7.4,0M485.8,1923.6a3.7,3.3 0 1,0 7.4,0a3.7,3.3 0 1,0 -7.4,0M511.1,1910.3a3.7,3.3 0 1,0 7.4,0a3.7,3.3 0 1,0 -7.4,0M468.7,1880.6a3.7,3.3 0 1,0 7.4,0a3.7,3.3 0 1,0 -7.4,0M454.1,1892.6a3.7,3.3 0 1,0 7.4,0a3.7,3.3 0 1,0 -7.4,0M449.5,1891.2a3.7,3.3 0 1,0 7.4,0a3.7,3.3 0 1,0 -7.4,0M464.1,1907.4a3.7,3.3 0 1,0 7.4,0a3.7,3.3 0 1,0 -7.4,0M499.6,1908.6a3.7,3.3 0 1,0 7.4,0a3.7,3.3 0 1,0 -7.4,0M467.4,1916.0a3.7,3.3 0 1,0 7.4,0a3.7,3.3 0 1,0 -7.4,0M455.0,1877.7a3.7,3.3 0 1,0 7.4,0a3.7,3.3 0 1,0 -7.4,0M451.8,1910.9a3.7,3.3 0 1,0 7.4,0a3.7,3.3 0 1,0 -7.4,0M497.3,1914.1a3.7,3.3 0 1,0 7.4,0a3.7,3.3 0 1,0 -7.4,0M540.6,1907.9a3.7,3.3 0 1,0 7.4,0a3.7,3.3 0 1,0 -7.4,0M608.8,1882.8a3.7,3.3 0 1,0 7.4,0a3.7,3.3 0 1,0 -7.4,0M605.7,1888.4a3.7,3.3 0 1,0 7.4,0a3.7,3.3 0 1,0 -7.4,0M538.5,1909.7a3.7,3.3 0 1,0 7.4,0a3.7,3.3 0 1,0 -7.4,0M575.5,1925.6a3.7,3.3 0 1,0 7.4,0a3.7,3.3 0 1,0 -7.4,0M567.1,1920.5a3.7,3.3 0 1,0 7.4,0a3.7,3.3 0 1,0 -7.4,0M556.6,1932.7a3.7,3.3 0 1,0 7.4,0a3.7,3.3 0 1,0 -7.4,0M575.5,1898.8a3.7,3.3 0 1,0 7.4,0a3.7,3.3 0 1,0 -7.4,0M587.6,1882.3a3.7,3.3 0 1,0 7.4,0a3.7,3.3 0 1,0 -7.4,0M599.0,1923.2a3.7,3.3 0 1,0 7.4,0a3.7,3.3 0 1,0 -7.4,0M528.1,1940.0a3.7,3.3 0 1,0 7.4,0a3.7,3.3 0 1,0 -7.4,0M559.5,1915.6a3.7,3.3 0 1,0 7.4,0a3.7,3.3 0 1,0 -7.4,0M548.3,1914.0a3.7,3.3 0 1,0 7.4,0a3.7,3.3 0 1,0 -7.4,0M598.6,1900.7a3.7,3.3 0 1,0 7.4,0a3.7,3.3 0 1,0 -7.4,0M558.5,1911.2a3.7,3.3 0 1,0 7.4,0a3.7,3.3 0 1,0 -7.4,0M596.5,1904.2a3.7,3.3 0 1,0 7.4,0a3.7,3.3 0 1,0 -7.4,0M593.8,1883.0a3.7,3.3 0 1,0 7.4,0a3.7,3.3 0 1,0 -7.4,0M563.9,1898.8a3.7,3.3 0 1,0 7.4,0a3.7,3.3 0 1,0 -7.4,0M587.7,1878.2a3.7,3.3 0 1,0 7.4,0a3.7,3.3 0 1,0 -7.4,0M550.7,1919.0a3.7,3.3 0 1,0 7.4,0a3.7,3.3 0 1,0 -7.4,0M539.9,1924.1a3.7,3.3 0 1,0 7.4,0a3.7,3.3 0 1,0 -7.4,0M585.4,1907.2a3.7,3.3 0 1,0 7.4,0a3.7,3.3 0 1,0 -7.4,0M583.0,1928.1a3.7,3.3 0 1,0 7.4,0a3.7,3.3 0 1,0 -7.4,0M579.4,1905.0a3.7,3.3 0 1,0 7.4,0a3.7,3.3 0 1,0 -7.4,0M581.9,1877.6a3.7,3.3 0 1,0 7.4,0a3.7,3.3 0 1,0 -7.4,0M600.9,1907.4a3.7,3.3 0 1,0 7.4,0a3.7,3.3 0 1,0 -7.4,0M605.4,1906.7a3.7,3.3 0 1,0 7.4,0a3.7,3.3 0 1,0 -7.4,0M569.0,1933.9a3.7,3.3 0 1,0 7.4,0a3.7,3.3 0 1,0 -7.4,0M612.7,1894.8a3.7,3.3 0 1,0 7.4,0a3.7,3.3 0 1,0 -7.4,0M551.3,1903.9a3.7,3.3 0 1,0 7.4,0a3.7,3.3 0 1,0 -7.4,0M552.2,1897.2a3.7,3.3 0 1,0 7.4,0a3.7,3.3 0 1,0 -7.4,0M588.8,1909.1a3.7,3.3 0 1,0 7.4,0a3.7,3.3 0 1,0 -7.4,0M545.0,1917.8a3.7,3.3 0 1,0 7.4,0a3.7,3.3 0 1,0 -7.4,0M541.6,1933.9a3.7,3.3 0 1,0 7.4,0a3.7,3.3 0 1,0 -7.4,0M597.9,1908.1a3.7,3.3 0 1,0 7.4,0a3.7,3.3 0 1,0 -7.4,0M557.5,1896.7a3.7,3.3 0 1,0 7.4,0a3.7,3.3 0 1,0 -7.4,0M574.0,1893.4a3.7,3.3 0 1,0 7.4,0a3.7,3.3 0 1,0 -7.4,0M612.8,1882.3a3.7,3.3 0 1,0 7.4,0a3.7,3.3 0 1,0 -7.4,0M610.5,1900.7a3.7,3.3 0 1,0 7.4,0a3.7,3.3 0 1,0 -7.4,0M609.6,1881.8a3.7,3.3 0 1,0 7.4,0a3.7,3.3 0 1,0 -7.4,0M549.3,1910.7a3.7,3.3 0 1,0 7.4,0a3.7,3.3 0 1,0 -7.4,0M538.5,1899.6a3.7,3.3 0 1,0 7.4,0a3.7,3.3 0 1,0 -7.4,0M538.9,1902.8a3.7,3.3 0 1,0 7.4,0a3.7,3.3 0 1,0 -7.4,0M607.8,1878.7a3.7,3.3 0 1,0 7.4,0a3.7,3.3 0 1,0 -7.4,0M558.2,1916.7a3.7,3.3 0 1,0 7.4,0a3.7,3.3 0 1,0 -7.4,0M602.9,1915.9a3.7,3.3 0 1,0 7.4,0a3.7,3.3 0 1,0 -7.4,0M573.5,1928.7a3.7,3.3 0 1,0 7.4,0a3.7,3.3 0 1,0 -7.4,0M599.1,1911.2a3.7,3.3 0 1,0 7.4,0a3.7,3.3 0 1,0 -7.4,0M595.8,1909.4a3.7,3.3 0 1,0 7.4,0a3.7,3.3 0 1,0 -7.4,0M581.1,1904.8a3.7,3.3 0 1,0 7.4,0a3.7,3.3 0 1,0 -7.4,0M558.5,1909.7a3.7,3.3 0 1,0 7.4,0a3.7,3.3 0 1,0 -7.4,0M568.2,1904.1a3.7,3.3 0 1,0 7.4,0a3.7,3.3 0 1,0 -7.4,0M587.3,1876.3a3.7,3.3 0 1,0 7.4,0a3.7,3.3 0 1,0 -7.4,0M567.6,1912.1a3.7,3.3 0 1,0 7.4,0a3.7,3.3 0 1,0 -7.4,0M531.8,1931.4a3.7,3.3 0 1,0 7.4,0a3.7,3.3 0 1,0 -7.4,0M545.3,1901.2a3.7,3.3 0 1,0 7.4,0a3.7,3.3 0 1,0 -7.4,0M588.7,1897.7a3.7,3.3 0 1,0 7.4,0a3.7,3.3 0 1,0 -7.4,0M585.0,1907.1a3.7,3.3 0 1,0 7.4,0a3.7,3.3 0 1,0 -7.4,0M609.3,1888.4a3.7,3.3 0 1,0 7.4,0a3.7,3.3 0 1,0 -7.4,0M569.0,1883.8a3.7,3.3 0 1,0 7.4,0a3.7,3.3 0 1,0 -7.4,0M539.9,1897.8a3.7,3.3 0 1,0 7.4,0a3.7,3.3 0 1,0 -7.4,0M610.9,1892.4a3.7,3.3 0 1,0 7.4,0a3.7,3.3 0 1,0 -7.4,0M590.4,1926.6a3.7,3.3 0 1,0 7.4,0a3.7,3.3 0 1,0 -7.4,0M592.6,1905.8a3.7,3.3 0 1,0 7.4,0a3.7,3.3 0 1,0 -7.4,0M585.4,1877.0a3.7,3.3 0 1,0 7.4,0a3.7,3.3 0 1,0 -7.4,0M552.8,1897.1a3.7,3.3 0 1,0 7.4,0a3.7,3.3 0 1,0 -7.4,0M569.0,1922.6a3.7,3.3 0 1,0 7.4,0a3.7,3.3 0 1,0 -7.4,0M577.2,1914.8a3.7,3.3 0 1,0 7.4,0a3.7,3.3 0 1,0 -7.4,0M558.1,1926.3a3.7,3.3 0 1,0 7.4,0a3.7,3.3 0 1,0 -7.4,0M579.1,1922.5a3.7,3.3 0 1,0 7.4,0a3.7,3.3 0 1,0 -7.4,0M560.8,1895.6a3.7,3.3 0 1,0 7.4,0a3.7,3.3 0 1,0 -7.4,0M554.2,1920.6a3.7,3.3 0 1,0 7.4,0a3.7,3.3 0 1,0 -7.4,0M581.5,1884.6a3.7,3.3 0 1,0 7.4,0a3.7,3.3 0 1,0 -7.4,0M548.0,1915.5a3.7,3.3 0 1,0 7.4,0a3.7,3.3 0 1,0 -7.4,0M564.8,1923.7a3.7,3.3 0 1,0 7.4,0a3.7,3.3 0 1,0 -7.4,0M611.7,1907.3a3.7,3.3 0 1,0 7.4,0a3.7,3.3 0 1,0 -7.4,0M610.6,1887.7a3.7,3.3 0 1,0 7.4,0a3.7,3.3 0 1,0 -7.4,0M535.5,1931.7a3.7,3.3 0 1,0 7.4,0a3.7,3.3 0 1,0 -7.4,0M542.9,1936.9a3.7,3.3 0 1,0 7.4,0a3.7,3.3 0 1,0 -7.4,0M530.7,1932.5a3.7,3.3 0 1,0 7.4,0a3.7,3.3 0 1,0 -7.4,0M565.0,1930.6a3.7,3.3 0 1,0 7.4,0a3.7,3.3 0 1,0 -7.4,0M537.5,1925.2a3.7,3.3 0 1,0 7.4,0a3.7,3.3 0 1,0 -7.4,0M567.6,1917.2a3.7,3.3 0 1,0 7.4,0a3.7,3.3 0 1,0 -7.4,0M549.4,1900.9a3.7,3.3 0 1,0 7.4,0a3.7,3.3 0 1,0 -7.4,0M610.2,1898.4a3.7,3.3 0 1,0 7.4,0a3.7,3.3 0 1,0 -7.4,0M603.8,1903.8a3.7,3.3 0 1,0 7.4,0a3.7,3.3 0 1,0 -7.4,0M555.1,1902.5a3.7,3.3 0 1,0 7.4,0a3.7,3.3 0 1,0 -7.4,0M566.7,1917.8a3.7,3.3 0 1,0 7.4,0a3.7,3.3 0 1,0 -7.4,0M542.2,1920.5a3.7,3.3 0 1,0 7.4,0a3.7,3.3 0 1,0 -7.4,0M559.3,1911.2a3.7,3.3 0 1,0 7.4,0a3.7,3.3 0 1,0 -7.4,0M575.7,1911.4a3.7,3.3 0 1,0 7.4,0a3.7,3.3 0 1,0 -7.4,0M591.0,1903.3a3.7,3.3 0 1,0 7.4,0a3.7,3.3 0 1,0 -7.4,0M538.3,1934.9a3.7,3.3 0 1,0 7.4,0a3.7,3.3 0 1,0 -7.4,0M551.2,1931.3a3.7,3.3 0 1,0 7.4,0a3.7,3.3 0 1,0 -7.4,0M610.1,1877.5a3.7,3.3 0 1,0 7.4,0a3.7,3.3 0 1,0 -7.4,0M572.8,1894.3a3.7,3.3 0 1,0 7.4,0a3.7,3.3 0 1,0 -7.4,0M529.6,1934.9a3.7,3.3 0 1,0 7.4,0a3.7,3.3 0 1,0 -7.4,0M571.1,1916.2a3.7,3.3 0 1,0 7.4,0a3.7,3.3 0 1,0 -7.4,0M592.5,1909.4a3.7,3.3 0 1,0 7.4,0a3.7,3.3 0 1,0 -7.4,0M608.2,1900.4a3.7,3.3 0 1,0 7.4,0a3.7,3.3 0 1,0 -7.4,0M564.3,1916.0a3.7,3.3 0 1,0 7.4,0a3.7,3.3 0 1,0 -7.4,0M561.2,1922.4a3.7,3.3 0 1,0 7.4,0a3.7,3.3 0 1,0 -7.4,0M611.3,1891.3a3.7,3.3 0 1,0 7.4,0a3.7,3.3 0 1,0 -7.4,0M592.0,1881.8a3.7,3.3 0 1,0 7.4,0a3.7,3.3 0 1,0 -7.4,0M592.9,1877.0a3.7,3.3 0 1,0 7.4,0a3.7,3.3 0 1,0 -7.4,0M582.2,1893.9a3.7,3.3 0 1,0 7.4,0a3.7,3.3 0 1,0 -7.4,0M542.2,1932.6a3.7,3.3 0 1,0 7.4,0a3.7,3.3 0 1,0 -7.4,0M588.8,1910.0a3.7,3.3 0 1,0 7.4,0a3.7,3.3 0 1,0 -7.4,0M607.2,1893.4a3.7,3.3 0 1,0 7.4,0a3.7,3.3 0 1,0 -7.4,0M557.0,1892.8a3.7,3.3 0 1,0 7.4,0a3.7,3.3 0 1,0 -7.4,0M586.5,1880.1a3.7,3.3 0 1,0 7.4,0a3.7,3.3 0 1,0 -7.4,0M547.3,1911.1a3.7,3.3 0 1,0 7.4,0a3.7,3.3 0 1,0 -7.4,0M572.5,1913.3a3.7,3.3 0 1,0 7.4,0a3.7,3.3 0 1,0 -7.4,0M556.9,1893.2a3.7,3.3 0 1,0 7.4,0a3.7,3.3 0 1,0 -7.4,0M581.8,1922.2a3.7,3.3 0 1,0 7.4,0a3.7,3.3 0 1,0 -7.4,0M537.2,1906.9a3.7,3.3 0 1,0 7.4,0a3.7,3.3 0 1,0 -7.4,0M557.9,1912.1a3.7,3.3 0 1,0 7.4,0a3.7,3.3 0 1,0 -7.4,0M546.8,1927.3a3.7,3.3 0 1,0 7.4,0a3.7,3.3 0 1,0 -7.4,0M546.7,1923.2a3.7,3.3 0 1,0 7.4,0a3.7,3.3 0 1,0 -7.4,0M597.2,1873.6a3.7,3.3 0 1,0 7.4,0a3.7,3.3 0 1,0 -7.4,0M540.0,1903.9a3.7,3.3 0 1,0 7.4,0a3.7,3.3 0 1,0 -7.4,0M531.4,1936.7a3.7,3.3 0 1,0 7.4,0a3.7,3.3 0 1,0 -7.4,0M607.6,1899.6a3.7,3.3 0 1,0 7.4,0a3.7,3.3 0 1,0 -7.4,0M563.5,1924.1a3.7,3.3 0 1,0 7.4,0a3.7,3.3 0 1,0 -7.4,0M560.9,1927.5a3.7,3.3 0 1,0 7.4,0a3.7,3.3 0 1,0 -7.4,0M580.1,1924.8a3.7,3.3 0 1,0 7.4,0a3.7,3.3 0 1,0 -7.4,0M571.8,1919.2a3.7,3.3 0 1,0 7.4,0a3.7,3.3 0 1,0 -7.4,0M583.6,1919.0a3.7,3.3 0 1,0 7.4,0a3.7,3.3 0 1,0 -7.4,0M552.3,1930.5a3.7,3.3 0 1,0 7.4,0a3.7,3.3 0 1,0 -7.4,0M606.4,1918.2a3.7,3.3 0 1,0 7.4,0a3.7,3.3 0 1,0 -7.4,0M534.2,1933.4a3.7,3.3 0 1,0 7.4,0a3.7,3.3 0 1,0 -7.4,0M548.9,1933.3a3.7,3.3 0 1,0 7.4,0a3.7,3.3 0 1,0 -7.4,0M551.1,1913.4a3.7,3.3 0 1,0 7.4,0a3.7,3.3 0 1,0 -7.4,0M608.1,1896.5a3.7,3.3 0 1,0 7.4,0a3.7,3.3 0 1,0 -7.4,0M574.8,1898.4a3.7,3.3 0 1,0 7.4,0a3.7,3.3 0 1,0 -7.4,0M534.6,1936.1a3.7,3.3 0 1,0 7.4,0a3.7,3.3 0 1,0 -7.4,0M597.5,1904.2a3.7,3.3 0 1,0 7.4,0a3.7,3.3 0 1,0 -7.4,0M604.0,1871.3a3.7,3.3 0 1,0 7.4,0a3.7,3.3 0 1,0 -7.4,0M600.5,1904.8a3.7,3.3 0 1,0 7.4,0a3.7,3.3 0 1,0 -7.4,0M580.4,1887.9a3.7,3.3 0 1,0 7.4,0a3.7,3.3 0 1,0 -7.4,0M593.0,1881.6a3.7,3.3 0 1,0 7.4,0a3.7,3.3 0 1,0 -7.4,0M594.8,1916.8a3.7,3.3 0 1,0 7.4,0a3.7,3.3 0 1,0 -7.4,0M557.8,1891.4a3.7,3.3 0 1,0 7.4,0a3.7,3.3 0 1,0 -7.4,0M598.6,1875.0a3.7,3.3 0 1,0 7.4,0a3.7,3.3 0 1,0 -7.4,0M590.5,1910.5a3.7,3.3 0 1,0 7.4,0a3.7,3.3 0 1,0 -7.4,0M596.0,1895.9a3.7,3.3 0 1,0 7.4,0a3.7,3.3 0 1,0 -7.4,0M592.2,1913.7a3.7,3.3 0 1,0 7.4,0a3.7,3.3 0 1,0 -7.4,0M578.5,1915.6a3.7,3.3 0 1,0 7.4,0a3.7,3.3 0 1,0 -7.4,0M610.8,1907.3a3.7,3.3 0 1,0 7.4,0a3.7,3.3 0 1,0 -7.4,0M591.5,1889.9a3.7,3.3 0 1,0 7.4,0a3.7,3.3 0 1,0 -7.4,0M554.1,1901.8a3.7,3.3 0 1,0 7.4,0a3.7,3.3 0 1,0 -7.4,0M595.3,1922.0a3.7,3.3 0 1,0 7.4,0a3.7,3.3 0 1,0 -7.4,0M608.9,1892.5a3.7,3.3 0 1,0 7.4,0a3.7,3.3 0 1,0 -7.4,0M590.1,1897.2a3.7,3.3 0 1,0 7.4,0a3.7,3.3 0 1,0 -7.4,0M539.0,1921.5a3.7,3.3 0 1,0 7.4,0a3.7,3.3 0 1,0 -7.4,0M565.5,1928.5a3.7,3.3 0 1,0 7.4,0a3.7,3.3 0 1,0 -7.4,0M571.9,1899.4a3.7,3.3 0 1,0 7.4,0a3.7,3.3 0 1,0 -7.4,0M571.7,1912.0a3.7,3.3 0 1,0 7.4,0a3.7,3.3 0 1,0 -7.4,0M598.5,1921.0a3.7,3.3 0 1,0 7.4,0a3.7,3.3 0 1,0 -7.4,0M599.3,1911.8a3.7,3.3 0 1,0 7.4,0a3.7,3.3 0 1,0 -7.4,0M564.4,1934.9a3.7,3.3 0 1,0 7.4,0a3.7,3.3 0 1,0 -7.4,0M553.6,1921.7a3.7,3.3 0 1,0 7.4,0a3.7,3.3 0 1,0 -7.4,0M608.9,1881.0a3.7,3.3 0 1,0 7.4,0a3.7,3.3 0 1,0 -7.4,0M572.8,1926.0a3.7,3.3 0 1,0 7.4,0a3.7,3.3 0 1,0 -7.4,0M606.1,1889.8a3.7,3.3 0 1,0 7.4,0a3.7,3.3 0 1,0 -7.4,0M577.2,1900.3a3.7,3.3 0 1,0 7.4,0a3.7,3.3 0 1,0 -7.4,0M564.6,1894.3a3.7,3.3 0 1,0 7.4,0a3.7,3.3 0 1,0 -7.4,0M534.8,1904.2a3.7,3.3 0 1,0 7.4,0a3.7,3.3 0 1,0 -7.4,0M571.1,1929.6a3.7,3.3 0 1,0 7.4,0a3.7,3.3 0 1,0 -7.4,0M609.0,1877.1a3.7,3.3 0 1,0 7.4,0a3.7,3.3 0 1,0 -7.4,0M574.2,1919.0a3.7,3.3 0 1,0 7.4,0a3.7,3.3 0 1,0 -7.4,0M550.9,1898.6a3.7,3.3 0 1,0 7.4,0a3.7,3.3 0 1,0 -7.4,0M572.8,1894.6a3.7,3.3 0 1,0 7.4,0a3.7,3.3 0 1,0 -7.4,0M547.8,1906.6a3.7,3.3 0 1,0 7.4,0a3.7,3.3 0 1,0 -7.4,0M587.8,1927.1a3.7,3.3 0 1,0 7.4,0a3.7,3.3 0 1,0 -7.4,0M550.0,1919.9a3.7,3.3 0 1,0 7.4,0a3.7,3.3 0 1,0 -7.4,0M556.1,1922.6a3.7,3.3 0 1,0 7.4,0a3.7,3.3 0 1,0 -7.4,0M571.4,1911.7a3.7,3.3 0 1,0 7.4,0a3.7,3.3 0 1,0 -7.4,0M588.7,1906.5a3.7,3.3 0 1,0 7.4,0a3.7,3.3 0 1,0 -7.4,0M584.4,1897.1a3.7,3.3 0 1,0 7.4,0a3.7,3.3 0 1,0 -7.4,0M556.0,1924.6a3.7,3.3 0 1,0 7.4,0a3.7,3.3 0 1,0 -7.4,0M599.3,1901.4a3.7,3.3 0 1,0 7.4,0a3.7,3.3 0 1,0 -7.4,0M566.2,1899.3a3.7,3.3 0 1,0 7.4,0a3.7,3.3 0 1,0 -7.4,0M555.4,1918.2a3.7,3.3 0 1,0 7.4,0a3.7,3.3 0 1,0 -7.4,0M580.4,1930.3a3.7,3.3 0 1,0 7.4,0a3.7,3.3 0 1,0 -7.4,0M532.3,1932.5a3.7,3.3 0 1,0 7.4,0a3.7,3.3 0 1,0 -7.4,0M532.6,1925.3a3.7,3.3 0 1,0 7.4,0a3.7,3.3 0 1,0 -7.4,0M597.8,1895.3a3.7,3.3 0 1,0 7.4,0a3.7,3.3 0 1,0 -7.4,0M590.7,1878.5a3.7,3.3 0 1,0 7.4,0a3.7,3.3 0 1,0 -7.4,0M582.5,1891.0a3.7,3.3 0 1,0 7.4,0a3.7,3.3 0 1,0 -7.4,0M582.9,1924.0a3.7,3.3 0 1,0 7.4,0a3.7,3.3 0 1,0 -7.4,0M567.3,1915.5a3.7,3.3 0 1,0 7.4,0a3.7,3.3 0 1,0 -7.4,0M566.8,1906.9a3.7,3.3 0 1,0 7.4,0a3.7,3.3 0 1,0 -7.4,0M605.9,1913.9a3.7,3.3 0 1,0 7.4,0a3.7,3.3 0 1,0 -7.4,0M572.1,1920.4a3.7,3.3 0 1,0 7.4,0a3.7,3.3 0 1,0 -7.4,0M613.4,1893.9a3.7,3.3 0 1,0 7.4,0a3.7,3.3 0 1,0 -7.4,0M580.2,1885.1a3.7,3.3 0 1,0 7.4,0a3.7,3.3 0 1,0 -7.4,0M558.4,1921.1a3.7,3.3 0 1,0 7.4,0a3.7,3.3 0 1,0 -7.4,0M577.0,1928.8a3.7,3.3 0 1,0 7.4,0a3.7,3.3 0 1,0 -7.4,0M601.1,1892.0a3.7,3.3 0 1,0 7.4,0a3.7,3.3 0 1,0 -7.4,0M561.0,1891.5a3.7,3.3 0 1,0 7.4,0a3.7,3.3 0 1,0 -7.4,0M553.7,1917.2a3.7,3.3 0 1,0 7.4,0a3.7,3.3 0 1,0 -7.4,0M558.0,1894.6a3.7,3.3 0 1,0 7.4,0a3.7,3.3 0 1,0 -7.4,0M607.0,1896.0a3.7,3.3 0 1,0 7.4,0a3.7,3.3 0 1,0 -7.4,0M580.3,1901.9a3.7,3.3 0 1,0 7.4,0a3.7,3.3 0 1,0 -7.4,0M538.4,1909.7a3.7,3.3 0 1,0 7.4,0a3.7,3.3 0 1,0 -7.4,0M597.0,1909.4a3.7,3.3 0 1,0 7.4,0a3.7,3.3 0 1,0 -7.4,0M565.2,1886.8a3.7,3.3 0 1,0 7.4,0a3.7,3.3 0 1,0 -7.4,0M564.7,1927.3a3.7,3.3 0 1,0 7.4,0a3.7,3.3 0 1,0 -7.4,0M599.2,1881.6a3.7,3.3 0 1,0 7.4,0a3.7,3.3 0 1,0 -7.4,0M602.3,1913.1a3.7,3.3 0 1,0 7.4,0a3.7,3.3 0 1,0 -7.4,0M573.1,1896.2a3.7,3.3 0 1,0 7.4,0a3.7,3.3 0 1,0 -7.4,0M595.8,1924.1a3.7,3.3 0 1,0 7.4,0a3.7,3.3 0 1,0 -7.4,0M539.8,1903.0a3.7,3.3 0 1,0 7.4,0a3.7,3.3 0 1,0 -7.4,0M604.4,1909.9a3.7,3.3 0 1,0 7.4,0a3.7,3.3 0 1,0 -7.4,0M607.9,1892.5a3.7,3.3 0 1,0 7.4,0a3.7,3.3 0 1,0 -7.4,0M612.9,1883.3a3.7,3.3 0 1,0 7.4,0a3.7,3.3 0 1,0 -7.4,0M597.8,1888.2a3.7,3.3 0 1,0 7.4,0a3.7,3.3 0 1,0 -7.4,0M607.2,1891.4a3.7,3.3 0 1,0 7.4,0a3.7,3.3 0 1,0 -7.4,0M584.3,1911.2a3.7,3.3 0 1,0 7.4,0a3.7,3.3 0 1,0 -7.4,0M566.1,1907.5a3.7,3.3 0 1,0 7.4,0a3.7,3.3 0 1,0 -7.4,0M585.6,1921.9a3.7,3.3 0 1,0 7.4,0a3.7,3.3 0 1,0 -7.4,0M606.1,1837.4a3.7,3.3 0 1,0 7.4,0a3.7,3.3 0 1,0 -7.4,0M593.5,1858.1a3.7,3.3 0 1,0 7.4,0a3.7,3.3 0 1,0 -7.4,0M596.2,1877.8a3.7,3.3 0 1,0 7.4,0a3.7,3.3 0 1,0 -7.4,0M607.5,1830.3a3.7,3.3 0 1,0 7.4,0a3.7,3.3 0 1,0 -7.4,0M625.5,1835.5a3.7,3.3 0 1,0 7.4,0a3.7,3.3 0 1,0 -7.4,0M596.6,1817.1a3.7,3.3 0 1,0 7.4,0a3.7,3.3 0 1,0 -7.4,0M602.9,1881.8a3.7,3.3 0 1,0 7.4,0a3.7,3.3 0 1,0 -7.4,0M582.7,1850.1a3.7,3.3 0 1,0 7.4,0a3.7,3.3 0 1,0 -7.4,0M606.5,1877.9a3.7,3.3 0 1,0 7.4,0a3.7,3.3 0 1,0 -7.4,0M597.9,1816.5a3.7,3.3 0 1,0 7.4,0a3.7,3.3 0 1,0 -7.4,0M611.4,1814.0a3.7,3.3 0 1,0 7.4,0a3.7,3.3 0 1,0 -7.4,0M623.3,1809.2a3.7,3.3 0 1,0 7.4,0a3.7,3.3 0 1,0 -7.4,0M608.8,1818.9a3.7,3.3 0 1,0 7.4,0a3.7,3.3 0 1,0 -7.4,0M620.3,1865.3a3.7,3.3 0 1,0 7.4,0a3.7,3.3 0 1,0 -7.4,0M599.6,1843.7a3.7,3.3 0 1,0 7.4,0a3.7,3.3 0 1,0 -7.4,0M605.7,1798.9a3.7,3.3 0 1,0 7.4,0a3.7,3.3 0 1,0 -7.4,0M614.6,1811.8a3.7,3.3 0 1,0 7.4,0a3.7,3.3 0 1,0 -7.4,0M585.4,1844.2a3.7,3.3 0 1,0 7.4,0a3.7,3.3 0 1,0 -7.4,0M590.0,1870.7a3.7,3.3 0 1,0 7.4,0a3.7,3.3 0 1,0 -7.4,0M586.3,1868.4a3.7,3.3 0 1,0 7.4,0a3.7,3.3 0 1,0 -7.4,0M607.4,1802.1a3.7,3.3 0 1,0 7.4,0a3.7,3.3 0 1,0 -7.4,0M597.6,1855.1a3.7,3.3 0 1,0 7.4,0a3.7,3.3 0 1,0 -7.4,0M638.0,1878.6a3.7,3.3 0 1,0 7.4,0a3.7,3.3 0 1,0 -7.4,0M588.9,1823.4a3.7,3.3 0 1,0 7.4,0a3.7,3.3 0 1,0 -7.4,0M611.6,1797.2a3.7,3.3 0 1,0 7.4,0a3.7,3.3 0 1,0 -7.4,0M589.9,1873.8a3.7,3.3 0 1,0 7.4,0a3.7,3.3 0 1,0 -7.4,0M590.9,1804.6a3.7,3.3 0 1,0 7.4,0a3.7,3.3 0 1,0 -7.4,0M595.3,1870.7a3.7,3.3 0 1,0 7.4,0a3.7,3.3 0 1,0 -7.4,0M634.3,1819.0a3.7,3.3 0 1,0 7.4,0a3.7,3.3 0 1,0 -7.4,0M608.0,1821.5a3.7,3.3 0 1,0 7.4,0a3.7,3.3 0 1,0 -7.4,0M626.9,1844.7a3.7,3.3 0 1,0 7.4,0a3.7,3.3 0 1,0 -7.4,0M579.5,1843.8a3.7,3.3 0 1,0 7.4,0a3.7,3.3 0 1,0 -7.4,0M612.3,1817.4a3.7,3.3 0 1,0 7.4,0a3.7,3.3 0 1,0 -7.4,0M611.3,1880.9a3.7,3.3 0 1,0 7.4,0a3.7,3.3 0 1,0 -7.4,0M591.1,1868.4a3.7,3.3 0 1,0 7.4,0a3.7,3.3 0 1,0 -7.4,0M593.0,1851.0a3.7,3.3 0 1,0 7.4,0a3.7,3.3 0 1,0 -7.4,0M625.5,1872.2a3.7,3.3 0 1,0 7.4,0a3.7,3.3 0 1,0 -7.4,0M608.2,1839.8a3.7,3.3 0 1,0 7.4,0a3.7,3.3 0 1,0 -7.4,0M596.9,1822.8a3.7,3.3 0 1,0 7.4,0a3.7,3.3 0 1,0 -7.4,0M604.0,1827.3a3.7,3.3 0 1,0 7.4,0a3.7,3.3 0 1,0 -7.4,0M608.3,1875.6a3.7,3.3 0 1,0 7.4,0a3.7,3.3 0 1,0 -7.4,0M596.8,1867.4a3.7,3.3 0 1,0 7.4,0a3.7,3.3 0 1,0 -7.4,0M588.2,1877.8a3.7,3.3 0 1,0 7.4,0a3.7,3.3 0 1,0 -7.4,0M615.6,1851.9a3.7,3.3 0 1,0 7.4,0a3.7,3.3 0 1,0 -7.4,0M582.4,1847.7a3.7,3.3 0 1,0 7.4,0a3.7,3.3 0 1,0 -7.4,0M591.5,1862.6a3.7,3.3 0 1,0 7.4,0a3.7,3.3 0 1,0 -7.4,0M632.2,1807.1a3.7,3.3 0 1,0 7.4,0a3.7,3.3 0 1,0 -7.4,0M606.8,1882.8a3.7,3.3 0 1,0 7.4,0a3.7,3.3 0 1,0 -7.4,0M579.5,1818.5a3.7,3.3 0 1,0 7.4,0a3.7,3.3 0 1,0 -7.4,0M620.6,1847.9a3.7,3.3 0 1,0 7.4,0a3.7,3.3 0 1,0 -7.4,0M621.9,1822.4a3.7,3.3 0 1,0 7.4,0a3.7,3.3 0 1,0 -7.4,0M640.2,1865.4a3.7,3.3 0 1,0 7.4,0a3.7,3.3 0 1,0 -7.4,0M614.5,1861.4a3.7,3.3 0 1,0 7.4,0a3.7,3.3 0 1,0 -7.4,0M581.6,1848.4a3.7,3.3 0 1,0 7.4,0a3.7,3.3 0 1,0 -7.4,0M600.5,1881.2a3.7,3.3 0 1,0 7.4,0a3.7,3.3 0 1,0 -7.4,0M622.4,1860.0a3.7,3.3 0 1,0 7.4,0a3.7,3.3 0 1,0 -7.4,0M626.4,1806.0a3.7,3.3 0 1,0 7.4,0a3.7,3.3 0 1,0 -7.4,0M599.0,1799.1a3.7,3.3 0 1,0 7.4,0a3.7,3.3 0 1,0 -7.4,0M606.4,1856.4a3.7,3.3 0 1,0 7.4,0a3.7,3.3 0 1,0 -7.4,0M628.3,1836.0a3.7,3.3 0 1,0 7.4,0a3.7,3.3 0 1,0 -7.4,0M588.5,1802.8a3.7,3.3 0 1,0 7.4,0a3.7,3.3 0 1,0 -7.4,0M624.2,1802.2a3.7,3.3 0 1,0 7.4,0a3.7,3.3 0 1,0 -7.4,0M614.7,1809.7a3.7,3.3 0 1,0 7.4,0a3.7,3.3 0 1,0 -7.4,0M638.4,1816.1a3.7,3.3 0 1,0 7.4,0a3.7,3.3 0 1,0 -7.4,0M613.9,1858.0a3.7,3.3 0 1,0 7.4,0a3.7,3.3 0 1,0 -7.4,0M606.6,1814.1a3.7,3.3 0 1,0 7.4,0a3.7,3.3 0 1,0 -7.4,0M632.4,1823.9a3.7,3.3 0 1,0 7.4,0a3.7,3.3 0 1,0 -7.4,0M585.5,1818.7a3.7,3.3 0 1,0 7.4,0a3.7,3.3 0 1,0 -7.4,0M630.4,1817.6a3.7,3.3 0 1,0 7.4,0a3.7,3.3 0 1,0 -7.4,0M637.5,1847.9a3.7,3.3 0 1,0 7.4,0a3.7,3.3 0 1,0 -7.4,0M585.0,1798.5a3.7,3.3 0 1,0 7.4,0a3.7,3.3 0 1,0 -7.4,0M583.9,1852.9a3.7,3.3 0 1,0 7.4,0a3.7,3.3 0 1,0 -7.4,0M564.0,1889.6a3.7,3.3 0 1,0 7.4,0a3.7,3.3 0 1,0 -7.4,0M573.3,1855.6a3.7,3.3 0 1,0 7.4,0a3.7,3.3 0 1,0 -7.4,0M561.0,1841.8a3.7,3.3 0 1,0 7.4,0a3.7,3.3 0 1,0 -7.4,0M568.7,1884.2a3.7,3.3 0 1,0 7.4,0a3.7,3.3 0 1,0 -7.4,0M560.0,1833.1a3.7,3.3 0 1,0 7.4,0a3.7,3.3 0 1,0 -7.4,0M559.2,1876.6a3.7,3.3 0 1,0 7.4,0a3.7,3.3 0 1,0 -7.4,0M557.6,1874.5a3.7,3.3 0 1,0 7.4,0a3.7,3.3 0 1,0 -7.4,0M560.5,1848.2a3.7,3.3 0 1,0 7.4,0a3.7,3.3 0 1,0 -7.4,0M575.6,1843.2a3.7,3.3 0 1,0 7.4,0a3.7,3.3 0 1,0 -7.4,0M564.7,1859.5a3.7,3.3 0 1,0 7.4,0a3.7,3.3 0 1,0 -7.4,0M560.9,1873.0a3.7,3.3 0 1,0 7.4,0a3.7,3.3 0 1,0 -7.4,0M559.5,1833.6a3.7,3.3 0 1,0 7.4,0a3.7,3.3 0 1,0 -7.4,0M563.8,1861.6a3.7,3.3 0 1,0 7.4,0a3.7,3.3 0 1,0 -7.4,0M540.7,1867.7a3.7,3.3 0 1,0 7.4,0a3.7,3.3 0 1,0 -7.4,0M566.5,1882.6a3.7,3.3 0 1,0 7.4,0a3.7,3.3 0 1,0 -7.4,0"/>
<line x1="253.7" y1="1728.1" x2="259.3" y2="1726.3" stroke="#aaa" stroke-width="0.9"/>
<text x="266.8" y="1720.2" font-family="'DejaVu Sans', Verdana, sans-serif" font-size="13.6" text-anchor="start" fill="#222">COL1A1</text>
<line x1="804.3" y1="1671.1" x2="809.9" y2="1669.3" stroke="#aaa" stroke-width="0.9"/>
<text x="817.4" y="1663.7" font-family="'DejaVu Sans', Verdana, sans-serif" font-size="13.6" text-anchor="start" fill="#222">ITGA5</text>
<line x1="710" y1="1687.4" x2="716.2" y2="1684.5" stroke="#aaa" stroke-width="0.9"/>
<text x="723.4" y="1679.9" font-family="'DejaVu Sans', Verdana, sans-serif" font-size="13.6" text-anchor="start" fill="#222">FN1</text>
<line x1="657.4" y1="1728.1" x2="663.5" y2="1725.8" stroke="#aaa" stroke-width="0.9"/>
<text x="671.0" y="1720.2" font-family="'DejaVu Sans', Verdana, sans-serif" font-size="13.6" text-anchor="start" fill="#222">CAV1</text>
<line x1="772.2" y1="1746.2" x2="777.9" y2="1744.4" stroke="#aaa" stroke-width="0.9"/>
<text x="785.5" y="1737.8" font-family="'DejaVu Sans', Verdana, sans-serif" font-size="13.6" text-anchor="start" fill="#222">COL4A1</text>
<text x="833.4" y="1751.0" font-family="'DejaVu Sans', Verdana, sans-serif" font-size="13.6" text-anchor="start" fill="#222">ECE1</text>
<text x="651.9" y="1781.4" font-family="'DejaVu Sans', Verdana, sans-serif" font-size="13.6" text-anchor="start" fill="#222">PSMA7</text>
<rect x="102.2" y="1512" width="776.2" height="453.2" fill="none" stroke="#555" stroke-width="1.4"/>
<line x1="205.8" y1="1965.2" x2="205.8" y2="1960.7" stroke="#555" stroke-width="1.2"/>
<text x="205.8" y="1978.1" font-family="'DejaVu Sans', Verdana, sans-serif" font-size="13.3" text-anchor="middle" fill="#222">−3.0</text>
<line x1="367.6" y1="1965.2" x2="367.6" y2="1960.7" stroke="#555" stroke-width="1.2"/>
<text x="367.6" y="1978.1" font-family="'DejaVu Sans', Verdana, sans-serif" font-size="13.3" text-anchor="middle" fill="#222">−1.5</text>
<line x1="529.5" y1="1965.2" x2="529.5" y2="1960.7" stroke="#555" stroke-width="1.2"/>
<text x="529.5" y="1978.1" font-family="'DejaVu Sans', Verdana, sans-serif" font-size="13.3" text-anchor="middle" fill="#222">0.0</text>
<line x1="691.4" y1="1965.2" x2="691.4" y2="1960.7" stroke="#555" stroke-width="1.2"/>
<text x="691.4" y="1978.1" font-family="'DejaVu Sans', Verdana, sans-serif" font-size="13.3" text-anchor="middle" fill="#222">1.5</text>
<line x1="853.2" y1="1965.2" x2="853.2" y2="1960.7" stroke="#555" stroke-width="1.2"/>
<text x="853.2" y="1978.1" font-family="'DejaVu Sans', Verdana, sans-serif" font-size="13.3" text-anchor="middle" fill="#222">3.0</text>
<line x1="102.2" y1="1941.4" x2="107.0" y2="1941.4" stroke="#555" stroke-width="1.2"/>
<text x="97.9" y="1946.4" font-family="'DejaVu Sans', Verdana, sans-serif" font-size="13.3" text-anchor="end" fill="#222">0.0</text>
<line x1="102.2" y1="1813.3" x2="107.0" y2="1813.3" stroke="#555" stroke-width="1.2"/>
<text x="97.9" y="1818.3" font-family="'DejaVu Sans', Verdana, sans-serif" font-size="13.3" text-anchor="end" fill="#222">1.5</text>
<line x1="102.2" y1="1685.2" x2="107.0" y2="1685.2" stroke="#555" stroke-width="1.2"/>
<text x="97.9" y="1690.2" font-family="'DejaVu Sans', Verdana, sans-serif" font-size="13.3" text-anchor="end" fill="#222">3.0</text>
<line x1="102.2" y1="1557.1" x2="107.0" y2="1557.1" stroke="#555" stroke-width="1.2"/>
<text x="97.9" y="1562.1" font-family="'DejaVu Sans', Verdana, sans-serif" font-size="13.3" text-anchor="end" fill="#222">4.5</text>
<text x="397.8" y="2013.6" font-family="'Liberation Sans', Arial, sans-serif" font-size="29.5" font-weight="bold" text-anchor="start" fill="#000" textLength="174.48" lengthAdjust="spacingAndGlyphs">Fold change</text>
<text transform="translate(55.8,1721.5) rotate(-90)" font-family="'Liberation Sans', Arial, sans-serif" font-size="29" font-weight="bold" text-anchor="middle" textLength="163" lengthAdjust="spacingAndGlyphs">-log <tspan font-style="italic">p</tspan>-value</text>
<rect x="992.5" y="1881.8" width="773.9" height="1.8" fill="#d6404f"/>
<path fill="#000" d="M1116.0,1625.1a3.7,3.3 0 1,0 7.4,0a3.7,3.3 0 1,0 -7.4,0M1060.0,1676.8a3.7,3.3 0 1,0 7.4,0a3.7,3.3 0 1,0 -7.4,0M1050.2,1698.1a3.7,3.3 0 1,0 7.4,0a3.7,3.3 0 1,0 -7.4,0M1199.9,1733.2a3.7,3.3 0 1,0 7.4,0a3.7,3.3 0 1,0 -7.4,0M1099.0,1739.8a3.7,3.3 0 1,0 7.4,0a3.7,3.3 0 1,0 -7.4,0M1132.9,1740.8a3.7,3.3 0 1,0 7.4,0a3.7,3.3 0 1,0 -7.4,0M1174.1,1742.9a3.7,3.3 0 1,0 7.4,0a3.7,3.3 0 1,0 -7.4,0M1136.8,1749.3a3.7,3.3 0 1,0 7.4,0a3.7,3.3 0 1,0 -7.4,0M1136.3,1754.2a3.7,3.3 0 1,0 7.4,0a3.7,3.3 0 1,0 -7.4,0M1171.9,1752.5a3.7,3.3 0 1,0 7.4,0a3.7,3.3 0 1,0 -7.4,0M1252.4,1755.3a3.7,3.3 0 1,0 7.4,0a3.7,3.3 0 1,0 -7.4,0M1262.9,1764.1a3.7,3.3 0 1,0 7.4,0a3.7,3.3 0 1,0 -7.4,0M1170.5,1764.1a3.7,3.3 0 1,0 7.4,0a3.7,3.3 0 1,0 -7.4,0M1148.2,1767.1a3.7,3.3 0 1,0 7.4,0a3.7,3.3 0 1,0 -7.4,0M1151.6,1770.8a3.7,3.3 0 1,0 7.4,0a3.7,3.3 0 1,0 -7.4,0M1115.6,1769.7a3.7,3.3 0 1,0 7.4,0a3.7,3.3 0 1,0 -7.4,0M1079.2,1772.5a3.7,3.3 0 1,0 7.4,0a3.7,3.3 0 1,0 -7.4,0M1052.7,1776.8a3.7,3.3 0 1,0 7.4,0a3.7,3.3 0 1,0 -7.4,0M1099.4,1780.2a3.7,3.3 0 1,0 7.4,0a3.7,3.3 0 1,0 -7.4,0M1130.7,1778.1a3.7,3.3 0 1,0 7.4,0a3.7,3.3 0 1,0 -7.4,0M1172.7,1777.6a3.7,3.3 0 1,0 7.4,0a3.7,3.3 0 1,0 -7.4,0M1269.0,1783.2a3.7,3.3 0 1,0 7.4,0a3.7,3.3 0 1,0 -7.4,0M1130.4,1789.8a3.7,3.3 0 1,0 7.4,0a3.7,3.3 0 1,0 -7.4,0M1058.0,1794.1a3.7,3.3 0 1,0 7.4,0a3.7,3.3 0 1,0 -7.4,0M1028.2,1800.2a3.7,3.3 0 1,0 7.4,0a3.7,3.3 0 1,0 -7.4,0M1084.9,1800.8a3.7,3.3 0 1,0 7.4,0a3.7,3.3 0 1,0 -7.4,0M1103.2,1801.0a3.7,3.3 0 1,0 7.4,0a3.7,3.3 0 1,0 -7.4,0M1178.7,1795.8a3.7,3.3 0 1,0 7.4,0a3.7,3.3 0 1,0 -7.4,0M1190.9,1798.5a3.7,3.3 0 1,0 7.4,0a3.7,3.3 0 1,0 -7.4,0M1208.3,1794.6a3.7,3.3 0 1,0 7.4,0a3.7,3.3 0 1,0 -7.4,0M1234.6,1790.7a3.7,3.3 0 1,0 7.4,0a3.7,3.3 0 1,0 -7.4,0M1243.1,1796.3a3.7,3.3 0 1,0 7.4,0a3.7,3.3 0 1,0 -7.4,0M1238.3,1800.0a3.7,3.3 0 1,0 7.4,0a3.7,3.3 0 1,0 -7.4,0M1251.6,1791.2a3.7,3.3 0 1,0 7.4,0a3.7,3.3 0 1,0 -7.4,0M1263.1,1799.7a3.7,3.3 0 1,0 7.4,0a3.7,3.3 0 1,0 -7.4,0M1238.5,1806.9a3.7,3.3 0 1,0 7.4,0a3.7,3.3 0 1,0 -7.4,0M1254.1,1809.3a3.7,3.3 0 1,0 7.4,0a3.7,3.3 0 1,0 -7.4,0M1257.1,1807.3a3.7,3.3 0 1,0 7.4,0a3.7,3.3 0 1,0 -7.4,0M1132.4,1812.4a3.7,3.3 0 1,0 7.4,0a3.7,3.3 0 1,0 -7.4,0M1164.8,1813.7a3.7,3.3 0 1,0 7.4,0a3.7,3.3 0 1,0 -7.4,0M1177.8,1811.0a3.7,3.3 0 1,0 7.4,0a3.7,3.3 0 1,0 -7.4,0M1173.2,1816.6a3.7,3.3 0 1,0 7.4,0a3.7,3.3 0 1,0 -7.4,0M1191.4,1818.3a3.7,3.3 0 1,0 7.4,0a3.7,3.3 0 1,0 -7.4,0M1209.7,1816.3a3.7,3.3 0 1,0 7.4,0a3.7,3.3 0 1,0 -7.4,0M1222.4,1813.6a3.7,3.3 0 1,0 7.4,0a3.7,3.3 0 1,0 -7.4,0M1124.4,1821.7a3.7,3.3 0 1,0 7.4,0a3.7,3.3 0 1,0 -7.4,0M1129.5,1823.9a3.7,3.3 0 1,0 7.4,0a3.7,3.3 0 1,0 -7.4,0M1134.1,1823.1a3.7,3.3 0 1,0 7.4,0a3.7,3.3 0 1,0 -7.4,0M1166.0,1821.2a3.7,3.3 0 1,0 7.4,0a3.7,3.3 0 1,0 -7.4,0M1186.8,1826.8a3.7,3.3 0 1,0 7.4,0a3.7,3.3 0 1,0 -7.4,0M1188.0,1831.0a3.7,3.3 0 1,0 7.4,0a3.7,3.3 0 1,0 -7.4,0M1236.0,1826.4a3.7,3.3 0 1,0 7.4,0a3.7,3.3 0 1,0 -7.4,0M1241.4,1828.1a3.7,3.3 0 1,0 7.4,0a3.7,3.3 0 1,0 -7.4,0M1232.6,1832.2a3.7,3.3 0 1,0 7.4,0a3.7,3.3 0 1,0 -7.4,0M1257.5,1831.0a3.7,3.3 0 1,0 7.4,0a3.7,3.3 0 1,0 -7.4,0M1265.1,1820.0a3.7,3.3 0 1,0 7.4,0a3.7,3.3 0 1,0 -7.4,0M1269.0,1821.2a3.7,3.3 0 1,0 7.4,0a3.7,3.3 0 1,0 -7.4,0M1278.7,1832.2a3.7,3.3 0 1,0 7.4,0a3.7,3.3 0 1,0 -7.4,0M1093.4,1838.1a3.7,3.3 0 1,0 7.4,0a3.7,3.3 0 1,0 -7.4,0M1101.6,1836.9a3.7,3.3 0 1,0 7.4,0a3.7,3.3 0 1,0 -7.4,0M1149.9,1836.1a3.7,3.3 0 1,0 7.4,0a3.7,3.3 0 1,0 -7.4,0M1156.3,1833.9a3.7,3.3 0 1,0 7.4,0a3.7,3.3 0 1,0 -7.4,0M1168.5,1836.1a3.7,3.3 0 1,0 7.4,0a3.7,3.3 0 1,0 -7.4,0M1178.7,1835.3a3.7,3.3 0 1,0 7.4,0a3.7,3.3 0 1,0 -7.4,0M1188.8,1835.3a3.7,3.3 0 1,0 7.4,0a3.7,3.3 0 1,0 -7.4,0M1207.1,1838.6a3.7,3.3 0 1,0 7.4,0a3.7,3.3 0 1,0 -7.4,0M1222.2,1833.6a3.7,3.3 0 1,0 7.4,0a3.7,3.3 0 1,0 -7.4,0M1221.9,1837.8a3.7,3.3 0 1,0 7.4,0a3.7,3.3 0 1,0 -7.4,0M1237.1,1839.5a3.7,3.3 0 1,0 7.4,0a3.7,3.3 0 1,0 -7.4,0M1244.8,1837.8a3.7,3.3 0 1,0 7.4,0a3.7,3.3 0 1,0 -7.4,0M1277.8,1837.8a3.7,3.3 0 1,0 7.4,0a3.7,3.3 0 1,0 -7.4,0M1093.4,1838.6a3.7,3.3 0 1,0 7.4,0a3.7,3.3 0 1,0 -7.4,0M1101.6,1837.3a3.7,3.3 0 1,0 7.4,0a3.7,3.3 0 1,0 -7.4,0M1037.7,1872.9a3.7,3.3 0 1,0 7.4,0a3.7,3.3 0 1,0 -7.4,0M1112.1,1863.6a3.7,3.3 0 1,0 7.4,0a3.7,3.3 0 1,0 -7.4,0M1110.0,1869.7a3.7,3.3 0 1,0 7.4,0a3.7,3.3 0 1,0 -7.4,0M1119.0,1873.1a3.7,3.3 0 1,0 7.4,0a3.7,3.3 0 1,0 -7.4,0M1128.7,1859.5a3.7,3.3 0 1,0 7.4,0a3.7,3.3 0 1,0 -7.4,0M1138.8,1853.4a3.7,3.3 0 1,0 7.4,0a3.7,3.3 0 1,0 -7.4,0M1144.3,1845.9a3.7,3.3 0 1,0 7.4,0a3.7,3.3 0 1,0 -7.4,0M1151.9,1856.9a3.7,3.3 0 1,0 7.4,0a3.7,3.3 0 1,0 -7.4,0M1146.1,1861.5a3.7,3.3 0 1,0 7.4,0a3.7,3.3 0 1,0 -7.4,0M1143.1,1867.8a3.7,3.3 0 1,0 7.4,0a3.7,3.3 0 1,0 -7.4,0M1160.0,1867.8a3.7,3.3 0 1,0 7.4,0a3.7,3.3 0 1,0 -7.4,0M1149.9,1836.6a3.7,3.3 0 1,0 7.4,0a3.7,3.3 0 1,0 -7.4,0M1151.6,1834.4a3.7,3.3 0 1,0 7.4,0a3.7,3.3 0 1,0 -7.4,0M1156.6,1833.6a3.7,3.3 0 1,0 7.4,0a3.7,3.3 0 1,0 -7.4,0M1157.8,1838.6a3.7,3.3 0 1,0 7.4,0a3.7,3.3 0 1,0 -7.4,0M1168.5,1836.4a3.7,3.3 0 1,0 7.4,0a3.7,3.3 0 1,0 -7.4,0M1179.0,1834.9a3.7,3.3 0 1,0 7.4,0a3.7,3.3 0 1,0 -7.4,0M1187.1,1826.8a3.7,3.3 0 1,0 7.4,0a3.7,3.3 0 1,0 -7.4,0M1188.8,1835.3a3.7,3.3 0 1,0 7.4,0a3.7,3.3 0 1,0 -7.4,0M1184.6,1841.2a3.7,3.3 0 1,0 7.4,0a3.7,3.3 0 1,0 -7.4,0M1193.9,1845.1a3.7,3.3 0 1,0 7.4,0a3.7,3.3 0 1,0 -7.4,0M1184.6,1851.4a3.7,3.3 0 1,0 7.4,0a3.7,3.3 0 1,0 -7.4,0M1188.0,1849.7a3.7,3.3 0 1,0 7.4,0a3.7,3.3 0 1,0 -7.4,0M1174.1,1853.1a3.7,3.3 0 1,0 7.4,0a3.7,3.3 0 1,0 -7.4,0M1175.3,1855.6a3.7,3.3 0 1,0 7.4,0a3.7,3.3 0 1,0 -7.4,0M1173.6,1866.6a3.7,3.3 0 1,0 7.4,0a3.7,3.3 0 1,0 -7.4,0M1176.1,1870.8a3.7,3.3 0 1,0 7.4,0a3.7,3.3 0 1,0 -7.4,0M1174.4,1872.5a3.7,3.3 0 1,0 7.4,0a3.7,3.3 0 1,0 -7.4,0M1182.9,1875.1a3.7,3.3 0 1,0 7.4,0a3.7,3.3 0 1,0 -7.4,0M1157.0,1875.9a3.7,3.3 0 1,0 7.4,0a3.7,3.3 0 1,0 -7.4,0M1149.9,1879.0a3.7,3.3 0 1,0 7.4,0a3.7,3.3 0 1,0 -7.4,0M1123.9,1881.0a3.7,3.3 0 1,0 7.4,0a3.7,3.3 0 1,0 -7.4,0M1130.4,1878.5a3.7,3.3 0 1,0 7.4,0a3.7,3.3 0 1,0 -7.4,0M1130.4,1884.1a3.7,3.3 0 1,0 7.4,0a3.7,3.3 0 1,0 -7.4,0M1108.7,1894.1a3.7,3.3 0 1,0 7.4,0a3.7,3.3 0 1,0 -7.4,0M1149.9,1898.3a3.7,3.3 0 1,0 7.4,0a3.7,3.3 0 1,0 -7.4,0M1152.4,1898.8a3.7,3.3 0 1,0 7.4,0a3.7,3.3 0 1,0 -7.4,0M1162.9,1899.3a3.7,3.3 0 1,0 7.4,0a3.7,3.3 0 1,0 -7.4,0M1169.7,1888.1a3.7,3.3 0 1,0 7.4,0a3.7,3.3 0 1,0 -7.4,0M1177.8,1889.8a3.7,3.3 0 1,0 7.4,0a3.7,3.3 0 1,0 -7.4,0M1183.8,1889.5a3.7,3.3 0 1,0 7.4,0a3.7,3.3 0 1,0 -7.4,0M1188.0,1886.1a3.7,3.3 0 1,0 7.4,0a3.7,3.3 0 1,0 -7.4,0M1180.4,1897.1a3.7,3.3 0 1,0 7.4,0a3.7,3.3 0 1,0 -7.4,0M1197.8,1914.1a3.7,3.3 0 1,0 7.4,0a3.7,3.3 0 1,0 -7.4,0M1170.5,1763.7a3.7,3.3 0 1,0 7.4,0a3.7,3.3 0 1,0 -7.4,0M1148.0,1766.8a3.7,3.3 0 1,0 7.4,0a3.7,3.3 0 1,0 -7.4,0M1151.4,1771.0a3.7,3.3 0 1,0 7.4,0a3.7,3.3 0 1,0 -7.4,0M1172.6,1777.5a3.7,3.3 0 1,0 7.4,0a3.7,3.3 0 1,0 -7.4,0M1262.9,1763.7a3.7,3.3 0 1,0 7.4,0a3.7,3.3 0 1,0 -7.4,0M1269.2,1783.2a3.7,3.3 0 1,0 7.4,0a3.7,3.3 0 1,0 -7.4,0M1234.4,1790.5a3.7,3.3 0 1,0 7.4,0a3.7,3.3 0 1,0 -7.4,0M1251.7,1791.0a3.7,3.3 0 1,0 7.4,0a3.7,3.3 0 1,0 -7.4,0M1242.6,1795.9a3.7,3.3 0 1,0 7.4,0a3.7,3.3 0 1,0 -7.4,0M1238.2,1800.2a3.7,3.3 0 1,0 7.4,0a3.7,3.3 0 1,0 -7.4,0M1263.2,1799.5a3.7,3.3 0 1,0 7.4,0a3.7,3.3 0 1,0 -7.4,0M1238.7,1806.9a3.7,3.3 0 1,0 7.4,0a3.7,3.3 0 1,0 -7.4,0M1254.3,1809.7a3.7,3.3 0 1,0 7.4,0a3.7,3.3 0 1,0 -7.4,0M1257.3,1806.6a3.7,3.3 0 1,0 7.4,0a3.7,3.3 0 1,0 -7.4,0M1290.7,1810.8a3.7,3.3 0 1,0 7.4,0a3.7,3.3 0 1,0 -7.4,0M1178.5,1795.6a3.7,3.3 0 1,0 7.4,0a3.7,3.3 0 1,0 -7.4,0M1190.7,1798.6a3.7,3.3 0 1,0 7.4,0a3.7,3.3 0 1,0 -7.4,0M1208.5,1794.7a3.7,3.3 0 1,0 7.4,0a3.7,3.3 0 1,0 -7.4,0M1164.9,1813.9a3.7,3.3 0 1,0 7.4,0a3.7,3.3 0 1,0 -7.4,0M1173.1,1815.9a3.7,3.3 0 1,0 7.4,0a3.7,3.3 0 1,0 -7.4,0M1166.3,1821.0a3.7,3.3 0 1,0 7.4,0a3.7,3.3 0 1,0 -7.4,0M1177.7,1810.8a3.7,3.3 0 1,0 7.4,0a3.7,3.3 0 1,0 -7.4,0M1191.2,1818.5a3.7,3.3 0 1,0 7.4,0a3.7,3.3 0 1,0 -7.4,0M1209.9,1816.3a3.7,3.3 0 1,0 7.4,0a3.7,3.3 0 1,0 -7.4,0M1222.6,1813.9a3.7,3.3 0 1,0 7.4,0a3.7,3.3 0 1,0 -7.4,0M1187.0,1826.4a3.7,3.3 0 1,0 7.4,0a3.7,3.3 0 1,0 -7.4,0M1187.8,1830.3a3.7,3.3 0 1,0 7.4,0a3.7,3.3 0 1,0 -7.4,0M1189.5,1834.6a3.7,3.3 0 1,0 7.4,0a3.7,3.3 0 1,0 -7.4,0M1168.3,1836.3a3.7,3.3 0 1,0 7.4,0a3.7,3.3 0 1,0 -7.4,0M1179.0,1834.6a3.7,3.3 0 1,0 7.4,0a3.7,3.3 0 1,0 -7.4,0M1185.3,1840.5a3.7,3.3 0 1,0 7.4,0a3.7,3.3 0 1,0 -7.4,0M1193.8,1844.7a3.7,3.3 0 1,0 7.4,0a3.7,3.3 0 1,0 -7.4,0M1185.8,1849.8a3.7,3.3 0 1,0 7.4,0a3.7,3.3 0 1,0 -7.4,0M1183.6,1851.5a3.7,3.3 0 1,0 7.4,0a3.7,3.3 0 1,0 -7.4,0M1174.3,1853.2a3.7,3.3 0 1,0 7.4,0a3.7,3.3 0 1,0 -7.4,0M1175.1,1855.8a3.7,3.3 0 1,0 7.4,0a3.7,3.3 0 1,0 -7.4,0M1152.2,1856.9a3.7,3.3 0 1,0 7.4,0a3.7,3.3 0 1,0 -7.4,0M1147.1,1861.7a3.7,3.3 0 1,0 7.4,0a3.7,3.3 0 1,0 -7.4,0M1159.9,1867.6a3.7,3.3 0 1,0 7.4,0a3.7,3.3 0 1,0 -7.4,0M1173.4,1865.9a3.7,3.3 0 1,0 7.4,0a3.7,3.3 0 1,0 -7.4,0M1176.0,1870.2a3.7,3.3 0 1,0 7.4,0a3.7,3.3 0 1,0 -7.4,0M1183.2,1875.3a3.7,3.3 0 1,0 7.4,0a3.7,3.3 0 1,0 -7.4,0M1156.5,1876.1a3.7,3.3 0 1,0 7.4,0a3.7,3.3 0 1,0 -7.4,0M1150.0,1878.6a3.7,3.3 0 1,0 7.4,0a3.7,3.3 0 1,0 -7.4,0M1149.7,1834.6a3.7,3.3 0 1,0 7.4,0a3.7,3.3 0 1,0 -7.4,0M1156.5,1833.7a3.7,3.3 0 1,0 7.4,0a3.7,3.3 0 1,0 -7.4,0M1157.3,1838.8a3.7,3.3 0 1,0 7.4,0a3.7,3.3 0 1,0 -7.4,0M1207.3,1838.8a3.7,3.3 0 1,0 7.4,0a3.7,3.3 0 1,0 -7.4,0M1222.6,1833.2a3.7,3.3 0 1,0 7.4,0a3.7,3.3 0 1,0 -7.4,0M1221.7,1838.0a3.7,3.3 0 1,0 7.4,0a3.7,3.3 0 1,0 -7.4,0M1232.7,1832.0a3.7,3.3 0 1,0 7.4,0a3.7,3.3 0 1,0 -7.4,0M1236.1,1826.1a3.7,3.3 0 1,0 7.4,0a3.7,3.3 0 1,0 -7.4,0M1241.2,1827.8a3.7,3.3 0 1,0 7.4,0a3.7,3.3 0 1,0 -7.4,0M1237.3,1839.7a3.7,3.3 0 1,0 7.4,0a3.7,3.3 0 1,0 -7.4,0M1244.6,1838.0a3.7,3.3 0 1,0 7.4,0a3.7,3.3 0 1,0 -7.4,0M1248.5,1843.1a3.7,3.3 0 1,0 7.4,0a3.7,3.3 0 1,0 -7.4,0M1254.1,1848.1a3.7,3.3 0 1,0 7.4,0a3.7,3.3 0 1,0 -7.4,0M1257.3,1831.2a3.7,3.3 0 1,0 7.4,0a3.7,3.3 0 1,0 -7.4,0M1268.3,1847.6a3.7,3.3 0 1,0 7.4,0a3.7,3.3 0 1,0 -7.4,0M1278.5,1832.0a3.7,3.3 0 1,0 7.4,0a3.7,3.3 0 1,0 -7.4,0M1278.2,1838.5a3.7,3.3 0 1,0 7.4,0a3.7,3.3 0 1,0 -7.4,0M1282.7,1855.3a3.7,3.3 0 1,0 7.4,0a3.7,3.3 0 1,0 -7.4,0M1294.3,1838.0a3.7,3.3 0 1,0 7.4,0a3.7,3.3 0 1,0 -7.4,0M1302.2,1841.0a3.7,3.3 0 1,0 7.4,0a3.7,3.3 0 1,0 -7.4,0M1291.6,1844.4a3.7,3.3 0 1,0 7.4,0a3.7,3.3 0 1,0 -7.4,0M1299.4,1846.4a3.7,3.3 0 1,0 7.4,0a3.7,3.3 0 1,0 -7.4,0M1300.5,1859.2a3.7,3.3 0 1,0 7.4,0a3.7,3.3 0 1,0 -7.4,0M1301.4,1863.4a3.7,3.3 0 1,0 7.4,0a3.7,3.3 0 1,0 -7.4,0M1314.9,1864.2a3.7,3.3 0 1,0 7.4,0a3.7,3.3 0 1,0 -7.4,0M1317.1,1876.6a3.7,3.3 0 1,0 7.4,0a3.7,3.3 0 1,0 -7.4,0M1349.7,1834.6a3.7,3.3 0 1,0 7.4,0a3.7,3.3 0 1,0 -7.4,0M1439.5,1810.0a3.7,3.3 0 1,0 7.4,0a3.7,3.3 0 1,0 -7.4,0M1441.2,1854.4a3.7,3.3 0 1,0 7.4,0a3.7,3.3 0 1,0 -7.4,0M1419.7,1848.6a3.7,3.3 0 1,0 7.4,0a3.7,3.3 0 1,0 -7.4,0M1413.8,1853.6a3.7,3.3 0 1,0 7.4,0a3.7,3.3 0 1,0 -7.4,0M1405.6,1858.0a3.7,3.3 0 1,0 7.4,0a3.7,3.3 0 1,0 -7.4,0M1408.2,1860.0a3.7,3.3 0 1,0 7.4,0a3.7,3.3 0 1,0 -7.4,0M1406.5,1871.0a3.7,3.3 0 1,0 7.4,0a3.7,3.3 0 1,0 -7.4,0M1404.8,1877.8a3.7,3.3 0 1,0 7.4,0a3.7,3.3 0 1,0 -7.4,0M1408.2,1876.1a3.7,3.3 0 1,0 7.4,0a3.7,3.3 0 1,0 -7.4,0M1426.0,1874.4a3.7,3.3 0 1,0 7.4,0a3.7,3.3 0 1,0 -7.4,0M1431.0,1871.0a3.7,3.3 0 1,0 7.4,0a3.7,3.3 0 1,0 -7.4,0M1439.2,1876.1a3.7,3.3 0 1,0 7.4,0a3.7,3.3 0 1,0 -7.4,0M1415.8,1887.1a3.7,3.3 0 1,0 7.4,0a3.7,3.3 0 1,0 -7.4,0M1420.9,1885.4a3.7,3.3 0 1,0 7.4,0a3.7,3.3 0 1,0 -7.4,0M1424.3,1892.2a3.7,3.3 0 1,0 7.4,0a3.7,3.3 0 1,0 -7.4,0M1428.5,1890.5a3.7,3.3 0 1,0 7.4,0a3.7,3.3 0 1,0 -7.4,0M1433.6,1883.7a3.7,3.3 0 1,0 7.4,0a3.7,3.3 0 1,0 -7.4,0M1441.2,1888.8a3.7,3.3 0 1,0 7.4,0a3.7,3.3 0 1,0 -7.4,0M1388.7,1890.5a3.7,3.3 0 1,0 7.4,0a3.7,3.3 0 1,0 -7.4,0M1398.0,1892.2a3.7,3.3 0 1,0 7.4,0a3.7,3.3 0 1,0 -7.4,0M1409.0,1895.6a3.7,3.3 0 1,0 7.4,0a3.7,3.3 0 1,0 -7.4,0M1397.1,1900.7a3.7,3.3 0 1,0 7.4,0a3.7,3.3 0 1,0 -7.4,0M1397.1,1903.2a3.7,3.3 0 1,0 7.4,0a3.7,3.3 0 1,0 -7.4,0M1385.3,1902.4a3.7,3.3 0 1,0 7.4,0a3.7,3.3 0 1,0 -7.4,0M1383.6,1909.2a3.7,3.3 0 1,0 7.4,0a3.7,3.3 0 1,0 -7.4,0M1429.4,1900.7a3.7,3.3 0 1,0 7.4,0a3.7,3.3 0 1,0 -7.4,0M1438.7,1905.8a3.7,3.3 0 1,0 7.4,0a3.7,3.3 0 1,0 -7.4,0M1414.1,1935.1a3.7,3.3 0 1,0 7.4,0a3.7,3.3 0 1,0 -7.4,0M1170.0,1888.0a3.7,3.3 0 1,0 7.4,0a3.7,3.3 0 1,0 -7.4,0M1177.7,1890.5a3.7,3.3 0 1,0 7.4,0a3.7,3.3 0 1,0 -7.4,0M1185.3,1889.7a3.7,3.3 0 1,0 7.4,0a3.7,3.3 0 1,0 -7.4,0M1180.2,1896.8a3.7,3.3 0 1,0 7.4,0a3.7,3.3 0 1,0 -7.4,0M1150.5,1898.6a3.7,3.3 0 1,0 7.4,0a3.7,3.3 0 1,0 -7.4,0M1162.9,1899.3a3.7,3.3 0 1,0 7.4,0a3.7,3.3 0 1,0 -7.4,0M1198.3,1913.9a3.7,3.3 0 1,0 7.4,0a3.7,3.3 0 1,0 -7.4,0M1218.8,1909.7a3.7,3.3 0 1,0 7.4,0a3.7,3.3 0 1,0 -7.4,0M1242.9,1910.8a3.7,3.3 0 1,0 7.4,0a3.7,3.3 0 1,0 -7.4,0M1251.4,1915.9a3.7,3.3 0 1,0 7.4,0a3.7,3.3 0 1,0 -7.4,0M1255.6,1919.3a3.7,3.3 0 1,0 7.4,0a3.7,3.3 0 1,0 -7.4,0M1273.4,1927.8a3.7,3.3 0 1,0 7.4,0a3.7,3.3 0 1,0 -7.4,0M1290.4,1926.9a3.7,3.3 0 1,0 7.4,0a3.7,3.3 0 1,0 -7.4,0M1332.7,1905.4a3.7,3.3 0 1,0 7.4,0a3.7,3.3 0 1,0 -7.4,0M1444.6,1931.2a3.7,3.3 0 1,0 7.4,0a3.7,3.3 0 1,0 -7.4,0M1723.4,1536.1a3.7,3.3 0 1,0 7.4,0a3.7,3.3 0 1,0 -7.4,0M1500.2,1621.5a3.7,3.3 0 1,0 7.4,0a3.7,3.3 0 1,0 -7.4,0M1605.6,1716.9a3.7,3.3 0 1,0 7.4,0a3.7,3.3 0 1,0 -7.4,0M1512.4,1724.0a3.7,3.3 0 1,0 7.4,0a3.7,3.3 0 1,0 -7.4,0M1535.7,1736.5a3.7,3.3 0 1,0 7.4,0a3.7,3.3 0 1,0 -7.4,0M1536.6,1746.8a3.7,3.3 0 1,0 7.4,0a3.7,3.3 0 1,0 -7.4,0M1536.6,1746.9a3.7,3.3 0 1,0 7.4,0a3.7,3.3 0 1,0 -7.4,0M1510.9,1762.7a3.7,3.3 0 1,0 7.4,0a3.7,3.3 0 1,0 -7.4,0M1547.0,1783.4a3.7,3.3 0 1,0 7.4,0a3.7,3.3 0 1,0 -7.4,0M1479.7,1786.6a3.7,3.3 0 1,0 7.4,0a3.7,3.3 0 1,0 -7.4,0M1509.6,1795.4a3.7,3.3 0 1,0 7.4,0a3.7,3.3 0 1,0 -7.4,0M1484.8,1800.6a3.7,3.3 0 1,0 7.4,0a3.7,3.3 0 1,0 -7.4,0M1449.7,1801.5a3.7,3.3 0 1,0 7.4,0a3.7,3.3 0 1,0 -7.4,0M1457.2,1804.9a3.7,3.3 0 1,0 7.4,0a3.7,3.3 0 1,0 -7.4,0M1439.7,1810.3a3.7,3.3 0 1,0 7.4,0a3.7,3.3 0 1,0 -7.4,0M1512.7,1809.9a3.7,3.3 0 1,0 7.4,0a3.7,3.3 0 1,0 -7.4,0M1489.8,1815.1a3.7,3.3 0 1,0 7.4,0a3.7,3.3 0 1,0 -7.4,0M1456.8,1827.6a3.7,3.3 0 1,0 7.4,0a3.7,3.3 0 1,0 -7.4,0M1469.5,1827.6a3.7,3.3 0 1,0 7.4,0a3.7,3.3 0 1,0 -7.4,0M1471.3,1834.1a3.7,3.3 0 1,0 7.4,0a3.7,3.3 0 1,0 -7.4,0M1490.7,1825.2a3.7,3.3 0 1,0 7.4,0a3.7,3.3 0 1,0 -7.4,0M1500.6,1831.7a3.7,3.3 0 1,0 7.4,0a3.7,3.3 0 1,0 -7.4,0M1520.2,1836.6a3.7,3.3 0 1,0 7.4,0a3.7,3.3 0 1,0 -7.4,0M1506.8,1844.0a3.7,3.3 0 1,0 7.4,0a3.7,3.3 0 1,0 -7.4,0M1516.8,1844.4a3.7,3.3 0 1,0 7.4,0a3.7,3.3 0 1,0 -7.4,0M1541.1,1847.2a3.7,3.3 0 1,0 7.4,0a3.7,3.3 0 1,0 -7.4,0M1536.0,1850.9a3.7,3.3 0 1,0 7.4,0a3.7,3.3 0 1,0 -7.4,0M1586.7,1842.5a3.7,3.3 0 1,0 7.4,0a3.7,3.3 0 1,0 -7.4,0M1578.9,1852.8a3.7,3.3 0 1,0 7.4,0a3.7,3.3 0 1,0 -7.4,0M1648.8,1813.1a3.7,3.3 0 1,0 7.4,0a3.7,3.3 0 1,0 -7.4,0M1611.2,1828.0a3.7,3.3 0 1,0 7.4,0a3.7,3.3 0 1,0 -7.4,0M1610.1,1836.4a3.7,3.3 0 1,0 7.4,0a3.7,3.3 0 1,0 -7.4,0M1441.3,1854.7a3.7,3.3 0 1,0 7.4,0a3.7,3.3 0 1,0 -7.4,0M1452.7,1851.9a3.7,3.3 0 1,0 7.4,0a3.7,3.3 0 1,0 -7.4,0M1460.2,1858.4a3.7,3.3 0 1,0 7.4,0a3.7,3.3 0 1,0 -7.4,0M1489.8,1861.2a3.7,3.3 0 1,0 7.4,0a3.7,3.3 0 1,0 -7.4,0M1524.3,1859.3a3.7,3.3 0 1,0 7.4,0a3.7,3.3 0 1,0 -7.4,0M1549.1,1866.2a3.7,3.3 0 1,0 7.4,0a3.7,3.3 0 1,0 -7.4,0M1597.0,1876.7a3.7,3.3 0 1,0 7.4,0a3.7,3.3 0 1,0 -7.4,0M1439.1,1876.1a3.7,3.3 0 1,0 7.4,0a3.7,3.3 0 1,0 -7.4,0M1451.2,1878.3a3.7,3.3 0 1,0 7.4,0a3.7,3.3 0 1,0 -7.4,0M1456.8,1876.1a3.7,3.3 0 1,0 7.4,0a3.7,3.3 0 1,0 -7.4,0M1460.5,1878.9a3.7,3.3 0 1,0 7.4,0a3.7,3.3 0 1,0 -7.4,0M1468.9,1878.0a3.7,3.3 0 1,0 7.4,0a3.7,3.3 0 1,0 -7.4,0M1471.7,1879.8a3.7,3.3 0 1,0 7.4,0a3.7,3.3 0 1,0 -7.4,0M1495.0,1873.9a3.7,3.3 0 1,0 7.4,0a3.7,3.3 0 1,0 -7.4,0M1492.8,1878.9a3.7,3.3 0 1,0 7.4,0a3.7,3.3 0 1,0 -7.4,0M1500.2,1877.6a3.7,3.3 0 1,0 7.4,0a3.7,3.3 0 1,0 -7.4,0M1460.5,1882.6a3.7,3.3 0 1,0 7.4,0a3.7,3.3 0 1,0 -7.4,0M1441.0,1888.6a3.7,3.3 0 1,0 7.4,0a3.7,3.3 0 1,0 -7.4,0M1445.6,1889.5a3.7,3.3 0 1,0 7.4,0a3.7,3.3 0 1,0 -7.4,0M1463.9,1890.1a3.7,3.3 0 1,0 7.4,0a3.7,3.3 0 1,0 -7.4,0M1447.5,1899.4a3.7,3.3 0 1,0 7.4,0a3.7,3.3 0 1,0 -7.4,0M1447.9,1904.1a3.7,3.3 0 1,0 7.4,0a3.7,3.3 0 1,0 -7.4,0M1439.1,1905.5a3.7,3.3 0 1,0 7.4,0a3.7,3.3 0 1,0 -7.4,0M1438.2,1910.6a3.7,3.3 0 1,0 7.4,0a3.7,3.3 0 1,0 -7.4,0M1462.8,1905.0a3.7,3.3 0 1,0 7.4,0a3.7,3.3 0 1,0 -7.4,0M1443.4,1915.2a3.7,3.3 0 1,0 7.4,0a3.7,3.3 0 1,0 -7.4,0M1443.8,1922.7a3.7,3.3 0 1,0 7.4,0a3.7,3.3 0 1,0 -7.4,0M1438.2,1923.6a3.7,3.3 0 1,0 7.4,0a3.7,3.3 0 1,0 -7.4,0M1448.4,1931.5a3.7,3.3 0 1,0 7.4,0a3.7,3.3 0 1,0 -7.4,0M1525.4,1909.3a3.7,3.3 0 1,0 7.4,0a3.7,3.3 0 1,0 -7.4,0M1422.8,1745.5a3.7,3.3 0 1,0 7.4,0a3.7,3.3 0 1,0 -7.4,0M1286.7,1880.2a3.7,3.3 0 1,0 7.4,0a3.7,3.3 0 1,0 -7.4,0M1229.1,1861.0a3.7,3.3 0 1,0 7.4,0a3.7,3.3 0 1,0 -7.4,0M1243.6,1857.7a3.7,3.3 0 1,0 7.4,0a3.7,3.3 0 1,0 -7.4,0M1244.7,1858.4a3.7,3.3 0 1,0 7.4,0a3.7,3.3 0 1,0 -7.4,0M1273.9,1885.7a3.7,3.3 0 1,0 7.4,0a3.7,3.3 0 1,0 -7.4,0M1286.5,1890.5a3.7,3.3 0 1,0 7.4,0a3.7,3.3 0 1,0 -7.4,0M1296.5,1892.0a3.7,3.3 0 1,0 7.4,0a3.7,3.3 0 1,0 -7.4,0M1231.4,1901.6a3.7,3.3 0 1,0 7.4,0a3.7,3.3 0 1,0 -7.4,0M1197.9,1871.4a3.7,3.3 0 1,0 7.4,0a3.7,3.3 0 1,0 -7.4,0M1217.3,1875.4a3.7,3.3 0 1,0 7.4,0a3.7,3.3 0 1,0 -7.4,0M1223.5,1854.1a3.7,3.3 0 1,0 7.4,0a3.7,3.3 0 1,0 -7.4,0M1217.0,1883.2a3.7,3.3 0 1,0 7.4,0a3.7,3.3 0 1,0 -7.4,0M1216.2,1902.4a3.7,3.3 0 1,0 7.4,0a3.7,3.3 0 1,0 -7.4,0M1211.2,1853.6a3.7,3.3 0 1,0 7.4,0a3.7,3.3 0 1,0 -7.4,0M1201.2,1878.9a3.7,3.3 0 1,0 7.4,0a3.7,3.3 0 1,0 -7.4,0M1220.9,1873.3a3.7,3.3 0 1,0 7.4,0a3.7,3.3 0 1,0 -7.4,0M1236.3,1898.5a3.7,3.3 0 1,0 7.4,0a3.7,3.3 0 1,0 -7.4,0M1211.4,1889.2a3.7,3.3 0 1,0 7.4,0a3.7,3.3 0 1,0 -7.4,0M1222.8,1863.1a3.7,3.3 0 1,0 7.4,0a3.7,3.3 0 1,0 -7.4,0M1250.5,1887.8a3.7,3.3 0 1,0 7.4,0a3.7,3.3 0 1,0 -7.4,0M1214.4,1900.9a3.7,3.3 0 1,0 7.4,0a3.7,3.3 0 1,0 -7.4,0M1300.4,1878.7a3.7,3.3 0 1,0 7.4,0a3.7,3.3 0 1,0 -7.4,0M1281.8,1886.4a3.7,3.3 0 1,0 7.4,0a3.7,3.3 0 1,0 -7.4,0M1228.4,1857.2a3.7,3.3 0 1,0 7.4,0a3.7,3.3 0 1,0 -7.4,0M1237.1,1862.3a3.7,3.3 0 1,0 7.4,0a3.7,3.3 0 1,0 -7.4,0M1248.3,1863.3a3.7,3.3 0 1,0 7.4,0a3.7,3.3 0 1,0 -7.4,0M1244.0,1872.5a3.7,3.3 0 1,0 7.4,0a3.7,3.3 0 1,0 -7.4,0M1216.2,1900.7a3.7,3.3 0 1,0 7.4,0a3.7,3.3 0 1,0 -7.4,0M1232.8,1847.1a3.7,3.3 0 1,0 7.4,0a3.7,3.3 0 1,0 -7.4,0M1270.9,1877.0a3.7,3.3 0 1,0 7.4,0a3.7,3.3 0 1,0 -7.4,0M1259.4,1877.9a3.7,3.3 0 1,0 7.4,0a3.7,3.3 0 1,0 -7.4,0M1279.2,1878.9a3.7,3.3 0 1,0 7.4,0a3.7,3.3 0 1,0 -7.4,0M1283.2,1884.0a3.7,3.3 0 1,0 7.4,0a3.7,3.3 0 1,0 -7.4,0M1209.4,1868.0a3.7,3.3 0 1,0 7.4,0a3.7,3.3 0 1,0 -7.4,0M1221.3,1866.3a3.7,3.3 0 1,0 7.4,0a3.7,3.3 0 1,0 -7.4,0M1256.9,1873.7a3.7,3.3 0 1,0 7.4,0a3.7,3.3 0 1,0 -7.4,0M1211.7,1865.5a3.7,3.3 0 1,0 7.4,0a3.7,3.3 0 1,0 -7.4,0M1228.8,1897.8a3.7,3.3 0 1,0 7.4,0a3.7,3.3 0 1,0 -7.4,0M1271.7,1882.8a3.7,3.3 0 1,0 7.4,0a3.7,3.3 0 1,0 -7.4,0M1233.6,1903.0a3.7,3.3 0 1,0 7.4,0a3.7,3.3 0 1,0 -7.4,0M1212.1,1901.0a3.7,3.3 0 1,0 7.4,0a3.7,3.3 0 1,0 -7.4,0M1253.7,1859.9a3.7,3.3 0 1,0 7.4,0a3.7,3.3 0 1,0 -7.4,0M1246.0,1876.9a3.7,3.3 0 1,0 7.4,0a3.7,3.3 0 1,0 -7.4,0M1233.0,1855.2a3.7,3.3 0 1,0 7.4,0a3.7,3.3 0 1,0 -7.4,0M1231.8,1847.1a3.7,3.3 0 1,0 7.4,0a3.7,3.3 0 1,0 -7.4,0M1237.5,1898.5a3.7,3.3 0 1,0 7.4,0a3.7,3.3 0 1,0 -7.4,0M1207.4,1873.9a3.7,3.3 0 1,0 7.4,0a3.7,3.3 0 1,0 -7.4,0M1201.8,1887.5a3.7,3.3 0 1,0 7.4,0a3.7,3.3 0 1,0 -7.4,0M1249.4,1901.2a3.7,3.3 0 1,0 7.4,0a3.7,3.3 0 1,0 -7.4,0M1267.3,1897.2a3.7,3.3 0 1,0 7.4,0a3.7,3.3 0 1,0 -7.4,0M1259.1,1862.0a3.7,3.3 0 1,0 7.4,0a3.7,3.3 0 1,0 -7.4,0M1229.1,1848.7a3.7,3.3 0 1,0 7.4,0a3.7,3.3 0 1,0 -7.4,0M1230.2,1891.3a3.7,3.3 0 1,0 7.4,0a3.7,3.3 0 1,0 -7.4,0M1248.1,1896.7a3.7,3.3 0 1,0 7.4,0a3.7,3.3 0 1,0 -7.4,0M1244.2,1868.0a3.7,3.3 0 1,0 7.4,0a3.7,3.3 0 1,0 -7.4,0M1217.6,1872.3a3.7,3.3 0 1,0 7.4,0a3.7,3.3 0 1,0 -7.4,0M1238.6,1878.0a3.7,3.3 0 1,0 7.4,0a3.7,3.3 0 1,0 -7.4,0M1240.2,1888.0a3.7,3.3 0 1,0 7.4,0a3.7,3.3 0 1,0 -7.4,0M1263.9,1863.4a3.7,3.3 0 1,0 7.4,0a3.7,3.3 0 1,0 -7.4,0M1260.5,1885.9a3.7,3.3 0 1,0 7.4,0a3.7,3.3 0 1,0 -7.4,0M1230.8,1900.6a3.7,3.3 0 1,0 7.4,0a3.7,3.3 0 1,0 -7.4,0M1239.3,1870.1a3.7,3.3 0 1,0 7.4,0a3.7,3.3 0 1,0 -7.4,0M1246.8,1890.4a3.7,3.3 0 1,0 7.4,0a3.7,3.3 0 1,0 -7.4,0M1299.7,1881.8a3.7,3.3 0 1,0 7.4,0a3.7,3.3 0 1,0 -7.4,0M1216.2,1857.7a3.7,3.3 0 1,0 7.4,0a3.7,3.3 0 1,0 -7.4,0M1292.7,1875.7a3.7,3.3 0 1,0 7.4,0a3.7,3.3 0 1,0 -7.4,0M1239.5,1871.3a3.7,3.3 0 1,0 7.4,0a3.7,3.3 0 1,0 -7.4,0M1247.9,1884.8a3.7,3.3 0 1,0 7.4,0a3.7,3.3 0 1,0 -7.4,0M1218.8,1903.7a3.7,3.3 0 1,0 7.4,0a3.7,3.3 0 1,0 -7.4,0M1246.8,1877.3a3.7,3.3 0 1,0 7.4,0a3.7,3.3 0 1,0 -7.4,0M1201.4,1872.7a3.7,3.3 0 1,0 7.4,0a3.7,3.3 0 1,0 -7.4,0M1267.9,1868.8a3.7,3.3 0 1,0 7.4,0a3.7,3.3 0 1,0 -7.4,0M1264.5,1879.2a3.7,3.3 0 1,0 7.4,0a3.7,3.3 0 1,0 -7.4,0M1201.3,1891.3a3.7,3.3 0 1,0 7.4,0a3.7,3.3 0 1,0 -7.4,0M1260.3,1884.5a3.7,3.3 0 1,0 7.4,0a3.7,3.3 0 1,0 -7.4,0M1243.0,1863.0a3.7,3.3 0 1,0 7.4,0a3.7,3.3 0 1,0 -7.4,0M1234.4,1854.2a3.7,3.3 0 1,0 7.4,0a3.7,3.3 0 1,0 -7.4,0M1235.6,1869.7a3.7,3.3 0 1,0 7.4,0a3.7,3.3 0 1,0 -7.4,0M1198.2,1862.8a3.7,3.3 0 1,0 7.4,0a3.7,3.3 0 1,0 -7.4,0M1228.9,1848.3a3.7,3.3 0 1,0 7.4,0a3.7,3.3 0 1,0 -7.4,0M1262.0,1871.5a3.7,3.3 0 1,0 7.4,0a3.7,3.3 0 1,0 -7.4,0M1211.8,1884.4a3.7,3.3 0 1,0 7.4,0a3.7,3.3 0 1,0 -7.4,0M1225.3,1864.2a3.7,3.3 0 1,0 7.4,0a3.7,3.3 0 1,0 -7.4,0M1229.1,1890.3a3.7,3.3 0 1,0 7.4,0a3.7,3.3 0 1,0 -7.4,0M1200.4,1890.0a3.7,3.3 0 1,0 7.4,0a3.7,3.3 0 1,0 -7.4,0M1252.6,1869.4a3.7,3.3 0 1,0 7.4,0a3.7,3.3 0 1,0 -7.4,0M1253.3,1895.8a3.7,3.3 0 1,0 7.4,0a3.7,3.3 0 1,0 -7.4,0M1288.7,1881.6a3.7,3.3 0 1,0 7.4,0a3.7,3.3 0 1,0 -7.4,0M1233.0,1895.4a3.7,3.3 0 1,0 7.4,0a3.7,3.3 0 1,0 -7.4,0M1234.1,1887.6a3.7,3.3 0 1,0 7.4,0a3.7,3.3 0 1,0 -7.4,0M1213.9,1872.8a3.7,3.3 0 1,0 7.4,0a3.7,3.3 0 1,0 -7.4,0M1288.4,1885.7a3.7,3.3 0 1,0 7.4,0a3.7,3.3 0 1,0 -7.4,0M1248.7,1878.7a3.7,3.3 0 1,0 7.4,0a3.7,3.3 0 1,0 -7.4,0M1205.4,1860.6a3.7,3.3 0 1,0 7.4,0a3.7,3.3 0 1,0 -7.4,0M1245.8,1869.5a3.7,3.3 0 1,0 7.4,0a3.7,3.3 0 1,0 -7.4,0M1209.0,1874.4a3.7,3.3 0 1,0 7.4,0a3.7,3.3 0 1,0 -7.4,0M1254.5,1858.7a3.7,3.3 0 1,0 7.4,0a3.7,3.3 0 1,0 -7.4,0M1196.9,1868.4a3.7,3.3 0 1,0 7.4,0a3.7,3.3 0 1,0 -7.4,0M1207.1,1894.3a3.7,3.3 0 1,0 7.4,0a3.7,3.3 0 1,0 -7.4,0M1265.0,1884.1a3.7,3.3 0 1,0 7.4,0a3.7,3.3 0 1,0 -7.4,0M1215.2,1858.9a3.7,3.3 0 1,0 7.4,0a3.7,3.3 0 1,0 -7.4,0M1221.8,1865.0a3.7,3.3 0 1,0 7.4,0a3.7,3.3 0 1,0 -7.4,0M1227.9,1872.9a3.7,3.3 0 1,0 7.4,0a3.7,3.3 0 1,0 -7.4,0M1225.5,1849.6a3.7,3.3 0 1,0 7.4,0a3.7,3.3 0 1,0 -7.4,0M1208.2,1878.9a3.7,3.3 0 1,0 7.4,0a3.7,3.3 0 1,0 -7.4,0M1248.1,1881.2a3.7,3.3 0 1,0 7.4,0a3.7,3.3 0 1,0 -7.4,0M1271.2,1888.4a3.7,3.3 0 1,0 7.4,0a3.7,3.3 0 1,0 -7.4,0M1288.1,1893.7a3.7,3.3 0 1,0 7.4,0a3.7,3.3 0 1,0 -7.4,0M1265.8,1866.8a3.7,3.3 0 1,0 7.4,0a3.7,3.3 0 1,0 -7.4,0M1281.2,1888.2a3.7,3.3 0 1,0 7.4,0a3.7,3.3 0 1,0 -7.4,0M1200.2,1890.5a3.7,3.3 0 1,0 7.4,0a3.7,3.3 0 1,0 -7.4,0M1282.5,1926.6a3.7,3.3 0 1,0 7.4,0a3.7,3.3 0 1,0 -7.4,0M1321.2,1926.7a3.7,3.3 0 1,0 7.4,0a3.7,3.3 0 1,0 -7.4,0M1294.9,1900.5a3.7,3.3 0 1,0 7.4,0a3.7,3.3 0 1,0 -7.4,0M1292.4,1928.0a3.7,3.3 0 1,0 7.4,0a3.7,3.3 0 1,0 -7.4,0M1276.6,1908.7a3.7,3.3 0 1,0 7.4,0a3.7,3.3 0 1,0 -7.4,0M1289.3,1898.1a3.7,3.3 0 1,0 7.4,0a3.7,3.3 0 1,0 -7.4,0M1275.5,1901.4a3.7,3.3 0 1,0 7.4,0a3.7,3.3 0 1,0 -7.4,0M1311.6,1920.2a3.7,3.3 0 1,0 7.4,0a3.7,3.3 0 1,0 -7.4,0M1290.4,1914.7a3.7,3.3 0 1,0 7.4,0a3.7,3.3 0 1,0 -7.4,0M1301.4,1909.2a3.7,3.3 0 1,0 7.4,0a3.7,3.3 0 1,0 -7.4,0M1266.9,1920.0a3.7,3.3 0 1,0 7.4,0a3.7,3.3 0 1,0 -7.4,0M1277.4,1909.9a3.7,3.3 0 1,0 7.4,0a3.7,3.3 0 1,0 -7.4,0M1293.7,1911.1a3.7,3.3 0 1,0 7.4,0a3.7,3.3 0 1,0 -7.4,0M1293.6,1925.2a3.7,3.3 0 1,0 7.4,0a3.7,3.3 0 1,0 -7.4,0M1268.5,1922.1a3.7,3.3 0 1,0 7.4,0a3.7,3.3 0 1,0 -7.4,0M1317.3,1915.1a3.7,3.3 0 1,0 7.4,0a3.7,3.3 0 1,0 -7.4,0M1338.9,1936.1a3.7,3.3 0 1,0 7.4,0a3.7,3.3 0 1,0 -7.4,0M1282.2,1903.1a3.7,3.3 0 1,0 7.4,0a3.7,3.3 0 1,0 -7.4,0M1321.3,1934.4a3.7,3.3 0 1,0 7.4,0a3.7,3.3 0 1,0 -7.4,0M1305.8,1916.1a3.7,3.3 0 1,0 7.4,0a3.7,3.3 0 1,0 -7.4,0M1277.6,1904.6a3.7,3.3 0 1,0 7.4,0a3.7,3.3 0 1,0 -7.4,0M1272.2,1902.5a3.7,3.3 0 1,0 7.4,0a3.7,3.3 0 1,0 -7.4,0M1322.9,1915.7a3.7,3.3 0 1,0 7.4,0a3.7,3.3 0 1,0 -7.4,0M1307.5,1911.8a3.7,3.3 0 1,0 7.4,0a3.7,3.3 0 1,0 -7.4,0M1285.2,1897.6a3.7,3.3 0 1,0 7.4,0a3.7,3.3 0 1,0 -7.4,0M1273.7,1907.9a3.7,3.3 0 1,0 7.4,0a3.7,3.3 0 1,0 -7.4,0M1282.4,1927.6a3.7,3.3 0 1,0 7.4,0a3.7,3.3 0 1,0 -7.4,0M1308.3,1913.7a3.7,3.3 0 1,0 7.4,0a3.7,3.3 0 1,0 -7.4,0M1302.1,1926.6a3.7,3.3 0 1,0 7.4,0a3.7,3.3 0 1,0 -7.4,0M1262.9,1913.2a3.7,3.3 0 1,0 7.4,0a3.7,3.3 0 1,0 -7.4,0M1291.5,1917.6a3.7,3.3 0 1,0 7.4,0a3.7,3.3 0 1,0 -7.4,0M1348.0,1932.5a3.7,3.3 0 1,0 7.4,0a3.7,3.3 0 1,0 -7.4,0M1322.8,1926.0a3.7,3.3 0 1,0 7.4,0a3.7,3.3 0 1,0 -7.4,0M1287.2,1917.6a3.7,3.3 0 1,0 7.4,0a3.7,3.3 0 1,0 -7.4,0M1306.7,1917.1a3.7,3.3 0 1,0 7.4,0a3.7,3.3 0 1,0 -7.4,0M1323.5,1917.9a3.7,3.3 0 1,0 7.4,0a3.7,3.3 0 1,0 -7.4,0M1275.4,1898.0a3.7,3.3 0 1,0 7.4,0a3.7,3.3 0 1,0 -7.4,0M1334.4,1937.2a3.7,3.3 0 1,0 7.4,0a3.7,3.3 0 1,0 -7.4,0M1293.1,1900.4a3.7,3.3 0 1,0 7.4,0a3.7,3.3 0 1,0 -7.4,0M1308.3,1916.3a3.7,3.3 0 1,0 7.4,0a3.7,3.3 0 1,0 -7.4,0M1283.0,1922.8a3.7,3.3 0 1,0 7.4,0a3.7,3.3 0 1,0 -7.4,0M1289.8,1908.1a3.7,3.3 0 1,0 7.4,0a3.7,3.3 0 1,0 -7.4,0M1308.5,1915.7a3.7,3.3 0 1,0 7.4,0a3.7,3.3 0 1,0 -7.4,0M1282.3,1909.8a3.7,3.3 0 1,0 7.4,0a3.7,3.3 0 1,0 -7.4,0M1333.3,1924.4a3.7,3.3 0 1,0 7.4,0a3.7,3.3 0 1,0 -7.4,0M1291.2,1912.4a3.7,3.3 0 1,0 7.4,0a3.7,3.3 0 1,0 -7.4,0M1351.8,1939.5a3.7,3.3 0 1,0 7.4,0a3.7,3.3 0 1,0 -7.4,0M1267.2,1904.6a3.7,3.3 0 1,0 7.4,0a3.7,3.3 0 1,0 -7.4,0M1289.5,1904.3a3.7,3.3 0 1,0 7.4,0a3.7,3.3 0 1,0 -7.4,0M1284.1,1916.6a3.7,3.3 0 1,0 7.4,0a3.7,3.3 0 1,0 -7.4,0M1298.1,1919.7a3.7,3.3 0 1,0 7.4,0a3.7,3.3 0 1,0 -7.4,0M1314.5,1915.8a3.7,3.3 0 1,0 7.4,0a3.7,3.3 0 1,0 -7.4,0M1283.5,1923.7a3.7,3.3 0 1,0 7.4,0a3.7,3.3 0 1,0 -7.4,0M1307.9,1925.2a3.7,3.3 0 1,0 7.4,0a3.7,3.3 0 1,0 -7.4,0M1338.2,1934.0a3.7,3.3 0 1,0 7.4,0a3.7,3.3 0 1,0 -7.4,0M1328.0,1919.5a3.7,3.3 0 1,0 7.4,0a3.7,3.3 0 1,0 -7.4,0M1283.7,1914.8a3.7,3.3 0 1,0 7.4,0a3.7,3.3 0 1,0 -7.4,0M1284.6,1912.5a3.7,3.3 0 1,0 7.4,0a3.7,3.3 0 1,0 -7.4,0M1345.7,1933.1a3.7,3.3 0 1,0 7.4,0a3.7,3.3 0 1,0 -7.4,0M1265.1,1903.0a3.7,3.3 0 1,0 7.4,0a3.7,3.3 0 1,0 -7.4,0M1331.1,1935.1a3.7,3.3 0 1,0 7.4,0a3.7,3.3 0 1,0 -7.4,0M1315.5,1924.9a3.7,3.3 0 1,0 7.4,0a3.7,3.3 0 1,0 -7.4,0M1321.4,1929.9a3.7,3.3 0 1,0 7.4,0a3.7,3.3 0 1,0 -7.4,0M1267.1,1909.0a3.7,3.3 0 1,0 7.4,0a3.7,3.3 0 1,0 -7.4,0M1278.8,1910.7a3.7,3.3 0 1,0 7.4,0a3.7,3.3 0 1,0 -7.4,0M1317.4,1929.3a3.7,3.3 0 1,0 7.4,0a3.7,3.3 0 1,0 -7.4,0M1347.4,1932.1a3.7,3.3 0 1,0 7.4,0a3.7,3.3 0 1,0 -7.4,0M1334.1,1935.8a3.7,3.3 0 1,0 7.4,0a3.7,3.3 0 1,0 -7.4,0M1277.9,1926.1a3.7,3.3 0 1,0 7.4,0a3.7,3.3 0 1,0 -7.4,0M1296.5,1915.3a3.7,3.3 0 1,0 7.4,0a3.7,3.3 0 1,0 -7.4,0M1283.4,1916.8a3.7,3.3 0 1,0 7.4,0a3.7,3.3 0 1,0 -7.4,0M1334.8,1926.3a3.7,3.3 0 1,0 7.4,0a3.7,3.3 0 1,0 -7.4,0M1311.5,1923.1a3.7,3.3 0 1,0 7.4,0a3.7,3.3 0 1,0 -7.4,0M1301.6,1906.6a3.7,3.3 0 1,0 7.4,0a3.7,3.3 0 1,0 -7.4,0M1278.5,1909.4a3.7,3.3 0 1,0 7.4,0a3.7,3.3 0 1,0 -7.4,0M1327.5,1919.6a3.7,3.3 0 1,0 7.4,0a3.7,3.3 0 1,0 -7.4,0M1270.6,1900.9a3.7,3.3 0 1,0 7.4,0a3.7,3.3 0 1,0 -7.4,0M1267.6,1918.4a3.7,3.3 0 1,0 7.4,0a3.7,3.3 0 1,0 -7.4,0M1350.2,1933.8a3.7,3.3 0 1,0 7.4,0a3.7,3.3 0 1,0 -7.4,0M1305.2,1926.6a3.7,3.3 0 1,0 7.4,0a3.7,3.3 0 1,0 -7.4,0M1289.7,1922.8a3.7,3.3 0 1,0 7.4,0a3.7,3.3 0 1,0 -7.4,0M1260.7,1906.5a3.7,3.3 0 1,0 7.4,0a3.7,3.3 0 1,0 -7.4,0M1266.9,1904.5a3.7,3.3 0 1,0 7.4,0a3.7,3.3 0 1,0 -7.4,0M1276.6,1921.4a3.7,3.3 0 1,0 7.4,0a3.7,3.3 0 1,0 -7.4,0M1310.8,1918.1a3.7,3.3 0 1,0 7.4,0a3.7,3.3 0 1,0 -7.4,0M1294.3,1922.3a3.7,3.3 0 1,0 7.4,0a3.7,3.3 0 1,0 -7.4,0M1266.0,1912.1a3.7,3.3 0 1,0 7.4,0a3.7,3.3 0 1,0 -7.4,0M1270.2,1913.0a3.7,3.3 0 1,0 7.4,0a3.7,3.3 0 1,0 -7.4,0M1264.4,1915.4a3.7,3.3 0 1,0 7.4,0a3.7,3.3 0 1,0 -7.4,0M1305.7,1914.2a3.7,3.3 0 1,0 7.4,0a3.7,3.3 0 1,0 -7.4,0M1259.3,1912.2a3.7,3.3 0 1,0 7.4,0a3.7,3.3 0 1,0 -7.4,0M1300.7,1902.4a3.7,3.3 0 1,0 7.4,0a3.7,3.3 0 1,0 -7.4,0M1283.2,1926.7a3.7,3.3 0 1,0 7.4,0a3.7,3.3 0 1,0 -7.4,0M1299.3,1903.2a3.7,3.3 0 1,0 7.4,0a3.7,3.3 0 1,0 -7.4,0M1266.7,1912.5a3.7,3.3 0 1,0 7.4,0a3.7,3.3 0 1,0 -7.4,0M1290.8,1906.0a3.7,3.3 0 1,0 7.4,0a3.7,3.3 0 1,0 -7.4,0M1282.1,1908.6a3.7,3.3 0 1,0 7.4,0a3.7,3.3 0 1,0 -7.4,0M1316.1,1930.3a3.7,3.3 0 1,0 7.4,0a3.7,3.3 0 1,0 -7.4,0M1266.8,1899.2a3.7,3.3 0 1,0 7.4,0a3.7,3.3 0 1,0 -7.4,0M1339.1,1935.9a3.7,3.3 0 1,0 7.4,0a3.7,3.3 0 1,0 -7.4,0M1324.6,1929.7a3.7,3.3 0 1,0 7.4,0a3.7,3.3 0 1,0 -7.4,0M1294.8,1905.4a3.7,3.3 0 1,0 7.4,0a3.7,3.3 0 1,0 -7.4,0M1310.9,1913.9a3.7,3.3 0 1,0 7.4,0a3.7,3.3 0 1,0 -7.4,0M1266.8,1907.5a3.7,3.3 0 1,0 7.4,0a3.7,3.3 0 1,0 -7.4,0M1292.8,1925.7a3.7,3.3 0 1,0 7.4,0a3.7,3.3 0 1,0 -7.4,0M1263.8,1904.2a3.7,3.3 0 1,0 7.4,0a3.7,3.3 0 1,0 -7.4,0M1300.5,1925.1a3.7,3.3 0 1,0 7.4,0a3.7,3.3 0 1,0 -7.4,0M1277.5,1899.7a3.7,3.3 0 1,0 7.4,0a3.7,3.3 0 1,0 -7.4,0M1282.5,1905.9a3.7,3.3 0 1,0 7.4,0a3.7,3.3 0 1,0 -7.4,0M1343.3,1937.0a3.7,3.3 0 1,0 7.4,0a3.7,3.3 0 1,0 -7.4,0M1305.2,1909.6a3.7,3.3 0 1,0 7.4,0a3.7,3.3 0 1,0 -7.4,0M1292.4,1903.9a3.7,3.3 0 1,0 7.4,0a3.7,3.3 0 1,0 -7.4,0M1328.8,1933.5a3.7,3.3 0 1,0 7.4,0a3.7,3.3 0 1,0 -7.4,0M1268.4,1901.7a3.7,3.3 0 1,0 7.4,0a3.7,3.3 0 1,0 -7.4,0M1332.3,1933.0a3.7,3.3 0 1,0 7.4,0a3.7,3.3 0 1,0 -7.4,0M1301.6,1928.5a3.7,3.3 0 1,0 7.4,0a3.7,3.3 0 1,0 -7.4,0M1283.6,1920.1a3.7,3.3 0 1,0 7.4,0a3.7,3.3 0 1,0 -7.4,0M1320.7,1929.5a3.7,3.3 0 1,0 7.4,0a3.7,3.3 0 1,0 -7.4,0M1343.0,1929.4a3.7,3.3 0 1,0 7.4,0a3.7,3.3 0 1,0 -7.4,0M1335.6,1930.9a3.7,3.3 0 1,0 7.4,0a3.7,3.3 0 1,0 -7.4,0M1266.9,1904.1a3.7,3.3 0 1,0 7.4,0a3.7,3.3 0 1,0 -7.4,0M1316.3,1918.3a3.7,3.3 0 1,0 7.4,0a3.7,3.3 0 1,0 -7.4,0M1306.4,1930.8a3.7,3.3 0 1,0 7.4,0a3.7,3.3 0 1,0 -7.4,0M1329.9,1928.6a3.7,3.3 0 1,0 7.4,0a3.7,3.3 0 1,0 -7.4,0M1299.3,1901.4a3.7,3.3 0 1,0 7.4,0a3.7,3.3 0 1,0 -7.4,0M1270.0,1898.3a3.7,3.3 0 1,0 7.4,0a3.7,3.3 0 1,0 -7.4,0M1313.0,1909.1a3.7,3.3 0 1,0 7.4,0a3.7,3.3 0 1,0 -7.4,0M1321.1,1924.8a3.7,3.3 0 1,0 7.4,0a3.7,3.3 0 1,0 -7.4,0M1307.3,1919.3a3.7,3.3 0 1,0 7.4,0a3.7,3.3 0 1,0 -7.4,0M1320.1,1926.3a3.7,3.3 0 1,0 7.4,0a3.7,3.3 0 1,0 -7.4,0M1304.4,1923.4a3.7,3.3 0 1,0 7.4,0a3.7,3.3 0 1,0 -7.4,0M1341.9,1937.0a3.7,3.3 0 1,0 7.4,0a3.7,3.3 0 1,0 -7.4,0M1340.2,1927.5a3.7,3.3 0 1,0 7.4,0a3.7,3.3 0 1,0 -7.4,0M1300.2,1908.8a3.7,3.3 0 1,0 7.4,0a3.7,3.3 0 1,0 -7.4,0M1277.4,1902.0a3.7,3.3 0 1,0 7.4,0a3.7,3.3 0 1,0 -7.4,0M1311.8,1924.1a3.7,3.3 0 1,0 7.4,0a3.7,3.3 0 1,0 -7.4,0M1306.5,1916.1a3.7,3.3 0 1,0 7.4,0a3.7,3.3 0 1,0 -7.4,0M1299.3,1927.2a3.7,3.3 0 1,0 7.4,0a3.7,3.3 0 1,0 -7.4,0M1304.2,1902.5a3.7,3.3 0 1,0 7.4,0a3.7,3.3 0 1,0 -7.4,0M1261.7,1909.6a3.7,3.3 0 1,0 7.4,0a3.7,3.3 0 1,0 -7.4,0M1319.5,1930.7a3.7,3.3 0 1,0 7.4,0a3.7,3.3 0 1,0 -7.4,0M1307.7,1910.2a3.7,3.3 0 1,0 7.4,0a3.7,3.3 0 1,0 -7.4,0M1281.9,1911.0a3.7,3.3 0 1,0 7.4,0a3.7,3.3 0 1,0 -7.4,0M1335.3,1927.9a3.7,3.3 0 1,0 7.4,0a3.7,3.3 0 1,0 -7.4,0M1334.7,1933.6a3.7,3.3 0 1,0 7.4,0a3.7,3.3 0 1,0 -7.4,0M1320.7,1933.8a3.7,3.3 0 1,0 7.4,0a3.7,3.3 0 1,0 -7.4,0M1334.4,1923.7a3.7,3.3 0 1,0 7.4,0a3.7,3.3 0 1,0 -7.4,0M1270.4,1900.8a3.7,3.3 0 1,0 7.4,0a3.7,3.3 0 1,0 -7.4,0M1278.4,1925.7a3.7,3.3 0 1,0 7.4,0a3.7,3.3 0 1,0 -7.4,0M1338.8,1926.5a3.7,3.3 0 1,0 7.4,0a3.7,3.3 0 1,0 -7.4,0M1279.2,1905.5a3.7,3.3 0 1,0 7.4,0a3.7,3.3 0 1,0 -7.4,0M1260.9,1914.7a3.7,3.3 0 1,0 7.4,0a3.7,3.3 0 1,0 -7.4,0M1257.6,1915.2a3.7,3.3 0 1,0 7.4,0a3.7,3.3 0 1,0 -7.4,0M1294.3,1907.9a3.7,3.3 0 1,0 7.4,0a3.7,3.3 0 1,0 -7.4,0M1312.9,1923.2a3.7,3.3 0 1,0 7.4,0a3.7,3.3 0 1,0 -7.4,0M1298.2,1908.0a3.7,3.3 0 1,0 7.4,0a3.7,3.3 0 1,0 -7.4,0M1312.4,1919.8a3.7,3.3 0 1,0 7.4,0a3.7,3.3 0 1,0 -7.4,0M1276.9,1909.2a3.7,3.3 0 1,0 7.4,0a3.7,3.3 0 1,0 -7.4,0M1278.4,1896.9a3.7,3.3 0 1,0 7.4,0a3.7,3.3 0 1,0 -7.4,0M1309.9,1915.0a3.7,3.3 0 1,0 7.4,0a3.7,3.3 0 1,0 -7.4,0M1311.8,1929.1a3.7,3.3 0 1,0 7.4,0a3.7,3.3 0 1,0 -7.4,0M1327.5,1925.4a3.7,3.3 0 1,0 7.4,0a3.7,3.3 0 1,0 -7.4,0M1271.8,1898.4a3.7,3.3 0 1,0 7.4,0a3.7,3.3 0 1,0 -7.4,0M1275.0,1921.8a3.7,3.3 0 1,0 7.4,0a3.7,3.3 0 1,0 -7.4,0M1282.9,1925.1a3.7,3.3 0 1,0 7.4,0a3.7,3.3 0 1,0 -7.4,0M1308.9,1920.1a3.7,3.3 0 1,0 7.4,0a3.7,3.3 0 1,0 -7.4,0M1309.9,1916.6a3.7,3.3 0 1,0 7.4,0a3.7,3.3 0 1,0 -7.4,0M1286.0,1920.1a3.7,3.3 0 1,0 7.4,0a3.7,3.3 0 1,0 -7.4,0M1334.0,1922.7a3.7,3.3 0 1,0 7.4,0a3.7,3.3 0 1,0 -7.4,0M1288.2,1913.1a3.7,3.3 0 1,0 7.4,0a3.7,3.3 0 1,0 -7.4,0M1297.5,1926.2a3.7,3.3 0 1,0 7.4,0a3.7,3.3 0 1,0 -7.4,0M1303.0,1916.2a3.7,3.3 0 1,0 7.4,0a3.7,3.3 0 1,0 -7.4,0M1308.6,1918.9a3.7,3.3 0 1,0 7.4,0a3.7,3.3 0 1,0 -7.4,0M1269.7,1903.0a3.7,3.3 0 1,0 7.4,0a3.7,3.3 0 1,0 -7.4,0M1270.8,1915.3a3.7,3.3 0 1,0 7.4,0a3.7,3.3 0 1,0 -7.4,0M1278.6,1922.3a3.7,3.3 0 1,0 7.4,0a3.7,3.3 0 1,0 -7.4,0M1312.2,1921.7a3.7,3.3 0 1,0 7.4,0a3.7,3.3 0 1,0 -7.4,0M1281.1,1890.4a3.7,3.3 0 1,0 7.4,0a3.7,3.3 0 1,0 -7.4,0M1316.8,1924.3a3.7,3.3 0 1,0 7.4,0a3.7,3.3 0 1,0 -7.4,0M1220.3,1857.9a3.7,3.3 0 1,0 7.4,0a3.7,3.3 0 1,0 -7.4,0M1316.7,1914.6a3.7,3.3 0 1,0 7.4,0a3.7,3.3 0 1,0 -7.4,0M1211.8,1884.1a3.7,3.3 0 1,0 7.4,0a3.7,3.3 0 1,0 -7.4,0M1295.2,1899.2a3.7,3.3 0 1,0 7.4,0a3.7,3.3 0 1,0 -7.4,0M1202.7,1861.6a3.7,3.3 0 1,0 7.4,0a3.7,3.3 0 1,0 -7.4,0M1292.8,1913.3a3.7,3.3 0 1,0 7.4,0a3.7,3.3 0 1,0 -7.4,0M1329.8,1931.0a3.7,3.3 0 1,0 7.4,0a3.7,3.3 0 1,0 -7.4,0M1302.9,1903.8a3.7,3.3 0 1,0 7.4,0a3.7,3.3 0 1,0 -7.4,0M1308.1,1928.7a3.7,3.3 0 1,0 7.4,0a3.7,3.3 0 1,0 -7.4,0M1291.4,1918.7a3.7,3.3 0 1,0 7.4,0a3.7,3.3 0 1,0 -7.4,0M1244.1,1854.4a3.7,3.3 0 1,0 7.4,0a3.7,3.3 0 1,0 -7.4,0M1285.0,1917.2a3.7,3.3 0 1,0 7.4,0a3.7,3.3 0 1,0 -7.4,0M1235.2,1866.1a3.7,3.3 0 1,0 7.4,0a3.7,3.3 0 1,0 -7.4,0M1335.4,1916.3a3.7,3.3 0 1,0 7.4,0a3.7,3.3 0 1,0 -7.4,0M1277.8,1906.0a3.7,3.3 0 1,0 7.4,0a3.7,3.3 0 1,0 -7.4,0M1209.6,1862.2a3.7,3.3 0 1,0 7.4,0a3.7,3.3 0 1,0 -7.4,0M1269.2,1900.5a3.7,3.3 0 1,0 7.4,0a3.7,3.3 0 1,0 -7.4,0M1255.2,1867.1a3.7,3.3 0 1,0 7.4,0a3.7,3.3 0 1,0 -7.4,0M1284.3,1884.9a3.7,3.3 0 1,0 7.4,0a3.7,3.3 0 1,0 -7.4,0M1317.4,1910.1a3.7,3.3 0 1,0 7.4,0a3.7,3.3 0 1,0 -7.4,0M1262.8,1913.7a3.7,3.3 0 1,0 7.4,0a3.7,3.3 0 1,0 -7.4,0M1264.2,1902.0a3.7,3.3 0 1,0 7.4,0a3.7,3.3 0 1,0 -7.4,0M1331.8,1925.2a3.7,3.3 0 1,0 7.4,0a3.7,3.3 0 1,0 -7.4,0M1333.7,1917.9a3.7,3.3 0 1,0 7.4,0a3.7,3.3 0 1,0 -7.4,0M1310.4,1923.4a3.7,3.3 0 1,0 7.4,0a3.7,3.3 0 1,0 -7.4,0M1205.0,1872.9a3.7,3.3 0 1,0 7.4,0a3.7,3.3 0 1,0 -7.4,0M1254.3,1894.1a3.7,3.3 0 1,0 7.4,0a3.7,3.3 0 1,0 -7.4,0M1209.4,1850.8a3.7,3.3 0 1,0 7.4,0a3.7,3.3 0 1,0 -7.4,0M1221.4,1851.3a3.7,3.3 0 1,0 7.4,0a3.7,3.3 0 1,0 -7.4,0M1279.2,1894.3a3.7,3.3 0 1,0 7.4,0a3.7,3.3 0 1,0 -7.4,0M1286.9,1910.8a3.7,3.3 0 1,0 7.4,0a3.7,3.3 0 1,0 -7.4,0M1215.3,1856.5a3.7,3.3 0 1,0 7.4,0a3.7,3.3 0 1,0 -7.4,0M1206.3,1892.3a3.7,3.3 0 1,0 7.4,0a3.7,3.3 0 1,0 -7.4,0M1320.0,1923.1a3.7,3.3 0 1,0 7.4,0a3.7,3.3 0 1,0 -7.4,0M1227.6,1887.6a3.7,3.3 0 1,0 7.4,0a3.7,3.3 0 1,0 -7.4,0M1245.0,1898.9a3.7,3.3 0 1,0 7.4,0a3.7,3.3 0 1,0 -7.4,0M1317.7,1931.2a3.7,3.3 0 1,0 7.4,0a3.7,3.3 0 1,0 -7.4,0M1303.9,1915.4a3.7,3.3 0 1,0 7.4,0a3.7,3.3 0 1,0 -7.4,0M1302.9,1904.5a3.7,3.3 0 1,0 7.4,0a3.7,3.3 0 1,0 -7.4,0M1275.1,1911.6a3.7,3.3 0 1,0 7.4,0a3.7,3.3 0 1,0 -7.4,0M1285.5,1884.6a3.7,3.3 0 1,0 7.4,0a3.7,3.3 0 1,0 -7.4,0M1290.7,1919.6a3.7,3.3 0 1,0 7.4,0a3.7,3.3 0 1,0 -7.4,0M1247.9,1863.5a3.7,3.3 0 1,0 7.4,0a3.7,3.3 0 1,0 -7.4,0M1216.7,1858.1a3.7,3.3 0 1,0 7.4,0a3.7,3.3 0 1,0 -7.4,0M1226.2,1875.5a3.7,3.3 0 1,0 7.4,0a3.7,3.3 0 1,0 -7.4,0M1318.5,1918.5a3.7,3.3 0 1,0 7.4,0a3.7,3.3 0 1,0 -7.4,0M1254.7,1892.9a3.7,3.3 0 1,0 7.4,0a3.7,3.3 0 1,0 -7.4,0M1303.3,1897.9a3.7,3.3 0 1,0 7.4,0a3.7,3.3 0 1,0 -7.4,0M1334.5,1919.7a3.7,3.3 0 1,0 7.4,0a3.7,3.3 0 1,0 -7.4,0M1227.4,1896.3a3.7,3.3 0 1,0 7.4,0a3.7,3.3 0 1,0 -7.4,0M1310.8,1909.1a3.7,3.3 0 1,0 7.4,0a3.7,3.3 0 1,0 -7.4,0M1300.5,1917.2a3.7,3.3 0 1,0 7.4,0a3.7,3.3 0 1,0 -7.4,0M1249.9,1859.4a3.7,3.3 0 1,0 7.4,0a3.7,3.3 0 1,0 -7.4,0M1271.4,1872.8a3.7,3.3 0 1,0 7.4,0a3.7,3.3 0 1,0 -7.4,0M1228.0,1888.5a3.7,3.3 0 1,0 7.4,0a3.7,3.3 0 1,0 -7.4,0M1216.6,1883.7a3.7,3.3 0 1,0 7.4,0a3.7,3.3 0 1,0 -7.4,0M1304.2,1928.5a3.7,3.3 0 1,0 7.4,0a3.7,3.3 0 1,0 -7.4,0M1300.3,1911.8a3.7,3.3 0 1,0 7.4,0a3.7,3.3 0 1,0 -7.4,0M1236.7,1868.8a3.7,3.3 0 1,0 7.4,0a3.7,3.3 0 1,0 -7.4,0M1226.3,1847.1a3.7,3.3 0 1,0 7.4,0a3.7,3.3 0 1,0 -7.4,0M1273.7,1907.4a3.7,3.3 0 1,0 7.4,0a3.7,3.3 0 1,0 -7.4,0M1221.4,1849.4a3.7,3.3 0 1,0 7.4,0a3.7,3.3 0 1,0 -7.4,0M1264.1,1886.0a3.7,3.3 0 1,0 7.4,0a3.7,3.3 0 1,0 -7.4,0M1333.6,1931.4a3.7,3.3 0 1,0 7.4,0a3.7,3.3 0 1,0 -7.4,0M1300.7,1908.8a3.7,3.3 0 1,0 7.4,0a3.7,3.3 0 1,0 -7.4,0M1233.5,1906.8a3.7,3.3 0 1,0 7.4,0a3.7,3.3 0 1,0 -7.4,0M1211.7,1888.5a3.7,3.3 0 1,0 7.4,0a3.7,3.3 0 1,0 -7.4,0M1289.9,1919.2a3.7,3.3 0 1,0 7.4,0a3.7,3.3 0 1,0 -7.4,0M1225.1,1872.1a3.7,3.3 0 1,0 7.4,0a3.7,3.3 0 1,0 -7.4,0M1231.3,1854.5a3.7,3.3 0 1,0 7.4,0a3.7,3.3 0 1,0 -7.4,0M1229.0,1891.0a3.7,3.3 0 1,0 7.4,0a3.7,3.3 0 1,0 -7.4,0M1208.9,1880.5a3.7,3.3 0 1,0 7.4,0a3.7,3.3 0 1,0 -7.4,0M1266.6,1899.4a3.7,3.3 0 1,0 7.4,0a3.7,3.3 0 1,0 -7.4,0M1277.5,1874.8a3.7,3.3 0 1,0 7.4,0a3.7,3.3 0 1,0 -7.4,0M1221.2,1871.5a3.7,3.3 0 1,0 7.4,0a3.7,3.3 0 1,0 -7.4,0M1258.9,1900.4a3.7,3.3 0 1,0 7.4,0a3.7,3.3 0 1,0 -7.4,0M1268.3,1920.5a3.7,3.3 0 1,0 7.4,0a3.7,3.3 0 1,0 -7.4,0M1226.7,1903.1a3.7,3.3 0 1,0 7.4,0a3.7,3.3 0 1,0 -7.4,0M1324.7,1913.7a3.7,3.3 0 1,0 7.4,0a3.7,3.3 0 1,0 -7.4,0M1316.0,1905.4a3.7,3.3 0 1,0 7.4,0a3.7,3.3 0 1,0 -7.4,0M1229.1,1898.3a3.7,3.3 0 1,0 7.4,0a3.7,3.3 0 1,0 -7.4,0M1310.2,1900.9a3.7,3.3 0 1,0 7.4,0a3.7,3.3 0 1,0 -7.4,0M1210.8,1884.2a3.7,3.3 0 1,0 7.4,0a3.7,3.3 0 1,0 -7.4,0M1292.2,1887.7a3.7,3.3 0 1,0 7.4,0a3.7,3.3 0 1,0 -7.4,0M1248.3,1893.5a3.7,3.3 0 1,0 7.4,0a3.7,3.3 0 1,0 -7.4,0M1283.7,1882.1a3.7,3.3 0 1,0 7.4,0a3.7,3.3 0 1,0 -7.4,0M1332.9,1914.7a3.7,3.3 0 1,0 7.4,0a3.7,3.3 0 1,0 -7.4,0M1274.0,1887.6a3.7,3.3 0 1,0 7.4,0a3.7,3.3 0 1,0 -7.4,0M1305.6,1888.1a3.7,3.3 0 1,0 7.4,0a3.7,3.3 0 1,0 -7.4,0M1308.8,1925.4a3.7,3.3 0 1,0 7.4,0a3.7,3.3 0 1,0 -7.4,0M1274.8,1912.2a3.7,3.3 0 1,0 7.4,0a3.7,3.3 0 1,0 -7.4,0M1279.0,1883.5a3.7,3.3 0 1,0 7.4,0a3.7,3.3 0 1,0 -7.4,0M1299.2,1923.7a3.7,3.3 0 1,0 7.4,0a3.7,3.3 0 1,0 -7.4,0M1204.3,1891.7a3.7,3.3 0 1,0 7.4,0a3.7,3.3 0 1,0 -7.4,0M1324.5,1909.7a3.7,3.3 0 1,0 7.4,0a3.7,3.3 0 1,0 -7.4,0M1276.1,1910.6a3.7,3.3 0 1,0 7.4,0a3.7,3.3 0 1,0 -7.4,0M1318.4,1923.0a3.7,3.3 0 1,0 7.4,0a3.7,3.3 0 1,0 -7.4,0M1221.2,1853.4a3.7,3.3 0 1,0 7.4,0a3.7,3.3 0 1,0 -7.4,0M1235.0,1855.2a3.7,3.3 0 1,0 7.4,0a3.7,3.3 0 1,0 -7.4,0M1311.5,1919.2a3.7,3.3 0 1,0 7.4,0a3.7,3.3 0 1,0 -7.4,0M1273.5,1871.0a3.7,3.3 0 1,0 7.4,0a3.7,3.3 0 1,0 -7.4,0M1200.4,1864.4a3.7,3.3 0 1,0 7.4,0a3.7,3.3 0 1,0 -7.4,0M1281.6,1880.9a3.7,3.3 0 1,0 7.4,0a3.7,3.3 0 1,0 -7.4,0M1342.7,1928.6a3.7,3.3 0 1,0 7.4,0a3.7,3.3 0 1,0 -7.4,0M1287.1,1900.2a3.7,3.3 0 1,0 7.4,0a3.7,3.3 0 1,0 -7.4,0M1348.5,1939.8a3.7,3.3 0 1,0 7.4,0a3.7,3.3 0 1,0 -7.4,0M1243.1,1855.5a3.7,3.3 0 1,0 7.4,0a3.7,3.3 0 1,0 -7.4,0M1312.1,1896.6a3.7,3.3 0 1,0 7.4,0a3.7,3.3 0 1,0 -7.4,0M1265.9,1893.0a3.7,3.3 0 1,0 7.4,0a3.7,3.3 0 1,0 -7.4,0M1307.2,1898.7a3.7,3.3 0 1,0 7.4,0a3.7,3.3 0 1,0 -7.4,0M1240.4,1864.6a3.7,3.3 0 1,0 7.4,0a3.7,3.3 0 1,0 -7.4,0M1204.3,1884.2a3.7,3.3 0 1,0 7.4,0a3.7,3.3 0 1,0 -7.4,0M1218.7,1883.7a3.7,3.3 0 1,0 7.4,0a3.7,3.3 0 1,0 -7.4,0M1216.1,1895.0a3.7,3.3 0 1,0 7.4,0a3.7,3.3 0 1,0 -7.4,0M1239.8,1856.8a3.7,3.3 0 1,0 7.4,0a3.7,3.3 0 1,0 -7.4,0M1226.5,1874.3a3.7,3.3 0 1,0 7.4,0a3.7,3.3 0 1,0 -7.4,0M1264.0,1872.7a3.7,3.3 0 1,0 7.4,0a3.7,3.3 0 1,0 -7.4,0M1311.0,1919.9a3.7,3.3 0 1,0 7.4,0a3.7,3.3 0 1,0 -7.4,0M1233.8,1899.9a3.7,3.3 0 1,0 7.4,0a3.7,3.3 0 1,0 -7.4,0M1268.4,1882.2a3.7,3.3 0 1,0 7.4,0a3.7,3.3 0 1,0 -7.4,0M1253.8,1895.8a3.7,3.3 0 1,0 7.4,0a3.7,3.3 0 1,0 -7.4,0M1258.3,1913.3a3.7,3.3 0 1,0 7.4,0a3.7,3.3 0 1,0 -7.4,0M1299.5,1905.4a3.7,3.3 0 1,0 7.4,0a3.7,3.3 0 1,0 -7.4,0M1278.9,1911.7a3.7,3.3 0 1,0 7.4,0a3.7,3.3 0 1,0 -7.4,0M1247.7,1872.5a3.7,3.3 0 1,0 7.4,0a3.7,3.3 0 1,0 -7.4,0M1236.8,1898.4a3.7,3.3 0 1,0 7.4,0a3.7,3.3 0 1,0 -7.4,0M1326.0,1929.6a3.7,3.3 0 1,0 7.4,0a3.7,3.3 0 1,0 -7.4,0M1288.7,1899.4a3.7,3.3 0 1,0 7.4,0a3.7,3.3 0 1,0 -7.4,0M1216.3,1850.6a3.7,3.3 0 1,0 7.4,0a3.7,3.3 0 1,0 -7.4,0M1211.6,1885.5a3.7,3.3 0 1,0 7.4,0a3.7,3.3 0 1,0 -7.4,0M1238.6,1876.6a3.7,3.3 0 1,0 7.4,0a3.7,3.3 0 1,0 -7.4,0M1320.3,1912.8a3.7,3.3 0 1,0 7.4,0a3.7,3.3 0 1,0 -7.4,0M1230.9,1900.7a3.7,3.3 0 1,0 7.4,0a3.7,3.3 0 1,0 -7.4,0M1211.9,1883.8a3.7,3.3 0 1,0 7.4,0a3.7,3.3 0 1,0 -7.4,0M1245.8,1870.9a3.7,3.3 0 1,0 7.4,0a3.7,3.3 0 1,0 -7.4,0M1201.8,1878.2a3.7,3.3 0 1,0 7.4,0a3.7,3.3 0 1,0 -7.4,0M1283.0,1895.3a3.7,3.3 0 1,0 7.4,0a3.7,3.3 0 1,0 -7.4,0M1252.5,1873.0a3.7,3.3 0 1,0 7.4,0a3.7,3.3 0 1,0 -7.4,0M1215.9,1899.4a3.7,3.3 0 1,0 7.4,0a3.7,3.3 0 1,0 -7.4,0M1313.9,1906.7a3.7,3.3 0 1,0 7.4,0a3.7,3.3 0 1,0 -7.4,0M1283.5,1887.3a3.7,3.3 0 1,0 7.4,0a3.7,3.3 0 1,0 -7.4,0M1290.2,1928.2a3.7,3.3 0 1,0 7.4,0a3.7,3.3 0 1,0 -7.4,0M1306.0,1908.2a3.7,3.3 0 1,0 7.4,0a3.7,3.3 0 1,0 -7.4,0M1260.5,1884.8a3.7,3.3 0 1,0 7.4,0a3.7,3.3 0 1,0 -7.4,0M1295.7,1918.0a3.7,3.3 0 1,0 7.4,0a3.7,3.3 0 1,0 -7.4,0M1214.5,1869.9a3.7,3.3 0 1,0 7.4,0a3.7,3.3 0 1,0 -7.4,0M1284.1,1923.4a3.7,3.3 0 1,0 7.4,0a3.7,3.3 0 1,0 -7.4,0M1295.8,1916.7a3.7,3.3 0 1,0 7.4,0a3.7,3.3 0 1,0 -7.4,0M1276.5,1897.4a3.7,3.3 0 1,0 7.4,0a3.7,3.3 0 1,0 -7.4,0M1315.8,1925.7a3.7,3.3 0 1,0 7.4,0a3.7,3.3 0 1,0 -7.4,0M1228.1,1873.5a3.7,3.3 0 1,0 7.4,0a3.7,3.3 0 1,0 -7.4,0M1287.1,1898.8a3.7,3.3 0 1,0 7.4,0a3.7,3.3 0 1,0 -7.4,0M1235.0,1889.9a3.7,3.3 0 1,0 7.4,0a3.7,3.3 0 1,0 -7.4,0M1277.7,1908.7a3.7,3.3 0 1,0 7.4,0a3.7,3.3 0 1,0 -7.4,0M1244.9,1912.4a3.7,3.3 0 1,0 7.4,0a3.7,3.3 0 1,0 -7.4,0M1278.7,1905.4a3.7,3.3 0 1,0 7.4,0a3.7,3.3 0 1,0 -7.4,0M1283.4,1914.4a3.7,3.3 0 1,0 7.4,0a3.7,3.3 0 1,0 -7.4,0M1324.0,1911.2a3.7,3.3 0 1,0 7.4,0a3.7,3.3 0 1,0 -7.4,0M1204.3,1886.7a3.7,3.3 0 1,0 7.4,0a3.7,3.3 0 1,0 -7.4,0M1316.6,1915.3a3.7,3.3 0 1,0 7.4,0a3.7,3.3 0 1,0 -7.4,0M1316.9,1924.4a3.7,3.3 0 1,0 7.4,0a3.7,3.3 0 1,0 -7.4,0M1247.0,1874.4a3.7,3.3 0 1,0 7.4,0a3.7,3.3 0 1,0 -7.4,0M1271.0,1881.7a3.7,3.3 0 1,0 7.4,0a3.7,3.3 0 1,0 -7.4,0M1227.2,1848.4a3.7,3.3 0 1,0 7.4,0a3.7,3.3 0 1,0 -7.4,0M1345.8,1931.6a3.7,3.3 0 1,0 7.4,0a3.7,3.3 0 1,0 -7.4,0M1297.3,1898.3a3.7,3.3 0 1,0 7.4,0a3.7,3.3 0 1,0 -7.4,0M1298.1,1894.9a3.7,3.3 0 1,0 7.4,0a3.7,3.3 0 1,0 -7.4,0M1234.1,1907.5a3.7,3.3 0 1,0 7.4,0a3.7,3.3 0 1,0 -7.4,0M1312.9,1929.2a3.7,3.3 0 1,0 7.4,0a3.7,3.3 0 1,0 -7.4,0M1326.4,1906.9a3.7,3.3 0 1,0 7.4,0a3.7,3.3 0 1,0 -7.4,0M1226.3,1901.4a3.7,3.3 0 1,0 7.4,0a3.7,3.3 0 1,0 -7.4,0M1222.1,1880.1a3.7,3.3 0 1,0 7.4,0a3.7,3.3 0 1,0 -7.4,0M1262.2,1917.3a3.7,3.3 0 1,0 7.4,0a3.7,3.3 0 1,0 -7.4,0M1264.9,1877.0a3.7,3.3 0 1,0 7.4,0a3.7,3.3 0 1,0 -7.4,0M1320.4,1922.0a3.7,3.3 0 1,0 7.4,0a3.7,3.3 0 1,0 -7.4,0M1220.3,1900.0a3.7,3.3 0 1,0 7.4,0a3.7,3.3 0 1,0 -7.4,0M1240.9,1907.7a3.7,3.3 0 1,0 7.4,0a3.7,3.3 0 1,0 -7.4,0M1212.6,1897.1a3.7,3.3 0 1,0 7.4,0a3.7,3.3 0 1,0 -7.4,0M1273.6,1887.2a3.7,3.3 0 1,0 7.4,0a3.7,3.3 0 1,0 -7.4,0M1316.4,1902.4a3.7,3.3 0 1,0 7.4,0a3.7,3.3 0 1,0 -7.4,0M1239.5,1867.2a3.7,3.3 0 1,0 7.4,0a3.7,3.3 0 1,0 -7.4,0M1249.0,1899.3a3.7,3.3 0 1,0 7.4,0a3.7,3.3 0 1,0 -7.4,0M1317.2,1921.5a3.7,3.3 0 1,0 7.4,0a3.7,3.3 0 1,0 -7.4,0M1267.9,1905.3a3.7,3.3 0 1,0 7.4,0a3.7,3.3 0 1,0 -7.4,0M1324.5,1905.8a3.7,3.3 0 1,0 7.4,0a3.7,3.3 0 1,0 -7.4,0M1243.3,1895.5a3.7,3.3 0 1,0 7.4,0a3.7,3.3 0 1,0 -7.4,0M1226.6,1852.8a3.7,3.3 0 1,0 7.4,0a3.7,3.3 0 1,0 -7.4,0M1197.5,1886.0a3.7,3.3 0 1,0 7.4,0a3.7,3.3 0 1,0 -7.4,0M1198.1,1885.9a3.7,3.3 0 1,0 7.4,0a3.7,3.3 0 1,0 -7.4,0M1236.6,1865.5a3.7,3.3 0 1,0 7.4,0a3.7,3.3 0 1,0 -7.4,0M1256.3,1882.1a3.7,3.3 0 1,0 7.4,0a3.7,3.3 0 1,0 -7.4,0M1230.0,1862.5a3.7,3.3 0 1,0 7.4,0a3.7,3.3 0 1,0 -7.4,0M1254.0,1896.2a3.7,3.3 0 1,0 7.4,0a3.7,3.3 0 1,0 -7.4,0M1289.6,1877.3a3.7,3.3 0 1,0 7.4,0a3.7,3.3 0 1,0 -7.4,0M1266.8,1898.5a3.7,3.3 0 1,0 7.4,0a3.7,3.3 0 1,0 -7.4,0M1220.4,1891.8a3.7,3.3 0 1,0 7.4,0a3.7,3.3 0 1,0 -7.4,0M1305.5,1916.3a3.7,3.3 0 1,0 7.4,0a3.7,3.3 0 1,0 -7.4,0M1287.0,1920.5a3.7,3.3 0 1,0 7.4,0a3.7,3.3 0 1,0 -7.4,0M1205.3,1863.1a3.7,3.3 0 1,0 7.4,0a3.7,3.3 0 1,0 -7.4,0M1231.1,1852.6a3.7,3.3 0 1,0 7.4,0a3.7,3.3 0 1,0 -7.4,0M1347.8,1932.8a3.7,3.3 0 1,0 7.4,0a3.7,3.3 0 1,0 -7.4,0M1213.0,1851.7a3.7,3.3 0 1,0 7.4,0a3.7,3.3 0 1,0 -7.4,0M1293.6,1916.5a3.7,3.3 0 1,0 7.4,0a3.7,3.3 0 1,0 -7.4,0M1336.2,1920.3a3.7,3.3 0 1,0 7.4,0a3.7,3.3 0 1,0 -7.4,0M1224.1,1862.5a3.7,3.3 0 1,0 7.4,0a3.7,3.3 0 1,0 -7.4,0M1242.4,1875.7a3.7,3.3 0 1,0 7.4,0a3.7,3.3 0 1,0 -7.4,0M1232.8,1903.2a3.7,3.3 0 1,0 7.4,0a3.7,3.3 0 1,0 -7.4,0M1252.6,1864.1a3.7,3.3 0 1,0 7.4,0a3.7,3.3 0 1,0 -7.4,0M1291.3,1896.9a3.7,3.3 0 1,0 7.4,0a3.7,3.3 0 1,0 -7.4,0M1244.9,1862.5a3.7,3.3 0 1,0 7.4,0a3.7,3.3 0 1,0 -7.4,0M1293.8,1900.6a3.7,3.3 0 1,0 7.4,0a3.7,3.3 0 1,0 -7.4,0M1263.9,1884.0a3.7,3.3 0 1,0 7.4,0a3.7,3.3 0 1,0 -7.4,0M1385.7,1919.9a3.7,3.3 0 1,0 7.4,0a3.7,3.3 0 1,0 -7.4,0M1354.5,1934.5a3.7,3.3 0 1,0 7.4,0a3.7,3.3 0 1,0 -7.4,0M1394.0,1925.7a3.7,3.3 0 1,0 7.4,0a3.7,3.3 0 1,0 -7.4,0M1366.8,1934.9a3.7,3.3 0 1,0 7.4,0a3.7,3.3 0 1,0 -7.4,0M1404.5,1915.4a3.7,3.3 0 1,0 7.4,0a3.7,3.3 0 1,0 -7.4,0M1399.9,1919.7a3.7,3.3 0 1,0 7.4,0a3.7,3.3 0 1,0 -7.4,0M1384.1,1916.2a3.7,3.3 0 1,0 7.4,0a3.7,3.3 0 1,0 -7.4,0M1389.4,1917.4a3.7,3.3 0 1,0 7.4,0a3.7,3.3 0 1,0 -7.4,0M1386.8,1931.5a3.7,3.3 0 1,0 7.4,0a3.7,3.3 0 1,0 -7.4,0M1356.9,1935.7a3.7,3.3 0 1,0 7.4,0a3.7,3.3 0 1,0 -7.4,0M1372.3,1919.0a3.7,3.3 0 1,0 7.4,0a3.7,3.3 0 1,0 -7.4,0M1386.4,1920.9a3.7,3.3 0 1,0 7.4,0a3.7,3.3 0 1,0 -7.4,0M1372.4,1933.5a3.7,3.3 0 1,0 7.4,0a3.7,3.3 0 1,0 -7.4,0M1394.8,1928.7a3.7,3.3 0 1,0 7.4,0a3.7,3.3 0 1,0 -7.4,0M1364.6,1927.7a3.7,3.3 0 1,0 7.4,0a3.7,3.3 0 1,0 -7.4,0M1407.3,1912.8a3.7,3.3 0 1,0 7.4,0a3.7,3.3 0 1,0 -7.4,0M1396.1,1930.1a3.7,3.3 0 1,0 7.4,0a3.7,3.3 0 1,0 -7.4,0M1378.7,1933.8a3.7,3.3 0 1,0 7.4,0a3.7,3.3 0 1,0 -7.4,0M1387.8,1919.8a3.7,3.3 0 1,0 7.4,0a3.7,3.3 0 1,0 -7.4,0M1390.6,1927.3a3.7,3.3 0 1,0 7.4,0a3.7,3.3 0 1,0 -7.4,0M1378.4,1927.2a3.7,3.3 0 1,0 7.4,0a3.7,3.3 0 1,0 -7.4,0M1395.9,1914.6a3.7,3.3 0 1,0 7.4,0a3.7,3.3 0 1,0 -7.4,0M1375.8,1925.1a3.7,3.3 0 1,0 7.4,0a3.7,3.3 0 1,0 -7.4,0M1380.1,1924.1a3.7,3.3 0 1,0 7.4,0a3.7,3.3 0 1,0 -7.4,0M1395.7,1918.5a3.7,3.3 0 1,0 7.4,0a3.7,3.3 0 1,0 -7.4,0M1390.2,1928.9a3.7,3.3 0 1,0 7.4,0a3.7,3.3 0 1,0 -7.4,0M1365.1,1928.0a3.7,3.3 0 1,0 7.4,0a3.7,3.3 0 1,0 -7.4,0M1373.4,1930.8a3.7,3.3 0 1,0 7.4,0a3.7,3.3 0 1,0 -7.4,0M1382.5,1916.5a3.7,3.3 0 1,0 7.4,0a3.7,3.3 0 1,0 -7.4,0M1389.0,1916.1a3.7,3.3 0 1,0 7.4,0a3.7,3.3 0 1,0 -7.4,0M1405.3,1915.7a3.7,3.3 0 1,0 7.4,0a3.7,3.3 0 1,0 -7.4,0M1380.3,1923.4a3.7,3.3 0 1,0 7.4,0a3.7,3.3 0 1,0 -7.4,0M1389.5,1923.2a3.7,3.3 0 1,0 7.4,0a3.7,3.3 0 1,0 -7.4,0M1372.9,1919.9a3.7,3.3 0 1,0 7.4,0a3.7,3.3 0 1,0 -7.4,0M1355.4,1933.2a3.7,3.3 0 1,0 7.4,0a3.7,3.3 0 1,0 -7.4,0M1379.0,1936.2a3.7,3.3 0 1,0 7.4,0a3.7,3.3 0 1,0 -7.4,0M1387.9,1918.8a3.7,3.3 0 1,0 7.4,0a3.7,3.3 0 1,0 -7.4,0M1363.9,1936.8a3.7,3.3 0 1,0 7.4,0a3.7,3.3 0 1,0 -7.4,0M1364.9,1941.3a3.7,3.3 0 1,0 7.4,0a3.7,3.3 0 1,0 -7.4,0M1365.5,1936.5a3.7,3.3 0 1,0 7.4,0a3.7,3.3 0 1,0 -7.4,0M1367.4,1939.3a3.7,3.3 0 1,0 7.4,0a3.7,3.3 0 1,0 -7.4,0M1365.0,1928.2a3.7,3.3 0 1,0 7.4,0a3.7,3.3 0 1,0 -7.4,0M1369.4,1927.8a3.7,3.3 0 1,0 7.4,0a3.7,3.3 0 1,0 -7.4,0M1369.5,1921.3a3.7,3.3 0 1,0 7.4,0a3.7,3.3 0 1,0 -7.4,0M1373.3,1938.1a3.7,3.3 0 1,0 7.4,0a3.7,3.3 0 1,0 -7.4,0M1392.0,1930.1a3.7,3.3 0 1,0 7.4,0a3.7,3.3 0 1,0 -7.4,0M1402.2,1913.3a3.7,3.3 0 1,0 7.4,0a3.7,3.3 0 1,0 -7.4,0M1403.3,1920.2a3.7,3.3 0 1,0 7.4,0a3.7,3.3 0 1,0 -7.4,0M1383.4,1915.9a3.7,3.3 0 1,0 7.4,0a3.7,3.3 0 1,0 -7.4,0M1373.4,1926.8a3.7,3.3 0 1,0 7.4,0a3.7,3.3 0 1,0 -7.4,0M1407.0,1913.0a3.7,3.3 0 1,0 7.4,0a3.7,3.3 0 1,0 -7.4,0M1384.7,1927.6a3.7,3.3 0 1,0 7.4,0a3.7,3.3 0 1,0 -7.4,0M1399.2,1915.2a3.7,3.3 0 1,0 7.4,0a3.7,3.3 0 1,0 -7.4,0M1403.3,1912.9a3.7,3.3 0 1,0 7.4,0a3.7,3.3 0 1,0 -7.4,0M1364.8,1928.0a3.7,3.3 0 1,0 7.4,0a3.7,3.3 0 1,0 -7.4,0M1375.7,1927.9a3.7,3.3 0 1,0 7.4,0a3.7,3.3 0 1,0 -7.4,0M1381.9,1922.7a3.7,3.3 0 1,0 7.4,0a3.7,3.3 0 1,0 -7.4,0M1378.0,1929.0a3.7,3.3 0 1,0 7.4,0a3.7,3.3 0 1,0 -7.4,0M1363.8,1939.1a3.7,3.3 0 1,0 7.4,0a3.7,3.3 0 1,0 -7.4,0M1379.7,1935.4a3.7,3.3 0 1,0 7.4,0a3.7,3.3 0 1,0 -7.4,0M1382.4,1932.7a3.7,3.3 0 1,0 7.4,0a3.7,3.3 0 1,0 -7.4,0M1406.7,1921.4a3.7,3.3 0 1,0 7.4,0a3.7,3.3 0 1,0 -7.4,0M1392.7,1914.2a3.7,3.3 0 1,0 7.4,0a3.7,3.3 0 1,0 -7.4,0M1355.1,1941.7a3.7,3.3 0 1,0 7.4,0a3.7,3.3 0 1,0 -7.4,0M1374.8,1938.3a3.7,3.3 0 1,0 7.4,0a3.7,3.3 0 1,0 -7.4,0M1398.8,1928.1a3.7,3.3 0 1,0 7.4,0a3.7,3.3 0 1,0 -7.4,0M1399.6,1922.6a3.7,3.3 0 1,0 7.4,0a3.7,3.3 0 1,0 -7.4,0M1382.3,1914.8a3.7,3.3 0 1,0 7.4,0a3.7,3.3 0 1,0 -7.4,0M1385.0,1923.9a3.7,3.3 0 1,0 7.4,0a3.7,3.3 0 1,0 -7.4,0M1387.8,1933.6a3.7,3.3 0 1,0 7.4,0a3.7,3.3 0 1,0 -7.4,0M1401.7,1919.2a3.7,3.3 0 1,0 7.4,0a3.7,3.3 0 1,0 -7.4,0M1397.4,1918.3a3.7,3.3 0 1,0 7.4,0a3.7,3.3 0 1,0 -7.4,0M1387.8,1914.9a3.7,3.3 0 1,0 7.4,0a3.7,3.3 0 1,0 -7.4,0M1380.3,1915.2a3.7,3.3 0 1,0 7.4,0a3.7,3.3 0 1,0 -7.4,0M1389.6,1913.9a3.7,3.3 0 1,0 7.4,0a3.7,3.3 0 1,0 -7.4,0M1396.5,1929.3a3.7,3.3 0 1,0 7.4,0a3.7,3.3 0 1,0 -7.4,0M1400.7,1924.9a3.7,3.3 0 1,0 7.4,0a3.7,3.3 0 1,0 -7.4,0M1376.8,1938.8a3.7,3.3 0 1,0 7.4,0a3.7,3.3 0 1,0 -7.4,0M1360.8,1942.8a3.7,3.3 0 1,0 7.4,0a3.7,3.3 0 1,0 -7.4,0M1353.0,1940.2a3.7,3.3 0 1,0 7.4,0a3.7,3.3 0 1,0 -7.4,0M1395.6,1922.2a3.7,3.3 0 1,0 7.4,0a3.7,3.3 0 1,0 -7.4,0M1393.5,1917.5a3.7,3.3 0 1,0 7.4,0a3.7,3.3 0 1,0 -7.4,0M1429.5,1912.2a3.7,3.3 0 1,0 7.4,0a3.7,3.3 0 1,0 -7.4,0M1432.5,1920.4a3.7,3.3 0 1,0 7.4,0a3.7,3.3 0 1,0 -7.4,0M1433.7,1923.6a3.7,3.3 0 1,0 7.4,0a3.7,3.3 0 1,0 -7.4,0M1420.7,1914.0a3.7,3.3 0 1,0 7.4,0a3.7,3.3 0 1,0 -7.4,0M1439.6,1911.2a3.7,3.3 0 1,0 7.4,0a3.7,3.3 0 1,0 -7.4,0M1416.5,1911.9a3.7,3.3 0 1,0 7.4,0a3.7,3.3 0 1,0 -7.4,0M1429.6,1907.5a3.7,3.3 0 1,0 7.4,0a3.7,3.3 0 1,0 -7.4,0M1432.4,1923.3a3.7,3.3 0 1,0 7.4,0a3.7,3.3 0 1,0 -7.4,0M1418.4,1911.4a3.7,3.3 0 1,0 7.4,0a3.7,3.3 0 1,0 -7.4,0M1437.5,1912.7a3.7,3.3 0 1,0 7.4,0a3.7,3.3 0 1,0 -7.4,0M1432.8,1922.7a3.7,3.3 0 1,0 7.4,0a3.7,3.3 0 1,0 -7.4,0M1444.3,1912.3a3.7,3.3 0 1,0 7.4,0a3.7,3.3 0 1,0 -7.4,0M1439.9,1908.9a3.7,3.3 0 1,0 7.4,0a3.7,3.3 0 1,0 -7.4,0M1435.1,1909.2a3.7,3.3 0 1,0 7.4,0a3.7,3.3 0 1,0 -7.4,0M1423.8,1920.2a3.7,3.3 0 1,0 7.4,0a3.7,3.3 0 1,0 -7.4,0M1439.5,1921.2a3.7,3.3 0 1,0 7.4,0a3.7,3.3 0 1,0 -7.4,0M1413.7,1913.8a3.7,3.3 0 1,0 7.4,0a3.7,3.3 0 1,0 -7.4,0M1435.0,1917.1a3.7,3.3 0 1,0 7.4,0a3.7,3.3 0 1,0 -7.4,0M1418.5,1913.1a3.7,3.3 0 1,0 7.4,0a3.7,3.3 0 1,0 -7.4,0M1441.8,1912.0a3.7,3.3 0 1,0 7.4,0a3.7,3.3 0 1,0 -7.4,0"/>
<line x1="1103.9" y1="1770.8" x2="1103.9" y2="1776.8" stroke="#aaa" stroke-width="0.9"/>
<text x="1078.6" y="1762.0" font-family="'DejaVu Sans', Verdana, sans-serif" font-size="13.6" text-anchor="start" fill="#222">COL1A1</text>
<line x1="1223.6" y1="1786" x2="1233.5" y2="1855" stroke="#aaa" stroke-width="0.9"/>
<text x="1197.6" y="1778.5" font-family="'DejaVu Sans', Verdana, sans-serif" font-size="13.6" text-anchor="start" fill="#222">YWHAZ</text>
<line x1="1612.4" y1="1715.4" x2="1619" y2="1712.8" stroke="#aaa" stroke-width="0.9"/>
<text x="1625.9" y="1708.0" font-family="'DejaVu Sans', Verdana, sans-serif" font-size="13.6" text-anchor="start" fill="#222">FN1</text>
<line x1="1656.3" y1="1811.8" x2="1661.8" y2="1810.3" stroke="#aaa" stroke-width="0.9"/>
<text x="1668.9" y="1803.9" font-family="'DejaVu Sans', Verdana, sans-serif" font-size="13.6" text-anchor="start" fill="#222">COL4A1</text>
<line x1="1616.2" y1="1826.7" x2="1619" y2="1824.3" stroke="#aaa" stroke-width="0.9"/>
<text x="1614.7" y="1816.1" font-family="'DejaVu Sans', Verdana, sans-serif" font-size="13.6" text-anchor="start" fill="#222">FGB</text>
<text x="1624.2" y="1840.3" font-family="'DejaVu Sans', Verdana, sans-serif" font-size="13.6" text-anchor="start" fill="#222">F5</text>
<line x1="1526.7" y1="1835.5" x2="1533.2" y2="1833.2" stroke="#aaa" stroke-width="0.9"/>
<text x="1540.7" y="1827.6" font-family="'DejaVu Sans', Verdana, sans-serif" font-size="13.6" text-anchor="start" fill="#222">ITGA5</text>
<rect x="992.5" y="1512" width="773.9" height="453.4" fill="none" stroke="#555" stroke-width="1.4"/>
<line x1="1010.5" y1="1965.4" x2="1010.5" y2="1960.9" stroke="#555" stroke-width="1.2"/>
<text x="1010.5" y="1978.3" font-family="'DejaVu Sans', Verdana, sans-serif" font-size="13.3" text-anchor="middle" fill="#222">−5.0</text>
<line x1="1186.5" y1="1965.4" x2="1186.5" y2="1960.9" stroke="#555" stroke-width="1.2"/>
<text x="1186.5" y="1978.3" font-family="'DejaVu Sans', Verdana, sans-serif" font-size="13.3" text-anchor="middle" fill="#222">−2.5</text>
<line x1="1362.5" y1="1965.4" x2="1362.5" y2="1960.9" stroke="#555" stroke-width="1.2"/>
<text x="1362.5" y="1978.3" font-family="'DejaVu Sans', Verdana, sans-serif" font-size="13.3" text-anchor="middle" fill="#222">0.0</text>
<line x1="1538.5" y1="1965.4" x2="1538.5" y2="1960.9" stroke="#555" stroke-width="1.2"/>
<text x="1538.5" y="1978.3" font-family="'DejaVu Sans', Verdana, sans-serif" font-size="13.3" text-anchor="middle" fill="#222">2.5</text>
<line x1="1714.5" y1="1965.4" x2="1714.5" y2="1960.9" stroke="#555" stroke-width="1.2"/>
<text x="1714.5" y="1978.3" font-family="'DejaVu Sans', Verdana, sans-serif" font-size="13.3" text-anchor="middle" fill="#222">5.0</text>
<line x1="992.5" y1="1941.2" x2="997.3" y2="1941.2" stroke="#555" stroke-width="1.2"/>
<text x="988.2" y="1946.2" font-family="'DejaVu Sans', Verdana, sans-serif" font-size="13.3" text-anchor="end" fill="#222">0.0</text>
<line x1="992.5" y1="1850.0" x2="997.3" y2="1850.0" stroke="#555" stroke-width="1.2"/>
<text x="988.2" y="1855.0" font-family="'DejaVu Sans', Verdana, sans-serif" font-size="13.3" text-anchor="end" fill="#222">1.5</text>
<line x1="992.5" y1="1758.8" x2="997.3" y2="1758.8" stroke="#555" stroke-width="1.2"/>
<text x="988.2" y="1763.8" font-family="'DejaVu Sans', Verdana, sans-serif" font-size="13.3" text-anchor="end" fill="#222">3.0</text>
<line x1="992.5" y1="1667.6" x2="997.3" y2="1667.6" stroke="#555" stroke-width="1.2"/>
<text x="988.2" y="1672.6" font-family="'DejaVu Sans', Verdana, sans-serif" font-size="13.3" text-anchor="end" fill="#222">4.5</text>
<line x1="992.5" y1="1576.4" x2="997.3" y2="1576.4" stroke="#555" stroke-width="1.2"/>
<text x="988.2" y="1581.4" font-family="'DejaVu Sans', Verdana, sans-serif" font-size="13.3" text-anchor="end" fill="#222">6.0</text>
<text x="1281.5" y="2017.1" font-family="'Liberation Sans', Arial, sans-serif" font-size="32" font-weight="bold" text-anchor="start" fill="#000" textLength="191.65" lengthAdjust="spacingAndGlyphs">Fold change</text>
<text transform="translate(946.9,1721.3) rotate(-90)" font-family="'Liberation Sans', Arial, sans-serif" font-size="29" font-weight="bold" text-anchor="middle" textLength="163" lengthAdjust="spacingAndGlyphs">-log <tspan font-style="italic">p</tspan>-value</text>
</svg>
</body></html>
